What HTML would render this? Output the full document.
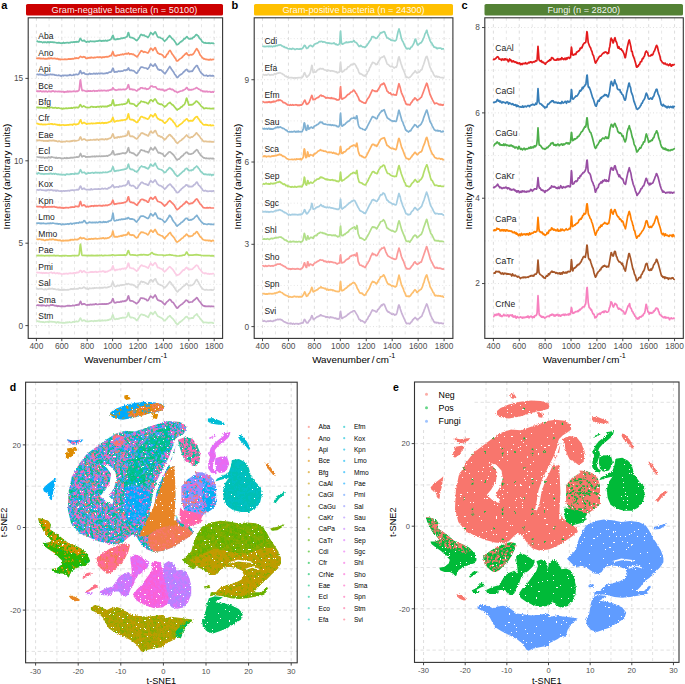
<!DOCTYPE html><html><head><meta charset="utf-8"><style>html,body{margin:0;padding:0;background:#fff;}svg{display:block;}text{font-family:"Liberation Sans", sans-serif;}</style></head><body>
<svg width="685" height="684" viewBox="0 0 685 684">
<rect width="685" height="684" fill="#fff"/>
<line x1="36.40" y1="17.8" x2="36.40" y2="338.4" stroke="#D4D4D4" stroke-width="0.8" stroke-dasharray="3,3.4"/>
<line x1="49.10" y1="17.8" x2="49.10" y2="338.4" stroke="#E0E0E0" stroke-width="0.8" stroke-dasharray="3,3.4"/>
<line x1="61.80" y1="17.8" x2="61.80" y2="338.4" stroke="#D4D4D4" stroke-width="0.8" stroke-dasharray="3,3.4"/>
<line x1="74.50" y1="17.8" x2="74.50" y2="338.4" stroke="#E0E0E0" stroke-width="0.8" stroke-dasharray="3,3.4"/>
<line x1="87.20" y1="17.8" x2="87.20" y2="338.4" stroke="#D4D4D4" stroke-width="0.8" stroke-dasharray="3,3.4"/>
<line x1="99.90" y1="17.8" x2="99.90" y2="338.4" stroke="#E0E0E0" stroke-width="0.8" stroke-dasharray="3,3.4"/>
<line x1="112.60" y1="17.8" x2="112.60" y2="338.4" stroke="#D4D4D4" stroke-width="0.8" stroke-dasharray="3,3.4"/>
<line x1="125.30" y1="17.8" x2="125.30" y2="338.4" stroke="#E0E0E0" stroke-width="0.8" stroke-dasharray="3,3.4"/>
<line x1="138.00" y1="17.8" x2="138.00" y2="338.4" stroke="#D4D4D4" stroke-width="0.8" stroke-dasharray="3,3.4"/>
<line x1="150.70" y1="17.8" x2="150.70" y2="338.4" stroke="#E0E0E0" stroke-width="0.8" stroke-dasharray="3,3.4"/>
<line x1="163.40" y1="17.8" x2="163.40" y2="338.4" stroke="#D4D4D4" stroke-width="0.8" stroke-dasharray="3,3.4"/>
<line x1="176.10" y1="17.8" x2="176.10" y2="338.4" stroke="#E0E0E0" stroke-width="0.8" stroke-dasharray="3,3.4"/>
<line x1="188.80" y1="17.8" x2="188.80" y2="338.4" stroke="#D4D4D4" stroke-width="0.8" stroke-dasharray="3,3.4"/>
<line x1="201.50" y1="17.8" x2="201.50" y2="338.4" stroke="#E0E0E0" stroke-width="0.8" stroke-dasharray="3,3.4"/>
<line x1="214.20" y1="17.8" x2="214.20" y2="338.4" stroke="#D4D4D4" stroke-width="0.8" stroke-dasharray="3,3.4"/>
<line x1="28.2" y1="325.60" x2="222.6" y2="325.60" stroke="#D4D4D4" stroke-width="0.8" stroke-dasharray="0.9,2.4"/>
<line x1="28.2" y1="243.20" x2="222.6" y2="243.20" stroke="#D4D4D4" stroke-width="0.8" stroke-dasharray="0.9,2.4"/>
<line x1="28.2" y1="160.80" x2="222.6" y2="160.80" stroke="#D4D4D4" stroke-width="0.8" stroke-dasharray="0.9,2.4"/>
<line x1="28.2" y1="78.40" x2="222.6" y2="78.40" stroke="#D4D4D4" stroke-width="0.8" stroke-dasharray="0.9,2.4"/>
<line x1="28.2" y1="284.40" x2="222.6" y2="284.40" stroke="#E0E0E0" stroke-width="0.8" stroke-dasharray="0.9,2.4"/>
<line x1="28.2" y1="202.00" x2="222.6" y2="202.00" stroke="#E0E0E0" stroke-width="0.8" stroke-dasharray="0.9,2.4"/>
<line x1="28.2" y1="119.60" x2="222.6" y2="119.60" stroke="#E0E0E0" stroke-width="0.8" stroke-dasharray="0.9,2.4"/>
<line x1="28.2" y1="37.20" x2="222.6" y2="37.20" stroke="#E0E0E0" stroke-width="0.8" stroke-dasharray="0.9,2.4"/>
<rect x="26" y="4" width="197" height="11.5" rx="1.6" fill="#CC0000"/>
<text x="124.5" y="13.1" font-size="9.2" fill="#fff" fill-opacity="0.95" text-anchor="middle">Gram-negative bacteria (n = 50100)</text>
<text x="1.2" y="8.7" font-size="11" font-weight="bold" fill="#000">a</text>
<path d="M36.4 41.3l.6 .0l.4 -.2l.6 .6l.9 .2l1.0 -.2l.6 .2l1.0 .0l1.3 .8l.6 -.5l.6 .0l.7 .3l.6 -.5l.3 .0l1.3 .7l.9 -.8l1.6 .7l.7 -.7l.6 .3l1.9 -.1l.6 .3l1.0 -.2l2.2 .6l.3 -.1l.7 .2l1.5 -.3l1.6 .6l1.3 .0l.3 -.2l.7 .2l.6 -.7l.9 .6l1.0 -.3l1.9 -.2l1.0 .0l.3 .4l.3 .0l.9 -.5l.7 .1l.6 -.6l1.0 .3l2.2 -.4l.6 .3l.7 -.4l.6 .3l.6 -.5l1.0 .2l.9 .0l.3 -.3l1.3 -3.1l.3 .0l1.3 2.3l1.0 .2l.9 -.3l.3 -.4l.3 .1l.7 1.0l1.6 .9l.9 -.8l1.0 .4l.3 -.2l.3 .2l.3 .0l.7 -.6l.6 .0l.6 .2l.7 -.1l.6 .2l.6 -.2l1.0 .3l.6 -.2l.7 .0l.9 -.4l1.3 .2l1.6 -.8l.6 .5l1.0 -.3l.6 .5l1.9 -.5l.9 .4l1.3 -.7l.6 .6l.7 -.2l.6 .1l.7 -.5l1.2 -.2l1.3 -.7l.9 -1.0l.7 -2.0l.6 -1.1l.3 .6l1.0 3.6l.6 -.3l.7 .4l1.9 -.7l.6 .4l.6 -.4l1.6 -.1l.7 -.5l.9 -.1l.6 .2l.4 -.4l.3 -.1l.3 .2l.6 -.3l.7 .1l.3 -.4l.6 -.1l1.0 -.7l.3 .0l.3 -.4l1.0 -3.7l.3 .0l.3 .9l.9 3.6l1.6 .6l.7 -.1l.6 .3l.3 .0l.7 .6l.6 .1l.9 .7l.7 .8l.9 .5l.3 -.1l1.0 -1.2l1.3 -1.8l.9 -2.0l1.0 -1.1l.6 .3l.6 .6l1.6 -.2l.4 .2l.6 .7l1.9 .6l.9 .9l.7 -.6l.9 -1.5l1.3 -2.8l.6 .4l1.6 1.7l.3 -.2l1.3 -2.0l.6 -.6l.4 .2l2.2 4.9l.6 .1l.7 .5l.6 -.3l.3 .1l1.3 1.0l1.2 .1l1.0 1.5l1.3 1.3l.6 -.9l1.3 -.9l1.2 -1.9l.7 -.5l.9 -1.4l.4 .0l.6 1.1l.9 .6l.7 1.2l.6 .2l.6 .8l.4 .1l1.9 2.7l.9 1.8l.7 .5l1.5 -.8l2.3 -2.4l.6 .2l.6 -.9l.7 -.4l1.2 -1.7l.7 .1l2.2 -2.2l.3 .3l.6 1.0l1.6 1.1l1.0 .0l.6 -.6l1.0 .3l.3 -.2l.9 -1.3l.7 .0l.3 -.2l1.6 -2.1l.9 -.4l.7 .9l.9 .5l1.0 2.3l1.9 1.7l.9 1.8l1.6 .9l.3 .3l.7 .1l.6 -.4l.6 .6l1.6 -.1l.7 .2l.6 -.4l1.3 .5l1.6 -.4l1.5 .4l.4 .0l.6 -.5" fill="none" stroke="#66C2A5" stroke-width="1.7" stroke-linejoin="round"/>
<text x="38.3" y="39.0" font-size="8.5" fill="#1a1a1a">Aba</text>
<path d="M36.4 57.8l.6 .5l2.3 -.1l.6 .4l.9 -.2l.7 .3l1.3 .0l.6 -.3l1.6 .6l.6 -.3l1.3 .2l.9 -.2l.7 -.5l.9 .5l.7 -.5l.6 .3l.6 -.5l1.6 .7l1.3 -.4l2.5 .6l1.0 -.4l.9 1.0l1.0 -.4l.6 .6l.6 -.4l1.3 .2l.7 -.1l.9 .1l1.3 -.4l.6 .3l1.9 -.1l1.3 -.4l.6 .3l.7 -.3l1.2 .2l.7 -.4l1.2 .2l1.0 -.5l.6 .1l.3 -.4l.4 .0l.3 .3l.6 -.5l.6 .4l.4 -.1l.9 .1l2.2 -1.9l1.6 1.0l1.6 -.7l.6 .5l.7 -.2l.9 1.3l1.0 .1l2.5 -.8l.3 .0l.4 .4l.3 .0l.6 -.8l.6 .5l.7 -.2l1.3 .3l.6 -.4l.9 .2l2.3 -.6l.3 .0l.6 .5l1.0 -.4l.9 .1l.7 -.1l.6 .7l.6 -.2l.7 -.6l.6 .3l.3 -.2l.6 .2l.4 -.3l1.9 -.3l.9 .3l.3 -.4l.7 .1l.3 -.1l1.6 -1.1l.6 .3l.3 -.2l1.3 -3.5l.3 -.4l1.0 3.2l.3 .7l.3 .1l.6 -.1l.4 .2l.9 .1l.3 -.5l.7 -.1l.3 -.3l1.6 .2l1.2 -.6l1.3 .0l.6 -.5l1.3 .5l1.0 -.7l.9 .1l.7 -.6l.9 .5l.3 .0l1.0 -.9l1.2 1.3l.7 -.5l.6 .2l.6 -.2l.7 .7l.9 -.4l.7 .6l1.9 1.3l.3 .0l.6 .8l.3 .0l.7 -.7l3.5 -5.5l.6 .5l.6 -.1l.7 .9l.6 .4l1.0 -.6l2.5 1.1l1.0 .1l2.5 -4.7l.3 .1l.3 .4l1.0 .7l.6 1.1l2.2 -2.9l.4 .3l.9 2.7l.6 .8l.7 1.7l.6 .1l1.6 1.0l.6 -.1l2.3 1.2l.9 1.4l1.0 .7l.6 -.1l1.9 -3.3l.6 -.1l1.0 -2.4l1.0 -1.0l.3 -.1l.9 1.5l1.3 2.4l.9 1.0l1.3 2.1l1.3 1.6l.6 1.7l.3 .3l1.0 -.1l1.9 -1.8l1.6 -1.0l1.3 -1.1l.9 -1.2l.6 -.4l.7 -1.0l.6 -.2l1.3 -1.3l.9 1.6l1.6 1.0l1.0 -.7l.9 -.3l.7 .4l.9 -.4l.6 -.5l1.0 -1.3l1.6 -2.8l.9 -1.3l1.6 2.3l1.9 4.3l1.0 .9l.6 1.1l.7 .4l1.2 1.4l.7 -.3l.9 .6l1.3 .0l.6 .4l.3 -.1l.7 .2l.6 -.1l.6 .3l.7 -.8l.9 .6l1.0 -.1l.6 -.3l1.0 .1l.6 -.2" fill="none" stroke="#FC8D62" stroke-width="1.7" stroke-linejoin="round"/>
<text x="38.3" y="55.5" font-size="8.5" fill="#1a1a1a">Ano</text>
<path d="M36.4 74.3l.6 .2l.4 -.2l.6 .3l.3 -.1l.6 .3l1.0 -.7l.6 .6l1.3 -.1l.6 .3l1.0 .1l1.6 .3l.3 .0l.6 -.5l.3 -.1l.4 .4l.3 -.1l.6 -.5l.6 .3l.7 -.2l.9 .1l.7 -.5l1.2 .4l.7 -.2l.6 .3l1.0 -.1l1.2 .6l1.0 -.2l.6 .4l1.0 .1l.6 -.3l1.9 .4l.3 .3l.7 -.2l.3 .3l.9 -.6l.4 .0l.6 .4l.3 -.4l.3 -.1l.3 .2l1.3 -.2l.6 .3l1.0 -.2l.6 .2l.4 -.2l.9 -.1l.6 -.6l.4 -.1l.6 .6l.3 .1l2.2 -.2l.7 -.6l.6 .5l1.6 -.8l1.3 .4l.9 -.2l.6 -.5l1.3 -3.1l.3 -.1l1.0 2.6l.3 .4l.6 -.7l.7 .2l.6 -.5l.3 .0l1.0 1.3l.6 .0l.3 .2l.7 .0l.6 .3l.3 -.2l.7 .2l.6 -.5l.3 .0l.6 -.7l1.0 .8l.6 -.3l.7 .2l.9 -.2l.7 -.4l.6 .4l.6 -.3l.7 .4l1.2 -.5l1.0 .5l.6 -.5l1.0 -.1l.6 .5l1.0 -.6l.6 .3l.6 -.2l.7 .3l.9 -.1l.3 .1l1.3 -.4l.6 .2l.7 -.5l.6 .4l.3 .0l1.6 -1.0l.6 -.2l1.3 .0l.3 -.4l1.0 -2.4l.6 -1.1l.3 .4l1.0 3.2l.3 .3l1.9 -.4l.6 .3l1.6 -1.0l1.3 .4l1.3 -.3l.9 .1l1.3 -.5l.9 -.7l1.0 .1l.3 .2l.3 .0l.7 -.6l.6 .3l.3 -.2l.7 -1.7l.3 -.2l1.2 2.4l1.9 -.2l.7 .5l.6 -.1l1.0 .3l1.6 1.7l.3 .1l.6 .6l.3 .1l1.0 -1.0l.6 -1.6l.7 -.2l.9 -2.0l.6 -.6l.4 -.7l.3 -.2l.3 .2l.6 .0l1.3 .3l1.0 .5l1.2 .0l1.0 .3l.9 .8l.3 .0l1.6 -2.2l1.0 -2.6l.3 -.3l.6 .9l1.9 1.3l.4 -.2l.9 -1.5l.6 -.6l1.0 2.0l.6 .7l.7 1.8l.6 .9l.3 .3l.7 -.2l.6 .8l.6 -.4l1.0 .3l2.5 2.5l.7 .9l.6 .3l2.2 -3.2l1.0 -1.7l1.6 -2.4l.6 1.1l.6 .7l.7 1.3l2.2 3.0l.9 1.9l.7 .4l1.2 2.1l.7 .5l.3 .0l1.6 -2.1l.6 -.2l.6 -.6l.7 -.2l1.3 -1.1l1.2 -1.6l.7 -.1l.9 -1.4l1.3 -.8l.3 .0l.3 .4l.6 1.2l.7 .2l.6 .6l.7 -.4l1.2 .0l.7 -.3l.6 .2l2.5 -3.9l.7 -.5l.6 -1.0l.6 -.4l.7 .3l.6 1.7l1.0 1.4l.6 1.7l1.3 2.0l1.2 1.3l.7 .3l.9 1.2l1.6 .2l.6 -.1l.7 -.3l.9 1.0l.3 -.1l.4 -.3l.6 .1l.6 -.4l.7 -.1l.6 .6l.6 -.3l.7 .2l.6 -.4l.6 .5l1.0 -.2" fill="none" stroke="#8DA0CB" stroke-width="1.7" stroke-linejoin="round"/>
<text x="38.3" y="72.0" font-size="8.5" fill="#1a1a1a">Api</text>
<path d="M36.4 90.8l1.0 .7l.6 -.3l1.6 .2l.6 -.5l.3 .0l1.0 .7l.6 -.2l.7 .3l.6 -.5l.6 .4l.7 -.2l.6 .2l.9 -.5l.4 .4l.9 .4l1.0 -.7l.6 .3l.3 -.2l.7 .3l.9 -.2l.6 .2l.7 -.6l.9 -.1l1.6 .9l1.0 -.6l1.9 .5l.6 -.4l.6 .3l1.0 -.2l1.3 .4l1.2 -.1l.4 .1l.6 -.3l.9 .8l.7 -.4l1.9 -.3l.3 .2l.6 -.6l.7 .6l.9 -.5l.7 .4l.6 -.3l.9 .2l1.0 -.2l.6 -.2l1.3 .1l1.0 .3l.6 -.4l1.3 .2l.6 -.6l.6 .1l.3 -.5l.4 -1.3l.9 -8.5l.3 -.7l1.0 7.7l.6 2.9l.3 .1l1.0 -.2l.6 .1l1.9 .8l1.0 -.2l.9 .2l.7 -.5l.6 .4l1.3 -.3l1.6 .4l1.6 -.8l1.2 .8l1.3 -.5l.9 .3l.7 -.3l.6 -.1l.3 -.3l.3 .0l.7 .5l1.9 -.5l1.3 .4l.6 -.3l.6 -.1l2.6 .4l.9 -.4l.7 .4l1.2 -.7l.7 .0l.6 -.6l.6 .3l1.0 -.8l.6 -1.3l1.3 1.9l1.3 .2l.6 .5l.6 -.3l1.0 .0l.6 -.6l.7 .2l1.2 -.2l.7 .3l.9 .0l1.3 -.5l1.2 .4l2.0 -.6l.6 -.8l.3 -.1l1.0 -3.3l.3 -.1l1.2 4.6l.4 .2l.9 -.5l1.0 .6l.6 -.3l.6 .5l.4 -.2l.9 .0l1.9 1.3l1.0 -.3l.6 -.9l.6 -.4l.4 -.1l.3 .2l.3 .0l.6 -1.1l.7 -.5l.3 .0l.3 .2l.6 -.3l.7 .8l.6 -.2l1.3 .4l.6 -.6l1.3 1.2l.6 -.3l.6 .2l1.0 -.7l.6 -.1l1.3 -2.2l.3 -.2l1.0 .0l1.2 1.0l1.9 -.2l.4 .1l.6 .4l.6 1.1l1.0 .7l.6 .2l1.0 -.1l.9 .2l.7 .5l1.2 -.7l1.0 1.1l.6 -.1l.7 .6l.3 .0l.6 -.6l.6 .2l.4 .0l1.2 -1.1l1.3 -.3l1.0 -.6l.6 .7l.9 .5l.7 -.3l.3 .0l1.9 1.4l.6 .7l1.0 -.1l1.6 1.3l1.6 -.9l.6 -.1l1.3 -.6l1.2 .0l.7 -.8l.9 .1l.7 -.8l.9 -.3l1.3 -1.6l.3 -.1l.3 .3l1.0 1.8l.6 .3l.6 -.3l1.0 .4l.3 -.3l.3 -.1l.3 .3l.7 -.3l1.2 -.2l.4 -.4l1.2 -.3l.4 -.3l1.5 -.8l1.9 1.5l1.3 .4l1.0 1.2l.6 -.1l1.0 .5l.6 .6l.6 -.6l.7 .6l.6 -.3l.9 .4l1.0 -.6l.3 .1l.6 .6l2.0 -.4l.9 .7l1.0 -.1l.6 -.4l.9 .5l.7 -.5l.3 .3" fill="none" stroke="#E78AC3" stroke-width="1.7" stroke-linejoin="round"/>
<text x="38.3" y="88.5" font-size="8.5" fill="#1a1a1a">Bce</text>
<path d="M36.4 107.2l1.0 .2l.6 .4l.6 -.4l.7 .2l.9 -.1l.6 .3l1.0 -.3l1.0 .5l.9 -.1l.6 -.3l1.3 .4l.6 -.2l.7 .5l.9 -1.0l1.3 .5l.6 .0l1.0 -.3l1.3 -.1l.6 .5l.6 -.1l1.0 .2l1.2 -.5l1.0 .6l1.3 .0l.6 -.3l2.2 .7l.7 -.2l1.2 .7l1.0 -.7l.6 .4l.3 -.2l1.9 -.3l1.3 .3l1.0 -.4l.9 -.1l.7 .2l.6 -.1l.6 -.4l.7 .5l.3 .0l.9 -.6l1.0 .1l.6 -.3l.7 .4l.9 -.5l1.0 .4l.3 -.3l.6 .3l.6 -.7l1.0 -1.9l.3 -.4l.3 -.1l1.3 2.3l.6 .0l1.3 -1.0l2.5 1.6l1.3 -.1l.3 .2l2.3 -.2l.9 -.9l.3 .0l1.0 .1l.9 .6l.7 -.4l.6 .2l1.0 .1l.6 -.2l.6 .2l.7 -.5l.6 .2l.9 -.2l.7 .3l.9 -.6l.4 .0l.6 .7l.6 -.6l1.0 -.1l.9 .5l.7 -.4l.6 .2l.6 -.2l1.3 .3l1.0 -1.0l.6 .4l1.3 -1.2l.9 .5l.3 -.3l.7 -1.7l.6 -2.9l.3 -.7l.3 .8l1.0 4.7l.3 .3l1.0 -.2l.6 -.5l.6 .4l1.6 -.5l.7 .1l.6 -.3l1.6 -.1l.6 -.3l.6 .4l.7 -.5l1.2 .0l.7 -.3l.6 .1l1.3 -.9l.6 -1.1l.7 -2.5l.3 -.2l1.2 4.0l.4 .4l.3 .1l.9 -.2l.7 .5l.6 -.3l.6 .3l.7 .0l.6 .9l1.0 .5l.6 .8l.6 .1l.3 -.2l1.3 -1.9l1.6 -1.3l1.3 -1.8l.6 .4l1.6 .4l.3 -.2l.3 .1l.7 .6l.6 -.1l1.0 .2l.9 .9l1.0 .4l1.9 -3.3l.6 -.6l.3 -.2l.7 .8l.6 .1l.6 .9l1.6 -2.2l.6 -.4l1.0 1.3l.9 2.0l1.0 1.3l.6 -.2l.7 .8l.6 .0l.6 .3l.7 -.3l1.2 .6l.7 .8l.9 .6l.7 .9l.9 -1.0l1.0 -.4l.9 -1.5l2.3 -1.6l.3 -.1l.6 1.0l.6 .3l1.0 1.2l.6 .0l4.2 5.1l.9 -.8l.6 -.1l1.6 -1.1l.7 -.9l1.2 -.5l1.3 -1.6l.6 -.2l.4 -.3l.9 -1.9l1.0 -3.8l.3 -.6l.3 .3l1.9 6.6l.6 -.2l.7 .1l.6 -.4l.6 .3l.7 -.4l.6 .2l1.6 -1.6l.6 -.2l1.0 -1.6l.9 -.2l1.9 1.7l1.0 1.4l.6 .5l.7 1.2l.3 .1l.6 .6l1.0 .7l.9 1.2l.3 .1l.7 -.3l.3 .1l.6 -.3l.7 -.1l.6 .2l.3 .3l.3 .0l.3 -.2l.7 .2l.9 -.2l.7 .3l1.9 .1l.6 -.2l.3 -.2l1.3 .3" fill="none" stroke="#A6D854" stroke-width="1.7" stroke-linejoin="round"/>
<text x="38.3" y="104.9" font-size="8.5" fill="#1a1a1a">Bfg</text>
<path d="M36.4 123.7l.6 -.2l.4 .2l.6 .0l.6 .4l.3 .0l.7 .2l.6 -.1l.6 .3l.4 -.1l.3 -.4l.3 .0l.3 .4l1.0 .3l.9 -.4l1.0 .3l.9 -.2l.7 .1l2.2 -.5l.6 .3l1.6 -.5l.6 .3l.7 -.2l.6 .6l.3 .0l1.3 -.5l.6 .4l.7 .0l.6 .3l1.0 -.2l.6 .7l1.3 -.6l.6 .8l.6 -.3l.7 .2l.6 -.4l.6 .1l.7 -.1l1.2 .4l.7 -.3l.9 .2l2.3 -.4l.6 .3l.6 -.5l1.0 -.1l.6 .1l1.0 -.1l.6 .5l.9 -.9l.4 .3l.6 -.4l.3 .0l.7 .6l.3 .0l.6 -.2l.3 .1l.7 -.4l1.2 -.2l1.9 -4.1l.3 .5l1.0 2.9l.3 .3l.7 -.5l.6 -.1l.6 -.6l.7 .7l1.2 .6l.7 .6l1.2 -.5l2.3 .0l1.2 -.5l1.3 .5l.6 -.4l1.6 .2l.7 -.3l.6 .3l.9 -.6l1.0 .3l1.6 -.3l.9 .5l1.0 -.5l1.3 -.2l.6 .6l.6 -.4l.7 .2l.6 -.4l.6 .4l1.3 -.5l.6 .1l1.0 -.6l.9 -.1l.7 -.6l.6 .1l.3 -.3l1.6 -3.8l1.3 4.3l.3 .3l1.6 -.9l.9 -.3l1.3 .2l.7 -.3l1.2 .0l.7 -.4l1.2 -.2l.7 .3l.6 -.4l1.3 -.2l.9 .1l.7 -.7l.6 -.5l.3 -.5l1.0 -4.1l.3 -.3l.9 4.3l.3 .9l.4 .4l1.2 .4l.7 -.4l.6 .5l.3 .1l.3 -.1l.4 .1l.3 .7l.3 .2l.3 -.2l1.9 1.6l.6 .1l.4 -.1l1.2 -2.0l.7 -.4l.6 -1.7l1.3 -1.7l.9 .1l1.6 1.1l.7 -.1l1.9 1.1l.6 .0l.6 .5l1.0 -.4l.3 -.4l1.9 -3.5l1.6 .9l.6 1.1l1.0 -1.1l1.2 -2.0l1.0 1.7l.6 1.6l1.0 1.3l.6 .3l1.3 1.1l.6 -.1l.3 .3l.7 .2l.3 .3l.6 -.1l1.3 1.6l1.3 1.2l.6 -.3l1.0 -1.1l.9 -.7l1.3 -2.0l1.3 -1.0l.9 .6l.6 1.1l1.0 .4l.6 1.2l1.0 1.2l.6 .4l1.9 3.4l.3 .2l1.3 -.1l1.0 -1.2l2.8 -1.9l2.2 -2.4l.7 -.2l.6 -.9l1.3 -1.0l.3 .0l.9 1.0l.7 1.0l1.6 -.1l.6 .2l.6 -.3l1.0 .2l.3 .0l2.6 -3.3l.9 -.8l1.0 -.2l.3 .2l.6 1.4l.6 .4l.7 1.3l1.2 2.0l.7 .4l1.9 2.2l.6 .3l1.0 .1l1.2 -.3l1.0 .5l.3 -.2l.3 .0l1.3 .6l1.3 -.6l.3 .0l.6 .8l1.3 -.5l.9 .3l1.0 -.3" fill="none" stroke="#FFD92F" stroke-width="1.7" stroke-linejoin="round"/>
<text x="38.3" y="121.4" font-size="8.5" fill="#1a1a1a">Cfr</text>
<path d="M36.4 140.2l.6 .0l.7 .5l.3 -.4l.3 .0l.3 .1l1.0 -.3l.6 .4l1.3 .2l1.3 -.1l.9 .5l1.3 -.4l1.2 .4l.7 -.5l.9 .6l1.3 -.7l.3 .2l.7 -.2l.6 .2l.3 -.2l.6 .3l1.0 -.4l.6 .3l.7 -.4l.6 .5l.6 -.1l.7 .4l.6 -.2l1.6 .8l.6 -.6l.7 -.1l.3 .0l.6 .6l.6 .2l1.0 -.2l.6 .3l1.0 -.4l.6 .2l1.6 -.1l.6 -.5l1.0 .1l.6 .3l1.0 -.1l.6 .2l.7 -.4l.9 .2l.6 -.6l.7 .4l.9 -.7l.7 .3l.9 -.2l1.6 .2l2.2 -.6l.3 -.2l1.3 -2.9l.3 -.2l.3 .4l.7 2.2l.3 .4l1.0 -.3l.6 -.5l1.3 .0l1.2 1.1l1.0 .2l.9 .0l1.0 -.4l1.3 .1l.6 -.4l.9 .3l1.0 .0l1.3 -.5l.6 .5l.3 -.1l.3 -.3l.4 .0l.3 .3l1.2 -.7l1.0 .4l.6 .5l.3 -.1l.7 -.7l.9 .2l.7 -.4l.6 .3l.6 -.3l.7 .4l.6 -.2l.6 .4l.4 -.1l.9 -.8l.3 .0l.7 .7l.3 .1l.3 -.1l.6 -.6l.7 -.1l.6 -.5l1.0 .1l1.2 -1.0l1.3 -3.1l.3 -.4l.3 .6l1.0 3.3l.3 .4l1.9 -.9l.6 .6l1.0 -1.0l1.0 .2l.6 .3l.9 -.7l1.0 .2l.3 .0l.6 -.5l1.6 -.1l.3 -.2l.7 .2l.9 -.5l.7 -.6l.3 .2l.3 -.3l1.0 -4.0l.3 -.1l1.2 4.8l.7 .5l.3 .0l1.6 -.2l.6 .6l.7 .0l1.2 1.1l1.9 1.1l1.0 -.8l.9 -1.6l1.0 -.8l1.6 -2.6l.6 -.1l.6 .3l.4 -.2l.6 .6l.6 .0l.7 .8l.6 -.1l.6 .5l.7 -.2l.6 .8l1.0 .5l.3 -.2l.6 -1.8l1.6 -2.8l.3 -.1l.3 .2l.7 1.3l.9 .2l.7 -.2l.6 -1.2l.9 -.9l.4 .1l.3 .5l.6 1.8l1.6 2.7l.3 .3l.7 -.1l.9 .3l.6 .9l1.0 -.3l2.5 2.3l.7 .9l.6 -.9l.6 -.2l1.6 -2.4l.3 .0l1.6 -1.7l1.0 .2l.6 1.3l.7 .0l1.2 1.8l1.0 .7l2.2 3.5l1.3 1.2l.3 -.1l.6 -.9l1.3 -1.0l.6 -.7l1.3 -.5l.6 -.9l1.3 -.8l3.2 -3.5l1.9 2.3l.6 .0l1.0 .6l1.2 -1.0l.7 .3l1.2 -.8l.7 -.9l.6 -.2l1.9 -2.4l.3 .0l1.0 1.5l1.9 2.0l1.3 2.1l.9 .6l1.0 1.6l1.2 .9l.7 -.3l.6 .1l.6 -.2l1.0 .4l1.6 -.1l.6 .4l.7 -.5l.6 .4l.6 -.2l.7 .4l.9 -.3l.6 .3l1.0 -.3" fill="none" stroke="#E5C494" stroke-width="1.7" stroke-linejoin="round"/>
<text x="38.3" y="137.9" font-size="8.5" fill="#1a1a1a">Eae</text>
<path d="M36.4 156.7l2.2 .6l.7 -.2l.3 .2l.6 -.1l1.0 .4l.6 -.2l.6 .2l.4 -.2l.6 .1l.3 -.2l1.0 .8l.6 -.4l.9 -.1l1.3 .3l1.0 -.9l.3 .3l.9 .0l.7 .5l.3 -.1l.6 -.9l.7 .4l.3 -.2l1.9 .7l.9 -.2l.7 .6l.6 -.6l1.0 .7l1.2 -.3l.7 .1l.3 -.2l.6 .3l.6 .1l.7 .4l.6 -.4l.7 .3l.6 .0l.9 -.6l1.9 .4l.7 -.6l.9 .6l.7 -.2l.6 .1l1.3 -.6l.9 .2l.7 -.4l.6 .4l.9 -.2l.7 -.4l.6 .3l2.2 -.6l.7 .3l1.2 -.2l1.6 -3.5l.3 .5l1.0 2.6l.3 .2l.7 -.5l1.2 -.4l.3 .2l1.0 .2l.6 .9l.7 -.4l.6 .3l.6 -.3l.4 .2l.6 -.3l1.3 .3l.9 -.5l.6 .2l.7 -.3l.6 .2l1.6 -.4l.6 .6l1.3 -.6l1.6 .3l.3 -.2l.3 .1l.7 -.4l.6 .4l.3 -.1l.7 .2l.9 -.5l1.3 .3l.6 -.3l1.3 .2l1.6 -.5l.9 .4l.7 -.5l1.5 -.6l1.6 -1.1l1.6 -3.2l.3 .4l1.0 3.5l.9 .2l2.3 -.7l.6 .3l1.0 -.7l.6 .4l.6 -.6l.7 .2l1.5 -.6l.7 .2l.6 -.3l.6 .4l.4 .0l.3 -.3l.6 .2l1.6 -1.7l1.0 -3.6l.3 -.3l1.2 4.7l.7 -.1l1.9 1.0l.6 -.3l.7 .3l.3 .2l.6 1.0l1.0 .2l.6 .9l.6 -.1l.3 .1l.4 -.2l.6 -1.2l.6 -.6l1.3 -1.9l.6 -1.3l.7 -.6l.3 .0l.6 .5l1.3 .4l1.0 -.1l.6 .8l.9 .2l.7 .0l.6 .4l.3 -.1l.3 .2l.4 .6l.3 -.1l2.2 -4.7l.3 .0l1.3 1.6l.9 .4l1.0 -1.4l.6 -1.4l.3 .0l3.2 5.8l1.0 -.3l1.2 .4l.7 .6l.9 .1l.7 .4l1.2 1.9l.7 .5l.3 -.2l1.9 -2.3l.6 -.2l.7 -1.1l.9 -.7l1.0 -.2l3.5 3.2l2.5 3.8l.6 .6l.4 .6l.3 .0l.9 -1.0l.7 .1l1.5 -1.6l.4 -.6l.3 -.2l.3 .2l.6 -.9l1.0 -.5l.9 -1.5l.7 -.2l.9 -1.0l.7 -.5l.3 -.1l.6 .2l1.3 1.6l2.2 .1l2.5 -.9l.7 -1.1l.6 -.2l.7 -1.0l.3 -.1l1.2 -1.2l1.0 .8l.9 2.1l.4 .5l.6 .4l.9 1.8l1.3 .9l.7 .9l.6 .2l.6 .7l1.0 .0l.9 .5l1.0 -.3l.6 .4l1.3 -.1l.6 .4l.7 -.4l.6 -.1l1.6 .3l.6 -.2l.6 .4l.4 -.1l.6 -.5" fill="none" stroke="#B3B3B3" stroke-width="1.7" stroke-linejoin="round"/>
<text x="38.3" y="154.4" font-size="8.5" fill="#1a1a1a">Ecl</text>
<path d="M36.4 173.2l1.0 .7l.9 -1.1l1.0 .6l.6 .1l.6 .4l1.0 -.2l.6 .2l.7 -.2l1.2 .6l1.0 -.5l.6 .2l.3 -.2l3.2 .1l1.3 -.3l.6 -.4l.6 .7l.4 -.1l.6 .3l.9 -.5l.4 .0l.6 .6l.6 -.5l.7 .0l1.6 .7l.3 .0l.3 -.3l2.2 .5l.3 -.2l.7 .3l.3 -.1l.6 .3l1.3 -.4l.6 .3l1.0 -.1l.6 .4l.6 -1.0l1.0 .0l.6 .3l.4 -.1l.9 .1l.6 -.2l.4 .2l.3 -.1l.3 -.5l.3 .0l.3 .4l.7 -.4l.6 .2l.3 -.2l1.3 .5l.3 -.1l.6 -.9l.7 .3l.3 -.1l.6 .4l.7 -.4l.6 .3l.9 -.6l1.6 -3.5l1.6 3.1l2.2 -.6l.7 .8l1.2 1.0l.7 -.5l.6 .0l.7 -.8l.6 .4l.6 -.1l.7 .1l2.5 -.6l.3 .1l.7 .6l1.9 -.8l.6 .4l.6 -.3l.7 .0l.3 .3l.6 -.2l1.3 .3l.9 -.4l1.6 .3l1.0 -.7l.6 .4l1.0 .0l.6 -.3l1.3 .3l.6 -.2l.3 .1l.7 -.5l.6 -.1l.6 -.5l.7 .2l1.2 -.8l1.6 -4.0l.3 .5l1.0 3.6l.3 .5l.3 .1l1.0 -.6l.6 .2l.6 -.5l.4 .2l.9 .0l.7 -.4l1.5 -.1l.7 -.4l.6 .2l1.0 -.5l.6 .1l.3 -.3l.6 .1l.7 -.3l.6 .0l.3 -.3l.7 -.1l.3 -.3l.6 -1.4l.7 -2.4l.3 -.4l1.2 4.4l.4 .3l.3 .0l.6 .6l.3 -.2l1.3 .0l.6 .7l1.0 .3l.6 .9l.7 .3l.6 -.1l.6 .6l.3 -.2l1.6 -1.9l1.3 -2.4l1.6 -1.5l1.3 .9l1.6 -.1l.6 .8l.6 -.2l.7 .8l.6 .0l.9 .6l.4 .0l.9 -1.3l1.3 -3.0l.3 -.3l1.6 1.6l1.3 .1l.6 -1.5l.9 -1.2l.4 .4l.3 1.0l1.9 3.5l.9 .9l.7 .0l.3 .3l1.9 .5l1.6 1.1l1.3 1.7l.3 .0l1.2 -.7l1.0 -1.5l1.6 -1.5l.6 -1.0l.7 -.3l2.2 1.9l.6 1.0l1.0 .9l.9 1.9l.6 .6l.7 1.0l.3 .2l.3 .0l.7 1.2l.3 .1l1.6 -1.1l1.2 -1.4l.7 -.4l.6 -.8l1.0 -.6l.6 -.8l.9 -.4l1.3 -1.8l.6 -.3l.7 -.5l.9 .5l1.0 1.7l.6 -.1l.3 .2l1.3 -.3l.6 .3l.7 -.6l.9 -.3l.3 .1l1.0 -1.7l.6 -.3l1.9 -1.8l1.3 1.3l.6 1.2l.4 .1l1.9 3.2l.6 .0l2.2 2.4l.3 .1l.4 -.2l.6 .4l.6 -.4l1.6 .7l1.3 -.5l.6 .7l.3 -.1l.4 -.5l.3 -.1l.3 .2l.6 .1l.7 .9l.6 -.7l.6 -.2l.7 .3l.6 .0" fill="none" stroke="#8DD3C7" stroke-width="1.7" stroke-linejoin="round"/>
<text x="38.3" y="170.9" font-size="8.5" fill="#1a1a1a">Eco</text>
<path d="M36.4 189.6l.6 .3l.7 -.1l.6 .3l1.0 -.1l.6 -.4l.3 .1l.6 .0l1.0 .5l.6 -.2l1.9 .4l.7 -.1l.6 .4l.6 -.6l.4 .5l.3 .0l1.2 -.8l.4 -.1l.9 .5l1.0 -.1l.6 -.4l1.9 .7l.3 .3l.3 .0l.7 -.3l1.2 -.1l.7 .8l.6 -.8l.3 .0l.7 .4l.6 -.2l.3 .3l1.9 .3l.7 -.2l.9 .3l1.3 -.4l.6 .3l1.6 -.3l1.0 .2l.3 -.2l1.3 -.2l.6 .0l.6 .3l1.0 -.6l1.9 -.2l.9 .1l.7 .4l.6 -.6l1.6 .0l.9 -.5l.4 .0l.6 .5l.9 -.6l1.0 -2.5l.6 -.8l.3 .3l1.0 2.5l.3 .4l1.9 -1.1l.7 .7l1.9 .9l.6 -.2l1.3 -.1l.6 .3l.6 -.3l.7 .3l.6 -.8l.3 -.1l.7 .8l2.5 -.7l.6 .2l1.6 -.2l.7 .2l.9 -.3l1.9 .3l.7 -.1l.9 -.6l.6 -.1l1.0 .6l1.9 -.7l.6 .5l1.0 .1l.9 -.1l.7 -1.0l.3 -.2l.6 .4l1.0 -.9l.9 -.3l1.0 -1.7l.3 -.1l.3 .1l.3 .4l1.0 2.2l.6 -.5l.3 .1l1.3 -.5l1.0 .2l.6 -.2l.6 .4l1.0 -1.1l.3 .0l.3 .3l.7 -.1l.6 .2l1.9 -.9l.9 .1l1.0 -.2l1.9 -1.4l1.0 -3.3l.3 .0l1.2 4.3l.4 .4l.6 -.1l.9 .5l.4 -.2l1.6 -.1l.6 .9l.6 .2l.3 .4l.7 1.1l1.2 .2l.4 .0l.9 -1.9l1.3 -1.8l.6 -.6l.7 -1.2l.6 -.6l.6 .2l.3 -.1l1.3 1.1l1.3 .3l.9 .6l.7 -.2l.9 .9l.7 .2l.3 -.2l.9 -2.2l1.3 -2.2l1.9 1.8l.3 .0l2.2 -2.6l1.0 1.5l1.3 2.7l.9 .5l.7 .8l.3 .2l.9 .0l1.0 .5l.6 .5l.3 -.1l.3 .2l2.3 2.6l.9 -1.2l.7 -.3l1.2 -1.8l1.3 -1.0l1.0 -1.0l.3 .1l1.2 1.2l.7 1.2l1.2 1.0l1.0 1.1l.6 1.3l1.0 1.0l.6 1.2l1.0 .6l.6 -.2l1.0 -.7l.9 -1.4l1.0 -.6l.6 -1.1l1.0 -.4l.6 -.9l.6 -.2l1.6 -1.3l.6 -1.0l1.3 .3l1.3 1.4l.3 .1l.3 -.3l.3 .0l1.0 .3l.6 -.3l.7 .2l.9 -.2l1.3 -1.5l.9 -.4l1.3 -1.8l.6 -.6l.4 .0l1.5 3.0l1.0 .8l.9 1.1l.7 1.0l.6 .4l.7 1.6l1.5 .9l.4 .1l.9 -.6l1.6 .9l.3 -.2l1.0 .2l1.6 -.3l1.2 .2l.7 .3l.6 -.5l.6 .2l.7 -.3l.6 .0" fill="none" stroke="#BEBADA" stroke-width="1.7" stroke-linejoin="round"/>
<text x="38.3" y="187.3" font-size="8.5" fill="#1a1a1a">Kox</text>
<path d="M36.4 206.1l.6 .6l.7 -.2l1.6 .2l.3 -.1l.6 .1l.6 .0l.7 .3l.6 -.2l.7 .8l.3 -.1l.6 -.9l2.5 .6l1.0 -.4l1.9 .0l.6 .2l1.9 -.4l1.3 .2l1.3 -.3l.9 .7l1.0 -.1l1.9 .5l1.9 -.3l1.3 .7l.3 -.1l.3 -.4l.3 .1l.3 .4l1.0 .2l.6 -.5l.7 .3l.6 -.4l.6 .2l.7 -.3l1.9 .4l.6 -.4l.6 .0l.7 -.3l.9 .1l.7 -.4l.6 .3l.9 -.2l1.0 .2l1.0 -1.0l.6 .3l.9 -.2l1.0 .5l.9 -.4l1.3 -4.6l.3 -.3l1.3 4.2l.6 -.1l.4 .1l.9 -.8l.3 .0l.7 .4l.9 1.2l.3 .2l.3 -.2l.7 .4l.6 -.5l.7 .1l.3 .3l1.2 -.5l.7 .1l.6 -.6l.6 .4l1.3 -.4l.7 .5l1.2 -.8l.7 .4l1.2 -.2l.7 .3l.9 -.5l.6 .2l1.3 -.1l1.0 .4l.9 -.4l.7 .3l.6 -.6l1.3 .4l.9 -.5l1.3 .2l.3 .2l1.6 -.8l.6 -.1l.7 -.5l1.2 -.5l1.6 -3.5l1.0 3.2l.3 .7l.3 .2l.3 .0l.7 -.5l.6 .3l.9 -.5l1.6 -.1l.4 -.3l.3 .0l.6 .3l1.3 -.5l.6 .1l.6 -.2l.7 .1l.6 -.4l1.0 -.2l.6 .1l1.9 -1.8l.6 -2.8l.4 -.9l.3 -.2l1.2 4.7l.4 .4l.6 .4l.9 -.1l1.0 .6l1.0 -.3l.6 .9l.6 .2l1.9 1.6l.3 .1l1.0 -1.7l1.9 -2.4l.6 -1.2l1.0 -.6l.9 .0l1.0 .2l.6 .7l.7 -.1l1.6 .7l.6 .4l.6 .9l.7 .0l.3 -.2l.3 -.7l.9 -2.5l1.0 -1.4l.6 .4l.7 1.0l.9 .5l.7 -1.1l.6 -.3l.9 -1.2l.4 .2l.6 1.6l1.6 2.8l3.8 1.5l3.2 3.3l.6 -1.0l.6 -.2l.7 -.8l.6 -.3l.3 -.7l1.0 -1.3l1.3 -1.1l1.2 1.1l.7 1.0l.6 .3l1.9 2.0l1.9 3.4l1.0 1.1l.3 .1l1.9 -1.5l.6 -.9l1.0 -.9l1.2 -.7l1.0 -1.3l.6 -.2l.3 -.5l.7 -.3l1.6 -2.0l.3 .1l.9 1.1l1.6 1.2l1.3 -.1l.9 -.6l.7 .3l.6 -.3l1.3 -1.4l.6 -.4l1.0 -1.6l1.2 -.8l.7 .6l2.8 4.6l1.3 1.1l1.9 2.5l1.9 .3l1.9 -.4l.6 .3l1.3 -.1l.7 -.2l.9 .3l3.5 .1" fill="none" stroke="#FB8072" stroke-width="1.7" stroke-linejoin="round"/>
<text x="38.3" y="203.8" font-size="8.5" fill="#1a1a1a">Kpn</text>
<path d="M36.4 222.6l1.0 .8l1.2 -.4l1.0 .4l.6 -.3l.6 .5l.4 .0l.6 -.5l.6 .4l1.3 -.3l1.6 .5l1.6 -.1l.9 -.3l.7 .1l.3 -.1l.6 .2l1.0 -.4l.9 .2l.3 .2l1.0 -.5l.3 .0l2.5 .7l1.3 -.2l.3 .3l.7 -.1l.6 .4l.6 -.2l1.3 -.1l1.0 .8l.3 .0l.6 -.1l.7 -.5l.6 .5l.6 -.3l.7 .2l.9 -.3l.3 .1l.7 -.2l.6 .1l.6 -.3l1.0 .5l1.9 -1.0l.6 .3l.3 .4l.4 .1l.6 -.6l1.3 -.2l.6 .3l.6 -.5l.4 -.1l.6 .3l.9 -.5l.7 .2l.6 -.1l.3 .2l.3 -.3l.4 -.6l.3 -.1l.6 .4l.6 .1l.7 -.4l.6 .5l1.3 -1.1l.6 -1.1l.7 .2l.6 1.2l1.3 1.4l1.6 -.4l.9 -.7l2.2 .5l1.0 -.3l.9 .2l1.0 -.3l.9 .5l.4 -.1l.6 -.5l.3 .2l1.3 .3l1.2 -.7l.7 .0l.3 -.3l.6 .6l.7 -.2l.6 .4l.6 .0l1.0 -.8l.3 .0l.6 .6l1.0 -.4l1.3 .4l.9 -.7l.7 .2l.6 -.6l.9 -.2l.7 -.4l.6 .0l.3 -.4l.7 -2.2l.9 -4.9l.3 1.2l.7 4.9l.3 1.4l.3 .2l1.6 -.3l.6 -.5l1.0 .3l.3 -.1l1.3 -.7l.9 .3l1.6 -.7l.3 .0l.7 .4l.9 -.5l.3 .2l1.0 .0l1.3 -.9l.3 .0l.6 .4l.3 -.1l.7 -1.0l.3 -.1l.6 .9l1.0 .8l.6 -.4l.6 .3l.7 -.2l.9 .4l.3 .0l1.0 .3l1.6 1.9l.9 .5l1.0 -1.6l.9 -.8l1.9 -3.2l1.3 -.3l1.3 .0l1.9 1.0l.6 .0l.3 .5l1.3 .7l1.0 .0l.6 -.6l1.9 -4.0l2.2 2.2l.3 -.1l.7 -1.2l.6 -.4l.6 -1.3l.4 .3l2.5 5.1l1.0 .1l.6 .4l.6 -.1l.7 .5l1.2 .3l2.6 2.9l1.9 -1.9l.6 -1.3l1.6 -2.3l.6 -1.5l.4 .0l1.9 2.4l.6 1.7l1.3 2.0l1.5 1.7l1.0 1.9l1.0 1.0l.6 -.7l.9 -.4l1.0 -1.0l.9 -.4l.7 -1.2l1.3 -.4l.9 -1.2l.6 -.3l.7 -1.2l.6 -.3l.6 -.6l1.3 -.1l1.0 1.5l.6 .4l1.0 -.1l.9 -.4l1.0 .1l1.2 -.7l1.3 -1.0l1.0 -1.3l.9 -.7l.6 -.8l.4 .2l.6 1.3l.6 .7l1.3 2.2l.6 .4l1.0 1.6l1.9 1.6l.6 .8l.7 -.3l2.5 .7l.6 -.3l.3 .1l.7 -.4l.6 .1l.7 .1l.6 .4l.6 -.4l1.0 .4l1.2 -.3l1.0 .4" fill="none" stroke="#80B1D3" stroke-width="1.7" stroke-linejoin="round"/>
<text x="38.3" y="220.3" font-size="8.5" fill="#1a1a1a">Lmo</text>
<path d="M36.4 239.1l1.6 .3l.6 .0l.7 -.4l1.2 .5l.7 -.1l.6 .4l.3 .0l.3 -.3l1.0 .1l.9 .9l.4 .0l.6 -.1l.6 -.5l.7 -.2l1.2 .2l1.3 -.2l.6 -.4l1.0 .3l.3 -.3l.3 .0l.3 .4l.7 -.4l.6 .2l.3 -.3l1.3 .6l.9 -.1l1.3 .1l.7 .4l.3 .0l.6 .3l.6 -.4l.7 .3l.6 -.3l.6 .5l1.0 .4l.3 .0l.7 -.6l.3 -.1l.6 .6l.6 -.4l1.0 .2l.6 -.4l1.3 .3l.6 -.2l.4 .2l.9 -.4l1.0 .2l.6 -.8l.9 .2l.7 -.3l.6 .5l.6 -.2l.4 .1l.3 -.1l.3 -.5l.3 -.1l.7 .4l.6 -.1l.6 .2l.7 -.3l.3 .2l.3 -.1l.6 -.7l.3 .1l.7 -1.0l.6 -.1l.3 -.4l.3 .1l.7 1.2l.3 .0l.6 -.3l.7 -.5l.6 .3l.6 .0l1.0 .8l1.3 .4l.3 -.2l.6 .3l1.0 -.1l.3 -.5l1.6 .2l.9 -.4l1.9 .4l1.0 -.6l.6 .4l.7 -.5l.9 .2l.6 .4l1.9 -.5l.7 .2l.6 -.3l1.0 -.1l.6 .3l.3 -.5l.3 -.1l.4 .1l.6 -.3l.9 .9l.4 .0l.6 -.5l1.3 .2l.9 -.5l1.3 .0l2.5 -2.0l.7 -1.3l.6 -2.8l.3 -.7l1.3 5.6l.9 .3l.7 -.4l1.6 .3l.9 -.5l1.3 -.1l1.3 -.6l.6 .4l.6 -.7l.7 .5l.6 -.9l1.6 .2l.9 -.6l1.0 .2l.3 -.2l1.0 -2.2l.3 -.2l1.2 2.6l.7 .2l.3 -.1l.6 .4l.7 -.4l1.9 .5l1.2 1.5l1.3 1.0l.3 -.1l1.0 -.6l.6 -1.0l1.0 -2.1l.6 -.4l1.0 -1.5l.3 -.1l1.9 .2l1.3 .7l1.5 .3l1.9 1.6l1.0 -1.2l1.9 -3.5l.3 -.1l.7 1.0l.6 .2l.6 .9l.3 -.1l1.6 -2.4l.3 -.2l2.6 4.5l.9 .6l.7 .0l1.2 .9l1.6 .3l.7 .9l.9 .8l1.0 1.3l.9 -1.6l1.3 -1.3l.6 -.4l1.0 -1.6l.9 -.7l.7 -.7l.3 .2l.9 2.0l1.6 1.6l.7 1.0l.3 .1l2.2 3.8l1.0 1.0l.6 -.5l.6 -.2l.7 -.7l1.5 -1.1l1.6 -1.5l.7 -.2l1.6 -2.0l.3 .1l.3 -.1l1.3 -1.8l.3 -.1l2.2 2.3l1.0 -.2l.6 .3l.9 -.5l.7 .0l.9 -.6l1.0 -1.7l.6 .1l.7 -.3l.6 -1.1l.9 -.8l.4 .1l.3 .4l.6 1.3l.6 .6l1.3 2.3l1.0 1.0l.6 .4l1.0 1.5l.9 .6l1.6 .5l.6 -.1l.7 .2l1.5 -.1l.7 .5l1.3 -.4l.6 .4l.3 -.1l.6 .6l1.3 -.9l1.0 .4l.6 -.3" fill="none" stroke="#FDB462" stroke-width="1.7" stroke-linejoin="round"/>
<text x="38.3" y="236.8" font-size="8.5" fill="#1a1a1a">Mmo</text>
<path d="M36.4 255.6l2.2 -.2l1.0 .3l2.2 -.3l.6 .2l1.0 -.1l1.3 .3l1.5 -.3l1.9 .2l2.3 -.2l.6 .2l1.0 -.2l.9 .1l1.0 -.2l2.2 .4l.6 -.2l1.6 -.1l.6 .3l3.2 .0l1.0 -.2l.6 .2l.6 -.1l.7 .1l.6 -.3l1.9 .3l4.1 .0l.7 -.3l.9 .2l1.6 -.2l1.0 .2l2.2 -.1l.6 -.2l.3 -.5l.4 -1.1l.9 -8.8l.3 -.8l1.3 10.2l.3 .9l.3 .2l1.3 -.2l4.1 .4l1.0 -.3l.6 .2l2.2 -.2l2.9 .2l2.9 -.2l.6 .2l1.6 -.2l1.3 .1l.6 -.3l.6 .4l1.3 .0l1.6 -.2l2.2 .1l1.9 -.2l1.6 .1l1.9 -.6l1.0 .2l.6 .3l.9 .1l4.2 -.4l.6 .2l1.9 -.1l1.6 .1l.9 -.3l1.0 .2l1.3 -.2l1.6 -4.4l.3 .0l1.2 3.7l.7 .8l1.9 -.1l2.8 .3l.7 -.1l.6 .4l1.0 -.1l.9 -.4l2.9 -.3l1.6 .1l.6 -.2l4.8 .5l2.2 -1.0l.9 -1.4l.4 -.1l.6 .1l.9 1.1l.7 .4l1.2 .2l.7 .3l.6 -.1l1.6 .4l4.4 .0l1.0 .4l.6 -.1l1.3 .2l.6 -.3l2.6 -.2l.6 -.3l1.3 .1l.6 .3l1.0 -.1l1.6 .5l1.9 .1l1.6 .4l1.9 .0l.6 -.3l.6 .1l1.0 -.3l.6 .1l1.0 -.4l1.6 .0l.9 -.8l1.3 -2.4l.3 .1l1.3 2.6l.9 .5l2.6 -.1l.9 .1l3.8 -.6l2.9 .6l.9 -.1l.7 .4l1.9 .0l.6 .2l6.4 -.1l.9 .2l1.3 -.2l1.6 .3l.6 -.1" fill="none" stroke="#B3DE69" stroke-width="1.7" stroke-linejoin="round"/>
<text x="38.3" y="253.3" font-size="8.5" fill="#1a1a1a">Pae</text>
<path d="M36.4 272.0l1.3 .7l1.6 -.2l.9 .3l1.3 -.2l.9 .7l1.0 -.6l.9 .5l.7 -.4l.9 .4l.7 -.4l1.5 .4l3.2 -1.0l1.0 1.1l.6 -.4l.6 .1l.7 -.5l.6 .6l.3 .0l.7 .5l1.2 -.7l1.0 .4l.3 .4l.3 .0l.3 -.5l.4 .0l.6 .5l.6 -.1l1.0 .5l1.9 -.1l.6 -.5l.7 .4l.6 -.3l1.3 .1l.3 -.3l.9 .6l1.3 -.7l.6 .1l.7 -.3l1.6 .4l.6 -.3l.6 .3l1.0 -.7l.6 .1l.7 -.1l.3 .3l.6 -.5l.6 -.2l1.0 .2l.9 -.3l.7 -1.4l.9 -.5l.7 .5l.6 1.4l.3 .1l.3 -.2l.7 -.9l.3 -.3l.6 -.1l1.0 1.0l.9 .3l.7 .5l2.2 -.2l2.2 -.6l.6 .2l.7 -.3l1.9 .3l.6 -.3l.3 .2l.7 -.4l.6 .2l.3 .4l.3 .1l2.9 -.9l1.9 .2l.6 -.4l1.3 .0l.6 .8l.7 -.6l.6 .7l.6 -.4l1.3 -.1l.7 -.6l.6 .0l.6 -.6l.7 .0l.6 -.7l.3 .1l.3 -.2l1.6 -3.7l1.3 3.8l.9 .8l1.0 -.8l.6 -.1l.7 .3l.6 -.4l1.0 .0l.6 -.4l.3 .0l.6 .5l.7 -.7l.6 .1l.3 -.3l.7 .0l.3 -.1l.6 .3l.6 -.6l.4 .0l1.2 .4l.7 -1.1l.6 -.6l.6 -2.8l.4 -.9l.3 -.2l.3 .6l.6 3.0l.7 1.3l.9 .0l1.0 .5l1.2 -.3l1.0 1.1l.9 .5l1.6 1.3l1.6 -1.5l1.3 -2.3l1.3 -1.7l.6 -.5l.3 .0l.6 .7l1.0 .3l.6 -.1l1.0 .5l.6 .1l.3 .3l.7 .1l.6 .7l.3 -.1l.7 .6l2.5 -5.0l.3 .2l1.3 1.9l.3 .1l.6 -.3l.7 -1.2l1.2 -1.2l.4 .2l.9 1.5l1.3 3.2l.3 .1l1.0 -.2l.9 .9l.6 .1l1.0 .5l.6 .1l2.3 2.7l.6 -.6l.6 -.2l.7 -1.1l.6 -.3l1.6 -1.9l1.3 -1.0l2.8 2.6l1.9 2.7l.6 1.2l.7 .6l.6 1.1l.7 .4l.6 -.5l.3 .1l1.0 -.4l1.2 -1.1l2.9 -3.3l.3 -.3l.6 .4l1.6 -2.0l1.0 -.8l1.2 1.4l1.3 .9l1.3 -.4l.6 .1l1.6 -.3l1.0 -1.3l.9 -.5l1.3 -1.7l.6 -.1l.3 -.3l1.3 1.0l1.0 2.2l1.5 1.6l2.0 2.6l.6 .4l.9 .0l.7 .6l.9 -.5l1.6 .7l1.6 -.1l.6 .4l1.3 -.4l1.0 .3l1.2 -.5l.7 .2l.6 -.3" fill="none" stroke="#FCCDE5" stroke-width="1.7" stroke-linejoin="round"/>
<text x="38.3" y="269.7" font-size="8.5" fill="#1a1a1a">Pmi</text>
<path d="M36.4 288.5l1.0 .2l.9 .4l1.9 -.4l.6 .2l1.0 -.2l1.0 .5l1.5 .4l1.0 -.8l.9 .9l1.3 -.6l.6 .1l.7 -.5l.6 .3l1.3 -.3l.6 .2l.7 -.5l.3 .0l.9 .7l.7 -.2l1.2 .2l.7 .4l.9 .0l.3 .2l1.3 -.6l.6 .9l.7 -.4l.6 .5l.6 -.3l1.6 .3l1.0 -.6l.6 .5l.3 -.3l.4 .0l.3 .3l.6 -.2l.6 .2l1.3 -.3l.7 .3l.9 -.5l1.0 -.1l.6 -.6l.6 .3l.7 -.2l.9 .4l.6 -.6l.7 .2l1.3 .1l1.9 -.4l.6 .4l.9 -.6l.4 -.5l.3 .0l.3 .2l.6 -.1l.3 .3l1.6 -.1l1.3 -1.1l1.9 1.1l.6 .6l1.0 -.3l1.0 .8l1.2 -1.2l1.9 .4l1.3 -.5l.6 .5l.4 .0l.6 -.7l.6 .4l1.6 -.5l1.0 .3l1.5 -.1l.7 -.3l.9 .4l1.6 -.4l1.0 .2l.3 -.3l1.6 -.1l.6 .2l1.6 .0l1.0 -.7l.6 .3l.6 -.5l1.6 -.4l.6 -1.2l1.0 -2.9l.3 -.3l1.3 4.0l1.3 .7l.9 -.3l.6 -.6l1.3 -.2l1.0 .4l.9 -.9l.7 .1l.6 -.1l.3 .3l.3 -.1l.3 -.4l.7 .1l.3 -.1l.6 .2l1.3 -.5l1.0 -.8l.6 .7l.3 .0l.6 -.6l.7 -.2l1.2 .8l.7 .0l.6 .4l.6 -.5l.7 .4l.6 .0l1.0 .8l.6 .1l1.0 .7l.6 .9l.9 .2l.4 -.2l1.6 -2.9l.9 -.8l.6 -1.5l.7 -.7l.6 .3l.6 .7l.7 -.4l.6 .0l.7 .5l1.2 .4l.7 .6l1.9 .8l1.5 -3.3l1.0 -1.2l.6 .1l.7 1.1l.9 .9l1.0 -1.8l1.2 -1.2l.4 .0l.3 .4l.6 2.1l1.3 2.0l.3 .1l.6 .8l1.3 .4l.6 .5l1.3 .3l1.0 .8l.9 .6l.7 .9l.3 .2l.9 -.9l.7 -1.0l.3 .0l3.2 -4.6l.6 1.1l.6 .2l1.3 2.4l.6 .2l.7 1.3l.9 1.1l1.3 2.4l1.3 1.7l.3 .0l.9 -.8l1.0 -1.4l.6 .0l.3 -.3l1.0 -1.0l.6 -.5l.7 -.9l.6 -.2l2.2 -1.7l1.0 -1.4l.3 -.2l1.6 1.9l.6 .5l.6 -.5l1.0 .3l2.2 -.6l1.6 -1.6l1.6 -3.1l.9 -.8l.4 .2l.6 1.6l.6 .6l1.0 2.2l.9 1.5l1.3 2.0l.6 .5l.7 1.0l.3 .2l1.3 .5l1.2 .2l.7 -.5l1.2 .5l1.9 .0l.7 -.3l.6 .2l.6 -.2l.7 .5l1.6 -.4l.6 .3" fill="none" stroke="#D9D9D9" stroke-width="1.7" stroke-linejoin="round"/>
<text x="38.3" y="286.2" font-size="8.5" fill="#1a1a1a">Sal</text>
<path d="M36.4 305.0l.3 .2l.7 -.1l.6 .2l.6 -.1l1.3 .1l.6 .3l.7 -.5l.6 .7l.6 -.6l.7 .4l.6 -.3l1.9 .5l.3 .2l.3 .0l.7 -.8l1.6 .5l1.2 -.1l1.0 -.8l.6 .3l.7 .1l.6 -.4l1.9 .8l.6 -.1l1.0 .4l.6 -.3l.7 .7l.6 -.4l2.5 .4l1.3 -.1l.6 .3l.4 -.3l.9 .3l.3 -.2l.3 .0l.4 .2l.3 .0l.9 -.5l.7 .0l.6 -.4l1.0 .3l.9 -.3l1.3 .2l1.9 -.1l.6 -.4l1.0 .4l1.2 -.5l1.0 .0l.3 -.4l.3 .0l.3 .3l.4 -.1l.3 -.4l1.2 .3l1.6 -3.6l.3 .5l1.0 2.7l.3 .0l.7 -.5l.3 .1l.9 -.4l.7 .2l.6 .6l.6 .3l1.3 .4l.6 -.5l1.6 .3l.7 -.6l1.2 .4l.7 -.4l.9 .3l1.0 -.5l.6 .4l1.3 -.8l1.2 .7l1.0 .0l1.3 -.5l1.6 .2l1.2 -.3l.7 .3l1.2 -.3l1.6 .3l.3 -.3l.7 .2l.6 -.3l.6 .2l2.9 -1.6l.6 -.1l1.3 -3.3l.3 -.4l1.3 3.9l.6 .3l1.0 -.1l.9 -.5l3.2 .0l1.0 -.9l.6 .5l.6 -.5l.7 -.1l.6 .3l.6 -.4l.7 .2l.6 -.6l.6 .1l1.0 -.8l.3 -.4l1.0 -3.5l.3 -.3l1.2 4.3l.4 .5l.9 .4l.6 -.1l1.6 .4l1.0 .9l.6 .1l1.0 .9l.9 .5l.7 -.9l.9 -.6l1.6 -2.4l.6 -1.5l.4 -.2l.6 .1l.6 -.2l.7 .4l1.2 -.1l1.0 .9l.3 -.1l.6 .4l.4 -.1l.9 1.3l1.0 -.3l2.2 -4.0l.3 -.3l.6 .7l.7 .2l.6 .9l.3 .0l2.2 -2.9l1.0 1.5l.9 2.4l1.0 1.2l2.2 .8l.3 .3l.7 .0l.3 .2l3.2 3.2l.3 -.1l1.3 -2.0l.6 -.6l.9 -.6l1.6 -1.8l.4 -.1l.3 .2l.6 .4l1.3 2.0l1.2 .6l2.9 4.3l1.0 1.2l.6 -.1l1.3 -1.6l2.5 -2.0l.6 -.2l.7 -.6l.6 -.8l.6 -.4l1.9 -2.2l1.3 .3l1.6 1.9l.6 .0l1.3 -.4l1.6 .0l.9 -1.3l2.3 -1.7l1.2 -1.4l.4 .1l1.9 3.2l.6 .5l1.3 1.6l.9 1.5l1.6 1.3l.6 .0l.7 .5l.9 -.2l.7 .4l.9 -.3l.6 .2l.7 -.2l1.6 .1l.6 .3l.6 -.4l.7 .3l.9 -.2l1.3 .2" fill="none" stroke="#BC80BD" stroke-width="1.7" stroke-linejoin="round"/>
<text x="38.3" y="302.7" font-size="8.5" fill="#1a1a1a">Sma</text>
<path d="M36.4 321.5l.3 .1l1.0 -.5l.9 .5l.3 .1l.7 -.4l.6 .7l1.3 -.2l.9 .4l.7 -.3l.9 .4l.7 .0l1.2 -.4l.7 .1l.9 -.3l.6 .2l.7 .5l.6 -1.0l.7 .4l.9 -.3l.6 .3l.7 -.1l.6 .2l1.6 .0l.6 .4l.7 -.1l.6 .6l.6 -.5l1.0 -.4l.6 .7l1.0 -.2l.9 .2l.7 -.1l.6 .4l.3 -.2l.7 .2l.6 -.3l.6 .4l.7 -.2l.3 .1l.6 -.6l.3 .3l.7 -.3l.6 .4l.6 -.5l.7 .2l.9 -.5l1.0 .6l.9 .0l.7 -.1l.9 -.6l.6 .1l.4 -.2l.6 .5l.6 -.5l1.3 -.5l.6 .5l1.6 -.2l1.6 -3.3l.3 -.1l1.0 2.1l.6 .7l.3 .0l.7 -.6l.9 -.2l.7 .2l.9 .9l.6 .3l.7 -.2l.9 .3l1.0 -.3l.3 .2l1.0 -.5l.6 .1l.6 -.2l1.3 .1l1.0 .4l.9 -.7l.6 .4l.7 -.3l.6 .3l.6 -.4l.7 .2l.6 -.6l.3 .1l.7 .5l.6 -.6l.6 .6l1.0 -.5l.3 .3l.6 -.5l.7 .5l1.6 -.4l.6 .4l.6 -.4l1.3 .1l.6 -.5l.7 .2l.9 -.8l.7 .3l1.2 -.9l1.3 -3.6l.3 -.3l1.3 4.1l.3 .2l.3 -.1l.3 .3l.4 .0l.9 -.6l.6 .4l1.0 -.2l.6 -.3l.4 .2l.9 -.7l.6 .1l.7 -.3l.6 .2l.6 -.5l.7 -.1l.6 .4l.6 -.3l1.3 .1l1.3 -1.1l.3 -.5l1.0 -3.2l.3 -.3l1.2 4.1l1.0 .9l.3 .2l.6 -.5l1.6 .4l1.0 .6l.6 .0l.7 1.0l1.2 1.2l1.9 -2.4l1.0 -2.0l1.6 -1.8l.9 .1l1.0 .7l.6 -.2l1.3 .4l.9 .9l.7 .0l1.6 1.2l.3 -.4l.6 -1.7l1.6 -2.9l.3 .1l.7 .8l.3 -.1l.6 1.2l.3 .1l2.2 -2.9l2.6 4.5l.9 .4l1.0 .6l.9 .2l.7 .6l.6 .1l1.3 1.4l.3 .0l.6 1.0l1.0 .4l1.6 -2.0l.3 .0l.9 -1.7l.7 -.1l1.3 -1.4l.3 .2l.9 1.3l1.9 1.7l2.2 2.9l.7 1.4l.3 .2l.3 -.2l.7 1.3l.9 -.2l1.3 -1.8l1.2 -.5l.7 -.9l.6 -.1l1.0 -1.1l.6 -.3l2.2 -2.4l1.3 -.5l1.9 2.2l1.0 -.6l.3 .2l.6 .0l1.3 -.5l1.2 .2l1.0 -1.9l1.3 -1.2l.6 -.3l.6 -.8l.4 .1l.6 1.4l.6 .9l1.0 .9l.9 1.6l2.3 2.4l.9 1.5l1.6 -.4l.6 .2l.7 -.1l.6 .3l.9 .0l.7 .3l.6 -.5l.7 .3l.6 -.3l.6 .2l1.0 -.2l.9 .6l.3 -.1l1.0 .1" fill="none" stroke="#CCEBC5" stroke-width="1.7" stroke-linejoin="round"/>
<text x="38.3" y="319.2" font-size="8.5" fill="#1a1a1a">Stm</text>
<rect x="28.2" y="17.8" width="194.40" height="320.60" fill="none" stroke="#333333" stroke-width="1.1"/>
<line x1="36.40" y1="338.4" x2="36.40" y2="341.2" stroke="#333333" stroke-width="0.9"/>
<text x="36.40" y="349.2" font-size="8.3" fill="#4D4D4D" text-anchor="middle">400</text>
<line x1="61.80" y1="338.4" x2="61.80" y2="341.2" stroke="#333333" stroke-width="0.9"/>
<text x="61.80" y="349.2" font-size="8.3" fill="#4D4D4D" text-anchor="middle">600</text>
<line x1="87.20" y1="338.4" x2="87.20" y2="341.2" stroke="#333333" stroke-width="0.9"/>
<text x="87.20" y="349.2" font-size="8.3" fill="#4D4D4D" text-anchor="middle">800</text>
<line x1="112.60" y1="338.4" x2="112.60" y2="341.2" stroke="#333333" stroke-width="0.9"/>
<text x="112.60" y="349.2" font-size="8.3" fill="#4D4D4D" text-anchor="middle">1000</text>
<line x1="138.00" y1="338.4" x2="138.00" y2="341.2" stroke="#333333" stroke-width="0.9"/>
<text x="138.00" y="349.2" font-size="8.3" fill="#4D4D4D" text-anchor="middle">1200</text>
<line x1="163.40" y1="338.4" x2="163.40" y2="341.2" stroke="#333333" stroke-width="0.9"/>
<text x="163.40" y="349.2" font-size="8.3" fill="#4D4D4D" text-anchor="middle">1400</text>
<line x1="188.80" y1="338.4" x2="188.80" y2="341.2" stroke="#333333" stroke-width="0.9"/>
<text x="188.80" y="349.2" font-size="8.3" fill="#4D4D4D" text-anchor="middle">1600</text>
<line x1="214.20" y1="338.4" x2="214.20" y2="341.2" stroke="#333333" stroke-width="0.9"/>
<text x="214.20" y="349.2" font-size="8.3" fill="#4D4D4D" text-anchor="middle">1800</text>
<line x1="25.4" y1="325.60" x2="28.2" y2="325.60" stroke="#333333" stroke-width="0.9"/>
<text x="23.20" y="328.50" font-size="8.3" fill="#4D4D4D" text-anchor="end">0</text>
<line x1="25.4" y1="243.20" x2="28.2" y2="243.20" stroke="#333333" stroke-width="0.9"/>
<text x="23.20" y="246.10" font-size="8.3" fill="#4D4D4D" text-anchor="end">5</text>
<line x1="25.4" y1="160.80" x2="28.2" y2="160.80" stroke="#333333" stroke-width="0.9"/>
<text x="23.20" y="163.70" font-size="8.3" fill="#4D4D4D" text-anchor="end">10</text>
<line x1="25.4" y1="78.40" x2="28.2" y2="78.40" stroke="#333333" stroke-width="0.9"/>
<text x="23.20" y="81.30" font-size="8.3" fill="#4D4D4D" text-anchor="end">15</text>
<text x="125.7" y="362.6" font-size="9.8" fill="#000" text-anchor="middle">Wavenumber<tspan dx="1.6">/</tspan><tspan dx="1.4">cm</tspan><tspan dy="-4.6" font-size="7.2">-1</tspan></text>
<text transform="translate(10.3,176.6) rotate(-90)" font-size="9.9" fill="#000" text-anchor="middle">Intensity (arbitrary units)</text>
<line x1="262.50" y1="17.8" x2="262.50" y2="338.4" stroke="#D4D4D4" stroke-width="0.8" stroke-dasharray="3,3.4"/>
<line x1="275.47" y1="17.8" x2="275.47" y2="338.4" stroke="#E0E0E0" stroke-width="0.8" stroke-dasharray="3,3.4"/>
<line x1="288.44" y1="17.8" x2="288.44" y2="338.4" stroke="#D4D4D4" stroke-width="0.8" stroke-dasharray="3,3.4"/>
<line x1="301.41" y1="17.8" x2="301.41" y2="338.4" stroke="#E0E0E0" stroke-width="0.8" stroke-dasharray="3,3.4"/>
<line x1="314.38" y1="17.8" x2="314.38" y2="338.4" stroke="#D4D4D4" stroke-width="0.8" stroke-dasharray="3,3.4"/>
<line x1="327.35" y1="17.8" x2="327.35" y2="338.4" stroke="#E0E0E0" stroke-width="0.8" stroke-dasharray="3,3.4"/>
<line x1="340.32" y1="17.8" x2="340.32" y2="338.4" stroke="#D4D4D4" stroke-width="0.8" stroke-dasharray="3,3.4"/>
<line x1="353.29" y1="17.8" x2="353.29" y2="338.4" stroke="#E0E0E0" stroke-width="0.8" stroke-dasharray="3,3.4"/>
<line x1="366.26" y1="17.8" x2="366.26" y2="338.4" stroke="#D4D4D4" stroke-width="0.8" stroke-dasharray="3,3.4"/>
<line x1="379.23" y1="17.8" x2="379.23" y2="338.4" stroke="#E0E0E0" stroke-width="0.8" stroke-dasharray="3,3.4"/>
<line x1="392.20" y1="17.8" x2="392.20" y2="338.4" stroke="#D4D4D4" stroke-width="0.8" stroke-dasharray="3,3.4"/>
<line x1="405.17" y1="17.8" x2="405.17" y2="338.4" stroke="#E0E0E0" stroke-width="0.8" stroke-dasharray="3,3.4"/>
<line x1="418.14" y1="17.8" x2="418.14" y2="338.4" stroke="#D4D4D4" stroke-width="0.8" stroke-dasharray="3,3.4"/>
<line x1="431.11" y1="17.8" x2="431.11" y2="338.4" stroke="#E0E0E0" stroke-width="0.8" stroke-dasharray="3,3.4"/>
<line x1="444.08" y1="17.8" x2="444.08" y2="338.4" stroke="#D4D4D4" stroke-width="0.8" stroke-dasharray="3,3.4"/>
<line x1="254.2" y1="326.60" x2="452.9" y2="326.60" stroke="#D4D4D4" stroke-width="0.8" stroke-dasharray="0.9,2.4"/>
<line x1="254.2" y1="244.31" x2="452.9" y2="244.31" stroke="#D4D4D4" stroke-width="0.8" stroke-dasharray="0.9,2.4"/>
<line x1="254.2" y1="162.02" x2="452.9" y2="162.02" stroke="#D4D4D4" stroke-width="0.8" stroke-dasharray="0.9,2.4"/>
<line x1="254.2" y1="79.73" x2="452.9" y2="79.73" stroke="#D4D4D4" stroke-width="0.8" stroke-dasharray="0.9,2.4"/>
<line x1="254.2" y1="285.46" x2="452.9" y2="285.46" stroke="#E0E0E0" stroke-width="0.8" stroke-dasharray="0.9,2.4"/>
<line x1="254.2" y1="203.17" x2="452.9" y2="203.17" stroke="#E0E0E0" stroke-width="0.8" stroke-dasharray="0.9,2.4"/>
<line x1="254.2" y1="120.88" x2="452.9" y2="120.88" stroke="#E0E0E0" stroke-width="0.8" stroke-dasharray="0.9,2.4"/>
<line x1="254.2" y1="38.59" x2="452.9" y2="38.59" stroke="#E0E0E0" stroke-width="0.8" stroke-dasharray="0.9,2.4"/>
<rect x="254" y="4" width="199" height="11.5" rx="1.6" fill="#FFC000"/>
<text x="353.5" y="13.1" font-size="9.2" fill="#fff" fill-opacity="0.95" text-anchor="middle">Gram-positive bacteria (n = 24300)</text>
<text x="231.6" y="8.7" font-size="11" font-weight="bold" fill="#000">b</text>
<path d="M262.5 46.8l.6 -.5l1.0 .0l.7 .4l2.2 -.4l.4 .2l.6 -.1l.7 .2l.3 -.5l.3 .0l.7 .6l.9 -.6l1.7 .7l.9 -.7l.7 .0l.6 .4l1.6 -.9l.4 -.1l.3 .2l.3 .0l1.0 -.6l.6 .2l1.0 -.5l1.0 .3l1.0 .9l.6 .0l.7 .8l.3 .0l.6 -.3l1.0 1.2l.3 -.1l1.0 .0l1.0 .9l1.6 .5l.6 -.5l1.7 .8l.3 -.1l.6 -.8l.7 .1l1.0 .3l.6 .7l1.0 .0l.6 -.6l1.0 -.1l1.0 .3l.3 -.1l1.0 .1l.6 -.5l.7 .6l.3 .0l.6 -.6l.7 .0l.6 -.8l1.3 -2.5l1.0 .5l1.0 2.2l.3 .4l.3 .0l.3 -.4l.7 -.1l1.3 -1.8l1.0 -.8l.9 .3l1.3 1.1l.4 -.1l1.3 -2.0l2.5 -1.3l.4 .1l.6 -.5l.3 .0l.7 -.5l.6 -.9l1.3 .2l.7 -.3l1.0 .1l.6 .6l1.0 -.3l1.0 .2l.9 .7l1.0 .2l.3 -.2l.7 .4l.6 .1l.7 -.4l.6 .6l1.0 -.1l1.3 .3l.6 -.1l.7 -.3l.6 .1l.4 -.3l1.3 1.4l.9 -.2l.7 .6l1.0 .1l.9 -.8l.3 .0l.4 -.8l.6 -10.3l.3 -1.9l.7 10.4l.3 2.0l.7 .5l.3 .2l.3 -.4l.7 -.1l.6 -.7l.7 .0l.6 -.6l.3 .3l.7 -.7l.6 .6l.4 -.3l.6 .1l.3 -.2l.7 .1l1.3 -.6l.6 .2l.3 -.3l.7 .5l1.0 -.6l.6 -.9l.3 -.1l1.0 1.4l1.6 .9l2.6 3.7l.7 .0l.6 -1.0l.3 -.1l1.7 1.4l.3 .2l1.3 -.2l.6 .6l.4 .1l.6 -.6l.7 -1.0l.6 -.4l.7 -1.4l.6 -.5l.7 -1.3l2.2 -3.1l.7 -2.2l.3 -.4l.3 .3l1.0 -.3l2.3 1.7l1.3 -.2l.9 -1.5l1.0 -1.1l1.6 -2.6l.4 -.3l.9 .2l.7 -.5l1.6 -.7l.6 .5l.7 2.0l1.6 3.7l.3 .2l.7 .0l1.6 1.2l.7 .2l.6 .7l.3 -.1l.7 .4l2.2 .2l.7 .4l.6 -.2l1.0 -1.1l1.6 -7.7l1.0 -3.1l1.0 3.4l1.3 5.8l1.0 2.6l.6 .8l1.9 4.4l1.7 2.8l.9 .1l.7 -.5l.6 .2l1.0 .6l.3 -.3l1.0 -1.7l.7 -.2l.3 -.4l1.3 -2.1l.9 -2.1l1.0 -3.3l.3 .3l.4 .6l1.3 4.3l.3 .6l.6 .1l2.3 -2.0l.7 .0l1.6 -2.7l.6 -1.7l.7 -1.1l.9 -3.3l1.0 -1.7l.7 -2.1l.3 .1l.6 2.8l2.6 7.4l1.0 2.1l.7 .3l.6 1.6l.7 .7l.9 1.8l.7 .1l.6 .5l.7 -.3l.9 1.2l.4 .1l.3 -.5l.3 -.2l1.0 .3l.6 -.3l1.3 .2l1.0 1.0l.3 -.3l.7 .0l.3 -.2l.7 .2l.3 -.1" fill="none" stroke="#8DD3C7" stroke-width="1.7" stroke-linejoin="round"/>
<text x="264.4" y="43.8" font-size="8.5" fill="#1a1a1a">Cdi</text>
<path d="M262.5 74.2l1.6 .7l1.0 .2l.6 -.4l1.0 .4l.3 -.1l1.3 -.9l1.7 1.2l.6 -.5l1.0 -.1l1.6 .3l1.6 -1.3l1.0 .4l.3 -.1l.7 -.6l.6 .0l.7 -.6l.6 .4l1.3 -.6l1.6 1.0l.7 .1l.6 .7l.4 .0l.9 .6l.7 .9l.9 .5l.4 -.3l.6 .9l.7 -.1l.9 1.0l.4 .1l.6 -.4l1.0 .1l.3 -.2l.7 .3l.6 -.3l.7 .4l.6 -.1l.3 .3l1.3 -.4l.7 .6l.6 -.4l1.3 .0l.7 -.3l.6 .2l1.0 -.3l1.9 .3l1.3 -1.4l1.3 -3.5l.4 -.2l1.6 3.9l.3 .5l.3 .1l2.3 -2.4l1.0 -1.9l.9 -3.8l.7 -3.8l.3 .3l1.0 6.7l.3 .3l1.3 -.7l.7 .3l.3 -.3l.3 .0l.3 -.3l.3 -.8l.4 -.3l.3 .1l1.0 -1.3l.9 .1l1.0 -1.0l.7 .5l2.2 -.2l1.0 1.1l1.6 .2l1.3 1.0l1.0 -.9l1.0 .6l.9 -.1l.7 .6l.6 -.5l.7 .3l.6 -.2l.7 .4l1.0 .1l1.3 .7l.3 .0l.3 -.3l.3 .1l.7 .9l.3 .2l.7 -.6l.6 .2l.6 -.2l.4 -1.4l.6 -7.3l.3 -1.4l.7 7.4l.3 1.9l.7 .5l.6 -.6l.7 .0l.9 -1.4l.7 -.5l1.0 -.2l.9 -.8l.7 -1.3l.3 -.3l.7 .1l2.5 -2.6l.7 .5l.6 -.7l.7 .0l.6 -.7l.4 .0l.6 .6l1.0 1.5l1.0 2.3l.9 1.1l1.0 3.1l1.0 1.7l.6 -.2l.7 .3l.9 .5l1.3 1.2l.4 .2l.6 -.4l.7 .7l.3 .0l.6 -1.2l1.0 -1.0l.7 -2.1l.6 -.5l.7 -1.0l.9 -2.7l.7 -.8l.6 -1.9l.7 -.8l.6 -1.6l.3 -.1l.4 .3l.6 -.1l1.3 .9l1.0 1.2l.6 -.5l.4 .2l.3 -.2l.6 -1.8l.4 -.1l.3 -.6l1.9 -3.6l1.0 -.7l.6 -.1l1.0 -.6l.3 -.1l.7 -.6l1.6 3.7l1.3 3.9l.3 .5l1.3 .7l1.3 1.5l1.0 .3l1.0 -.4l1.3 .9l.3 .5l1.0 .3l.9 -.9l.7 .3l.3 -.2l.7 -2.2l1.3 -6.7l.3 -1.0l.3 -.4l2.0 6.8l1.6 4.7l.9 1.7l2.6 7.0l.4 .4l.9 -.3l1.3 .8l.7 -.6l.6 -.1l.7 -.9l.6 -.5l1.7 -2.4l.6 -.4l1.0 -1.1l.6 -1.2l1.6 2.3l.4 .0l.6 -.3l.7 -.5l.9 -.1l1.7 -2.3l.3 -.1l.3 .2l.3 -.6l.7 -2.6l1.0 -2.5l2.2 -7.0l1.0 -.8l1.3 3.8l1.0 4.2l.9 3.0l1.0 1.8l.7 1.9l.3 .2l1.0 1.7l.6 1.7l.7 .9l1.2 1.3l.7 -.7l.3 -.1l.7 1.0l.3 .0l.3 -.5l.3 -.1l.7 .4l.3 -.1l.7 .6l2.6 .2l.9 .4l.7 .0" fill="none" stroke="#D9D9D9" stroke-width="1.7" stroke-linejoin="round"/>
<text x="264.4" y="70.8" font-size="8.5" fill="#1a1a1a">Efa</text>
<path d="M262.5 101.7l.3 -.1l.7 .4l.6 .0l.3 .3l1.0 .2l.7 -.4l.6 .3l.7 -.3l.6 .2l1.0 -.6l.6 .6l.7 -.3l.6 .5l.7 -.6l.6 .2l.4 -.2l.6 -.7l.6 .8l.4 -.1l.3 -.5l1.3 -.1l1.3 -1.0l1.0 .3l.6 -.7l.3 .4l.4 .0l.6 -.4l2.0 1.1l1.3 1.6l.9 .0l.7 .3l.6 .1l.7 .9l.6 .2l.7 .8l.6 -.1l.3 .2l1.0 .3l1.0 -.6l.6 .5l1.0 -.1l.7 -.5l.6 .5l1.6 -.1l.7 -.3l.6 .2l.7 -.2l.6 .8l1.0 -.4l1.0 .3l.6 -.6l1.0 .4l.3 -.1l1.0 -.8l2.3 -4.2l.3 .2l.3 .7l1.0 2.9l.6 .5l.7 -.8l.6 .1l.3 -.7l.7 -.7l2.6 -6.9l.3 .5l1.0 3.8l.6 -.3l.7 .0l.3 .2l.3 -.1l.7 -1.0l.6 -.1l1.0 -.8l.3 .1l.7 -.5l.3 .1l.3 -.2l1.0 -1.3l1.3 -.7l.6 1.0l.7 -.3l1.0 .3l.9 .7l.7 .3l.6 .9l.4 .1l.6 -.4l3.2 .5l.7 .3l.6 -.8l.7 .8l.6 -.3l.7 .5l.6 -.3l.4 .1l1.3 .8l.6 -.3l1.0 1.1l.6 -.3l1.0 .1l.6 -.6l.4 -1.4l.6 -9.8l.3 -1.4l.7 10.1l.3 2.1l.7 -.1l.3 .2l.6 -.6l.4 .0l.6 -.6l.3 .0l1.0 -.6l1.3 -1.6l1.3 -1.3l.7 .0l.3 -.2l1.9 -2.1l.7 .0l.6 -.4l1.3 -1.4l.3 -.1l1.0 1.3l1.0 1.9l.6 .4l.7 1.8l1.0 1.6l1.3 3.5l.3 .2l.3 -.1l2.3 1.5l.6 .1l.7 .6l1.6 .4l1.0 -1.5l.9 -2.4l1.7 -2.1l3.5 -7.4l.7 .6l1.3 .3l.6 .5l.7 -.1l1.3 .3l2.6 -4.2l.9 -2.1l1.0 -.6l.3 -.4l1.0 .1l.6 -1.0l.4 -.2l.3 .3l.6 1.3l1.7 4.1l.6 2.1l.3 .4l.4 .0l.3 .3l.6 1.2l1.0 .4l.3 .0l.4 -.3l.3 .1l.6 1.4l.7 .3l1.6 -.5l.6 .7l1.3 -.1l.7 .4l.3 -.4l2.3 -10.4l.3 -.7l1.3 4.4l1.0 4.2l2.6 5.8l.6 2.5l.7 .9l.6 2.0l.3 .6l.4 .0l.6 .6l.7 -.3l1.9 .6l.3 -.1l.7 -1.5l1.3 -1.5l1.0 -1.9l.9 -.5l.7 -1.4l.3 -.3l1.6 1.6l.7 1.2l.6 -.7l1.0 -.4l.6 -.7l.7 -.4l.6 -.9l.7 -.3l5.2 -14.0l.3 .2l.3 .6l2.9 10.7l2.3 5.0l2.3 4.1l1.6 -.8l1.9 1.1l.7 .5l.3 -.2l.7 .5l.3 -.4l.3 -.2l.3 .6l.4 .1l.3 -.3l.6 .5l.4 .1l.6 -.7l.7 .4l.3 .0" fill="none" stroke="#FB8072" stroke-width="1.7" stroke-linejoin="round"/>
<text x="264.4" y="97.9" font-size="8.5" fill="#1a1a1a">Efm</text>
<path d="M262.5 129.1l.6 -.3l.4 .2l.3 -.1l.3 -.5l.3 .1l.7 .5l1.3 -.5l.3 .0l.3 .5l.4 .1l.3 -.3l1.0 -.4l.6 .6l.7 -.5l.6 .6l.7 -.2l1.6 .2l.3 -.1l.3 -.3l1.3 -.5l1.0 -.8l1.0 .3l.9 -.8l.7 .7l.6 -.3l.4 .0l.6 -.5l1.3 .8l.7 .2l.6 .7l1.0 -.1l1.3 1.0l.6 .3l.7 .7l.6 -.1l.7 1.1l.3 .2l1.3 .3l1.0 -.3l.6 .4l1.0 -.4l1.0 .4l1.6 -.8l.3 .1l.6 .7l1.0 -.6l.7 .6l.3 .0l.6 -.8l.4 -.1l.6 .8l1.3 -.4l1.0 .5l.6 -.2l.4 -.3l.9 -1.8l.4 -1.1l.6 -4.8l.3 -1.0l.4 .6l.9 5.8l.3 .8l.7 .3l.3 -.9l.7 -4.0l.3 -.1l.6 3.3l.4 .5l.6 -.3l.7 -1.3l1.6 -.4l.6 1.0l.7 -.1l1.3 -2.0l.3 .1l.3 -.1l.4 -.5l.9 -.2l.7 -.7l.9 -.2l1.0 -.9l.7 -1.1l.6 -.4l1.0 .7l.6 -.5l.4 .0l.6 1.2l.3 .3l.4 -.2l.6 .7l1.0 .0l.3 -.1l.7 .4l.6 .0l1.3 .3l.3 -.2l.7 .2l1.3 -.1l.9 .7l1.3 -.5l1.0 .5l.7 -.3l.3 .2l1.0 .3l.3 -.2l1.0 .6l.3 .6l.3 .1l.3 -.1l.7 .2l.9 -.9l.4 -1.1l.6 -9.7l.3 -1.9l.7 10.0l.3 2.4l.3 .4l.4 .1l.6 -.5l.3 .0l.7 -1.0l.3 .2l1.0 -.7l.6 -1.0l.7 -.3l.6 -.8l.7 -.3l.3 -.4l.3 -.2l.7 .0l1.6 -2.1l1.0 -.7l1.6 -.1l.6 -.9l1.0 1.3l.7 .1l.3 -.4l.6 -2.3l.4 -.2l1.3 8.1l.3 1.4l.6 1.5l.7 .9l.9 .6l1.3 .2l.7 .8l1.3 .2l1.3 .7l.6 -1.3l.7 -.7l.6 -1.6l5.2 -10.0l.3 -.1l1.3 .9l.7 .0l1.0 1.1l.9 .3l.7 -.7l.6 -2.0l1.0 -1.3l.7 -1.4l.9 -1.2l.4 -.1l.6 -1.2l.3 -.2l.7 .4l.6 -.9l1.0 -.5l.3 .5l1.3 4.0l1.6 3.6l.4 .4l.3 .0l.6 .8l.7 .1l.6 .7l2.0 1.2l.6 -.1l.3 .3l.7 -.1l.3 .2l.7 -.4l.9 .5l.7 -.1l.3 -.3l1.6 -6.8l.7 -3.5l.3 -.5l2.9 10.4l1.0 1.8l1.0 3.1l.3 .3l1.3 3.7l.3 .6l.7 .3l.6 .7l.7 .2l.6 .8l1.6 -1.4l.7 .1l1.3 -2.4l1.3 -1.7l.6 -.6l.7 -1.4l.3 .0l1.0 .5l1.3 1.9l.3 .1l.6 -.2l1.0 -1.5l.7 -.1l1.3 -1.3l1.6 -3.2l1.0 -3.3l2.9 -7.6l.3 .0l3.2 11.7l.4 .8l.9 1.2l.7 1.9l2.3 4.2l1.6 1.0l1.6 -.4l.6 .7l.7 -.4l.6 .3l.7 -.1l.6 .7l1.3 .3l.7 -.7l.3 -.1l.7 .5l.3 .0" fill="none" stroke="#80B1D3" stroke-width="1.7" stroke-linejoin="round"/>
<text x="264.4" y="124.9" font-size="8.5" fill="#1a1a1a">Sau</text>
<path d="M262.5 156.5l.3 .1l.7 -.4l.6 .1l.3 -.3l.7 .5l.6 -.3l.7 .6l.6 -.5l1.3 .2l.7 -.4l.3 .1l.3 .4l1.3 .0l.7 -.6l.3 .0l.3 .2l.7 -.3l.6 .2l.7 -.4l.6 .3l.7 -.5l.6 .1l2.0 -.7l.6 .0l.7 -.8l.6 .7l1.0 -.2l1.9 1.7l.7 -.1l.3 .3l.6 .0l2.0 1.9l1.9 .9l3.0 .2l.6 -.3l1.0 .5l1.3 -.5l.6 .3l.3 -.1l.7 .3l.6 -.8l1.0 .4l1.0 -.3l1.3 .3l.6 -.7l.7 1.2l.3 -.2l1.6 -1.9l.4 -1.5l.6 -6.0l.3 -1.3l.4 .8l.9 7.2l.3 .7l.4 .0l.3 -.4l.3 -1.2l.7 -4.1l.3 .4l.6 3.7l.4 .5l.3 .0l1.0 -1.9l.6 .4l1.6 .2l.7 .9l.3 -.4l.7 -1.8l.9 .0l.7 -.7l.9 -.4l1.3 -1.5l1.7 -.9l.9 -.8l.7 .8l1.0 .2l.6 -.1l.7 .6l.3 -.1l1.0 .3l.3 -.2l1.6 .7l.7 .6l.9 .1l.7 -.4l.9 .5l.4 -.2l1.3 -.1l.9 .8l.4 .0l.6 -.6l1.6 1.1l.7 -.5l.6 .8l.4 .0l.6 .4l1.0 .3l.9 -1.1l.4 -1.0l.6 -5.6l.3 -.5l1.0 6.8l.3 .2l.4 -.2l.6 .1l1.0 -1.5l1.0 .0l.9 -.7l1.3 -1.8l.7 -.1l.6 -.7l.7 .0l.9 -1.5l2.3 -1.2l.3 .1l.7 -.7l1.0 -.1l.9 .6l.4 .8l.3 .1l.6 -3.0l.4 -.4l1.3 7.7l.6 2.2l1.0 2.3l.3 .3l1.0 .0l.9 .9l.7 -.2l.6 .9l.7 .0l.3 .4l.7 -.1l.3 .1l.3 -.3l1.0 -1.8l5.5 -11.0l.3 -.2l.7 .0l.6 .3l.3 -.2l1.0 1.1l.3 .0l.4 -.4l.3 -.1l.6 1.2l.4 -.2l3.5 -6.6l1.6 -1.1l.7 .0l.3 -.4l1.0 -.3l.3 .2l2.6 7.5l1.0 .4l.6 .6l.4 .1l.6 1.0l.7 .2l1.3 .9l.3 -.3l.6 .0l.7 .5l.6 -.1l2.0 1.0l.6 -.9l2.0 -9.0l.3 -1.2l.3 -.3l.7 1.8l1.9 7.3l1.3 2.8l1.9 5.2l1.3 2.8l1.3 .5l.7 -.1l.6 1.1l.7 -.7l.6 -.1l1.3 -2.0l.4 -.1l.6 -1.4l.3 -.4l.4 -.1l1.9 -2.6l.3 .0l1.6 2.2l.7 .3l1.9 -2.3l2.0 -.9l.6 -1.1l1.0 -3.3l1.6 -3.8l1.3 -4.5l.7 -1.4l.3 -.1l1.3 4.5l.6 3.1l2.0 5.7l1.6 3.5l1.0 .8l1.3 2.4l.6 .4l.7 .0l.6 .6l1.0 .2l1.6 -.2l.7 .1l.6 .7l.3 .0l.4 -.5l.6 .2l.3 -.1l.7 .9l1.3 .0" fill="none" stroke="#FDB462" stroke-width="1.7" stroke-linejoin="round"/>
<text x="264.4" y="152.0" font-size="8.5" fill="#1a1a1a">Sca</text>
<path d="M262.5 184.0l.6 .1l.7 -.4l.6 .4l1.0 -.3l.7 -.7l.9 .8l.7 .1l.6 -.3l.7 .5l.6 -.4l.4 .3l.9 -.9l1.0 .4l.7 -.1l.3 .3l.6 -.4l.7 .2l.6 -.4l.3 .1l1.0 -.4l.7 -.6l.3 .2l.6 -.4l.7 .2l1.3 -.8l1.0 1.1l.3 -.2l.6 .6l.4 .1l.6 .9l.7 .1l.3 .3l.6 -.5l1.0 .8l.6 1.0l.7 .0l.3 -.4l.3 .1l.7 1.3l1.0 -.6l1.3 .8l1.3 .3l.6 -.6l1.0 .4l1.0 .1l.6 -.6l.3 -.1l.7 .6l.9 .1l1.0 -.4l2.3 -.4l.6 .4l.7 -.4l.6 .6l.4 -.2l1.3 -2.8l.9 -6.8l.4 .8l.6 5.0l.3 1.1l.7 1.1l.3 -.1l1.0 -4.3l.3 .0l.6 2.6l.4 .4l.3 .0l1.6 -1.6l.3 .1l.7 .8l.6 .1l.7 -.4l1.6 -2.0l.3 -.2l.7 .1l.6 -.9l1.0 -.7l.6 .1l1.3 -.5l1.3 -1.5l.4 .0l.3 .6l.6 -.5l1.7 1.0l.6 .1l1.3 1.1l.3 -.1l.4 -.3l.3 .1l.3 .6l.3 .1l.4 -.4l.3 -.1l1.3 .6l1.6 .2l.6 -.2l.7 .1l.6 -.4l.7 .8l.3 .1l.7 -.3l.6 .3l.7 -.1l.9 .9l.7 -.2l1.3 .5l.3 -.1l.3 -.5l.3 -.1l.4 -.8l.6 -6.9l.3 -1.0l.7 7.1l.3 1.4l.3 .3l1.3 -.9l.7 -.1l1.9 -1.8l.7 -.2l.6 -.9l.7 -.2l.6 -.7l.4 .0l.6 -1.1l.3 .0l.3 -.2l1.0 -1.1l1.3 -.4l.7 -.9l.6 .2l.3 -.2l.4 .1l.3 .5l1.0 .5l.3 -.3l.6 -2.3l.4 -.5l.9 6.7l1.3 4.7l1.0 .8l.6 .0l1.3 .4l.7 .8l.6 .2l.7 .5l1.3 .4l.3 -.2l.7 -1.4l1.6 -2.6l1.0 -2.4l.9 -1.6l.4 -1.1l.6 -.8l1.6 -3.1l1.0 -.2l1.0 .4l.6 1.0l1.0 .2l.6 .5l.4 .0l.6 -.9l.7 -1.9l.9 -1.7l1.7 -2.4l.6 -.3l.6 .1l.7 -1.1l.6 -.4l1.0 .4l.3 .7l.7 2.3l1.6 3.9l.7 1.0l1.6 .4l1.0 1.2l2.5 1.2l.7 .0l1.0 .4l.6 -.3l1.0 .2l.3 -.5l2.3 -9.8l.3 -.6l2.3 8.2l3.2 8.4l.7 .9l.6 2.0l1.0 1.0l.6 .0l1.0 .5l1.3 .0l.7 -.6l1.6 -2.7l1.3 -1.1l1.3 -2.1l.6 -.6l1.0 1.4l.6 .6l.4 .7l.3 .1l.6 -.8l.7 .3l1.0 -1.8l.6 .0l1.0 -1.1l1.3 -2.4l1.0 -3.7l1.6 -4.8l1.3 -3.0l.3 -.2l1.0 2.9l.6 3.2l1.0 2.8l1.0 4.1l.6 1.7l.3 .5l.7 .4l.3 .4l.7 1.6l1.6 3.0l.3 .1l.3 -.3l.7 .2l.6 -.2l1.6 .9l.7 -.3l.6 .4l.7 -.5l1.0 .7l2.6 .0l.3 .1" fill="none" stroke="#B3DE69" stroke-width="1.7" stroke-linejoin="round"/>
<text x="264.4" y="179.0" font-size="8.5" fill="#1a1a1a">Sep</text>
<path d="M262.5 211.4l.3 .3l.7 .0l.3 .3l1.3 -.6l.6 .6l.7 -.4l.6 .5l1.0 -.5l1.0 .7l1.0 -.5l1.3 -.2l.6 .2l1.9 -.1l.7 -.7l.3 .0l1.0 -.6l.6 .4l1.0 -.4l1.0 .1l.6 -.6l.7 -.2l1.0 .4l.6 .5l.7 .0l.3 .1l.6 .8l1.0 .4l.6 .7l1.0 .1l1.3 1.0l1.0 .4l.6 1.0l.4 -.1l.3 -.5l.3 -.1l1.3 .7l.7 -.5l1.3 -.2l1.6 .3l.6 -.4l.7 .4l1.6 -.1l.6 .4l.4 -.3l.6 -.1l.3 -.2l1.0 .4l.7 -.6l.3 .0l.6 .4l2.0 -2.6l.6 -2.0l.4 -.3l1.6 3.6l.3 .5l.3 .1l.7 -.9l.6 -.3l1.3 -2.4l.3 -.5l.4 -.1l.3 -.6l1.3 -5.7l.3 .4l1.0 5.4l.3 .0l.3 -.2l.7 .0l1.0 -.5l.9 -1.1l.7 -.1l.6 -.4l.3 .1l.7 -.2l1.0 -1.0l.6 -.3l.7 -.9l.3 .1l1.0 1.6l.6 .0l.7 -.4l.6 1.1l.3 .1l.7 .1l.3 -.2l1.0 .7l1.0 -.7l.9 .7l.3 .0l1.0 -.5l1.3 .8l.7 -.2l.6 .4l1.0 .0l.6 .4l.7 -.1l1.0 .4l.6 .0l.7 .4l.6 -.1l.7 .3l.3 -.1l.6 -.7l.3 .0l.4 -1.0l.6 -7.3l.3 -1.2l.7 7.4l.3 1.8l.7 .6l.6 -.7l.7 -.2l.9 -1.2l.7 .1l.6 -.8l2.6 -2.3l.7 -.8l1.6 -.9l1.0 -1.0l.6 .1l1.6 -1.0l1.0 .5l3.3 6.7l.6 .9l1.0 2.0l.3 .3l.3 .0l.7 .5l.6 .1l1.0 .8l.6 .1l.7 1.0l.6 -.3l.7 .6l4.5 -9.1l.7 -.8l1.6 -3.5l.3 -.3l.3 .1l.7 -.4l.6 .8l.4 -.3l.3 .1l1.0 .8l.9 .5l.4 -.1l1.3 -2.0l2.2 -4.5l.7 -.1l.3 .3l.3 -.1l.7 -.7l.6 -1.2l1.3 .8l.3 .5l2.0 5.2l.3 .5l1.3 1.0l.7 1.1l.6 .1l1.3 .6l1.3 1.1l1.0 .3l.9 -.2l1.0 1.0l.3 .0l.7 -.3l.3 -.7l2.3 -9.9l.3 -.6l1.3 3.8l.7 3.5l.6 1.4l1.0 3.1l1.9 4.3l1.3 3.6l.3 .5l1.3 .4l.7 .8l.6 -.5l.4 .2l1.3 -.5l.9 -2.0l2.0 -1.9l.6 -1.5l1.0 -1.1l.3 -.1l1.0 1.4l1.3 1.3l.6 -.9l.7 .0l.6 -1.0l1.0 -.5l.7 -1.1l.6 -.4l1.3 -4.0l1.0 -2.2l2.6 -8.1l1.3 3.7l2.6 9.7l1.9 3.2l1.0 2.3l1.3 2.3l.3 .3l.3 -.2l.3 .1l.4 .4l.6 -.3l.7 .0l1.6 .6l1.0 -.3l1.3 .3l.6 -.2l1.6 1.3l.7 -.6" fill="none" stroke="#A6CEE3" stroke-width="1.7" stroke-linejoin="round"/>
<text x="264.4" y="206.0" font-size="8.5" fill="#1a1a1a">Sgc</text>
<path d="M262.5 238.8l.6 .4l1.7 -.3l.6 .3l.7 -.2l.3 .1l1.0 -.4l.6 .3l.7 .1l.6 .4l.3 .0l.7 -.8l.6 .0l.7 -.4l1.0 .5l.6 -.4l.3 .1l.7 -.2l.9 -.6l1.0 .3l.7 -.6l.6 .3l.3 -.1l.7 .0l1.0 -.6l.9 .0l.4 .2l.6 .0l1.0 .9l1.0 .4l1.2 1.4l1.7 .3l.3 .6l.3 .2l.3 -.2l1.0 .9l1.0 .3l.3 .0l.7 -.8l.3 .1l.3 .7l.3 .1l.7 -.5l.6 .1l1.0 -.4l.7 .5l.6 -.2l.3 .2l1.6 -.2l1.0 .4l.7 -.3l1.3 -.1l.6 .2l.7 .5l.6 -.8l.7 .1l.9 -1.4l1.3 -6.9l.4 .8l.9 4.8l.7 1.1l.3 .0l1.0 -4.1l.3 .1l.6 2.6l.4 .4l.9 -.7l.7 -.9l.3 -.1l.3 .0l.4 .3l.6 -.1l1.0 .9l.6 -1.5l1.0 -1.1l1.3 -.4l.6 .2l.4 -.3l.6 -1.5l.7 -.2l.6 -.6l.7 .1l.6 -.8l1.6 .5l.7 -.1l.6 .6l1.0 -.1l.7 .5l.6 -.1l.7 .8l.6 -.2l.7 .6l.6 .0l.6 .3l.7 -.3l.6 .0l1.0 .2l1.0 .6l.3 -.3l.7 .1l.3 -.3l.3 .0l.7 .5l.3 .0l.3 -.5l.3 -.1l1.0 .9l.7 .1l.9 .8l.4 -.2l.6 .1l.6 -.6l.4 -1.3l.6 -7.5l.3 -1.2l.7 7.8l.3 1.6l1.0 .2l.6 -.3l.7 -.9l.6 -.1l.4 .2l.6 -1.1l.3 .0l.7 -.7l.6 -.2l.7 -.7l.3 .1l.3 -.2l.7 -1.4l.3 -.3l2.3 -1.8l.6 -.1l.3 -.5l.4 -.1l.3 .1l1.0 -.9l.9 2.1l.4 .3l1.3 -3.7l.3 1.2l1.0 7.1l1.6 4.0l.3 .3l.6 -.2l1.0 .4l.3 .3l1.0 .4l1.3 1.2l.7 -.5l.6 -.2l1.0 -2.0l.6 -.7l.7 -1.5l.6 -.8l2.6 -5.4l1.3 -2.2l.7 .0l.6 .6l.7 -.3l.3 .0l.3 .4l.7 .0l.9 1.3l.7 -.9l1.3 -2.7l.6 -.7l1.3 -2.8l1.6 -.5l1.3 -1.6l1.0 1.2l1.6 3.9l.7 2.5l.6 1.0l.7 .1l1.6 1.4l.7 .2l1.6 .9l.6 -.1l.7 .2l1.6 1.0l.3 .0l.3 -.2l1.0 -1.1l1.0 -3.5l.6 -3.3l1.0 -3.1l.3 .3l2.3 8.5l2.9 7.0l1.6 4.4l.7 .1l.3 .4l1.0 -.3l1.0 .2l.6 .7l.3 -.1l.7 -1.3l.6 -.6l2.0 -3.4l1.6 -1.6l1.0 .4l1.3 2.2l1.3 -1.0l1.3 -1.5l.6 -.2l1.0 -.9l1.3 -3.1l.6 -2.3l3.3 -9.3l.3 .3l1.9 7.6l2.0 6.1l1.3 1.7l2.3 4.9l.6 .7l.6 -.3l1.0 .4l1.6 -.2l.7 .2l.6 .6l1.7 -.2l.3 .3l.6 -.3l2.0 .5" fill="none" stroke="#B2DF8A" stroke-width="1.7" stroke-linejoin="round"/>
<text x="264.4" y="233.1" font-size="8.5" fill="#1a1a1a">Shl</text>
<path d="M262.5 266.3l.6 -.6l1.7 .8l.6 -.8l.3 -.1l1.0 .7l1.0 -.1l.6 -.6l1.0 .1l.7 .3l.6 .1l.7 -.3l.6 .1l.3 -.2l.7 .4l.3 .0l1.0 -.7l.9 .1l.7 -.8l.6 .1l.7 -.6l1.3 -.2l.3 .2l1.0 .0l.6 -.4l1.0 1.2l1.0 .1l.6 .7l.7 .0l.6 .8l.7 -.1l.3 .2l1.3 1.3l1.0 .5l.6 .1l.3 .3l.7 .1l.6 -.3l.7 .6l.6 -.4l.7 .3l.6 -.5l1.0 .2l.7 -.2l.6 .4l1.0 .1l.6 -.4l1.0 -.1l1.6 .2l.3 .3l1.3 .1l.7 -.7l.6 .1l1.3 -1.6l1.3 -4.2l.4 .0l.9 3.5l.7 1.1l.3 .0l1.0 -5.7l.3 .1l.6 3.3l.4 .7l.3 -.2l.6 -1.4l.4 -.2l.9 .5l.7 .0l1.0 .9l.3 -.2l.6 -1.2l1.0 -1.1l1.0 -.3l.3 -.4l.6 -.2l.7 -.7l.3 .1l1.3 -.7l1.3 -1.1l1.3 .5l.7 -.2l.9 .3l.7 1.0l1.0 -.2l.9 .3l.7 .6l.3 -.4l.3 .0l1.0 .4l.6 -.5l1.0 .8l.7 -.7l.6 .4l.3 -.2l.7 .3l.3 .0l1.6 .5l1.3 -.1l.7 .7l.6 .2l.7 .6l.3 -.1l.3 -.4l1.3 -.3l.3 -.3l.4 -1.2l.6 -5.9l.3 -.9l.7 6.6l.3 1.4l.7 .0l.6 -.4l1.0 -.2l.6 -.8l.4 -.1l.6 -1.1l1.0 -.5l.6 -.6l.7 .0l.6 -1.0l.4 -.1l.3 .2l.9 -1.9l.4 -.2l.6 .0l1.3 -.9l1.0 .2l1.0 -.9l1.3 1.4l.3 -.1l.6 -2.6l.4 -.4l.3 1.2l1.0 7.2l1.3 3.1l.6 .8l1.6 .2l.7 .9l.3 .1l.6 -.2l.7 .7l1.0 .7l.3 -.1l1.6 -3.3l1.0 -1.2l.6 -1.5l.7 -.7l1.9 -5.1l.7 -.8l.6 -1.7l.3 .1l.7 1.3l.6 -.2l.7 .0l.3 .1l1.0 1.1l1.0 .1l3.2 -5.9l.7 -.4l.9 -1.3l.3 .3l.4 -.1l.3 -.3l.3 .0l1.0 -.8l.6 1.2l1.0 3.2l2.0 4.1l3.9 2.4l.3 .2l.6 -.2l.7 .9l.9 -.1l.7 .4l1.0 -.2l.6 -.6l1.0 -4.7l1.6 -5.8l1.3 4.1l1.0 4.1l1.3 3.3l.9 1.7l2.0 5.7l1.0 1.8l.3 .2l.3 -.4l.3 .0l.4 .3l.9 .2l.4 -.3l.6 .2l1.3 -1.6l.7 -1.3l.6 -.2l1.0 -1.5l.6 -1.5l1.0 -1.0l.3 .2l.7 1.2l.6 .4l.7 .7l.3 .1l.3 -.1l.7 -.9l.9 -.3l1.0 -1.1l.7 .1l.3 -.3l5.2 -15.2l.3 .4l3.6 12.7l1.9 3.5l1.0 2.3l.6 .8l.7 1.4l.3 .3l.6 -.4l.4 -.1l.3 .3l.6 -.4l.7 .8l.3 .1l1.0 -.2l.6 .2l.4 -.2l1.6 .7l.3 -.2l.7 .5l.6 .0l1.0 -.3" fill="none" stroke="#FB9A99" stroke-width="1.7" stroke-linejoin="round"/>
<text x="264.4" y="260.1" font-size="8.5" fill="#1a1a1a">Sho</text>
<path d="M262.5 293.7l.3 -.2l.7 .3l.6 -.2l1.3 .5l1.3 -.3l.7 .4l.9 -.3l.7 -.5l.6 .4l1.3 -.3l1.0 .5l.3 .0l.4 -.4l1.2 .1l.7 -.5l1.0 -.1l.9 -.4l.7 .1l1.6 -.9l.3 .2l.7 -.7l1.0 .8l1.6 .6l1.6 1.5l.6 .1l.7 .7l2.6 .9l1.0 1.1l.9 -.5l2.3 .6l1.0 -.5l.3 .1l1.0 -.6l1.3 .6l.6 -.3l.7 .4l.6 -.4l.3 .0l1.0 .6l1.0 -.5l1.6 .3l.7 -.2l.9 -1.6l.4 -.3l1.3 -2.9l.9 1.8l.7 2.2l.3 .4l1.0 -.5l.9 -1.8l1.0 -.8l1.0 -2.0l1.3 -3.9l.6 1.6l.7 2.8l.3 .2l.7 -.7l.3 -.1l.3 .2l.7 -.8l.6 -.1l.6 -.6l.7 .0l.3 -.2l1.0 -1.2l.6 -.3l.7 -.1l1.0 -1.2l.3 .0l.6 1.1l.4 .1l.6 -.2l1.0 .4l.6 .5l.7 -.4l.3 .1l1.3 1.4l1.0 -.7l.3 .7l.3 .3l.3 -.3l.4 .0l.3 .2l1.0 -.5l.6 .5l.7 -.3l.6 .2l.7 .7l.6 -.5l1.0 .8l.3 .1l.3 -.1l.7 .5l1.3 .0l1.0 .3l.6 -.3l.6 .0l.4 -1.4l.6 -7.5l.3 -.9l.7 7.3l.3 1.7l1.0 .1l.6 -.5l.4 .0l1.3 -1.3l.3 -.1l.6 -.7l.4 .0l.6 -.7l.7 -.4l.9 -1.2l.7 -.1l.9 -1.3l.4 -.1l.3 .3l.3 .0l.7 -1.1l.3 .0l.6 -.6l1.0 -.3l1.0 .3l.3 .4l.7 1.3l.6 .8l1.0 2.8l1.3 2.1l1.0 2.2l.6 .5l.6 .1l.7 .3l.6 -.3l.7 .9l1.6 1.4l.3 -.1l1.0 -.9l1.6 -3.0l2.0 -2.8l1.9 -4.7l1.3 -2.3l.3 -.2l.7 .7l.6 -.2l.4 .1l.6 .6l.3 .0l1.0 1.4l.3 -.1l1.0 -1.6l1.0 -2.2l1.0 -1.1l.9 -2.1l1.3 -.3l1.0 -.6l.6 -1.1l.4 .0l.3 .5l1.9 4.3l.7 2.0l1.0 1.9l.3 .1l.6 .8l.7 -.3l1.3 .8l1.0 1.0l.6 -.4l.3 .1l2.3 .9l.3 .4l.3 -.1l.4 -.5l.6 -.2l.3 -.9l2.3 -10.2l2.3 9.2l1.9 4.3l.7 2.2l1.6 3.4l.6 1.9l1.3 .2l.7 -.3l1.0 .7l.6 -.6l.7 -.3l1.3 -2.1l.6 -.7l.7 -.4l.3 -.8l1.6 -2.1l1.3 1.3l.6 1.3l.4 .2l.6 -1.0l.3 .1l1.0 -1.2l.3 .0l1.0 -.8l.7 -.3l1.3 -2.4l.9 -3.3l.7 -1.2l.6 -2.7l1.3 -3.6l.7 -1.2l.3 .3l.3 1.0l1.0 4.1l1.3 3.6l.6 2.8l.4 .8l.6 .7l2.0 4.2l.6 .3l1.0 2.7l.6 .4l.7 -.5l.3 .3l.6 .0l.7 .4l1.0 -.4l.6 .4l.3 -.2l.7 .3l.3 -.3l.7 .7l1.3 -.3l.9 .9l.7 -.5" fill="none" stroke="#FDBF6F" stroke-width="1.7" stroke-linejoin="round"/>
<text x="264.4" y="287.2" font-size="8.5" fill="#1a1a1a">Spn</text>
<path d="M262.5 321.1l1.0 .1l.6 -.5l1.6 .8l1.0 .1l.7 -.4l.9 -.2l.4 .3l.6 -.2l.7 .2l.6 -.7l.7 .5l1.6 .2l.6 -.6l1.3 -.1l1.6 -.8l.7 -.1l.6 -.4l1.0 .3l1.3 -.4l1.0 .7l.6 -.2l.7 .7l.3 .0l.7 .9l.9 .6l.3 -.1l.7 .5l.6 .0l.7 .7l.6 -.1l1.0 .8l.7 -.4l1.3 .5l.6 -.6l.7 .2l.9 .7l1.0 -.7l1.0 .8l1.6 -.7l1.0 .3l.6 -.1l.7 .4l1.3 -.5l.6 .1l1.0 -.6l.6 .2l.7 -.5l.6 .1l1.3 -3.3l.4 -.2l1.9 3.5l.6 -.1l.4 .2l.3 -.1l.6 -1.3l2.0 -2.5l1.3 -3.5l.3 .2l1.3 3.7l1.6 -.9l.7 -.9l.6 -.2l.7 -.6l1.6 -.5l1.0 -.8l.3 .2l.3 -.2l.3 -.7l.4 -.1l.9 .9l3.3 .8l1.0 .8l.9 -.5l.7 .5l.6 -.2l1.0 .7l1.0 -.9l.6 .6l.3 .1l.7 -.4l.6 .4l1.0 .1l1.6 .8l.7 -.4l.6 .7l1.0 -.1l.7 .5l.3 -.4l.6 .1l.3 -.4l.4 -1.2l.6 -5.3l.3 -.7l1.0 6.7l.3 .3l.7 .1l.6 -.9l1.3 -.5l1.3 -.8l1.7 -1.3l.6 -.8l.7 .0l.6 -.8l1.3 -1.0l1.3 -.4l.6 -.7l1.0 -.4l.7 .0l.3 .1l2.9 4.7l1.6 3.8l.4 .3l.6 .0l.6 1.3l.7 -.3l1.0 .2l.9 .8l.7 .2l.6 .9l.4 .0l.9 -1.4l.7 -1.5l1.0 -.9l.9 -2.4l.7 -.6l1.3 -2.2l.3 -.9l1.6 -2.9l1.0 .6l.3 -.1l1.3 .5l1.0 .8l.6 .0l.4 -.3l.6 -1.8l.7 -.1l2.9 -4.2l.3 -.4l.6 .5l1.0 -1.3l.3 -.2l.7 .2l.3 .4l2.3 5.7l.3 .5l.7 .5l.6 .9l.7 -.3l.6 .9l1.3 .5l.7 .9l1.2 .1l.4 -.4l.3 .0l1.3 1.2l.6 -.5l.7 .1l.3 -.6l.7 -1.8l1.3 -6.1l.3 -1.0l.3 -.2l.7 1.5l.6 2.5l1.6 4.7l4.2 9.3l.4 .5l.3 .2l1.3 -.4l.6 .3l.7 -.1l.3 .3l.7 -.6l.6 -1.1l.7 -.3l.9 -1.9l.7 -.3l.3 -.7l.3 -.3l.3 .0l.7 -.9l.3 -.2l.3 .3l1.0 1.0l.7 1.1l.3 -.1l.3 -.7l.3 -.2l.4 .1l1.6 -1.7l.3 .0l.7 -.7l.6 -.1l1.3 -3.6l.7 -1.1l.6 -2.2l.6 -1.3l1.7 -4.3l.3 .2l.3 .6l3.3 10.4l.9 1.7l.7 1.7l1.0 1.3l.6 1.6l.7 .5l.3 .6l.6 .1l.7 -.5l.6 .8l1.0 -.5l.6 .0l.7 .9l.3 .1l.7 -.5l1.3 .2l.3 -.2l.6 .5l1.0 .2l.7 -.4l.3 .1" fill="none" stroke="#CAB2D6" stroke-width="1.7" stroke-linejoin="round"/>
<text x="264.4" y="314.2" font-size="8.5" fill="#1a1a1a">Svi</text>
<rect x="254.2" y="17.8" width="198.70" height="320.60" fill="none" stroke="#333333" stroke-width="1.1"/>
<line x1="262.50" y1="338.4" x2="262.50" y2="341.2" stroke="#333333" stroke-width="0.9"/>
<text x="262.50" y="349.2" font-size="8.3" fill="#4D4D4D" text-anchor="middle">400</text>
<line x1="288.44" y1="338.4" x2="288.44" y2="341.2" stroke="#333333" stroke-width="0.9"/>
<text x="288.44" y="349.2" font-size="8.3" fill="#4D4D4D" text-anchor="middle">600</text>
<line x1="314.38" y1="338.4" x2="314.38" y2="341.2" stroke="#333333" stroke-width="0.9"/>
<text x="314.38" y="349.2" font-size="8.3" fill="#4D4D4D" text-anchor="middle">800</text>
<line x1="340.32" y1="338.4" x2="340.32" y2="341.2" stroke="#333333" stroke-width="0.9"/>
<text x="340.32" y="349.2" font-size="8.3" fill="#4D4D4D" text-anchor="middle">1000</text>
<line x1="366.26" y1="338.4" x2="366.26" y2="341.2" stroke="#333333" stroke-width="0.9"/>
<text x="366.26" y="349.2" font-size="8.3" fill="#4D4D4D" text-anchor="middle">1200</text>
<line x1="392.20" y1="338.4" x2="392.20" y2="341.2" stroke="#333333" stroke-width="0.9"/>
<text x="392.20" y="349.2" font-size="8.3" fill="#4D4D4D" text-anchor="middle">1400</text>
<line x1="418.14" y1="338.4" x2="418.14" y2="341.2" stroke="#333333" stroke-width="0.9"/>
<text x="418.14" y="349.2" font-size="8.3" fill="#4D4D4D" text-anchor="middle">1600</text>
<line x1="444.08" y1="338.4" x2="444.08" y2="341.2" stroke="#333333" stroke-width="0.9"/>
<text x="444.08" y="349.2" font-size="8.3" fill="#4D4D4D" text-anchor="middle">1800</text>
<line x1="251.39999999999998" y1="326.60" x2="254.2" y2="326.60" stroke="#333333" stroke-width="0.9"/>
<text x="249.20" y="329.50" font-size="8.3" fill="#4D4D4D" text-anchor="end">0</text>
<line x1="251.39999999999998" y1="244.31" x2="254.2" y2="244.31" stroke="#333333" stroke-width="0.9"/>
<text x="249.20" y="247.21" font-size="8.3" fill="#4D4D4D" text-anchor="end">3</text>
<line x1="251.39999999999998" y1="162.02" x2="254.2" y2="162.02" stroke="#333333" stroke-width="0.9"/>
<text x="249.20" y="164.92" font-size="8.3" fill="#4D4D4D" text-anchor="end">6</text>
<line x1="251.39999999999998" y1="79.73" x2="254.2" y2="79.73" stroke="#333333" stroke-width="0.9"/>
<text x="249.20" y="82.63" font-size="8.3" fill="#4D4D4D" text-anchor="end">9</text>
<text x="353.8" y="362.6" font-size="9.8" fill="#000" text-anchor="middle">Wavenumber<tspan dx="1.6">/</tspan><tspan dx="1.4">cm</tspan><tspan dy="-4.6" font-size="7.2">-1</tspan></text>
<text transform="translate(241.0,176.6) rotate(-90)" font-size="9.9" fill="#000" text-anchor="middle">Intensity (arbitrary units)</text>
<line x1="493.40" y1="17.8" x2="493.40" y2="338.4" stroke="#D4D4D4" stroke-width="0.8" stroke-dasharray="3,3.4"/>
<line x1="506.34" y1="17.8" x2="506.34" y2="338.4" stroke="#E0E0E0" stroke-width="0.8" stroke-dasharray="3,3.4"/>
<line x1="519.28" y1="17.8" x2="519.28" y2="338.4" stroke="#D4D4D4" stroke-width="0.8" stroke-dasharray="3,3.4"/>
<line x1="532.22" y1="17.8" x2="532.22" y2="338.4" stroke="#E0E0E0" stroke-width="0.8" stroke-dasharray="3,3.4"/>
<line x1="545.16" y1="17.8" x2="545.16" y2="338.4" stroke="#D4D4D4" stroke-width="0.8" stroke-dasharray="3,3.4"/>
<line x1="558.10" y1="17.8" x2="558.10" y2="338.4" stroke="#E0E0E0" stroke-width="0.8" stroke-dasharray="3,3.4"/>
<line x1="571.04" y1="17.8" x2="571.04" y2="338.4" stroke="#D4D4D4" stroke-width="0.8" stroke-dasharray="3,3.4"/>
<line x1="583.98" y1="17.8" x2="583.98" y2="338.4" stroke="#E0E0E0" stroke-width="0.8" stroke-dasharray="3,3.4"/>
<line x1="596.92" y1="17.8" x2="596.92" y2="338.4" stroke="#D4D4D4" stroke-width="0.8" stroke-dasharray="3,3.4"/>
<line x1="609.86" y1="17.8" x2="609.86" y2="338.4" stroke="#E0E0E0" stroke-width="0.8" stroke-dasharray="3,3.4"/>
<line x1="622.80" y1="17.8" x2="622.80" y2="338.4" stroke="#D4D4D4" stroke-width="0.8" stroke-dasharray="3,3.4"/>
<line x1="635.74" y1="17.8" x2="635.74" y2="338.4" stroke="#E0E0E0" stroke-width="0.8" stroke-dasharray="3,3.4"/>
<line x1="648.68" y1="17.8" x2="648.68" y2="338.4" stroke="#D4D4D4" stroke-width="0.8" stroke-dasharray="3,3.4"/>
<line x1="661.62" y1="17.8" x2="661.62" y2="338.4" stroke="#E0E0E0" stroke-width="0.8" stroke-dasharray="3,3.4"/>
<line x1="674.56" y1="17.8" x2="674.56" y2="338.4" stroke="#D4D4D4" stroke-width="0.8" stroke-dasharray="3,3.4"/>
<line x1="484.8" y1="283.56" x2="683.3" y2="283.56" stroke="#D4D4D4" stroke-width="0.8" stroke-dasharray="0.9,2.4"/>
<line x1="484.8" y1="198.22" x2="683.3" y2="198.22" stroke="#D4D4D4" stroke-width="0.8" stroke-dasharray="0.9,2.4"/>
<line x1="484.8" y1="112.88" x2="683.3" y2="112.88" stroke="#D4D4D4" stroke-width="0.8" stroke-dasharray="0.9,2.4"/>
<line x1="484.8" y1="27.54" x2="683.3" y2="27.54" stroke="#D4D4D4" stroke-width="0.8" stroke-dasharray="0.9,2.4"/>
<line x1="484.8" y1="326.23" x2="683.3" y2="326.23" stroke="#E0E0E0" stroke-width="0.8" stroke-dasharray="0.9,2.4"/>
<line x1="484.8" y1="240.89" x2="683.3" y2="240.89" stroke="#E0E0E0" stroke-width="0.8" stroke-dasharray="0.9,2.4"/>
<line x1="484.8" y1="155.55" x2="683.3" y2="155.55" stroke="#E0E0E0" stroke-width="0.8" stroke-dasharray="0.9,2.4"/>
<line x1="484.8" y1="70.21" x2="683.3" y2="70.21" stroke="#E0E0E0" stroke-width="0.8" stroke-dasharray="0.9,2.4"/>
<rect x="484.5" y="4" width="198.5" height="11.5" rx="1.6" fill="#548235"/>
<text x="583.8" y="13.1" font-size="9.2" fill="#fff" fill-opacity="0.95" text-anchor="middle">Fungi (n = 28200)</text>
<text x="461.6" y="8.7" font-size="11" font-weight="bold" fill="#000">c</text>
<path d="M493.4 60.4l.3 -1.1l.3 -.2l.4 .3l.6 -.4l1.0 -.7l1.0 -1.3l.6 -.3l.3 .1l.7 .9l.6 1.4l1.0 .0l.6 .4l.7 .8l.6 -1.4l.4 .4l.6 .2l.3 .3l.7 -.9l.3 .9l.3 .0l.3 -1.0l.4 .0l.6 .9l.3 .1l.7 -.6l.6 .7l.7 1.8l.3 -.1l1.0 -2.6l.3 .3l.3 .9l.3 .3l.4 -.3l.3 .0l.6 1.6l.7 -.1l.6 -.9l.7 .9l.6 -.2l.7 .9l.6 -.6l1.0 1.2l.3 -.5l.3 .1l.7 1.0l.6 -.4l.4 .3l.3 .1l.3 -.7l.3 .2l.7 1.4l.6 -.8l1.0 .8l.6 -1.2l2.0 .3l.6 -.9l.7 1.1l.6 -.5l.3 .0l.4 .4l.3 -.1l1.0 -1.3l.9 .6l.7 -1.1l.3 .3l.3 .1l.3 -.3l.7 .7l.6 .0l.7 -.9l.6 .3l1.0 -.2l.7 -1.1l.6 .3l.6 -.1l.4 -1.5l.9 -13.1l1.0 13.1l.3 .7l.7 .7l.3 .0l.3 .6l.4 -.1l.3 -.7l.3 .4l.3 1.1l.3 .3l1.0 -.3l.3 .2l.7 1.1l.3 -.2l.3 .1l.4 .8l.3 .1l.6 -1.4l1.0 -.7l1.0 -1.1l.6 .2l.3 -.3l.7 -1.2l.3 .1l.3 .5l.4 -.2l.9 -2.6l.4 .1l.3 .7l.6 -.2l1.3 1.8l1.0 .2l1.0 .0l.3 -.7l.3 -.1l.3 .6l.7 -1.2l.6 1.3l.3 -.1l.4 -.8l.3 .0l.3 .6l.7 -.9l.6 .7l.7 -1.8l1.3 1.4l.3 -.2l.6 .7l1.0 -1.5l.3 .1l.7 1.4l.6 -1.6l.3 .7l.4 .2l.6 -1.4l1.0 -.1l.6 1.0l1.0 -1.1l.3 -2.0l.7 -8.2l.3 1.3l.6 6.2l1.0 .6l.7 -.9l.6 .3l.3 -.1l.3 -.6l.7 .5l.6 -2.3l.4 .2l.9 -.7l.4 -.5l.3 .2l.3 -.2l.3 -.8l.4 .0l.3 -.6l.3 -1.4l.3 -.1l.3 .4l.7 -1.2l.6 .4l1.0 -3.1l1.3 -1.8l.3 .2l1.0 -.6l.3 -1.0l1.0 -9.8l.3 .6l1.0 10.2l1.6 4.3l.6 .5l.7 2.3l1.0 2.2l.6 2.9l.7 .6l1.9 7.6l.3 .2l.3 -.4l.7 -1.4l2.9 -4.9l.7 -.4l.3 .2l.3 -.1l1.3 -2.0l.6 -.4l1.0 -1.2l.3 .0l.4 .3l.6 -.9l.3 .0l.7 .4l.3 -.1l.3 .1l.7 1.4l.6 -.8l.7 .4l.6 -4.5l.7 -2.6l.9 -7.0l.4 -1.2l.6 1.5l.3 .1l1.0 3.4l.3 -.5l1.3 -4.4l.3 -.4l1.0 3.9l.7 1.0l1.2 5.3l.4 .3l.3 -1.1l.3 -.4l.7 2.0l.9 .4l.7 -.2l.6 1.5l.4 .0l.3 .3l1.3 2.6l1.3 4.4l.3 -.1l1.9 -10.5l1.6 -6.6l.4 -.6l1.6 6.7l.6 4.7l.7 .1l.6 3.5l1.6 4.0l1.3 4.6l.7 3.3l.3 .3l.7 -.1l.3 -1.1l.3 -.2l.3 .4l.7 -1.7l.6 .0l.7 -2.3l.3 -.5l.3 .1l.3 -.2l.4 .1l.6 -2.7l.3 -.4l.4 .3l.3 -.2l.6 -1.7l.7 -.9l.9 -3.5l.7 -1.2l.3 -.3l.7 1.1l.6 .5l.7 3.0l.3 .4l1.9 -.2l.7 -1.2l.6 .7l.3 -.6l.7 -.1l1.0 -3.1l.6 -.6l1.9 -5.4l.4 -.1l.3 1.0l.3 .3l1.0 4.6l1.6 5.1l.6 3.4l1.7 2.5l.3 .3l.3 .0l.7 1.0l.6 .3l.7 -.9l.3 .1l.9 1.4l.4 .2l.3 .0l.6 -.5l1.0 1.4l.3 -.1l1.3 -1.6l.4 .4l.3 1.4l.3 .3l.3 -.2l.3 .3l.7 -1.4l.6 .5l1.0 -.4l.7 -.8" fill="none" stroke="#E41A1C" stroke-width="1.7" stroke-linejoin="round"/>
<text x="495.3" y="51.0" font-size="8.5" fill="#1a1a1a">CaAl</text>
<path d="M493.4 103.1l.6 -.9l.7 .1l1.6 -.7l1.0 -2.0l1.0 1.4l.6 -.5l1.0 1.5l.3 -.1l.3 -.9l.7 1.3l.6 .7l.3 -.1l.7 -1.1l.3 .0l.7 .6l.6 .0l.6 .3l.7 .6l.6 -1.1l.4 -.2l.3 .2l.6 -.2l1.0 2.0l.7 -1.0l.3 -.1l.6 .6l.3 -.2l1.3 1.2l1.0 -.8l1.0 1.4l.6 .1l.7 -.5l.6 .1l.7 1.7l.6 -1.4l.7 1.2l.3 .0l.3 -.5l1.0 1.0l.6 .2l.7 -.3l.3 .4l.3 .1l.7 -.1l.6 -1.1l.7 1.3l.3 -.1l.3 -.8l.3 .0l.7 .4l.6 -.7l1.0 .7l1.3 -1.1l.6 -.1l.4 .0l.6 1.1l.3 -.2l.7 -1.2l.6 .0l.7 -.5l.6 .0l.3 -.5l.4 -.1l1.3 .9l.6 -.5l.3 .0l.7 -1.5l.3 .2l.3 1.0l.3 -.3l.4 -1.6l.3 -3.5l.6 -10.4l.7 10.0l.3 3.2l.3 .9l.7 1.3l.3 -.3l.7 .5l.3 -.1l.6 1.2l.3 -.2l.4 .2l.3 .7l.6 .7l.4 -.2l.3 .2l.3 1.0l.3 .4l.7 -.8l1.0 .2l.3 -.2l.9 -2.9l.4 -.3l.6 .1l.3 -.2l.7 -1.3l.6 -.4l.4 .2l.6 -1.1l.7 -.5l.3 -.1l.3 .6l.3 .0l.3 -.5l.7 1.5l.6 -.2l.4 .5l.3 .0l.6 -.5l.7 .6l.3 -.3l.7 .7l.9 -.6l.7 .8l.9 -.5l1.0 .7l1.0 -2.0l.3 .3l.7 1.2l.3 .1l.3 -.4l.6 -.2l1.0 -1.1l.3 -.1l1.0 2.0l.7 -2.1l.6 -.2l.7 1.1l.6 -.4l.3 .3l.3 -.1l.7 -1.2l.3 -1.9l.7 -9.3l.3 .7l.6 8.0l.4 .8l.6 .1l.3 -.2l1.0 -1.5l.3 -.4l.3 .1l.7 -1.3l.3 .5l1.0 -.4l1.9 -3.1l.7 -2.2l.3 -.2l.3 .6l.3 .1l.7 -1.0l.3 -.6l.7 -2.2l.6 1.2l1.0 -2.1l.6 -.1l.4 -1.1l.3 -.5l.3 .2l.3 -.8l1.0 -8.9l.3 -.1l1.0 11.4l.3 .8l.3 -.3l.4 .0l.6 2.1l.3 .2l2.6 8.6l.7 1.3l1.9 6.4l.3 .0l.3 .5l.4 .1l1.9 -5.9l.3 .1l.4 .6l.3 .1l1.3 -3.4l.3 -.1l.3 .7l.3 -.1l.4 -1.1l.3 -.5l.3 .2l.7 -.3l.9 -1.1l.4 .2l.6 -1.2l.7 .9l.6 -.5l.3 .1l.7 1.4l.6 .7l.3 -.1l1.3 -5.0l1.0 -7.3l.7 -3.2l.3 .2l1.3 4.0l.3 .2l.3 -.6l1.3 -5.3l1.0 3.7l.6 .6l.4 1.0l.6 3.4l1.0 1.0l.6 -.1l.3 .3l.7 -.1l.6 2.6l.7 -.1l.6 1.7l.4 .5l.6 .4l.6 1.4l1.0 3.3l.3 .5l.4 .1l.3 -.3l.6 -2.6l.7 -4.5l.6 -2.1l.7 -3.4l.9 -3.9l.4 -.2l.6 3.3l.3 .2l.4 1.1l.6 4.2l1.6 4.0l1.0 5.0l1.9 5.1l.7 2.3l.3 .6l.7 .5l.3 .0l.6 -1.1l.7 -.2l.9 -1.2l.7 -1.5l.3 .2l.7 -2.3l.3 -.2l.3 .1l1.0 -2.6l.6 -.6l1.0 -1.7l1.3 -4.8l.3 -.3l.7 1.4l1.3 4.1l.9 .5l.4 -.5l1.2 -.8l1.0 1.3l.3 -.1l1.0 -2.5l.3 -.1l.4 -.5l.6 -2.5l.7 -1.6l.3 -.3l.6 -2.0l.7 -.4l.3 .5l1.0 4.4l.6 1.0l1.3 4.0l1.0 4.8l.3 .8l.3 .4l.3 .1l.4 .5l.3 .3l.6 -1.6l.7 1.4l.3 .1l.3 -.3l.4 .2l.3 .8l.3 .3l.3 -.5l.3 .0l.7 1.2l.3 .3l.7 -1.3l.3 -.3l.6 .4l.4 .8l.3 .1l.3 -.7l1.0 -.5l.6 .9l.3 .2l.4 .0l.6 -1.2l.7 1.5l.6 -1.5l.3 .2l.4 .6" fill="none" stroke="#377EB8" stroke-width="1.7" stroke-linejoin="round"/>
<text x="495.3" y="93.7" font-size="8.5" fill="#1a1a1a">CaGl</text>
<path d="M493.4 145.7l.3 .1l1.6 -2.2l.7 .1l.6 -1.2l.7 -.5l1.3 1.8l.6 -.8l.7 1.9l.6 -.5l.3 .2l.4 .5l.3 .1l.6 -.3l.7 .4l.3 .0l.7 -1.4l.6 1.5l1.0 -1.2l.6 .4l.3 .7l.4 .2l.3 -.5l1.0 .4l.6 .5l.7 -.5l.6 .7l.6 -.7l.7 -.3l.3 .1l.3 .9l.4 .2l.3 -.5l.6 1.1l.4 -.6l.3 .0l.3 .9l1.0 .8l.6 -1.0l.7 .1l.6 .6l.3 .1l.7 1.3l.6 -2.2l.4 -.5l.3 .4l.3 1.1l.7 1.2l.3 .2l.6 -.8l.7 .9l.6 .5l.7 -1.3l.6 .2l.3 -.6l.4 .1l.6 1.5l1.3 -1.1l1.0 .3l.3 -.4l.6 .0l.7 -1.2l.6 .9l.4 .0l.9 -1.5l.7 1.3l1.3 -1.1l.6 .6l.7 -1.6l.3 -.2l.6 1.0l.4 -.2l.9 -1.3l.3 -.8l.7 -6.0l.6 -10.6l1.0 15.4l.3 1.8l.7 .0l.3 .2l2.3 3.3l.3 .0l.3 -.2l.7 .4l.3 -.1l.3 .2l.3 .5l.4 -.2l.9 -.9l.4 .0l.6 -1.0l.3 .4l.3 .0l1.0 -1.5l1.3 -.9l1.0 -2.1l.3 -.1l.3 .6l.4 -.1l.6 -.9l.3 -.1l1.0 2.5l.3 .1l.3 -.2l.4 -.5l.3 .0l.6 1.2l.7 -.7l.3 .3l.7 -1.2l.3 .0l.6 .2l.7 1.2l.3 .2l1.0 -1.3l.6 .0l.7 -.5l.9 1.3l.7 -1.3l.6 .9l1.0 -.9l.3 .1l.3 -.3l.4 -.7l.6 .1l.3 -.4l.4 .2l.3 .8l.3 .0l.3 -.6l.4 -.2l.6 1.1l.6 -1.1l.7 -.4l1.0 -10.1l.3 .4l.6 7.1l.4 .8l.9 -.7l.7 -1.2l.6 .6l.7 -.6l1.3 -.5l.6 -1.8l.3 .3l.4 .0l.3 -.4l.3 -.1l.7 -1.4l.6 -.3l.3 -1.0l1.0 -1.7l.3 -.3l.7 -.1l.6 -1.5l2.0 -3.5l.6 .5l.3 -.8l.3 -2.3l.7 -6.1l.3 .2l1.0 9.5l.3 1.3l.7 1.1l.6 1.9l1.0 .8l1.6 5.2l2.3 9.1l.3 .8l.6 .6l.7 -.8l.6 -2.0l.3 -.5l.4 .1l1.9 -3.6l.3 -1.1l.4 -.3l.3 1.0l.3 .0l1.0 -2.1l.6 -.4l.3 -.5l.4 -.1l.3 .4l.6 .2l.4 .3l1.3 -2.1l.3 .3l.6 1.3l.3 .0l.4 -.9l.3 -.2l.3 .8l.3 .3l.4 -.4l1.3 -8.6l1.3 -4.9l.3 -.2l.3 .4l1.3 2.5l.3 -.6l.3 -1.5l1.0 -1.7l.3 .1l1.3 3.6l.7 .9l.9 3.9l.7 .0l.6 1.3l.4 .1l.3 -.4l.3 -.1l.3 .2l1.0 1.2l.7 2.0l.3 .3l.3 -.7l.3 .1l.7 3.0l1.3 3.0l.3 -.3l1.0 -3.6l.6 -4.9l1.0 -4.2l.6 -.9l.7 -2.3l.6 2.9l1.0 2.5l1.3 6.0l1.0 2.5l.9 4.4l.3 .9l1.0 1.6l1.3 5.3l.3 .2l.7 -.7l1.0 -1.9l.6 -.2l.6 -1.5l.7 .4l.3 -.1l.7 -2.1l.6 -1.1l.7 -.6l.6 -2.1l.3 -.3l.7 .2l.3 -.9l1.3 -6.6l.3 -.6l1.3 4.1l1.0 4.5l.6 -1.4l1.3 .3l.7 -1.3l.9 .2l1.0 -2.4l.3 .1l.4 -.5l.9 -3.3l1.0 -1.2l.6 -1.9l.4 -.3l.3 1.2l.6 1.0l1.0 4.9l.7 1.9l.6 1.3l.6 2.9l1.0 3.1l.7 .3l.6 .7l.3 .7l.4 .0l.3 -.6l.6 1.1l.4 -.2l.3 -.8l.3 .2l.3 1.1l.3 .3l.4 -.6l.3 .2l.6 .9l.4 -.2l.3 -.5l.3 .2l.3 .8l1.0 -.4l.7 .4l.6 -1.1l1.0 .5l.9 -.7l.7 .1l.6 -.8l.4 .5" fill="none" stroke="#4DAF4A" stroke-width="1.7" stroke-linejoin="round"/>
<text x="495.3" y="136.3" font-size="8.5" fill="#1a1a1a">CaGu</text>
<path d="M493.4 188.4l.6 -1.3l.4 .3l.6 -.6l.7 -.2l.3 -.6l.6 -.2l1.0 -1.6l.3 .3l.7 1.6l.3 .4l.3 .0l.7 1.3l.6 -.6l.3 .1l1.3 1.3l1.3 -1.0l.7 .6l.6 -.5l.3 .0l.4 -.5l.6 .6l.3 -.4l.4 .1l.6 1.1l.3 .2l.4 -.8l.3 -.2l.3 .6l.7 -.1l.3 .2l.3 1.0l.3 .2l.3 -.6l.7 1.0l.6 -.4l.4 .2l.3 -.1l.3 -.4l.3 .2l.4 -.1l.3 -.3l1.0 1.4l.6 -.4l.3 .9l.7 -.2l.3 1.0l.3 .3l.7 -1.3l.6 -.1l.3 .2l.7 1.6l1.0 -1.1l.6 .9l.3 .0l1.0 -1.6l.6 1.1l.7 -.7l.6 -.3l.7 1.1l1.0 -.3l.3 -.4l.6 .8l.7 -.8l.9 -.1l.7 .5l1.0 -.8l.6 -1.4l.3 -.1l.7 1.1l.3 -.3l.6 .9l.7 -1.2l.6 -.1l.7 -1.0l.3 .2l.7 -.2l.9 .4l.3 -.4l.7 -4.2l.6 -6.9l.7 6.6l.3 2.5l.3 1.1l.4 .3l.3 -.3l.3 .3l1.0 2.0l.6 -.4l.7 .8l.3 -.3l1.0 .5l.6 1.5l.3 .1l.4 -.3l.3 -1.1l.3 -.4l.3 .4l1.0 -.3l.3 -.2l.3 -.7l.7 .0l.3 -.5l.7 -.4l.6 -1.1l.3 .3l.4 .0l.9 -2.2l.7 .7l.3 .0l.3 .4l.7 -.5l.6 .5l.3 -.3l.4 .0l.6 .9l.7 .5l.6 -.5l.3 .8l.4 .2l.9 -1.5l.7 1.4l.3 .0l.6 -1.1l.7 -1.7l1.0 2.0l.6 .5l.7 -1.3l.3 -.2l.6 .7l.7 -.2l.6 .4l.3 .0l.7 -1.1l.6 .4l.7 -.9l1.0 -.2l.6 .9l1.0 .1l.3 -1.3l.3 -3.5l.7 -11.3l.3 1.5l.6 11.1l.4 .8l.3 -.5l.6 .3l.4 -.4l.6 -1.7l.3 -.2l.3 .0l.7 -.8l.6 .7l.4 -.3l.6 -.8l.7 -2.3l.9 -.4l.4 .3l.6 -2.1l.6 .2l1.0 -2.1l.3 .0l.4 -.2l.6 -1.2l.3 .2l1.0 -.8l1.0 -1.5l.6 -2.0l.3 -1.9l.7 -6.4l.3 -.1l1.0 11.6l.3 .6l1.3 1.4l.6 1.1l1.3 5.5l1.3 2.8l.7 2.3l.3 .2l.3 .7l1.0 5.9l.3 -.2l1.3 -3.4l1.3 -1.3l.7 -2.6l.3 -.6l.3 -.1l.3 -.5l.7 -.4l.3 -.9l.3 -.3l.7 1.0l.3 -.2l.6 -2.1l.7 .8l1.3 -1.8l.6 1.1l.4 .3l.6 -1.0l.6 1.3l.4 -.4l.6 -.2l.7 .7l1.9 -12.1l.3 -1.1l.4 -.5l.3 .1l.3 -.2l.6 2.2l.4 .1l.3 .3l.3 -.1l1.0 -3.7l.3 -.6l.3 -.1l.4 .7l.6 3.2l.7 1.0l.9 3.2l.7 .7l.6 2.1l.3 -1.3l.4 -.3l.6 1.8l.7 1.0l.6 .4l.3 .6l.4 .1l.3 -.2l.3 .4l1.3 4.2l.6 .3l.7 .8l.3 -.7l.7 -4.2l1.3 -6.2l1.6 -5.6l.6 2.7l1.0 2.9l1.0 6.0l.6 2.0l.7 2.9l1.6 4.0l.6 2.6l1.0 2.3l.6 2.4l1.7 -2.5l.3 -.1l.3 -.4l1.3 -2.5l.3 -1.0l.3 -.5l.4 .1l.3 -.3l1.0 -2.1l.9 -.5l2.3 -7.4l.3 .0l.3 .8l1.3 4.0l.7 .7l.6 1.1l.7 -1.8l.6 1.4l1.3 -1.2l.7 -.2l.3 -.2l1.3 -3.4l.3 -.5l.7 -2.2l.6 -1.2l.6 -2.0l.4 .1l1.3 3.6l2.2 8.7l1.0 2.8l1.6 3.4l.7 -1.0l.9 1.1l.7 .2l.6 .6l1.0 -.8l.6 .4l.7 -.4l.6 .3l.7 -.4l.6 .8l1.0 -.9l1.3 1.1l.6 -.7l.4 -.1l.6 .3l.3 -.3l.4 .0" fill="none" stroke="#984EA3" stroke-width="1.7" stroke-linejoin="round"/>
<text x="495.3" y="179.0" font-size="8.5" fill="#1a1a1a">CaKr</text>
<path d="M493.4 231.1l1.0 -1.2l.3 -.1l.3 .5l.7 .1l.3 -.2l1.0 -2.0l.9 1.0l.4 -.3l.3 -.1l.9 .6l.7 1.5l.3 -.5l.3 -.2l.4 .4l.3 .0l.3 -.8l.3 -.2l.4 .9l.3 .1l.3 -.7l.3 .0l.4 .9l.3 -.2l.3 -.7l.3 .0l.7 1.1l.3 -.2l.6 -1.0l.4 .1l.3 .7l.6 -.5l.7 .8l.3 -.1l.3 .3l.4 .0l.3 -.4l1.3 .6l.6 -.3l.3 .2l.7 1.3l1.0 .2l.3 -.2l.3 -.6l.3 .0l1.0 1.8l.6 -1.1l.7 1.6l.3 -.1l.3 -.5l.7 1.3l.6 .7l.7 -1.6l.3 .1l1.0 1.6l.6 -2.0l.3 -.2l.7 1.3l.3 .2l.7 -.8l.3 -.1l.6 .3l.7 -.5l.6 .9l.4 .0l.6 -1.0l.3 .7l.3 .2l.7 -1.0l1.0 1.3l.9 -2.1l.4 .3l.3 1.1l.3 .0l.3 -.5l.3 .0l.7 -.8l.3 .3l1.0 -.4l1.0 -1.3l.6 .0l.3 .5l.4 .1l.3 -.5l.6 .0l.3 -.3l.4 -1.1l.9 -12.9l1.0 12.3l.3 1.6l.7 .6l.6 -.3l.7 1.1l.3 .1l.6 -.7l1.0 2.3l.3 -.1l.4 -.4l.6 1.0l.7 .4l.6 -.7l.3 .0l.4 -.2l.6 -1.9l.3 -.1l.7 1.0l.3 -.3l.6 -2.6l.4 -.4l.3 .6l.6 -.6l.4 .1l.9 -2.3l.4 .2l.3 .9l.3 .3l.3 -.4l.7 1.3l.3 -.2l.3 -.8l.7 .8l.3 -.2l.6 .9l.7 -.4l.3 .4l.3 -.3l.4 -1.3l.3 .3l.6 1.8l1.0 -.6l.3 .1l.3 .4l.7 -1.9l.3 .2l.7 1.1l.6 -1.3l1.0 .9l.6 .2l.3 .5l.7 -.8l.6 -.3l.7 -1.0l.6 .9l.7 .3l.3 -.1l.7 -.3l.9 -1.1l.3 .1l.4 .4l.3 -.4l.3 -2.6l.7 -9.8l.3 1.4l.6 8.7l.4 .3l.3 -.5l.6 -.1l.4 -.3l.6 -.8l.3 .3l.3 .0l.4 -.8l.9 -1.0l.4 .3l.3 -.2l.3 -.5l.7 -.4l.9 -2.7l.7 .0l.6 -1.2l.7 .6l.6 -1.4l.3 -.2l.7 -2.0l.6 -.4l.7 -1.7l.6 .8l.4 -.8l.3 -.3l.3 .4l.3 -1.2l.7 -6.9l.3 -1.7l.3 .1l.3 2.1l.7 6.7l.3 1.8l1.0 1.8l.6 2.0l1.0 1.2l.6 2.5l.7 1.5l2.9 11.4l.3 .3l1.6 -4.5l.4 -.4l.3 .1l.3 -.5l.7 -2.1l.6 -.6l.3 .0l.4 .2l.6 -2.2l.3 -.1l.3 .8l.4 .3l.6 -1.6l1.3 -.8l1.0 -1.4l.6 1.0l.7 -.2l.3 .5l.6 .2l.4 .3l.3 -.1l.3 -.9l.3 -.1l.4 .3l.3 -.8l1.0 -5.3l.9 -7.3l.4 -.6l.9 3.1l1.0 1.7l.6 -2.3l1.0 -2.3l.3 .0l2.0 5.9l.3 .1l.6 1.3l.7 -.1l1.0 2.5l.6 -.4l.7 .7l.9 2.1l.7 -.7l.3 .3l.6 1.7l.7 2.6l.6 1.0l.7 2.2l.6 -2.9l1.7 -9.8l.3 -.9l.3 -.3l.6 -2.9l.4 -.6l.9 3.1l1.0 5.2l1.0 2.6l.6 2.8l.4 .5l.6 3.6l.3 1.0l.3 .3l.4 .7l.9 4.1l1.0 2.8l.3 -.2l1.0 -1.9l.7 -.3l.6 .2l.6 -1.6l.4 -.5l.3 .1l1.3 -2.3l1.3 -1.7l1.0 -2.0l.9 -3.0l.7 -3.0l.6 -1.2l.7 .3l.6 3.0l1.0 3.1l.6 .1l.4 .3l.6 -1.1l1.0 1.0l.3 -.1l.6 -1.3l.4 -.5l.3 -.1l.6 -1.7l.4 .0l2.5 -7.5l.4 .1l.9 2.6l.7 3.4l1.9 5.7l1.3 5.6l.3 .2l.7 .8l.6 -1.3l.7 .8l.6 1.8l.7 -1.7l.3 -.3l.6 1.4l.4 .2l.9 -.3l.7 .7l1.0 .5l.6 -1.2l.7 .3l.6 -.3l.3 .0l.7 1.1l.3 .3l.6 -1.9l.4 .0l.3 .4l.6 1.4l.4 .0" fill="none" stroke="#FF7F00" stroke-width="1.7" stroke-linejoin="round"/>
<text x="495.3" y="221.7" font-size="8.5" fill="#1a1a1a">CaPa</text>
<path d="M493.4 273.7l1.0 -.9l.3 .0l.3 .4l.3 -.4l.4 -1.1l.3 -.4l.3 .5l.7 -.3l.6 .0l.7 .4l.6 -.5l1.0 1.2l.3 -.1l.3 .2l.3 .8l.4 .3l.3 -.2l.3 .2l.7 -.8l.9 1.3l.4 -.2l.3 -.8l.3 -.1l.6 .5l.7 -.4l.3 .0l.7 .8l.3 -.4l.3 .0l.3 .5l.7 -.3l1.0 .4l.6 -.2l.6 .3l.4 -.1l.9 1.7l.7 -2.1l.6 1.1l1.0 .9l.3 .1l.7 -.9l.3 .1l.6 .8l.7 .3l.6 .7l.7 -.6l.3 .0l.7 .6l.6 .4l.7 1.2l.6 -.6l1.6 -.6l.7 .2l.3 -.5l.6 .4l.4 -.4l.3 .1l.3 .4l.3 .0l.4 -.4l.6 .3l1.3 -.6l.6 .4l.7 -.9l1.0 .0l.3 -.5l.3 -.2l.3 .4l1.0 -.8l.6 .8l.7 -.4l.6 .4l.7 -1.8l.6 .1l.4 -.3l.6 .1l.3 -.8l.7 -.8l.9 -12.5l1.0 12.4l1.0 1.9l1.9 1.2l.7 1.1l.3 -.3l.3 .3l.3 .7l.7 .6l.3 -.1l.7 .5l.6 -1.6l1.0 -1.2l.6 .6l.3 -.2l.7 -2.1l.3 -.1l.3 .8l.4 .1l.6 -1.5l2.0 -2.0l.6 1.0l.6 -.3l.4 .2l.6 -.2l1.0 .6l.6 .8l.7 -.6l.3 .0l1.0 1.0l.3 -.1l.3 -.4l.7 .4l.3 -.7l.3 .2l.3 .9l.4 .2l.6 -1.4l.3 .1l.7 1.3l.6 -1.6l.7 -.7l.3 .2l.3 .9l.7 -.4l.3 .5l.3 -.1l.7 -.9l.3 .0l.6 .9l.7 -1.1l.6 -.5l.4 .0l.3 .5l.6 -.3l.3 .1l.7 -.5l.3 -1.7l.7 -9.9l.3 1.8l.6 8.0l.4 1.5l.3 -.4l.3 -1.3l.7 -1.0l.3 -.3l.3 .3l.3 -.2l.7 -.9l.3 -.3l.3 .1l.7 -1.6l.3 -.2l.3 .4l.7 -1.2l.3 .4l.3 .0l.3 -.7l.7 -.3l.9 -1.7l.4 -.1l.9 -2.5l.4 -.1l.6 -1.7l.7 -1.0l.3 -.1l.3 .1l.3 .1l.4 .7l.3 -.1l.9 -5.5l.7 -6.7l.3 .4l.7 7.7l.6 4.8l1.0 1.8l.3 -.4l.3 .3l.7 2.5l1.6 5.0l.3 .7l.3 .1l1.0 4.7l1.3 4.2l.3 .3l1.0 -2.0l.6 -2.2l.4 .2l.6 -1.4l1.3 -.9l.7 -1.6l.6 .3l.6 -1.9l.4 -.5l.3 -.1l.3 .2l.3 -.2l.4 -1.1l.3 -.1l.3 .4l.3 -.1l.7 -.9l.6 1.1l.7 -.2l.6 .9l.7 -.7l.3 .0l.6 .5l.4 -.1l2.6 -14.3l.3 .3l.6 2.1l.3 .0l.4 .4l.3 .8l.3 -.4l.3 -1.0l.7 -2.9l.3 -.4l.3 -.1l.4 .5l.9 4.4l.7 1.1l.6 2.3l1.6 2.3l.7 .0l1.3 1.2l.6 1.3l.4 -1.1l.3 .2l.3 1.9l.3 .6l.3 -.1l.7 2.8l.6 .9l.7 1.5l1.9 -10.5l.7 -2.4l.6 -3.5l.3 -1.1l.4 -.1l1.3 4.9l2.2 10.2l.4 1.0l.3 .3l.9 3.9l1.0 2.0l1.3 5.0l.3 -.1l.4 -.8l.6 -.2l.7 -1.8l1.2 -.8l.4 .7l.3 -.1l.6 -2.8l.7 -.5l1.3 -3.0l.3 -.1l1.0 -2.2l1.3 -5.0l.3 -.3l.3 .1l.3 -.6l.4 .5l1.3 5.6l.3 .6l1.0 .5l.3 -.1l.6 -1.3l.7 .3l.3 .6l.6 -1.8l.4 -.2l.3 -.6l.6 -2.3l.7 -.8l1.0 -2.0l.3 .1l.3 -.6l.6 -2.5l.4 .2l.3 .7l1.3 4.1l2.9 10.8l.3 .7l.3 -.2l1.0 1.8l.7 -.1l.3 -.6l.3 .2l.7 1.6l.6 -1.3l1.6 1.0l.7 -.3l.6 1.4l.7 -1.1l.6 .1l.7 .4l.6 -.4l.3 .3l.7 -.7l.3 .2l.6 -.4l1.0 1.5l.3 .1l.4 -.4" fill="none" stroke="#A65628" stroke-width="1.7" stroke-linejoin="round"/>
<text x="495.3" y="264.4" font-size="8.5" fill="#1a1a1a">CaTr</text>
<path d="M493.4 316.4l.3 .3l1.3 -2.3l.3 .2l.4 .8l.3 .1l.6 -1.3l.4 -.1l.6 .8l1.0 -1.3l.3 .1l.6 2.0l.7 -1.2l.6 1.7l.4 .1l.3 -.5l.3 .0l.3 .7l.7 -.8l.3 .0l.7 -1.4l.6 1.4l1.3 -.5l.6 .7l.4 -.3l.6 -.2l.3 -.6l.4 .0l.6 1.8l.3 .2l1.0 -1.8l1.0 .0l.6 .9l.7 -1.1l.3 .4l.3 1.3l.3 .4l.4 -.7l.3 .1l.3 .8l.3 -.2l.4 -.8l.3 -.2l.3 .2l.6 1.9l.4 .2l.9 -1.6l.4 .4l.6 .2l.3 .5l.4 .1l.9 -.7l.4 .1l.3 -.3l.3 .1l.6 .7l.4 -.3l.3 .0l.3 .6l.7 -.9l.9 .7l.4 -.2l.3 -.5l.3 .0l.3 .4l.4 .0l.6 -.8l.6 .5l.4 -.1l.6 -1.1l.3 .3l.4 1.3l.3 .2l.6 -.6l.4 -.7l.6 .2l.3 -.6l.7 .8l.3 -.3l.6 1.2l.7 -1.1l.3 -.1l.7 .8l.6 -1.6l.3 -.3l.7 .1l.9 -1.0l.4 -1.9l.9 -17.0l1.0 16.7l.3 2.5l.7 .4l.6 1.0l.4 -.3l.3 .2l.3 1.0l.3 -.1l.3 -.5l.4 .5l.3 .2l.3 -.6l.3 .1l1.3 1.4l.7 -.8l.3 .1l1.3 -1.2l.3 .2l.3 -.1l.4 -.4l1.3 .7l.6 -1.7l.7 .2l.3 -.3l.3 .3l.3 -.2l.4 -.9l.6 .8l.3 .1l.7 -.4l.6 1.5l.7 -.9l.6 .6l.7 -1.2l.3 .5l.3 .0l1.0 -.7l.6 1.6l.3 -.1l.7 -1.0l.6 .3l.4 .8l.3 .2l.3 -.8l.7 .0l.3 -.6l.3 -.2l1.0 .4l.3 -.6l.3 -.1l.3 1.0l.4 .1l.3 -.8l.3 -.4l1.3 .8l.3 -.1l.7 -.6l.3 .0l.7 .7l.6 -1.3l.6 1.0l.4 -.4l.6 -1.9l.7 -4.7l.3 .3l.6 4.3l.4 1.0l.3 .1l.3 -.1l.7 -.9l.3 .4l.3 -.2l1.0 -1.1l.9 .2l.7 -.1l.6 -.7l.4 .5l.3 .1l1.0 -2.1l.6 .6l1.0 -1.3l.3 -.2l.3 .0l.7 -1.2l.6 -.5l1.0 -.2l.3 .2l.3 -.6l.7 -2.1l.3 -.1l.3 -1.9l1.0 -14.2l.3 -.5l1.0 14.9l1.0 5.2l.6 .5l.3 .0l.7 1.9l.3 -.5l.3 .1l.3 1.2l1.3 3.1l.4 .5l.3 -.2l.3 .2l1.0 3.6l.3 -.2l.3 -.9l.7 .6l1.6 -3.1l1.3 -.6l.3 -.4l.7 1.1l.9 -1.6l.7 -.3l.6 -.6l.3 .2l.4 -.1l.3 -.7l.6 1.3l.7 -1.4l1.0 -.2l.6 1.2l.3 -.1l.7 .1l.9 -.6l.4 -.3l.9 -3.9l.4 -.3l.3 -1.0l.6 -4.1l.4 -.2l.3 .6l.3 .0l1.0 3.7l.6 1.0l1.6 -3.7l.7 1.0l.6 -.2l.4 .5l.6 2.1l.6 1.1l.4 .9l.3 .2l.3 -.6l.3 -.1l.4 .5l.6 .3l.3 .5l.4 -.2l.3 .0l.6 1.3l.4 .1l.6 -.1l1.0 1.4l.6 1.8l.7 .1l.3 -.2l2.3 -6.9l.6 -1.3l.6 -.2l.4 -1.4l.3 -.3l.6 3.6l.4 .7l.3 .0l.3 .5l1.0 3.0l.6 .3l.7 1.8l.6 .6l.7 1.8l.3 .2l.3 -.1l1.0 2.4l.6 .2l.4 .3l.6 -1.0l.7 .8l.3 -.3l.3 -1.2l.3 -.4l.3 .1l.4 -.3l.6 .4l.7 -.8l.3 .0l.3 -.8l.3 -.2l.4 .4l.6 -1.5l1.0 -1.0l.6 -2.5l1.0 -6.4l.3 .4l.7 3.4l.9 3.9l.4 .2l.3 -.1l.6 1.9l.7 -1.4l.6 .6l.3 -.5l.4 .0l.3 .6l1.3 -.5l.6 -1.8l.7 .3l.3 -1.0l.7 -.2l.6 -1.7l.3 -.3l.7 .1l.6 .6l.3 -.2l.4 .7l.3 1.7l.6 1.0l.7 2.4l.6 .6l.7 .0l.6 1.4l.7 -.1l.9 1.1l.7 .3l.3 -.2l.3 -.6l.4 -.2l.3 1.0l.3 .3l.3 -.7l.7 .5l.3 -.2l.3 .3l1.0 -.4l.3 .1l.7 .8l.3 1.2l.3 .1l.3 -1.1l.7 -.1l.3 -.5l.3 -.1l.7 .7l1.6 -.3l.3 -.3l.7 .8" fill="none" stroke="#F781BF" stroke-width="1.7" stroke-linejoin="round"/>
<text x="495.3" y="307.0" font-size="8.5" fill="#1a1a1a">CrNe</text>
<rect x="484.8" y="17.8" width="198.50" height="320.60" fill="none" stroke="#333333" stroke-width="1.1"/>
<line x1="493.40" y1="338.4" x2="493.40" y2="341.2" stroke="#333333" stroke-width="0.9"/>
<text x="493.40" y="349.2" font-size="8.3" fill="#4D4D4D" text-anchor="middle">400</text>
<line x1="519.28" y1="338.4" x2="519.28" y2="341.2" stroke="#333333" stroke-width="0.9"/>
<text x="519.28" y="349.2" font-size="8.3" fill="#4D4D4D" text-anchor="middle">600</text>
<line x1="545.16" y1="338.4" x2="545.16" y2="341.2" stroke="#333333" stroke-width="0.9"/>
<text x="545.16" y="349.2" font-size="8.3" fill="#4D4D4D" text-anchor="middle">800</text>
<line x1="571.04" y1="338.4" x2="571.04" y2="341.2" stroke="#333333" stroke-width="0.9"/>
<text x="571.04" y="349.2" font-size="8.3" fill="#4D4D4D" text-anchor="middle">1000</text>
<line x1="596.92" y1="338.4" x2="596.92" y2="341.2" stroke="#333333" stroke-width="0.9"/>
<text x="596.92" y="349.2" font-size="8.3" fill="#4D4D4D" text-anchor="middle">1200</text>
<line x1="622.80" y1="338.4" x2="622.80" y2="341.2" stroke="#333333" stroke-width="0.9"/>
<text x="622.80" y="349.2" font-size="8.3" fill="#4D4D4D" text-anchor="middle">1400</text>
<line x1="648.68" y1="338.4" x2="648.68" y2="341.2" stroke="#333333" stroke-width="0.9"/>
<text x="648.68" y="349.2" font-size="8.3" fill="#4D4D4D" text-anchor="middle">1600</text>
<line x1="674.56" y1="338.4" x2="674.56" y2="341.2" stroke="#333333" stroke-width="0.9"/>
<text x="674.56" y="349.2" font-size="8.3" fill="#4D4D4D" text-anchor="middle">1800</text>
<line x1="482.0" y1="283.56" x2="484.8" y2="283.56" stroke="#333333" stroke-width="0.9"/>
<text x="479.80" y="286.46" font-size="8.3" fill="#4D4D4D" text-anchor="end">2</text>
<line x1="482.0" y1="198.22" x2="484.8" y2="198.22" stroke="#333333" stroke-width="0.9"/>
<text x="479.80" y="201.12" font-size="8.3" fill="#4D4D4D" text-anchor="end">4</text>
<line x1="482.0" y1="112.88" x2="484.8" y2="112.88" stroke="#333333" stroke-width="0.9"/>
<text x="479.80" y="115.78" font-size="8.3" fill="#4D4D4D" text-anchor="end">6</text>
<line x1="482.0" y1="27.54" x2="484.8" y2="27.54" stroke="#333333" stroke-width="0.9"/>
<text x="479.80" y="30.44" font-size="8.3" fill="#4D4D4D" text-anchor="end">8</text>
<text x="584.3" y="362.6" font-size="9.8" fill="#000" text-anchor="middle">Wavenumber<tspan dx="1.6">/</tspan><tspan dx="1.4">cm</tspan><tspan dy="-4.6" font-size="7.2">-1</tspan></text>
<text transform="translate(471.9,176.6) rotate(-90)" font-size="9.9" fill="#000" text-anchor="middle">Intensity (arbitrary units)</text>
<defs>
<pattern id="p_pill" width="30" height="30" patternUnits="userSpaceOnUse">
<rect width="30" height="30" fill="#00ADFA"/>
<path fill="#00A5FF" d="M-0.3 2.7h1.6v1.6h-1.6zM-0.2 14.7h1.6v1.6h-1.6zM0.3 16.2h1.6v1.6h-1.6zM-0.2 25.7h1.6v1.6h-1.6zM-0.1 27.0h1.6v1.6h-1.6zM1.3 2.6h1.6v1.6h-1.6zM1.3 3.9h1.6v1.6h-1.6zM1.5 5.2h1.6v1.6h-1.6zM1.4 7.0h1.6v1.6h-1.6zM1.2 8.4h1.6v1.6h-1.6zM1.1 12.1h1.6v1.6h-1.6zM1.5 14.9h1.6v1.6h-1.6zM1.2 16.3h1.6v1.6h-1.6zM1.4 17.5h1.6v1.6h-1.6zM1.6 18.9h1.6v1.6h-1.6zM1.1 20.4h1.6v1.6h-1.6zM1.6 21.8h1.6v1.6h-1.6zM1.1 25.6h1.6v1.6h-1.6zM2.5 1.2h1.6v1.6h-1.6zM2.4 4.0h1.6v1.6h-1.6zM2.9 7.0h1.6v1.6h-1.6zM3.0 11.9h1.6v1.6h-1.6zM2.6 18.6h1.6v1.6h-1.6zM3.0 23.1h1.6v1.6h-1.6zM2.8 25.4h1.6v1.6h-1.6zM2.6 28.3h1.6v1.6h-1.6zM3.8 1.1h1.6v1.6h-1.6zM4.1 14.6h1.6v1.6h-1.6zM4.3 21.6h1.6v1.6h-1.6zM5.2 -0.3h1.6v1.6h-1.6zM5.4 12.3h1.6v1.6h-1.6zM5.7 16.4h1.6v1.6h-1.6zM5.6 17.7h1.6v1.6h-1.6zM5.7 28.3h1.6v1.6h-1.6zM7.0 8.3h1.6v1.6h-1.6zM6.9 10.6h1.6v1.6h-1.6zM7.0 12.3h1.6v1.6h-1.6zM6.7 13.3h1.6v1.6h-1.6zM6.6 15.0h1.6v1.6h-1.6zM7.0 23.0h1.6v1.6h-1.6zM7.9 2.6h1.6v1.6h-1.6zM8.0 6.7h1.6v1.6h-1.6zM8.3 10.8h1.6v1.6h-1.6zM7.9 20.2h1.6v1.6h-1.6zM8.1 21.5h1.6v1.6h-1.6zM7.9 25.7h1.6v1.6h-1.6zM9.5 0.0h1.6v1.6h-1.6zM9.7 1.3h1.6v1.6h-1.6zM9.5 2.7h1.6v1.6h-1.6zM9.4 4.1h1.6v1.6h-1.6zM9.6 17.8h1.6v1.6h-1.6zM9.5 20.0h1.6v1.6h-1.6zM9.7 21.4h1.6v1.6h-1.6zM10.5 2.7h1.6v1.6h-1.6zM10.8 7.8h1.6v1.6h-1.6zM10.7 14.6h1.6v1.6h-1.6zM10.8 24.0h1.6v1.6h-1.6zM10.5 28.6h1.6v1.6h-1.6zM12.0 16.2h1.6v1.6h-1.6zM12.2 24.1h1.6v1.6h-1.6zM13.4 1.4h1.6v1.6h-1.6zM13.8 2.6h1.6v1.6h-1.6zM13.6 4.1h1.6v1.6h-1.6zM13.4 11.9h1.6v1.6h-1.6zM13.7 15.0h1.6v1.6h-1.6zM14.9 19.1h1.6v1.6h-1.6zM15.0 20.5h1.6v1.6h-1.6zM14.6 25.9h1.6v1.6h-1.6zM14.6 28.4h1.6v1.6h-1.6zM16.4 1.5h1.6v1.6h-1.6zM16.4 2.8h1.6v1.6h-1.6zM16.0 3.8h1.6v1.6h-1.6zM16.2 9.5h1.6v1.6h-1.6zM16.3 10.8h1.6v1.6h-1.6zM16.3 13.5h1.6v1.6h-1.6zM15.9 16.3h1.6v1.6h-1.6zM16.0 21.7h1.6v1.6h-1.6zM16.4 25.7h1.6v1.6h-1.6zM15.9 26.8h1.6v1.6h-1.6zM17.4 0.0h1.6v1.6h-1.6zM17.7 5.5h1.6v1.6h-1.6zM17.8 16.2h1.6v1.6h-1.6zM17.7 26.8h1.6v1.6h-1.6zM18.6 9.6h1.6v1.6h-1.6zM18.7 11.1h1.6v1.6h-1.6zM19.1 12.0h1.6v1.6h-1.6zM18.8 23.2h1.6v1.6h-1.6zM20.5 3.0h1.6v1.6h-1.6zM20.0 5.5h1.6v1.6h-1.6zM20.3 8.0h1.6v1.6h-1.6zM20.5 14.7h1.6v1.6h-1.6zM20.1 16.2h1.6v1.6h-1.6zM21.8 5.5h1.6v1.6h-1.6zM21.8 17.4h1.6v1.6h-1.6zM21.8 28.3h1.6v1.6h-1.6zM22.7 -0.1h1.6v1.6h-1.6zM23.2 6.9h1.6v1.6h-1.6zM23.1 8.1h1.6v1.6h-1.6zM22.8 12.4h1.6v1.6h-1.6zM22.8 13.3h1.6v1.6h-1.6zM23.1 16.0h1.6v1.6h-1.6zM22.9 20.1h1.6v1.6h-1.6zM22.7 21.5h1.6v1.6h-1.6zM24.3 3.9h1.6v1.6h-1.6zM24.6 5.2h1.6v1.6h-1.6zM24.1 11.0h1.6v1.6h-1.6zM24.3 12.0h1.6v1.6h-1.6zM24.2 17.8h1.6v1.6h-1.6zM24.6 24.1h1.6v1.6h-1.6zM25.6 8.0h1.6v1.6h-1.6zM25.8 20.2h1.6v1.6h-1.6zM25.8 28.1h1.6v1.6h-1.6zM26.9 6.6h1.6v1.6h-1.6zM27.2 9.5h1.6v1.6h-1.6zM27.2 20.4h1.6v1.6h-1.6zM26.9 21.5h1.6v1.6h-1.6zM26.7 24.1h1.6v1.6h-1.6zM26.8 25.4h1.6v1.6h-1.6zM28.3 7.9h1.6v1.6h-1.6zM28.5 10.9h1.6v1.6h-1.6zM28.4 11.9h1.6v1.6h-1.6zM28.2 13.5h1.6v1.6h-1.6zM28.2 16.0h1.6v1.6h-1.6zM28.4 20.1h1.6v1.6h-1.6zM28.4 24.6h1.6v1.6h-1.6zM28.6 28.6h1.6v1.6h-1.6z"/>
<path fill="#DE8C00" d="M-0.3 19.1h1.6v1.6h-1.6zM2.9 27.2h1.6v1.6h-1.6zM5.4 1.1h1.6v1.6h-1.6zM5.6 6.9h1.6v1.6h-1.6zM7.0 0.3h1.6v1.6h-1.6zM6.7 16.1h1.6v1.6h-1.6zM6.9 17.4h1.6v1.6h-1.6zM6.9 21.4h1.6v1.6h-1.6zM8.2 0.0h1.6v1.6h-1.6zM8.1 1.6h1.6v1.6h-1.6zM8.0 9.4h1.6v1.6h-1.6zM8.1 12.2h1.6v1.6h-1.6zM9.6 7.0h1.6v1.6h-1.6zM9.3 8.1h1.6v1.6h-1.6zM9.7 9.2h1.6v1.6h-1.6zM9.4 22.9h1.6v1.6h-1.6zM9.6 24.1h1.6v1.6h-1.6zM11.0 9.7h1.6v1.6h-1.6zM11.0 17.4h1.6v1.6h-1.6zM10.8 20.4h1.6v1.6h-1.6zM10.9 25.8h1.6v1.6h-1.6zM12.0 3.8h1.6v1.6h-1.6zM11.9 27.2h1.6v1.6h-1.6zM13.8 25.7h1.6v1.6h-1.6zM13.4 28.3h1.6v1.6h-1.6zM14.6 24.4h1.6v1.6h-1.6zM14.9 27.1h1.6v1.6h-1.6zM16.2 22.9h1.6v1.6h-1.6zM17.4 13.8h1.6v1.6h-1.6zM17.3 14.8h1.6v1.6h-1.6zM17.4 20.3h1.6v1.6h-1.6zM17.3 24.5h1.6v1.6h-1.6zM17.5 28.1h1.6v1.6h-1.6zM19.0 16.1h1.6v1.6h-1.6zM20.5 1.5h1.6v1.6h-1.6zM20.0 10.8h1.6v1.6h-1.6zM20.2 22.8h1.6v1.6h-1.6zM20.5 24.3h1.6v1.6h-1.6zM21.4 16.2h1.6v1.6h-1.6zM21.8 24.5h1.6v1.6h-1.6zM23.1 1.6h1.6v1.6h-1.6zM22.8 2.5h1.6v1.6h-1.6zM23.0 24.5h1.6v1.6h-1.6zM24.4 -0.1h1.6v1.6h-1.6zM24.2 13.7h1.6v1.6h-1.6zM24.1 28.1h1.6v1.6h-1.6zM25.9 2.8h1.6v1.6h-1.6zM25.9 3.9h1.6v1.6h-1.6zM25.8 6.5h1.6v1.6h-1.6zM25.4 16.5h1.6v1.6h-1.6zM25.5 25.6h1.6v1.6h-1.6zM25.4 26.9h1.6v1.6h-1.6zM26.9 2.8h1.6v1.6h-1.6zM26.9 3.9h1.6v1.6h-1.6zM27.1 5.3h1.6v1.6h-1.6zM26.7 10.6h1.6v1.6h-1.6zM27.3 13.4h1.6v1.6h-1.6zM26.8 19.1h1.6v1.6h-1.6zM28.6 1.6h1.6v1.6h-1.6zM28.4 22.8h1.6v1.6h-1.6z"/>
</pattern>
<pattern id="p_pillR" width="30" height="30" patternUnits="userSpaceOnUse">
<rect width="30" height="30" fill="#DE8C00"/>
<path fill="#E88526" d="M0.1 10.6h1.6v1.6h-1.6zM0.1 17.4h1.6v1.6h-1.6zM0.1 28.1h1.6v1.6h-1.6zM1.4 17.8h1.6v1.6h-1.6zM1.3 20.3h1.6v1.6h-1.6zM1.6 24.1h1.6v1.6h-1.6zM1.5 25.9h1.6v1.6h-1.6zM2.9 3.8h1.6v1.6h-1.6zM2.6 10.6h1.6v1.6h-1.6zM2.9 14.6h1.6v1.6h-1.6zM2.8 17.4h1.6v1.6h-1.6zM2.7 20.3h1.6v1.6h-1.6zM2.7 21.3h1.6v1.6h-1.6zM2.7 22.8h1.6v1.6h-1.6zM2.5 26.8h1.6v1.6h-1.6zM3.8 2.8h1.6v1.6h-1.6zM4.0 8.4h1.6v1.6h-1.6zM4.3 13.7h1.6v1.6h-1.6zM3.9 24.0h1.6v1.6h-1.6zM5.3 2.9h1.6v1.6h-1.6zM5.4 4.3h1.6v1.6h-1.6zM5.3 9.6h1.6v1.6h-1.6zM5.7 16.3h1.6v1.6h-1.6zM5.3 17.3h1.6v1.6h-1.6zM5.4 21.6h1.6v1.6h-1.6zM5.1 24.0h1.6v1.6h-1.6zM6.8 1.2h1.6v1.6h-1.6zM6.7 2.5h1.6v1.6h-1.6zM7.0 6.9h1.6v1.6h-1.6zM6.8 12.1h1.6v1.6h-1.6zM6.7 13.8h1.6v1.6h-1.6zM6.7 17.4h1.6v1.6h-1.6zM6.8 23.0h1.6v1.6h-1.6zM8.4 14.7h1.6v1.6h-1.6zM8.4 24.3h1.6v1.6h-1.6zM9.2 1.6h1.6v1.6h-1.6zM10.5 9.4h1.6v1.6h-1.6zM10.6 13.7h1.6v1.6h-1.6zM10.8 20.4h1.6v1.6h-1.6zM10.7 23.1h1.6v1.6h-1.6zM10.5 28.5h1.6v1.6h-1.6zM12.3 13.7h1.6v1.6h-1.6zM12.1 14.7h1.6v1.6h-1.6zM12.4 22.8h1.6v1.6h-1.6zM13.3 2.6h1.6v1.6h-1.6zM13.3 12.0h1.6v1.6h-1.6zM13.5 18.7h1.6v1.6h-1.6zM13.4 20.4h1.6v1.6h-1.6zM13.5 26.9h1.6v1.6h-1.6zM13.3 28.3h1.6v1.6h-1.6zM14.9 4.0h1.6v1.6h-1.6zM15.0 6.7h1.6v1.6h-1.6zM15.1 7.8h1.6v1.6h-1.6zM14.6 9.6h1.6v1.6h-1.6zM14.9 12.3h1.6v1.6h-1.6zM14.9 13.7h1.6v1.6h-1.6zM14.8 15.1h1.6v1.6h-1.6zM16.2 7.9h1.6v1.6h-1.6zM16.0 13.7h1.6v1.6h-1.6zM16.2 25.7h1.6v1.6h-1.6zM16.1 27.3h1.6v1.6h-1.6zM17.7 16.2h1.6v1.6h-1.6zM17.3 21.6h1.6v1.6h-1.6zM17.5 24.3h1.6v1.6h-1.6zM17.6 27.1h1.6v1.6h-1.6zM18.6 1.4h1.6v1.6h-1.6zM18.8 7.0h1.6v1.6h-1.6zM18.9 9.6h1.6v1.6h-1.6zM19.1 14.7h1.6v1.6h-1.6zM19.2 19.0h1.6v1.6h-1.6zM19.0 23.1h1.6v1.6h-1.6zM20.3 5.5h1.6v1.6h-1.6zM20.4 6.6h1.6v1.6h-1.6zM20.5 24.0h1.6v1.6h-1.6zM20.0 25.4h1.6v1.6h-1.6zM20.0 28.3h1.6v1.6h-1.6zM21.9 0.3h1.6v1.6h-1.6zM21.5 1.1h1.6v1.6h-1.6zM21.4 2.5h1.6v1.6h-1.6zM21.8 22.7h1.6v1.6h-1.6zM21.3 26.9h1.6v1.6h-1.6zM21.6 28.5h1.6v1.6h-1.6zM22.9 2.6h1.6v1.6h-1.6zM22.8 5.1h1.6v1.6h-1.6zM23.2 9.6h1.6v1.6h-1.6zM22.8 10.8h1.6v1.6h-1.6zM23.2 13.7h1.6v1.6h-1.6zM23.1 20.5h1.6v1.6h-1.6zM22.8 24.5h1.6v1.6h-1.6zM24.5 -0.2h1.6v1.6h-1.6zM24.4 2.7h1.6v1.6h-1.6zM24.5 11.0h1.6v1.6h-1.6zM24.3 12.2h1.6v1.6h-1.6zM24.1 20.0h1.6v1.6h-1.6zM24.5 22.7h1.6v1.6h-1.6zM24.2 24.3h1.6v1.6h-1.6zM25.5 0.2h1.6v1.6h-1.6zM25.9 10.8h1.6v1.6h-1.6zM25.6 13.3h1.6v1.6h-1.6zM25.9 16.3h1.6v1.6h-1.6zM25.4 19.2h1.6v1.6h-1.6zM27.2 2.5h1.6v1.6h-1.6zM26.8 7.9h1.6v1.6h-1.6zM26.8 17.8h1.6v1.6h-1.6zM28.2 4.3h1.6v1.6h-1.6z"/>
<path fill="#F8766D" d="M-0.0 8.0h1.6v1.6h-1.6zM0.3 9.2h1.6v1.6h-1.6zM-0.2 21.5h1.6v1.6h-1.6zM0.0 24.0h1.6v1.6h-1.6zM1.3 1.2h1.6v1.6h-1.6zM1.6 8.0h1.6v1.6h-1.6zM1.2 10.5h1.6v1.6h-1.6zM1.3 14.6h1.6v1.6h-1.6zM2.5 5.3h1.6v1.6h-1.6zM2.9 6.6h1.6v1.6h-1.6zM2.9 13.2h1.6v1.6h-1.6zM2.5 16.3h1.6v1.6h-1.6zM2.9 24.3h1.6v1.6h-1.6zM4.2 5.4h1.6v1.6h-1.6zM4.3 10.9h1.6v1.6h-1.6zM3.9 12.4h1.6v1.6h-1.6zM4.3 15.9h1.6v1.6h-1.6zM3.8 19.1h1.6v1.6h-1.6zM3.8 21.6h1.6v1.6h-1.6zM5.2 1.4h1.6v1.6h-1.6zM5.3 8.4h1.6v1.6h-1.6zM5.1 13.7h1.6v1.6h-1.6zM6.6 15.1h1.6v1.6h-1.6zM6.5 20.3h1.6v1.6h-1.6zM6.6 24.2h1.6v1.6h-1.6zM8.2 1.3h1.6v1.6h-1.6zM8.1 2.5h1.6v1.6h-1.6zM8.2 9.7h1.6v1.6h-1.6zM8.0 10.8h1.6v1.6h-1.6zM8.1 13.4h1.6v1.6h-1.6zM7.8 16.1h1.6v1.6h-1.6zM8.4 19.0h1.6v1.6h-1.6zM8.0 21.4h1.6v1.6h-1.6zM8.2 25.9h1.6v1.6h-1.6zM8.1 28.2h1.6v1.6h-1.6zM9.5 10.9h1.6v1.6h-1.6zM9.2 12.2h1.6v1.6h-1.6zM9.6 15.1h1.6v1.6h-1.6zM9.7 17.8h1.6v1.6h-1.6zM9.6 24.4h1.6v1.6h-1.6zM9.5 25.5h1.6v1.6h-1.6zM10.6 -0.1h1.6v1.6h-1.6zM10.7 6.6h1.6v1.6h-1.6zM10.7 12.3h1.6v1.6h-1.6zM10.6 15.9h1.6v1.6h-1.6zM11.1 18.6h1.6v1.6h-1.6zM10.8 26.8h1.6v1.6h-1.6zM12.3 0.1h1.6v1.6h-1.6zM12.0 12.1h1.6v1.6h-1.6zM12.2 17.7h1.6v1.6h-1.6zM12.2 21.4h1.6v1.6h-1.6zM12.4 26.8h1.6v1.6h-1.6zM13.6 17.6h1.6v1.6h-1.6zM13.5 22.8h1.6v1.6h-1.6zM13.7 24.5h1.6v1.6h-1.6zM13.7 25.8h1.6v1.6h-1.6zM15.0 0.1h1.6v1.6h-1.6zM15.1 5.2h1.6v1.6h-1.6zM14.8 17.7h1.6v1.6h-1.6zM14.8 28.2h1.6v1.6h-1.6zM16.5 1.4h1.6v1.6h-1.6zM16.1 3.9h1.6v1.6h-1.6zM16.4 6.8h1.6v1.6h-1.6zM16.4 10.8h1.6v1.6h-1.6zM16.1 16.1h1.6v1.6h-1.6zM16.1 22.8h1.6v1.6h-1.6zM15.9 28.5h1.6v1.6h-1.6zM17.6 1.1h1.6v1.6h-1.6zM17.5 9.2h1.6v1.6h-1.6zM17.8 13.7h1.6v1.6h-1.6zM17.4 15.0h1.6v1.6h-1.6zM17.6 17.4h1.6v1.6h-1.6zM17.3 25.9h1.6v1.6h-1.6zM17.5 28.3h1.6v1.6h-1.6zM19.2 2.6h1.6v1.6h-1.6zM18.8 16.2h1.6v1.6h-1.6zM18.8 20.1h1.6v1.6h-1.6zM19.1 25.7h1.6v1.6h-1.6zM20.5 4.1h1.6v1.6h-1.6zM20.2 8.3h1.6v1.6h-1.6zM20.5 13.6h1.6v1.6h-1.6zM20.4 16.2h1.6v1.6h-1.6zM20.3 27.3h1.6v1.6h-1.6zM21.4 7.0h1.6v1.6h-1.6zM21.4 9.2h1.6v1.6h-1.6zM21.4 10.9h1.6v1.6h-1.6zM21.7 15.1h1.6v1.6h-1.6zM21.4 16.3h1.6v1.6h-1.6zM21.6 17.8h1.6v1.6h-1.6zM21.4 25.9h1.6v1.6h-1.6zM22.9 1.4h1.6v1.6h-1.6zM23.2 4.2h1.6v1.6h-1.6zM22.9 12.3h1.6v1.6h-1.6zM23.1 23.2h1.6v1.6h-1.6zM23.1 25.9h1.6v1.6h-1.6zM24.6 1.2h1.6v1.6h-1.6zM24.5 6.7h1.6v1.6h-1.6zM24.5 9.3h1.6v1.6h-1.6zM24.2 17.6h1.6v1.6h-1.6zM25.8 27.1h1.6v1.6h-1.6zM27.3 0.1h1.6v1.6h-1.6zM26.7 10.9h1.6v1.6h-1.6zM27.2 16.0h1.6v1.6h-1.6zM27.1 18.9h1.6v1.6h-1.6zM27.0 21.7h1.6v1.6h-1.6zM27.0 26.8h1.6v1.6h-1.6zM26.9 28.3h1.6v1.6h-1.6zM28.3 2.5h1.6v1.6h-1.6zM28.2 8.1h1.6v1.6h-1.6zM28.4 26.8h1.6v1.6h-1.6z"/>
<path fill="#00ADFA" d="M0.0 5.7h1.6v1.6h-1.6zM1.2 4.1h1.6v1.6h-1.6zM1.3 12.3h1.6v1.6h-1.6zM3.0 -0.0h1.6v1.6h-1.6zM2.6 2.9h1.6v1.6h-1.6zM3.9 22.8h1.6v1.6h-1.6zM4.2 28.6h1.6v1.6h-1.6zM5.5 6.7h1.6v1.6h-1.6zM5.2 22.8h1.6v1.6h-1.6zM6.6 3.8h1.6v1.6h-1.6zM6.5 21.4h1.6v1.6h-1.6zM6.9 28.5h1.6v1.6h-1.6zM8.2 23.1h1.6v1.6h-1.6zM9.4 6.5h1.6v1.6h-1.6zM10.8 8.3h1.6v1.6h-1.6zM10.7 25.5h1.6v1.6h-1.6zM11.9 5.6h1.6v1.6h-1.6zM12.2 10.7h1.6v1.6h-1.6zM13.6 5.2h1.6v1.6h-1.6zM13.3 6.7h1.6v1.6h-1.6zM13.7 8.2h1.6v1.6h-1.6zM13.5 21.6h1.6v1.6h-1.6zM14.9 10.6h1.6v1.6h-1.6zM14.8 20.0h1.6v1.6h-1.6zM16.1 9.5h1.6v1.6h-1.6zM17.7 -0.2h1.6v1.6h-1.6zM17.6 3.9h1.6v1.6h-1.6zM17.7 10.6h1.6v1.6h-1.6zM17.6 12.3h1.6v1.6h-1.6zM18.6 0.1h1.6v1.6h-1.6zM18.9 4.0h1.6v1.6h-1.6zM18.6 5.5h1.6v1.6h-1.6zM20.3 2.8h1.6v1.6h-1.6zM21.7 20.0h1.6v1.6h-1.6zM23.1 6.9h1.6v1.6h-1.6zM24.2 21.4h1.6v1.6h-1.6zM24.5 28.3h1.6v1.6h-1.6zM25.8 2.9h1.6v1.6h-1.6zM25.5 3.8h1.6v1.6h-1.6zM25.9 11.9h1.6v1.6h-1.6zM25.5 14.9h1.6v1.6h-1.6zM25.5 20.0h1.6v1.6h-1.6zM25.9 24.5h1.6v1.6h-1.6zM25.4 28.1h1.6v1.6h-1.6zM26.8 15.1h1.6v1.6h-1.6zM28.1 7.0h1.6v1.6h-1.6zM28.6 15.1h1.6v1.6h-1.6zM28.1 19.0h1.6v1.6h-1.6zM28.1 21.8h1.6v1.6h-1.6z"/>
</pattern>
<pattern id="p_mainL" width="30" height="30" patternUnits="userSpaceOnUse">
<rect width="30" height="30" fill="#619CFF"/>
<path fill="#00A5FF" d="M1.5 -0.1h1.6v1.6h-1.6zM2.6 17.6h1.6v1.6h-1.6zM2.6 26.9h1.6v1.6h-1.6zM5.3 9.5h1.6v1.6h-1.6zM5.2 14.9h1.6v1.6h-1.6zM5.6 17.8h1.6v1.6h-1.6zM7.0 6.9h1.6v1.6h-1.6zM6.8 12.2h1.6v1.6h-1.6zM8.1 28.1h1.6v1.6h-1.6zM9.3 6.5h1.6v1.6h-1.6zM10.5 5.3h1.6v1.6h-1.6zM12.1 -0.3h1.6v1.6h-1.6zM12.2 1.2h1.6v1.6h-1.6zM11.9 19.2h1.6v1.6h-1.6zM13.3 5.5h1.6v1.6h-1.6zM13.4 17.4h1.6v1.6h-1.6zM13.3 20.4h1.6v1.6h-1.6zM14.7 16.4h1.6v1.6h-1.6zM14.8 17.6h1.6v1.6h-1.6zM14.9 25.4h1.6v1.6h-1.6zM16.2 13.8h1.6v1.6h-1.6zM17.7 20.2h1.6v1.6h-1.6zM19.0 13.4h1.6v1.6h-1.6zM18.7 28.6h1.6v1.6h-1.6zM20.4 19.0h1.6v1.6h-1.6zM21.5 2.8h1.6v1.6h-1.6zM23.1 22.8h1.6v1.6h-1.6zM23.1 25.9h1.6v1.6h-1.6zM25.6 7.0h1.6v1.6h-1.6z"/>
<path fill="#00B4F0" d="M0.1 24.0h1.6v1.6h-1.6zM1.3 28.6h1.6v1.6h-1.6zM4.3 12.0h1.6v1.6h-1.6zM4.0 20.4h1.6v1.6h-1.6zM4.0 25.8h1.6v1.6h-1.6zM5.3 11.0h1.6v1.6h-1.6zM5.7 27.1h1.6v1.6h-1.6zM6.8 4.2h1.6v1.6h-1.6zM7.9 6.6h1.6v1.6h-1.6zM7.9 27.3h1.6v1.6h-1.6zM9.6 13.4h1.6v1.6h-1.6zM13.4 3.9h1.6v1.6h-1.6zM13.4 9.7h1.6v1.6h-1.6zM15.0 18.7h1.6v1.6h-1.6zM17.3 17.6h1.6v1.6h-1.6zM17.7 28.6h1.6v1.6h-1.6zM18.7 18.9h1.6v1.6h-1.6zM20.2 1.4h1.6v1.6h-1.6zM20.2 2.4h1.6v1.6h-1.6zM20.1 16.4h1.6v1.6h-1.6zM20.1 23.2h1.6v1.6h-1.6zM20.0 26.7h1.6v1.6h-1.6zM22.9 8.2h1.6v1.6h-1.6zM24.6 1.2h1.6v1.6h-1.6zM26.7 21.7h1.6v1.6h-1.6zM26.9 28.1h1.6v1.6h-1.6zM28.2 2.5h1.6v1.6h-1.6z"/>
<path fill="#FF61C3" d="M-0.0 8.0h1.6v1.6h-1.6zM-0.2 11.9h1.6v1.6h-1.6zM-0.0 25.7h1.6v1.6h-1.6zM1.4 3.8h1.6v1.6h-1.6zM1.4 12.2h1.6v1.6h-1.6zM1.4 16.1h1.6v1.6h-1.6zM1.1 19.0h1.6v1.6h-1.6zM2.8 4.0h1.6v1.6h-1.6zM2.4 5.4h1.6v1.6h-1.6zM2.4 6.5h1.6v1.6h-1.6zM2.7 16.5h1.6v1.6h-1.6zM3.0 20.3h1.6v1.6h-1.6zM2.7 22.7h1.6v1.6h-1.6zM4.3 1.4h1.6v1.6h-1.6zM4.1 2.5h1.6v1.6h-1.6zM4.0 9.5h1.6v1.6h-1.6zM4.0 13.4h1.6v1.6h-1.6zM4.2 28.5h1.6v1.6h-1.6zM5.4 4.3h1.6v1.6h-1.6zM5.4 5.6h1.6v1.6h-1.6zM5.4 8.2h1.6v1.6h-1.6zM5.2 16.5h1.6v1.6h-1.6zM5.4 21.9h1.6v1.6h-1.6zM5.4 24.4h1.6v1.6h-1.6zM5.3 25.7h1.6v1.6h-1.6zM5.2 28.3h1.6v1.6h-1.6zM6.8 0.0h1.6v1.6h-1.6zM6.8 3.0h1.6v1.6h-1.6zM6.5 8.3h1.6v1.6h-1.6zM6.9 18.8h1.6v1.6h-1.6zM6.8 24.2h1.6v1.6h-1.6zM6.7 26.8h1.6v1.6h-1.6zM8.3 2.8h1.6v1.6h-1.6zM8.0 10.5h1.6v1.6h-1.6zM8.2 13.3h1.6v1.6h-1.6zM8.4 18.9h1.6v1.6h-1.6zM9.4 -0.1h1.6v1.6h-1.6zM9.3 16.2h1.6v1.6h-1.6zM9.4 20.1h1.6v1.6h-1.6zM9.3 21.8h1.6v1.6h-1.6zM9.5 24.2h1.6v1.6h-1.6zM9.3 26.9h1.6v1.6h-1.6zM10.7 4.1h1.6v1.6h-1.6zM10.9 16.3h1.6v1.6h-1.6zM12.3 5.3h1.6v1.6h-1.6zM12.3 17.7h1.6v1.6h-1.6zM12.4 20.4h1.6v1.6h-1.6zM11.9 23.1h1.6v1.6h-1.6zM12.2 24.6h1.6v1.6h-1.6zM13.5 8.4h1.6v1.6h-1.6zM13.4 12.3h1.6v1.6h-1.6zM13.7 13.3h1.6v1.6h-1.6zM13.3 21.5h1.6v1.6h-1.6zM13.4 22.8h1.6v1.6h-1.6zM14.8 1.2h1.6v1.6h-1.6zM14.6 3.0h1.6v1.6h-1.6zM14.9 21.8h1.6v1.6h-1.6zM14.8 24.1h1.6v1.6h-1.6zM16.0 0.1h1.6v1.6h-1.6zM16.1 4.1h1.6v1.6h-1.6zM16.2 5.3h1.6v1.6h-1.6zM16.3 6.9h1.6v1.6h-1.6zM16.2 9.4h1.6v1.6h-1.6zM16.5 20.2h1.6v1.6h-1.6zM16.2 27.0h1.6v1.6h-1.6zM16.0 28.2h1.6v1.6h-1.6zM17.4 2.7h1.6v1.6h-1.6zM17.4 4.1h1.6v1.6h-1.6zM17.6 6.5h1.6v1.6h-1.6zM17.3 8.1h1.6v1.6h-1.6zM17.4 13.8h1.6v1.6h-1.6zM17.7 14.6h1.6v1.6h-1.6zM17.8 23.2h1.6v1.6h-1.6zM19.1 2.5h1.6v1.6h-1.6zM19.1 6.8h1.6v1.6h-1.6zM18.7 24.5h1.6v1.6h-1.6zM19.1 25.7h1.6v1.6h-1.6zM20.0 -0.2h1.6v1.6h-1.6zM20.2 3.8h1.6v1.6h-1.6zM20.5 5.1h1.6v1.6h-1.6zM20.1 9.5h1.6v1.6h-1.6zM20.5 11.1h1.6v1.6h-1.6zM20.4 13.7h1.6v1.6h-1.6zM20.3 20.2h1.6v1.6h-1.6zM20.2 21.3h1.6v1.6h-1.6zM20.2 24.1h1.6v1.6h-1.6zM21.5 -0.2h1.6v1.6h-1.6zM21.9 4.0h1.6v1.6h-1.6zM21.9 8.0h1.6v1.6h-1.6zM21.8 12.0h1.6v1.6h-1.6zM21.8 21.7h1.6v1.6h-1.6zM23.2 1.4h1.6v1.6h-1.6zM22.7 6.8h1.6v1.6h-1.6zM22.7 11.1h1.6v1.6h-1.6zM23.2 11.9h1.6v1.6h-1.6zM23.0 20.3h1.6v1.6h-1.6zM23.0 21.7h1.6v1.6h-1.6zM22.8 27.0h1.6v1.6h-1.6zM24.4 0.2h1.6v1.6h-1.6zM24.3 6.6h1.6v1.6h-1.6zM24.4 14.8h1.6v1.6h-1.6zM24.2 23.2h1.6v1.6h-1.6zM24.1 28.2h1.6v1.6h-1.6zM25.9 10.6h1.6v1.6h-1.6zM25.5 27.0h1.6v1.6h-1.6zM26.8 4.0h1.6v1.6h-1.6zM26.8 8.0h1.6v1.6h-1.6zM27.3 9.4h1.6v1.6h-1.6zM26.9 20.3h1.6v1.6h-1.6zM27.3 26.9h1.6v1.6h-1.6zM28.2 9.7h1.6v1.6h-1.6zM28.6 13.3h1.6v1.6h-1.6zM28.5 21.6h1.6v1.6h-1.6zM28.2 22.7h1.6v1.6h-1.6zM28.5 25.5h1.6v1.6h-1.6z"/>
<path fill="#FF699C" d="M0.1 11.0h1.6v1.6h-1.6zM2.9 9.7h1.6v1.6h-1.6zM4.0 5.3h1.6v1.6h-1.6zM4.3 27.2h1.6v1.6h-1.6zM6.8 16.1h1.6v1.6h-1.6zM6.8 25.9h1.6v1.6h-1.6zM9.4 7.9h1.6v1.6h-1.6zM13.6 14.8h1.6v1.6h-1.6zM14.9 4.3h1.6v1.6h-1.6zM14.7 5.2h1.6v1.6h-1.6zM15.1 12.4h1.6v1.6h-1.6zM16.1 21.5h1.6v1.6h-1.6zM16.1 25.7h1.6v1.6h-1.6zM23.1 13.4h1.6v1.6h-1.6zM24.2 20.5h1.6v1.6h-1.6zM27.0 23.0h1.6v1.6h-1.6zM28.5 14.8h1.6v1.6h-1.6zM28.5 17.4h1.6v1.6h-1.6zM28.4 18.7h1.6v1.6h-1.6zM28.2 20.5h1.6v1.6h-1.6z"/>
<path fill="#00C19F" d="M0.1 3.9h1.6v1.6h-1.6zM-0.1 13.6h1.6v1.6h-1.6zM0.2 28.6h1.6v1.6h-1.6zM1.1 1.6h1.6v1.6h-1.6zM1.2 10.5h1.6v1.6h-1.6zM1.1 13.7h1.6v1.6h-1.6zM1.1 14.6h1.6v1.6h-1.6zM1.1 21.8h1.6v1.6h-1.6zM2.6 13.5h1.6v1.6h-1.6zM4.0 4.1h1.6v1.6h-1.6zM5.4 0.2h1.6v1.6h-1.6zM5.6 1.1h1.6v1.6h-1.6zM5.4 23.2h1.6v1.6h-1.6zM6.9 9.7h1.6v1.6h-1.6zM6.5 20.1h1.6v1.6h-1.6zM7.9 -0.2h1.6v1.6h-1.6zM8.0 5.5h1.6v1.6h-1.6zM7.9 21.5h1.6v1.6h-1.6zM9.2 9.3h1.6v1.6h-1.6zM9.3 19.1h1.6v1.6h-1.6zM9.4 25.7h1.6v1.6h-1.6zM10.7 9.4h1.6v1.6h-1.6zM10.9 14.8h1.6v1.6h-1.6zM11.9 16.3h1.6v1.6h-1.6zM12.3 21.7h1.6v1.6h-1.6zM11.9 27.1h1.6v1.6h-1.6zM13.3 6.6h1.6v1.6h-1.6zM13.7 16.0h1.6v1.6h-1.6zM13.8 28.4h1.6v1.6h-1.6zM15.1 9.3h1.6v1.6h-1.6zM15.1 23.2h1.6v1.6h-1.6zM14.6 27.0h1.6v1.6h-1.6zM16.3 18.8h1.6v1.6h-1.6zM16.2 24.1h1.6v1.6h-1.6zM17.3 11.1h1.6v1.6h-1.6zM17.3 12.3h1.6v1.6h-1.6zM17.3 16.0h1.6v1.6h-1.6zM17.5 25.8h1.6v1.6h-1.6zM17.7 26.8h1.6v1.6h-1.6zM18.6 0.1h1.6v1.6h-1.6zM20.1 8.0h1.6v1.6h-1.6zM20.3 14.9h1.6v1.6h-1.6zM21.6 9.7h1.6v1.6h-1.6zM21.4 18.8h1.6v1.6h-1.6zM21.9 24.4h1.6v1.6h-1.6zM23.0 4.0h1.6v1.6h-1.6zM22.9 5.1h1.6v1.6h-1.6zM22.7 19.1h1.6v1.6h-1.6zM23.1 24.5h1.6v1.6h-1.6zM24.1 2.4h1.6v1.6h-1.6zM24.6 10.6h1.6v1.6h-1.6zM25.7 -0.1h1.6v1.6h-1.6zM25.8 5.3h1.6v1.6h-1.6zM25.7 9.4h1.6v1.6h-1.6zM25.4 20.1h1.6v1.6h-1.6zM25.4 21.5h1.6v1.6h-1.6zM26.8 6.9h1.6v1.6h-1.6zM27.3 24.5h1.6v1.6h-1.6zM26.9 25.5h1.6v1.6h-1.6zM28.2 8.2h1.6v1.6h-1.6zM28.6 12.2h1.6v1.6h-1.6zM28.3 16.2h1.6v1.6h-1.6z"/>
<path fill="#00C08B" d="M-0.1 16.4h1.6v1.6h-1.6zM-0.0 17.3h1.6v1.6h-1.6zM-0.1 22.7h1.6v1.6h-1.6zM1.1 9.2h1.6v1.6h-1.6zM1.1 20.3h1.6v1.6h-1.6zM1.4 24.2h1.6v1.6h-1.6zM2.9 0.2h1.6v1.6h-1.6zM2.4 1.4h1.6v1.6h-1.6zM2.4 10.9h1.6v1.6h-1.6zM4.0 18.6h1.6v1.6h-1.6zM5.1 2.9h1.6v1.6h-1.6zM5.5 6.7h1.6v1.6h-1.6zM5.4 12.1h1.6v1.6h-1.6zM7.0 1.3h1.6v1.6h-1.6zM6.7 10.6h1.6v1.6h-1.6zM6.8 21.7h1.6v1.6h-1.6zM7.8 3.8h1.6v1.6h-1.6zM8.1 23.1h1.6v1.6h-1.6zM9.4 3.9h1.6v1.6h-1.6zM9.2 10.8h1.6v1.6h-1.6zM9.6 11.9h1.6v1.6h-1.6zM10.7 1.4h1.6v1.6h-1.6zM10.6 12.0h1.6v1.6h-1.6zM10.7 19.0h1.6v1.6h-1.6zM12.2 2.8h1.6v1.6h-1.6zM12.3 8.0h1.6v1.6h-1.6zM12.2 10.5h1.6v1.6h-1.6zM12.0 15.1h1.6v1.6h-1.6zM12.0 28.4h1.6v1.6h-1.6zM15.0 15.0h1.6v1.6h-1.6zM16.4 2.9h1.6v1.6h-1.6zM15.9 22.8h1.6v1.6h-1.6zM17.4 1.1h1.6v1.6h-1.6zM17.6 9.6h1.6v1.6h-1.6zM17.6 21.8h1.6v1.6h-1.6zM18.7 12.2h1.6v1.6h-1.6zM18.9 16.3h1.6v1.6h-1.6zM19.2 17.3h1.6v1.6h-1.6zM19.1 20.0h1.6v1.6h-1.6zM19.0 22.9h1.6v1.6h-1.6zM20.5 17.7h1.6v1.6h-1.6zM20.2 28.3h1.6v1.6h-1.6zM21.8 26.9h1.6v1.6h-1.6zM24.1 13.8h1.6v1.6h-1.6zM24.3 16.1h1.6v1.6h-1.6zM25.9 3.9h1.6v1.6h-1.6zM25.6 12.3h1.6v1.6h-1.6zM25.5 13.7h1.6v1.6h-1.6zM25.8 25.4h1.6v1.6h-1.6zM28.5 5.6h1.6v1.6h-1.6zM28.3 28.4h1.6v1.6h-1.6z"/>
<path fill="#00BF74" d="M-0.2 0.0h1.6v1.6h-1.6zM-0.0 19.1h1.6v1.6h-1.6zM1.3 22.9h1.6v1.6h-1.6zM1.5 25.6h1.6v1.6h-1.6zM2.8 14.7h1.6v1.6h-1.6zM5.1 20.0h1.6v1.6h-1.6zM8.1 9.4h1.6v1.6h-1.6zM8.1 12.4h1.6v1.6h-1.6zM8.3 16.1h1.6v1.6h-1.6zM8.3 17.4h1.6v1.6h-1.6zM11.0 11.0h1.6v1.6h-1.6zM10.9 23.1h1.6v1.6h-1.6zM16.0 8.0h1.6v1.6h-1.6zM16.4 15.1h1.6v1.6h-1.6zM17.6 -0.2h1.6v1.6h-1.6zM19.0 3.9h1.6v1.6h-1.6zM21.7 5.1h1.6v1.6h-1.6zM22.8 2.6h1.6v1.6h-1.6zM22.7 28.1h1.6v1.6h-1.6zM24.2 7.9h1.6v1.6h-1.6zM24.1 17.7h1.6v1.6h-1.6zM25.8 23.2h1.6v1.6h-1.6zM28.2 1.4h1.6v1.6h-1.6zM28.4 24.3h1.6v1.6h-1.6z"/>
<path fill="#F8766D" d="M1.3 2.7h1.6v1.6h-1.6zM1.2 5.2h1.6v1.6h-1.6zM3.0 2.5h1.6v1.6h-1.6zM2.9 8.4h1.6v1.6h-1.6zM3.9 15.0h1.6v1.6h-1.6zM4.2 24.1h1.6v1.6h-1.6zM5.2 18.9h1.6v1.6h-1.6zM6.8 17.3h1.6v1.6h-1.6zM7.9 20.2h1.6v1.6h-1.6zM9.3 15.1h1.6v1.6h-1.6zM13.6 0.0h1.6v1.6h-1.6zM13.7 26.8h1.6v1.6h-1.6zM14.6 28.1h1.6v1.6h-1.6zM16.3 16.4h1.6v1.6h-1.6zM24.4 24.1h1.6v1.6h-1.6zM25.5 1.4h1.6v1.6h-1.6zM25.5 14.6h1.6v1.6h-1.6zM25.4 17.8h1.6v1.6h-1.6zM25.4 24.1h1.6v1.6h-1.6zM26.9 1.6h1.6v1.6h-1.6zM27.2 12.3h1.6v1.6h-1.6zM28.1 0.1h1.6v1.6h-1.6z"/>
</pattern>
<pattern id="p_mainSalmon" width="30" height="30" patternUnits="userSpaceOnUse">
<rect width="30" height="30" fill="#F8766D"/>
<path fill="#FF61C3" d="M0.2 17.3h1.6v1.6h-1.6zM-0.1 18.9h1.6v1.6h-1.6zM1.2 2.6h1.6v1.6h-1.6zM1.4 8.0h1.6v1.6h-1.6zM1.2 13.4h1.6v1.6h-1.6zM1.5 14.8h1.6v1.6h-1.6zM1.3 20.3h1.6v1.6h-1.6zM1.3 24.3h1.6v1.6h-1.6zM2.7 11.0h1.6v1.6h-1.6zM2.5 12.0h1.6v1.6h-1.6zM2.7 15.9h1.6v1.6h-1.6zM2.8 17.5h1.6v1.6h-1.6zM2.7 20.3h1.6v1.6h-1.6zM5.3 4.2h1.6v1.6h-1.6zM5.1 11.0h1.6v1.6h-1.6zM5.5 18.8h1.6v1.6h-1.6zM5.7 26.9h1.6v1.6h-1.6zM5.3 28.6h1.6v1.6h-1.6zM6.5 -0.3h1.6v1.6h-1.6zM6.5 1.6h1.6v1.6h-1.6zM7.0 13.4h1.6v1.6h-1.6zM6.6 17.6h1.6v1.6h-1.6zM6.7 21.7h1.6v1.6h-1.6zM8.1 0.3h1.6v1.6h-1.6zM7.8 13.4h1.6v1.6h-1.6zM7.9 17.7h1.6v1.6h-1.6zM8.2 25.6h1.6v1.6h-1.6zM9.2 1.4h1.6v1.6h-1.6zM9.2 5.2h1.6v1.6h-1.6zM10.6 4.2h1.6v1.6h-1.6zM10.9 17.3h1.6v1.6h-1.6zM11.0 22.9h1.6v1.6h-1.6zM12.3 1.1h1.6v1.6h-1.6zM12.4 13.7h1.6v1.6h-1.6zM12.0 14.9h1.6v1.6h-1.6zM12.1 17.3h1.6v1.6h-1.6zM12.3 23.1h1.6v1.6h-1.6zM13.7 12.3h1.6v1.6h-1.6zM13.7 16.1h1.6v1.6h-1.6zM14.8 5.5h1.6v1.6h-1.6zM16.2 4.3h1.6v1.6h-1.6zM16.3 6.7h1.6v1.6h-1.6zM16.4 9.4h1.6v1.6h-1.6zM16.2 13.5h1.6v1.6h-1.6zM16.4 15.0h1.6v1.6h-1.6zM15.9 16.1h1.6v1.6h-1.6zM16.3 25.5h1.6v1.6h-1.6zM16.1 27.0h1.6v1.6h-1.6zM17.5 1.6h1.6v1.6h-1.6zM17.7 2.6h1.6v1.6h-1.6zM19.1 2.6h1.6v1.6h-1.6zM18.9 5.4h1.6v1.6h-1.6zM19.1 6.6h1.6v1.6h-1.6zM18.8 11.0h1.6v1.6h-1.6zM19.0 18.8h1.6v1.6h-1.6zM19.2 21.7h1.6v1.6h-1.6zM19.1 22.9h1.6v1.6h-1.6zM20.5 -0.2h1.6v1.6h-1.6zM20.4 14.9h1.6v1.6h-1.6zM20.4 20.3h1.6v1.6h-1.6zM20.4 24.2h1.6v1.6h-1.6zM21.9 0.2h1.6v1.6h-1.6zM21.3 2.9h1.6v1.6h-1.6zM21.4 6.6h1.6v1.6h-1.6zM21.5 16.1h1.6v1.6h-1.6zM21.4 20.5h1.6v1.6h-1.6zM21.3 23.0h1.6v1.6h-1.6zM21.7 27.1h1.6v1.6h-1.6zM23.1 12.1h1.6v1.6h-1.6zM23.0 20.2h1.6v1.6h-1.6zM22.8 22.8h1.6v1.6h-1.6zM23.2 25.8h1.6v1.6h-1.6zM22.7 28.2h1.6v1.6h-1.6zM24.6 6.6h1.6v1.6h-1.6zM24.3 17.8h1.6v1.6h-1.6zM25.9 16.2h1.6v1.6h-1.6zM25.5 17.4h1.6v1.6h-1.6zM25.8 27.0h1.6v1.6h-1.6zM26.7 -0.0h1.6v1.6h-1.6zM27.1 2.5h1.6v1.6h-1.6zM27.1 4.0h1.6v1.6h-1.6zM27.2 10.9h1.6v1.6h-1.6zM26.7 11.9h1.6v1.6h-1.6zM26.8 24.6h1.6v1.6h-1.6zM26.8 25.8h1.6v1.6h-1.6zM28.6 1.6h1.6v1.6h-1.6zM28.4 6.9h1.6v1.6h-1.6zM28.1 16.4h1.6v1.6h-1.6zM28.2 18.9h1.6v1.6h-1.6zM28.6 24.5h1.6v1.6h-1.6z"/>
<path fill="#619CFF" d="M0.2 0.2h1.6v1.6h-1.6zM0.2 3.8h1.6v1.6h-1.6zM0.0 10.8h1.6v1.6h-1.6zM0.1 14.8h1.6v1.6h-1.6zM1.1 5.5h1.6v1.6h-1.6zM1.2 6.7h1.6v1.6h-1.6zM1.2 19.2h1.6v1.6h-1.6zM1.5 26.7h1.6v1.6h-1.6zM2.6 2.7h1.6v1.6h-1.6zM2.7 4.0h1.6v1.6h-1.6zM2.8 6.9h1.6v1.6h-1.6zM2.5 14.6h1.6v1.6h-1.6zM2.9 21.8h1.6v1.6h-1.6zM2.6 28.2h1.6v1.6h-1.6zM4.1 2.7h1.6v1.6h-1.6zM4.2 8.3h1.6v1.6h-1.6zM3.9 21.9h1.6v1.6h-1.6zM5.5 5.4h1.6v1.6h-1.6zM5.4 7.0h1.6v1.6h-1.6zM5.4 16.4h1.6v1.6h-1.6zM5.2 21.9h1.6v1.6h-1.6zM6.6 11.0h1.6v1.6h-1.6zM6.5 24.6h1.6v1.6h-1.6zM7.0 25.7h1.6v1.6h-1.6zM8.2 4.1h1.6v1.6h-1.6zM8.3 9.3h1.6v1.6h-1.6zM7.8 10.9h1.6v1.6h-1.6zM8.0 12.4h1.6v1.6h-1.6zM9.3 7.0h1.6v1.6h-1.6zM9.4 7.9h1.6v1.6h-1.6zM9.2 10.8h1.6v1.6h-1.6zM9.5 28.6h1.6v1.6h-1.6zM10.8 1.5h1.6v1.6h-1.6zM10.6 13.5h1.6v1.6h-1.6zM10.5 21.7h1.6v1.6h-1.6zM10.8 24.6h1.6v1.6h-1.6zM10.7 26.9h1.6v1.6h-1.6zM12.4 9.6h1.6v1.6h-1.6zM12.3 16.0h1.6v1.6h-1.6zM12.3 19.0h1.6v1.6h-1.6zM12.4 21.8h1.6v1.6h-1.6zM12.3 27.2h1.6v1.6h-1.6zM13.5 0.3h1.6v1.6h-1.6zM13.7 2.6h1.6v1.6h-1.6zM13.3 3.9h1.6v1.6h-1.6zM13.6 9.6h1.6v1.6h-1.6zM13.7 13.4h1.6v1.6h-1.6zM13.7 18.6h1.6v1.6h-1.6zM13.5 24.4h1.6v1.6h-1.6zM14.9 1.2h1.6v1.6h-1.6zM14.6 6.9h1.6v1.6h-1.6zM14.7 9.3h1.6v1.6h-1.6zM14.8 10.6h1.6v1.6h-1.6zM14.9 12.4h1.6v1.6h-1.6zM14.9 16.5h1.6v1.6h-1.6zM14.6 18.9h1.6v1.6h-1.6zM14.8 23.1h1.6v1.6h-1.6zM16.2 -0.1h1.6v1.6h-1.6zM16.4 1.4h1.6v1.6h-1.6zM15.9 12.4h1.6v1.6h-1.6zM16.4 18.7h1.6v1.6h-1.6zM17.6 0.2h1.6v1.6h-1.6zM17.7 6.7h1.6v1.6h-1.6zM17.3 10.9h1.6v1.6h-1.6zM17.8 18.7h1.6v1.6h-1.6zM17.4 21.5h1.6v1.6h-1.6zM18.8 -0.2h1.6v1.6h-1.6zM18.9 1.6h1.6v1.6h-1.6zM18.9 9.3h1.6v1.6h-1.6zM18.9 13.4h1.6v1.6h-1.6zM18.8 14.7h1.6v1.6h-1.6zM18.7 20.1h1.6v1.6h-1.6zM19.0 24.2h1.6v1.6h-1.6zM18.8 26.8h1.6v1.6h-1.6zM18.9 28.4h1.6v1.6h-1.6zM20.4 6.8h1.6v1.6h-1.6zM20.4 12.4h1.6v1.6h-1.6zM20.5 16.3h1.6v1.6h-1.6zM20.3 17.8h1.6v1.6h-1.6zM21.3 12.3h1.6v1.6h-1.6zM21.6 21.3h1.6v1.6h-1.6zM23.2 4.2h1.6v1.6h-1.6zM22.8 5.7h1.6v1.6h-1.6zM23.2 27.1h1.6v1.6h-1.6zM24.4 1.4h1.6v1.6h-1.6zM24.5 12.1h1.6v1.6h-1.6zM24.5 18.9h1.6v1.6h-1.6zM24.1 20.0h1.6v1.6h-1.6zM24.4 28.6h1.6v1.6h-1.6zM25.6 0.1h1.6v1.6h-1.6zM25.9 2.5h1.6v1.6h-1.6zM25.8 10.8h1.6v1.6h-1.6zM25.7 13.2h1.6v1.6h-1.6zM25.6 18.7h1.6v1.6h-1.6zM27.1 6.5h1.6v1.6h-1.6zM26.8 9.4h1.6v1.6h-1.6zM27.2 13.2h1.6v1.6h-1.6zM26.8 17.7h1.6v1.6h-1.6zM27.1 19.2h1.6v1.6h-1.6zM28.4 4.2h1.6v1.6h-1.6zM28.3 17.3h1.6v1.6h-1.6zM28.4 21.5h1.6v1.6h-1.6z"/>
</pattern>
<pattern id="p_mainTeal" width="30" height="30" patternUnits="userSpaceOnUse">
<rect width="30" height="30" fill="#00C19F"/>
<path fill="#00BF74" d="M-0.1 6.8h1.6v1.6h-1.6zM0.3 23.0h1.6v1.6h-1.6zM-0.3 28.2h1.6v1.6h-1.6zM1.6 6.5h1.6v1.6h-1.6zM1.4 8.1h1.6v1.6h-1.6zM1.5 17.7h1.6v1.6h-1.6zM3.0 6.9h1.6v1.6h-1.6zM2.8 12.1h1.6v1.6h-1.6zM2.8 25.5h1.6v1.6h-1.6zM3.9 1.1h1.6v1.6h-1.6zM3.8 10.6h1.6v1.6h-1.6zM3.8 24.3h1.6v1.6h-1.6zM3.9 26.8h1.6v1.6h-1.6zM3.8 28.1h1.6v1.6h-1.6zM5.7 1.4h1.6v1.6h-1.6zM5.3 16.0h1.6v1.6h-1.6zM5.5 23.0h1.6v1.6h-1.6zM5.5 25.7h1.6v1.6h-1.6zM7.0 3.8h1.6v1.6h-1.6zM6.5 7.9h1.6v1.6h-1.6zM6.9 10.5h1.6v1.6h-1.6zM7.0 13.5h1.6v1.6h-1.6zM6.6 17.8h1.6v1.6h-1.6zM6.7 20.4h1.6v1.6h-1.6zM6.8 28.5h1.6v1.6h-1.6zM8.1 5.6h1.6v1.6h-1.6zM8.1 10.7h1.6v1.6h-1.6zM7.8 15.1h1.6v1.6h-1.6zM8.3 23.1h1.6v1.6h-1.6zM9.6 5.1h1.6v1.6h-1.6zM9.6 9.6h1.6v1.6h-1.6zM9.4 24.0h1.6v1.6h-1.6zM9.7 25.7h1.6v1.6h-1.6zM10.5 0.1h1.6v1.6h-1.6zM10.9 14.7h1.6v1.6h-1.6zM10.7 28.3h1.6v1.6h-1.6zM12.0 -0.3h1.6v1.6h-1.6zM12.0 8.4h1.6v1.6h-1.6zM11.9 9.2h1.6v1.6h-1.6zM12.0 15.0h1.6v1.6h-1.6zM11.9 21.7h1.6v1.6h-1.6zM12.2 25.8h1.6v1.6h-1.6zM13.3 13.8h1.6v1.6h-1.6zM13.5 17.5h1.6v1.6h-1.6zM13.5 22.8h1.6v1.6h-1.6zM13.6 25.8h1.6v1.6h-1.6zM13.8 28.6h1.6v1.6h-1.6zM14.9 3.9h1.6v1.6h-1.6zM14.6 9.7h1.6v1.6h-1.6zM15.0 17.4h1.6v1.6h-1.6zM15.1 27.1h1.6v1.6h-1.6zM16.3 0.1h1.6v1.6h-1.6zM16.5 9.2h1.6v1.6h-1.6zM16.4 13.7h1.6v1.6h-1.6zM15.9 15.0h1.6v1.6h-1.6zM16.4 16.5h1.6v1.6h-1.6zM17.5 8.3h1.6v1.6h-1.6zM17.5 16.1h1.6v1.6h-1.6zM19.1 1.6h1.6v1.6h-1.6zM19.1 8.1h1.6v1.6h-1.6zM18.8 9.7h1.6v1.6h-1.6zM19.0 16.2h1.6v1.6h-1.6zM19.1 19.1h1.6v1.6h-1.6zM20.4 2.5h1.6v1.6h-1.6zM20.4 7.0h1.6v1.6h-1.6zM20.5 11.0h1.6v1.6h-1.6zM20.0 13.6h1.6v1.6h-1.6zM20.3 18.9h1.6v1.6h-1.6zM20.1 27.1h1.6v1.6h-1.6zM21.4 3.8h1.6v1.6h-1.6zM21.7 7.0h1.6v1.6h-1.6zM21.7 12.0h1.6v1.6h-1.6zM21.4 20.2h1.6v1.6h-1.6zM21.9 21.6h1.6v1.6h-1.6zM21.4 24.1h1.6v1.6h-1.6zM22.9 0.1h1.6v1.6h-1.6zM22.7 1.6h1.6v1.6h-1.6zM22.7 2.9h1.6v1.6h-1.6zM23.0 8.2h1.6v1.6h-1.6zM22.9 13.3h1.6v1.6h-1.6zM22.9 18.8h1.6v1.6h-1.6zM23.0 24.5h1.6v1.6h-1.6zM22.9 28.6h1.6v1.6h-1.6zM24.2 -0.1h1.6v1.6h-1.6zM24.4 28.6h1.6v1.6h-1.6zM25.9 17.8h1.6v1.6h-1.6zM25.8 26.9h1.6v1.6h-1.6zM26.9 -0.1h1.6v1.6h-1.6zM27.2 13.6h1.6v1.6h-1.6zM27.3 14.6h1.6v1.6h-1.6zM27.1 22.8h1.6v1.6h-1.6zM27.0 27.2h1.6v1.6h-1.6zM28.6 -0.0h1.6v1.6h-1.6zM28.3 13.6h1.6v1.6h-1.6zM28.3 20.0h1.6v1.6h-1.6zM28.6 25.8h1.6v1.6h-1.6zM28.1 28.6h1.6v1.6h-1.6z"/>
<path fill="#00C08B" d="M-0.2 0.1h1.6v1.6h-1.6zM0.1 5.4h1.6v1.6h-1.6zM0.2 8.2h1.6v1.6h-1.6zM-0.3 10.9h1.6v1.6h-1.6zM1.6 10.6h1.6v1.6h-1.6zM1.6 16.0h1.6v1.6h-1.6zM1.5 18.7h1.6v1.6h-1.6zM1.2 22.8h1.6v1.6h-1.6zM1.4 25.8h1.6v1.6h-1.6zM2.5 13.8h1.6v1.6h-1.6zM3.8 6.9h1.6v1.6h-1.6zM3.9 13.3h1.6v1.6h-1.6zM4.0 19.1h1.6v1.6h-1.6zM4.3 21.4h1.6v1.6h-1.6zM3.8 25.4h1.6v1.6h-1.6zM5.4 5.6h1.6v1.6h-1.6zM5.3 17.3h1.6v1.6h-1.6zM5.4 21.3h1.6v1.6h-1.6zM6.8 9.7h1.6v1.6h-1.6zM8.1 24.1h1.6v1.6h-1.6zM8.2 27.2h1.6v1.6h-1.6zM9.3 2.5h1.6v1.6h-1.6zM9.5 6.7h1.6v1.6h-1.6zM9.6 7.8h1.6v1.6h-1.6zM9.3 11.1h1.6v1.6h-1.6zM9.4 16.3h1.6v1.6h-1.6zM9.2 17.4h1.6v1.6h-1.6zM9.4 28.2h1.6v1.6h-1.6zM10.9 5.5h1.6v1.6h-1.6zM10.5 20.1h1.6v1.6h-1.6zM11.1 22.7h1.6v1.6h-1.6zM12.3 5.3h1.6v1.6h-1.6zM12.1 10.9h1.6v1.6h-1.6zM12.2 18.7h1.6v1.6h-1.6zM12.0 28.2h1.6v1.6h-1.6zM13.6 0.1h1.6v1.6h-1.6zM13.4 2.5h1.6v1.6h-1.6zM13.2 9.5h1.6v1.6h-1.6zM13.5 19.1h1.6v1.6h-1.6zM13.3 24.2h1.6v1.6h-1.6zM14.6 -0.0h1.6v1.6h-1.6zM14.7 1.1h1.6v1.6h-1.6zM15.0 6.7h1.6v1.6h-1.6zM14.6 13.3h1.6v1.6h-1.6zM14.8 20.2h1.6v1.6h-1.6zM15.1 25.9h1.6v1.6h-1.6zM16.1 12.0h1.6v1.6h-1.6zM17.7 2.9h1.6v1.6h-1.6zM17.5 5.6h1.6v1.6h-1.6zM17.3 15.1h1.6v1.6h-1.6zM18.7 -0.0h1.6v1.6h-1.6zM19.1 4.0h1.6v1.6h-1.6zM18.7 10.7h1.6v1.6h-1.6zM19.1 22.8h1.6v1.6h-1.6zM19.2 26.8h1.6v1.6h-1.6zM20.1 1.4h1.6v1.6h-1.6zM20.4 24.1h1.6v1.6h-1.6zM21.7 0.1h1.6v1.6h-1.6zM21.5 1.6h1.6v1.6h-1.6zM21.4 9.3h1.6v1.6h-1.6zM21.9 26.9h1.6v1.6h-1.6zM22.9 4.1h1.6v1.6h-1.6zM22.9 12.4h1.6v1.6h-1.6zM24.4 11.0h1.6v1.6h-1.6zM24.5 16.1h1.6v1.6h-1.6zM24.4 24.1h1.6v1.6h-1.6zM25.4 12.2h1.6v1.6h-1.6zM25.4 13.5h1.6v1.6h-1.6zM25.4 23.1h1.6v1.6h-1.6zM26.9 6.8h1.6v1.6h-1.6zM26.8 12.3h1.6v1.6h-1.6zM27.1 21.4h1.6v1.6h-1.6zM26.9 24.2h1.6v1.6h-1.6zM27.0 28.6h1.6v1.6h-1.6zM28.1 2.8h1.6v1.6h-1.6zM28.3 7.9h1.6v1.6h-1.6zM28.3 15.1h1.6v1.6h-1.6zM28.4 27.2h1.6v1.6h-1.6z"/>
<path fill="#FF61C3" d="M0.2 9.7h1.6v1.6h-1.6zM1.5 1.6h1.6v1.6h-1.6zM1.4 2.5h1.6v1.6h-1.6zM1.2 4.1h1.6v1.6h-1.6zM2.5 9.2h1.6v1.6h-1.6zM2.4 16.4h1.6v1.6h-1.6zM3.9 12.1h1.6v1.6h-1.6zM5.7 28.5h1.6v1.6h-1.6zM6.6 16.5h1.6v1.6h-1.6zM6.5 25.7h1.6v1.6h-1.6zM9.3 12.1h1.6v1.6h-1.6zM10.9 11.0h1.6v1.6h-1.6zM12.3 6.7h1.6v1.6h-1.6zM12.3 13.3h1.6v1.6h-1.6zM12.3 16.0h1.6v1.6h-1.6zM13.7 5.5h1.6v1.6h-1.6zM17.8 11.0h1.6v1.6h-1.6zM17.7 17.8h1.6v1.6h-1.6zM17.4 26.7h1.6v1.6h-1.6zM20.1 5.6h1.6v1.6h-1.6zM20.2 14.9h1.6v1.6h-1.6zM21.7 5.2h1.6v1.6h-1.6zM24.1 1.5h1.6v1.6h-1.6zM24.1 6.6h1.6v1.6h-1.6zM25.7 14.8h1.6v1.6h-1.6zM25.7 24.0h1.6v1.6h-1.6zM25.6 25.8h1.6v1.6h-1.6zM27.3 4.2h1.6v1.6h-1.6zM26.8 16.1h1.6v1.6h-1.6zM28.1 9.4h1.6v1.6h-1.6zM28.1 18.7h1.6v1.6h-1.6z"/>
<path fill="#00A5FF" d="M-0.0 12.4h1.6v1.6h-1.6zM1.6 -0.1h1.6v1.6h-1.6zM1.1 14.7h1.6v1.6h-1.6zM2.9 19.0h1.6v1.6h-1.6zM2.5 24.4h1.6v1.6h-1.6zM3.8 4.3h1.6v1.6h-1.6zM5.2 10.5h1.6v1.6h-1.6zM6.7 0.2h1.6v1.6h-1.6zM8.2 12.4h1.6v1.6h-1.6zM8.4 28.2h1.6v1.6h-1.6zM9.5 1.2h1.6v1.6h-1.6zM10.9 12.0h1.6v1.6h-1.6zM13.3 1.2h1.6v1.6h-1.6zM13.5 14.7h1.6v1.6h-1.6zM16.1 10.6h1.6v1.6h-1.6zM16.4 18.8h1.6v1.6h-1.6zM16.1 28.4h1.6v1.6h-1.6zM17.7 -0.2h1.6v1.6h-1.6zM17.7 1.6h1.6v1.6h-1.6zM19.0 5.3h1.6v1.6h-1.6zM18.9 6.5h1.6v1.6h-1.6zM18.6 14.9h1.6v1.6h-1.6zM19.2 24.3h1.6v1.6h-1.6zM20.1 28.4h1.6v1.6h-1.6zM22.9 5.4h1.6v1.6h-1.6zM23.1 10.9h1.6v1.6h-1.6zM23.1 15.9h1.6v1.6h-1.6zM22.9 20.3h1.6v1.6h-1.6zM24.5 19.0h1.6v1.6h-1.6zM25.7 16.1h1.6v1.6h-1.6zM25.7 18.7h1.6v1.6h-1.6zM27.2 2.9h1.6v1.6h-1.6zM27.0 9.3h1.6v1.6h-1.6zM26.7 11.1h1.6v1.6h-1.6zM27.0 19.0h1.6v1.6h-1.6zM27.3 25.9h1.6v1.6h-1.6zM28.6 11.9h1.6v1.6h-1.6zM28.2 24.5h1.6v1.6h-1.6z"/>
<path fill="#619CFF" d="M0.2 1.1h1.6v1.6h-1.6zM-0.0 15.0h1.6v1.6h-1.6zM0.2 24.5h1.6v1.6h-1.6zM0.2 25.5h1.6v1.6h-1.6zM1.3 9.7h1.6v1.6h-1.6zM1.4 24.4h1.6v1.6h-1.6zM4.0 0.1h1.6v1.6h-1.6zM5.6 6.5h1.6v1.6h-1.6zM5.4 7.9h1.6v1.6h-1.6zM5.4 13.6h1.6v1.6h-1.6zM5.4 18.7h1.6v1.6h-1.6zM6.6 12.1h1.6v1.6h-1.6zM6.8 14.7h1.6v1.6h-1.6zM7.9 3.8h1.6v1.6h-1.6zM8.0 13.8h1.6v1.6h-1.6zM8.3 21.6h1.6v1.6h-1.6zM9.3 13.4h1.6v1.6h-1.6zM9.7 14.7h1.6v1.6h-1.6zM11.0 4.3h1.6v1.6h-1.6zM10.6 6.9h1.6v1.6h-1.6zM11.1 25.4h1.6v1.6h-1.6zM13.7 6.6h1.6v1.6h-1.6zM15.1 2.5h1.6v1.6h-1.6zM14.6 24.2h1.6v1.6h-1.6zM16.0 4.2h1.6v1.6h-1.6zM17.7 13.6h1.6v1.6h-1.6zM19.0 13.3h1.6v1.6h-1.6zM20.5 4.1h1.6v1.6h-1.6zM20.1 9.2h1.6v1.6h-1.6zM20.3 12.4h1.6v1.6h-1.6zM21.3 3.0h1.6v1.6h-1.6zM21.6 22.8h1.6v1.6h-1.6zM22.7 9.4h1.6v1.6h-1.6zM23.0 21.6h1.6v1.6h-1.6zM24.3 12.4h1.6v1.6h-1.6zM24.3 14.7h1.6v1.6h-1.6zM24.0 20.0h1.6v1.6h-1.6zM25.6 1.3h1.6v1.6h-1.6zM25.9 5.5h1.6v1.6h-1.6zM25.9 28.6h1.6v1.6h-1.6zM28.4 5.5h1.6v1.6h-1.6zM28.3 21.8h1.6v1.6h-1.6z"/>
</pattern>
<pattern id="p_mainAno" width="30" height="30" patternUnits="userSpaceOnUse">
<rect width="30" height="30" fill="#F17D50"/>
<path fill="#F8766D" d="M0.1 0.1h1.6v1.6h-1.6zM0.3 4.3h1.6v1.6h-1.6zM0.1 20.0h1.6v1.6h-1.6zM-0.1 21.9h1.6v1.6h-1.6zM-0.2 23.0h1.6v1.6h-1.6zM-0.1 24.3h1.6v1.6h-1.6zM1.5 5.3h1.6v1.6h-1.6zM1.4 6.8h1.6v1.6h-1.6zM1.5 8.0h1.6v1.6h-1.6zM1.2 12.4h1.6v1.6h-1.6zM1.5 21.7h1.6v1.6h-1.6zM1.6 23.1h1.6v1.6h-1.6zM2.6 0.0h1.6v1.6h-1.6zM2.8 4.2h1.6v1.6h-1.6zM2.5 9.7h1.6v1.6h-1.6zM2.7 12.0h1.6v1.6h-1.6zM2.6 13.6h1.6v1.6h-1.6zM3.0 16.0h1.6v1.6h-1.6zM3.0 24.6h1.6v1.6h-1.6zM3.9 3.8h1.6v1.6h-1.6zM3.8 9.5h1.6v1.6h-1.6zM3.9 21.8h1.6v1.6h-1.6zM5.2 0.1h1.6v1.6h-1.6zM5.4 1.4h1.6v1.6h-1.6zM5.5 2.5h1.6v1.6h-1.6zM5.2 14.6h1.6v1.6h-1.6zM5.5 18.9h1.6v1.6h-1.6zM5.5 24.1h1.6v1.6h-1.6zM6.5 13.3h1.6v1.6h-1.6zM6.7 20.1h1.6v1.6h-1.6zM8.4 2.5h1.6v1.6h-1.6zM8.0 11.1h1.6v1.6h-1.6zM8.1 11.9h1.6v1.6h-1.6zM7.8 20.4h1.6v1.6h-1.6zM7.9 21.5h1.6v1.6h-1.6zM9.4 3.8h1.6v1.6h-1.6zM9.5 7.9h1.6v1.6h-1.6zM9.6 9.2h1.6v1.6h-1.6zM9.7 17.4h1.6v1.6h-1.6zM9.6 19.1h1.6v1.6h-1.6zM9.5 21.9h1.6v1.6h-1.6zM10.9 16.4h1.6v1.6h-1.6zM10.8 20.2h1.6v1.6h-1.6zM10.8 25.8h1.6v1.6h-1.6zM12.3 3.9h1.6v1.6h-1.6zM12.2 6.9h1.6v1.6h-1.6zM12.2 16.3h1.6v1.6h-1.6zM12.3 17.4h1.6v1.6h-1.6zM12.3 21.6h1.6v1.6h-1.6zM12.4 28.6h1.6v1.6h-1.6zM13.3 3.8h1.6v1.6h-1.6zM13.7 6.6h1.6v1.6h-1.6zM13.7 8.1h1.6v1.6h-1.6zM13.4 10.6h1.6v1.6h-1.6zM13.5 12.1h1.6v1.6h-1.6zM13.4 23.1h1.6v1.6h-1.6zM15.1 3.9h1.6v1.6h-1.6zM14.6 23.2h1.6v1.6h-1.6zM14.7 25.7h1.6v1.6h-1.6zM16.4 -0.1h1.6v1.6h-1.6zM16.2 1.6h1.6v1.6h-1.6zM16.4 8.1h1.6v1.6h-1.6zM16.0 10.7h1.6v1.6h-1.6zM16.2 12.4h1.6v1.6h-1.6zM17.4 0.0h1.6v1.6h-1.6zM17.4 4.3h1.6v1.6h-1.6zM17.5 13.3h1.6v1.6h-1.6zM17.5 20.2h1.6v1.6h-1.6zM17.5 21.5h1.6v1.6h-1.6zM18.9 1.5h1.6v1.6h-1.6zM19.0 8.2h1.6v1.6h-1.6zM20.3 9.3h1.6v1.6h-1.6zM20.3 12.3h1.6v1.6h-1.6zM20.4 16.3h1.6v1.6h-1.6zM20.5 21.7h1.6v1.6h-1.6zM20.1 24.5h1.6v1.6h-1.6zM20.2 28.5h1.6v1.6h-1.6zM21.4 2.9h1.6v1.6h-1.6zM21.8 17.8h1.6v1.6h-1.6zM21.6 19.1h1.6v1.6h-1.6zM21.8 21.7h1.6v1.6h-1.6zM21.6 25.7h1.6v1.6h-1.6zM21.4 27.1h1.6v1.6h-1.6zM22.9 -0.2h1.6v1.6h-1.6zM22.8 1.5h1.6v1.6h-1.6zM22.8 2.8h1.6v1.6h-1.6zM22.9 8.1h1.6v1.6h-1.6zM23.1 12.4h1.6v1.6h-1.6zM22.9 24.3h1.6v1.6h-1.6zM22.8 25.8h1.6v1.6h-1.6zM22.7 28.2h1.6v1.6h-1.6zM24.2 9.6h1.6v1.6h-1.6zM24.2 16.4h1.6v1.6h-1.6zM24.4 17.7h1.6v1.6h-1.6zM24.1 21.4h1.6v1.6h-1.6zM24.2 28.1h1.6v1.6h-1.6zM25.4 9.7h1.6v1.6h-1.6zM25.7 13.5h1.6v1.6h-1.6zM25.5 16.3h1.6v1.6h-1.6zM27.2 3.8h1.6v1.6h-1.6zM27.1 17.3h1.6v1.6h-1.6zM27.3 25.5h1.6v1.6h-1.6zM26.9 28.6h1.6v1.6h-1.6zM28.4 4.0h1.6v1.6h-1.6zM28.5 6.7h1.6v1.6h-1.6zM28.3 10.9h1.6v1.6h-1.6zM28.1 18.8h1.6v1.6h-1.6zM28.6 20.0h1.6v1.6h-1.6zM28.3 24.1h1.6v1.6h-1.6z"/>
</pattern>
<pattern id="p_mainPink" width="30" height="30" patternUnits="userSpaceOnUse">
<rect width="30" height="30" fill="#FF699C"/>
<path fill="#F8766D" d="M-0.1 4.1h1.6v1.6h-1.6zM0.2 10.6h1.6v1.6h-1.6zM-0.1 17.3h1.6v1.6h-1.6zM-0.1 19.2h1.6v1.6h-1.6zM-0.2 21.9h1.6v1.6h-1.6zM0.2 28.2h1.6v1.6h-1.6zM1.5 -0.1h1.6v1.6h-1.6zM1.3 3.0h1.6v1.6h-1.6zM1.1 5.4h1.6v1.6h-1.6zM1.1 14.6h1.6v1.6h-1.6zM1.1 21.8h1.6v1.6h-1.6zM1.2 22.8h1.6v1.6h-1.6zM2.5 2.7h1.6v1.6h-1.6zM2.6 5.3h1.6v1.6h-1.6zM2.5 7.9h1.6v1.6h-1.6zM2.7 9.6h1.6v1.6h-1.6zM2.9 12.0h1.6v1.6h-1.6zM2.8 25.8h1.6v1.6h-1.6zM4.1 4.1h1.6v1.6h-1.6zM3.9 18.8h1.6v1.6h-1.6zM5.3 -0.3h1.6v1.6h-1.6zM5.6 16.0h1.6v1.6h-1.6zM5.3 17.5h1.6v1.6h-1.6zM6.7 0.2h1.6v1.6h-1.6zM6.7 8.4h1.6v1.6h-1.6zM6.5 14.8h1.6v1.6h-1.6zM7.0 16.1h1.6v1.6h-1.6zM6.7 21.7h1.6v1.6h-1.6zM6.6 23.0h1.6v1.6h-1.6zM8.3 0.1h1.6v1.6h-1.6zM7.8 2.6h1.6v1.6h-1.6zM8.0 7.9h1.6v1.6h-1.6zM8.3 12.4h1.6v1.6h-1.6zM8.0 17.4h1.6v1.6h-1.6zM8.4 20.3h1.6v1.6h-1.6zM8.1 24.4h1.6v1.6h-1.6zM9.7 9.6h1.6v1.6h-1.6zM9.7 18.7h1.6v1.6h-1.6zM10.7 10.7h1.6v1.6h-1.6zM10.6 12.4h1.6v1.6h-1.6zM11.9 1.3h1.6v1.6h-1.6zM12.3 5.2h1.6v1.6h-1.6zM12.4 17.4h1.6v1.6h-1.6zM12.3 21.4h1.6v1.6h-1.6zM12.4 22.9h1.6v1.6h-1.6zM13.5 2.9h1.6v1.6h-1.6zM13.5 17.8h1.6v1.6h-1.6zM13.5 22.9h1.6v1.6h-1.6zM13.3 25.9h1.6v1.6h-1.6zM13.5 27.0h1.6v1.6h-1.6zM14.8 1.6h1.6v1.6h-1.6zM14.7 2.4h1.6v1.6h-1.6zM14.6 9.2h1.6v1.6h-1.6zM14.9 14.7h1.6v1.6h-1.6zM14.6 17.7h1.6v1.6h-1.6zM16.0 0.3h1.6v1.6h-1.6zM15.9 24.5h1.6v1.6h-1.6zM15.9 26.9h1.6v1.6h-1.6zM17.7 0.1h1.6v1.6h-1.6zM17.6 2.8h1.6v1.6h-1.6zM17.4 17.8h1.6v1.6h-1.6zM17.8 26.7h1.6v1.6h-1.6zM18.9 8.0h1.6v1.6h-1.6zM19.1 9.6h1.6v1.6h-1.6zM18.8 13.3h1.6v1.6h-1.6zM19.2 21.4h1.6v1.6h-1.6zM18.7 27.2h1.6v1.6h-1.6zM20.4 15.9h1.6v1.6h-1.6zM20.4 18.8h1.6v1.6h-1.6zM20.0 20.2h1.6v1.6h-1.6zM21.9 10.5h1.6v1.6h-1.6zM21.3 12.4h1.6v1.6h-1.6zM21.8 20.0h1.6v1.6h-1.6zM21.7 24.3h1.6v1.6h-1.6zM22.7 3.0h1.6v1.6h-1.6zM23.2 4.2h1.6v1.6h-1.6zM23.1 7.9h1.6v1.6h-1.6zM22.9 20.4h1.6v1.6h-1.6zM22.7 21.6h1.6v1.6h-1.6zM22.9 23.0h1.6v1.6h-1.6zM22.9 27.3h1.6v1.6h-1.6zM24.2 2.5h1.6v1.6h-1.6zM24.2 6.5h1.6v1.6h-1.6zM24.6 17.7h1.6v1.6h-1.6zM24.1 18.6h1.6v1.6h-1.6zM24.3 24.1h1.6v1.6h-1.6zM25.5 -0.0h1.6v1.6h-1.6zM25.5 10.7h1.6v1.6h-1.6zM25.5 15.0h1.6v1.6h-1.6zM25.9 18.7h1.6v1.6h-1.6zM27.1 2.6h1.6v1.6h-1.6zM27.0 7.9h1.6v1.6h-1.6zM28.5 1.4h1.6v1.6h-1.6zM28.2 3.0h1.6v1.6h-1.6zM28.6 21.4h1.6v1.6h-1.6z"/>
<path fill="#FF61C3" d="M0.1 1.4h1.6v1.6h-1.6zM-0.1 8.3h1.6v1.6h-1.6zM-0.3 12.4h1.6v1.6h-1.6zM-0.1 14.7h1.6v1.6h-1.6zM0.2 24.2h1.6v1.6h-1.6zM-0.1 25.4h1.6v1.6h-1.6zM1.1 8.4h1.6v1.6h-1.6zM1.1 12.1h1.6v1.6h-1.6zM2.8 0.1h1.6v1.6h-1.6zM2.5 6.9h1.6v1.6h-1.6zM2.5 16.5h1.6v1.6h-1.6zM2.9 17.6h1.6v1.6h-1.6zM2.5 21.6h1.6v1.6h-1.6zM2.5 23.0h1.6v1.6h-1.6zM4.2 2.8h1.6v1.6h-1.6zM4.2 11.1h1.6v1.6h-1.6zM4.0 13.4h1.6v1.6h-1.6zM4.3 16.4h1.6v1.6h-1.6zM3.9 17.3h1.6v1.6h-1.6zM3.9 23.2h1.6v1.6h-1.6zM5.4 6.8h1.6v1.6h-1.6zM5.6 15.0h1.6v1.6h-1.6zM5.4 20.4h1.6v1.6h-1.6zM5.5 21.9h1.6v1.6h-1.6zM5.7 27.1h1.6v1.6h-1.6zM5.7 28.5h1.6v1.6h-1.6zM6.9 3.9h1.6v1.6h-1.6zM7.0 5.2h1.6v1.6h-1.6zM6.6 11.1h1.6v1.6h-1.6zM7.8 5.4h1.6v1.6h-1.6zM8.3 9.5h1.6v1.6h-1.6zM7.8 13.7h1.6v1.6h-1.6zM8.0 15.1h1.6v1.6h-1.6zM8.2 18.8h1.6v1.6h-1.6zM8.1 27.1h1.6v1.6h-1.6zM9.6 2.5h1.6v1.6h-1.6zM9.5 6.8h1.6v1.6h-1.6zM9.7 15.9h1.6v1.6h-1.6zM9.5 26.8h1.6v1.6h-1.6zM11.0 5.5h1.6v1.6h-1.6zM10.9 9.7h1.6v1.6h-1.6zM10.6 15.0h1.6v1.6h-1.6zM10.7 16.0h1.6v1.6h-1.6zM10.8 19.1h1.6v1.6h-1.6zM10.6 25.8h1.6v1.6h-1.6zM12.4 -0.1h1.6v1.6h-1.6zM12.3 4.2h1.6v1.6h-1.6zM12.0 10.7h1.6v1.6h-1.6zM12.3 28.6h1.6v1.6h-1.6zM13.4 0.0h1.6v1.6h-1.6zM13.7 6.7h1.6v1.6h-1.6zM13.5 12.1h1.6v1.6h-1.6zM15.1 6.6h1.6v1.6h-1.6zM14.8 8.1h1.6v1.6h-1.6zM15.0 10.7h1.6v1.6h-1.6zM14.7 18.9h1.6v1.6h-1.6zM16.2 1.4h1.6v1.6h-1.6zM16.1 12.3h1.6v1.6h-1.6zM16.2 15.0h1.6v1.6h-1.6zM16.1 21.4h1.6v1.6h-1.6zM16.2 23.1h1.6v1.6h-1.6zM16.4 28.4h1.6v1.6h-1.6zM17.6 10.6h1.6v1.6h-1.6zM17.3 12.3h1.6v1.6h-1.6zM17.6 20.1h1.6v1.6h-1.6zM18.7 17.6h1.6v1.6h-1.6zM18.7 20.3h1.6v1.6h-1.6zM18.6 22.8h1.6v1.6h-1.6zM20.5 -0.2h1.6v1.6h-1.6zM20.2 3.0h1.6v1.6h-1.6zM20.4 10.9h1.6v1.6h-1.6zM20.1 15.0h1.6v1.6h-1.6zM20.4 27.1h1.6v1.6h-1.6zM21.6 17.5h1.6v1.6h-1.6zM23.1 5.3h1.6v1.6h-1.6zM22.8 6.8h1.6v1.6h-1.6zM23.1 16.3h1.6v1.6h-1.6zM23.0 17.6h1.6v1.6h-1.6zM24.2 1.3h1.6v1.6h-1.6zM24.5 10.8h1.6v1.6h-1.6zM24.5 15.1h1.6v1.6h-1.6zM24.0 20.4h1.6v1.6h-1.6zM24.3 21.8h1.6v1.6h-1.6zM25.4 5.3h1.6v1.6h-1.6zM25.7 6.7h1.6v1.6h-1.6zM25.9 12.2h1.6v1.6h-1.6zM25.6 27.0h1.6v1.6h-1.6zM27.2 -0.0h1.6v1.6h-1.6zM27.0 11.9h1.6v1.6h-1.6zM27.0 13.2h1.6v1.6h-1.6zM27.2 24.4h1.6v1.6h-1.6zM28.3 3.8h1.6v1.6h-1.6zM28.3 8.3h1.6v1.6h-1.6zM28.2 14.7h1.6v1.6h-1.6zM28.4 24.3h1.6v1.6h-1.6z"/>
<path fill="#619CFF" d="M1.2 4.1h1.6v1.6h-1.6zM1.2 6.8h1.6v1.6h-1.6zM1.1 24.4h1.6v1.6h-1.6zM1.3 27.1h1.6v1.6h-1.6zM1.1 28.1h1.6v1.6h-1.6zM2.9 13.8h1.6v1.6h-1.6zM2.6 15.0h1.6v1.6h-1.6zM2.5 20.1h1.6v1.6h-1.6zM4.0 -0.0h1.6v1.6h-1.6zM4.3 6.9h1.6v1.6h-1.6zM4.0 8.3h1.6v1.6h-1.6zM4.3 12.0h1.6v1.6h-1.6zM3.9 25.5h1.6v1.6h-1.6zM5.3 1.1h1.6v1.6h-1.6zM5.2 2.6h1.6v1.6h-1.6zM5.3 11.1h1.6v1.6h-1.6zM5.2 12.4h1.6v1.6h-1.6zM5.4 22.8h1.6v1.6h-1.6zM5.3 24.1h1.6v1.6h-1.6zM6.7 9.6h1.6v1.6h-1.6zM6.9 17.6h1.6v1.6h-1.6zM6.6 24.2h1.6v1.6h-1.6zM8.3 1.4h1.6v1.6h-1.6zM8.3 16.0h1.6v1.6h-1.6zM8.1 21.9h1.6v1.6h-1.6zM8.2 25.6h1.6v1.6h-1.6zM7.8 28.2h1.6v1.6h-1.6zM9.2 0.2h1.6v1.6h-1.6zM9.3 10.8h1.6v1.6h-1.6zM9.3 14.9h1.6v1.6h-1.6zM9.4 20.3h1.6v1.6h-1.6zM9.2 21.5h1.6v1.6h-1.6zM9.5 28.1h1.6v1.6h-1.6zM11.0 -0.2h1.6v1.6h-1.6zM11.0 1.2h1.6v1.6h-1.6zM11.0 3.8h1.6v1.6h-1.6zM11.1 6.6h1.6v1.6h-1.6zM11.1 8.0h1.6v1.6h-1.6zM10.6 13.6h1.6v1.6h-1.6zM10.6 24.0h1.6v1.6h-1.6zM12.2 13.5h1.6v1.6h-1.6zM12.4 16.2h1.6v1.6h-1.6zM12.4 25.6h1.6v1.6h-1.6zM13.8 4.0h1.6v1.6h-1.6zM13.3 5.7h1.6v1.6h-1.6zM13.2 8.3h1.6v1.6h-1.6zM13.4 9.6h1.6v1.6h-1.6zM13.6 14.6h1.6v1.6h-1.6zM13.3 16.1h1.6v1.6h-1.6zM13.6 18.8h1.6v1.6h-1.6zM13.4 24.2h1.6v1.6h-1.6zM15.0 12.0h1.6v1.6h-1.6zM14.8 24.4h1.6v1.6h-1.6zM14.9 27.1h1.6v1.6h-1.6zM15.9 6.7h1.6v1.6h-1.6zM16.4 8.2h1.6v1.6h-1.6zM16.1 16.5h1.6v1.6h-1.6zM15.9 18.9h1.6v1.6h-1.6zM17.4 19.0h1.6v1.6h-1.6zM17.8 21.3h1.6v1.6h-1.6zM17.4 28.1h1.6v1.6h-1.6zM18.8 -0.2h1.6v1.6h-1.6zM19.1 12.2h1.6v1.6h-1.6zM19.0 14.6h1.6v1.6h-1.6zM19.1 15.9h1.6v1.6h-1.6zM18.8 18.9h1.6v1.6h-1.6zM20.2 7.0h1.6v1.6h-1.6zM20.1 8.1h1.6v1.6h-1.6zM20.0 9.7h1.6v1.6h-1.6zM20.0 13.7h1.6v1.6h-1.6zM20.2 17.7h1.6v1.6h-1.6zM20.4 22.9h1.6v1.6h-1.6zM20.5 24.6h1.6v1.6h-1.6zM21.6 0.1h1.6v1.6h-1.6zM21.5 1.1h1.6v1.6h-1.6zM21.5 2.4h1.6v1.6h-1.6zM21.7 5.2h1.6v1.6h-1.6zM21.7 8.1h1.6v1.6h-1.6zM21.8 15.0h1.6v1.6h-1.6zM21.6 21.5h1.6v1.6h-1.6zM21.6 25.7h1.6v1.6h-1.6zM21.4 26.7h1.6v1.6h-1.6zM23.1 11.1h1.6v1.6h-1.6zM23.0 19.0h1.6v1.6h-1.6zM24.6 5.3h1.6v1.6h-1.6zM24.5 7.9h1.6v1.6h-1.6zM24.4 22.7h1.6v1.6h-1.6zM24.4 25.4h1.6v1.6h-1.6zM25.5 1.5h1.6v1.6h-1.6zM25.9 3.9h1.6v1.6h-1.6zM26.9 1.6h1.6v1.6h-1.6zM26.9 6.9h1.6v1.6h-1.6zM27.0 17.4h1.6v1.6h-1.6zM27.1 25.4h1.6v1.6h-1.6zM28.2 5.6h1.6v1.6h-1.6zM28.6 13.6h1.6v1.6h-1.6zM28.1 17.6h1.6v1.6h-1.6zM28.1 26.8h1.6v1.6h-1.6z"/>
</pattern>
<pattern id="p_fingers" width="30" height="30" patternUnits="userSpaceOnUse">
<rect width="30" height="30" fill="#FF699C"/>
<path fill="#00C19F" d="M-0.0 0.0h1.6v1.6h-1.6zM0.2 1.3h1.6v1.6h-1.6zM0.2 6.5h1.6v1.6h-1.6zM0.2 10.7h1.6v1.6h-1.6zM-0.1 13.3h1.6v1.6h-1.6zM-0.2 16.1h1.6v1.6h-1.6zM0.0 17.5h1.6v1.6h-1.6zM0.0 21.8h1.6v1.6h-1.6zM-0.2 22.8h1.6v1.6h-1.6zM-0.2 27.1h1.6v1.6h-1.6zM0.2 28.6h1.6v1.6h-1.6zM1.5 2.6h1.6v1.6h-1.6zM1.5 11.0h1.6v1.6h-1.6zM1.3 13.7h1.6v1.6h-1.6zM1.4 14.8h1.6v1.6h-1.6zM1.4 23.0h1.6v1.6h-1.6zM1.4 24.1h1.6v1.6h-1.6zM1.4 27.2h1.6v1.6h-1.6zM1.6 28.1h1.6v1.6h-1.6zM2.5 2.7h1.6v1.6h-1.6zM2.5 4.1h1.6v1.6h-1.6zM2.6 7.0h1.6v1.6h-1.6zM2.8 8.0h1.6v1.6h-1.6zM2.7 9.6h1.6v1.6h-1.6zM2.9 13.5h1.6v1.6h-1.6zM2.7 16.4h1.6v1.6h-1.6zM2.9 20.2h1.6v1.6h-1.6zM2.6 25.5h1.6v1.6h-1.6zM2.4 27.2h1.6v1.6h-1.6zM4.0 1.6h1.6v1.6h-1.6zM4.3 9.7h1.6v1.6h-1.6zM3.9 16.3h1.6v1.6h-1.6zM4.1 17.4h1.6v1.6h-1.6zM4.2 19.0h1.6v1.6h-1.6zM4.0 20.1h1.6v1.6h-1.6zM4.1 22.8h1.6v1.6h-1.6zM4.3 28.1h1.6v1.6h-1.6zM5.2 4.3h1.6v1.6h-1.6zM5.5 12.4h1.6v1.6h-1.6zM5.7 21.9h1.6v1.6h-1.6zM5.7 25.5h1.6v1.6h-1.6zM5.2 28.5h1.6v1.6h-1.6zM6.5 0.3h1.6v1.6h-1.6zM6.7 2.5h1.6v1.6h-1.6zM7.0 7.0h1.6v1.6h-1.6zM6.6 8.1h1.6v1.6h-1.6zM6.8 14.6h1.6v1.6h-1.6zM6.8 17.5h1.6v1.6h-1.6zM6.5 21.5h1.6v1.6h-1.6zM6.8 26.9h1.6v1.6h-1.6zM7.9 0.1h1.6v1.6h-1.6zM7.9 2.5h1.6v1.6h-1.6zM8.4 3.9h1.6v1.6h-1.6zM7.9 6.7h1.6v1.6h-1.6zM8.0 8.3h1.6v1.6h-1.6zM8.1 12.4h1.6v1.6h-1.6zM8.2 14.8h1.6v1.6h-1.6zM8.3 17.5h1.6v1.6h-1.6zM8.2 19.0h1.6v1.6h-1.6zM7.9 20.2h1.6v1.6h-1.6zM8.3 21.9h1.6v1.6h-1.6zM8.0 22.8h1.6v1.6h-1.6zM8.2 24.1h1.6v1.6h-1.6zM8.4 25.6h1.6v1.6h-1.6zM9.6 1.4h1.6v1.6h-1.6zM9.2 6.8h1.6v1.6h-1.6zM9.3 8.3h1.6v1.6h-1.6zM9.7 9.4h1.6v1.6h-1.6zM9.5 10.7h1.6v1.6h-1.6zM9.2 12.0h1.6v1.6h-1.6zM9.6 17.3h1.6v1.6h-1.6zM9.4 18.9h1.6v1.6h-1.6zM9.4 20.5h1.6v1.6h-1.6zM9.2 22.7h1.6v1.6h-1.6zM10.6 6.9h1.6v1.6h-1.6zM11.1 21.9h1.6v1.6h-1.6zM10.6 24.2h1.6v1.6h-1.6zM12.3 1.3h1.6v1.6h-1.6zM12.3 2.8h1.6v1.6h-1.6zM12.2 5.3h1.6v1.6h-1.6zM11.9 6.5h1.6v1.6h-1.6zM12.3 12.2h1.6v1.6h-1.6zM12.3 14.9h1.6v1.6h-1.6zM12.1 17.4h1.6v1.6h-1.6zM11.9 24.2h1.6v1.6h-1.6zM12.1 25.9h1.6v1.6h-1.6zM12.2 27.1h1.6v1.6h-1.6zM12.1 28.1h1.6v1.6h-1.6zM13.3 3.8h1.6v1.6h-1.6zM13.2 5.3h1.6v1.6h-1.6zM13.4 14.7h1.6v1.6h-1.6zM13.5 24.1h1.6v1.6h-1.6zM13.6 27.1h1.6v1.6h-1.6zM13.4 28.1h1.6v1.6h-1.6zM14.7 4.0h1.6v1.6h-1.6zM14.7 10.7h1.6v1.6h-1.6zM14.7 13.3h1.6v1.6h-1.6zM14.9 16.2h1.6v1.6h-1.6zM14.7 18.7h1.6v1.6h-1.6zM14.9 26.7h1.6v1.6h-1.6zM16.3 -0.3h1.6v1.6h-1.6zM16.0 1.4h1.6v1.6h-1.6zM16.1 3.0h1.6v1.6h-1.6zM16.2 5.6h1.6v1.6h-1.6zM16.3 8.4h1.6v1.6h-1.6zM16.2 10.6h1.6v1.6h-1.6zM16.0 12.3h1.6v1.6h-1.6zM16.2 13.6h1.6v1.6h-1.6zM16.5 15.1h1.6v1.6h-1.6zM16.1 16.3h1.6v1.6h-1.6zM16.5 17.5h1.6v1.6h-1.6zM16.2 21.5h1.6v1.6h-1.6zM15.9 24.1h1.6v1.6h-1.6zM16.1 25.7h1.6v1.6h-1.6zM16.1 26.8h1.6v1.6h-1.6zM17.8 -0.1h1.6v1.6h-1.6zM17.5 4.2h1.6v1.6h-1.6zM17.5 20.3h1.6v1.6h-1.6zM17.8 25.4h1.6v1.6h-1.6zM17.3 28.3h1.6v1.6h-1.6zM19.0 0.2h1.6v1.6h-1.6zM19.1 4.0h1.6v1.6h-1.6zM18.6 7.9h1.6v1.6h-1.6zM18.9 11.9h1.6v1.6h-1.6zM19.1 16.5h1.6v1.6h-1.6zM18.6 17.8h1.6v1.6h-1.6zM18.9 22.9h1.6v1.6h-1.6zM18.7 24.4h1.6v1.6h-1.6zM18.8 25.9h1.6v1.6h-1.6zM20.1 1.5h1.6v1.6h-1.6zM20.3 6.9h1.6v1.6h-1.6zM20.2 13.8h1.6v1.6h-1.6zM20.3 24.1h1.6v1.6h-1.6zM20.2 25.5h1.6v1.6h-1.6zM21.9 3.0h1.6v1.6h-1.6zM21.6 5.7h1.6v1.6h-1.6zM21.4 6.6h1.6v1.6h-1.6zM21.7 9.7h1.6v1.6h-1.6zM21.7 19.1h1.6v1.6h-1.6zM21.4 20.1h1.6v1.6h-1.6zM21.3 21.4h1.6v1.6h-1.6zM21.6 24.2h1.6v1.6h-1.6zM21.8 26.9h1.6v1.6h-1.6zM21.6 28.6h1.6v1.6h-1.6zM22.8 0.0h1.6v1.6h-1.6zM23.1 2.4h1.6v1.6h-1.6zM22.8 4.1h1.6v1.6h-1.6zM23.0 9.3h1.6v1.6h-1.6zM22.9 10.7h1.6v1.6h-1.6zM22.7 17.8h1.6v1.6h-1.6zM22.9 18.9h1.6v1.6h-1.6zM22.7 20.2h1.6v1.6h-1.6zM23.1 21.7h1.6v1.6h-1.6zM23.0 28.6h1.6v1.6h-1.6zM24.6 -0.0h1.6v1.6h-1.6zM24.2 1.3h1.6v1.6h-1.6zM24.3 6.7h1.6v1.6h-1.6zM24.4 10.9h1.6v1.6h-1.6zM24.0 12.1h1.6v1.6h-1.6zM24.6 17.8h1.6v1.6h-1.6zM24.5 18.7h1.6v1.6h-1.6zM24.5 20.2h1.6v1.6h-1.6zM24.6 25.7h1.6v1.6h-1.6zM25.4 2.8h1.6v1.6h-1.6zM25.9 4.2h1.6v1.6h-1.6zM25.4 8.2h1.6v1.6h-1.6zM25.5 12.2h1.6v1.6h-1.6zM25.6 13.4h1.6v1.6h-1.6zM25.8 14.7h1.6v1.6h-1.6zM25.7 17.3h1.6v1.6h-1.6zM25.9 24.5h1.6v1.6h-1.6zM25.7 27.0h1.6v1.6h-1.6zM25.7 28.2h1.6v1.6h-1.6zM26.8 -0.1h1.6v1.6h-1.6zM27.0 2.6h1.6v1.6h-1.6zM26.7 4.0h1.6v1.6h-1.6zM27.1 10.9h1.6v1.6h-1.6zM27.2 20.0h1.6v1.6h-1.6zM27.0 22.9h1.6v1.6h-1.6zM26.9 27.3h1.6v1.6h-1.6zM28.1 -0.1h1.6v1.6h-1.6zM28.6 2.9h1.6v1.6h-1.6zM28.3 9.4h1.6v1.6h-1.6zM28.4 11.0h1.6v1.6h-1.6zM28.4 13.6h1.6v1.6h-1.6zM28.5 21.4h1.6v1.6h-1.6zM28.6 23.1h1.6v1.6h-1.6zM28.6 24.4h1.6v1.6h-1.6zM28.5 25.8h1.6v1.6h-1.6zM28.5 26.8h1.6v1.6h-1.6z"/>
<path fill="#FF61C3" d="M-0.3 3.9h1.6v1.6h-1.6zM0.1 9.2h1.6v1.6h-1.6zM-0.2 18.8h1.6v1.6h-1.6zM0.2 20.5h1.6v1.6h-1.6zM-0.1 25.6h1.6v1.6h-1.6zM1.3 6.9h1.6v1.6h-1.6zM1.5 17.4h1.6v1.6h-1.6zM1.1 21.8h1.6v1.6h-1.6zM1.1 25.4h1.6v1.6h-1.6zM2.8 5.3h1.6v1.6h-1.6zM2.8 12.1h1.6v1.6h-1.6zM2.4 15.1h1.6v1.6h-1.6zM2.8 21.3h1.6v1.6h-1.6zM2.7 28.3h1.6v1.6h-1.6zM4.2 2.9h1.6v1.6h-1.6zM3.9 10.6h1.6v1.6h-1.6zM4.3 24.5h1.6v1.6h-1.6zM4.0 25.5h1.6v1.6h-1.6zM5.3 6.6h1.6v1.6h-1.6zM5.5 9.6h1.6v1.6h-1.6zM5.2 13.4h1.6v1.6h-1.6zM5.4 15.1h1.6v1.6h-1.6zM5.3 18.9h1.6v1.6h-1.6zM5.3 23.1h1.6v1.6h-1.6zM6.9 5.4h1.6v1.6h-1.6zM6.9 9.6h1.6v1.6h-1.6zM6.7 10.8h1.6v1.6h-1.6zM6.6 12.4h1.6v1.6h-1.6zM6.7 16.0h1.6v1.6h-1.6zM7.0 23.2h1.6v1.6h-1.6zM7.9 1.1h1.6v1.6h-1.6zM8.1 27.1h1.6v1.6h-1.6zM7.9 28.3h1.6v1.6h-1.6zM9.2 -0.1h1.6v1.6h-1.6zM9.6 2.4h1.6v1.6h-1.6zM9.5 14.6h1.6v1.6h-1.6zM9.7 21.7h1.6v1.6h-1.6zM9.6 24.4h1.6v1.6h-1.6zM9.5 28.1h1.6v1.6h-1.6zM11.0 4.2h1.6v1.6h-1.6zM11.0 8.3h1.6v1.6h-1.6zM11.0 13.5h1.6v1.6h-1.6zM10.6 16.1h1.6v1.6h-1.6zM10.7 19.1h1.6v1.6h-1.6zM10.8 20.5h1.6v1.6h-1.6zM10.5 27.0h1.6v1.6h-1.6zM12.1 0.1h1.6v1.6h-1.6zM12.0 4.3h1.6v1.6h-1.6zM12.2 20.5h1.6v1.6h-1.6zM13.7 -0.2h1.6v1.6h-1.6zM13.6 17.5h1.6v1.6h-1.6zM13.5 21.4h1.6v1.6h-1.6zM13.7 22.7h1.6v1.6h-1.6zM15.1 1.6h1.6v1.6h-1.6zM15.0 6.9h1.6v1.6h-1.6zM14.7 9.5h1.6v1.6h-1.6zM15.0 17.4h1.6v1.6h-1.6zM14.9 24.1h1.6v1.6h-1.6zM16.4 6.8h1.6v1.6h-1.6zM16.4 9.3h1.6v1.6h-1.6zM17.5 13.5h1.6v1.6h-1.6zM17.6 14.9h1.6v1.6h-1.6zM17.5 15.9h1.6v1.6h-1.6zM17.6 17.6h1.6v1.6h-1.6zM17.5 22.8h1.6v1.6h-1.6zM17.4 24.2h1.6v1.6h-1.6zM18.8 2.9h1.6v1.6h-1.6zM18.9 9.7h1.6v1.6h-1.6zM19.0 14.9h1.6v1.6h-1.6zM19.2 27.3h1.6v1.6h-1.6zM20.0 2.7h1.6v1.6h-1.6zM20.5 4.0h1.6v1.6h-1.6zM20.0 10.9h1.6v1.6h-1.6zM20.1 15.9h1.6v1.6h-1.6zM20.2 21.7h1.6v1.6h-1.6zM20.4 26.8h1.6v1.6h-1.6zM21.4 4.2h1.6v1.6h-1.6zM21.5 13.4h1.6v1.6h-1.6zM21.4 15.0h1.6v1.6h-1.6zM21.6 16.3h1.6v1.6h-1.6zM21.6 25.5h1.6v1.6h-1.6zM22.9 5.5h1.6v1.6h-1.6zM23.2 13.8h1.6v1.6h-1.6zM24.3 2.4h1.6v1.6h-1.6zM24.5 7.9h1.6v1.6h-1.6zM24.4 13.2h1.6v1.6h-1.6zM24.3 16.0h1.6v1.6h-1.6zM24.4 22.7h1.6v1.6h-1.6zM24.1 27.0h1.6v1.6h-1.6zM25.7 7.0h1.6v1.6h-1.6zM25.7 11.0h1.6v1.6h-1.6zM25.5 20.4h1.6v1.6h-1.6zM27.0 1.4h1.6v1.6h-1.6zM27.2 6.8h1.6v1.6h-1.6zM26.9 9.6h1.6v1.6h-1.6zM27.0 13.7h1.6v1.6h-1.6zM26.9 14.8h1.6v1.6h-1.6zM27.1 18.9h1.6v1.6h-1.6zM27.3 28.2h1.6v1.6h-1.6zM28.1 7.0h1.6v1.6h-1.6zM28.1 8.4h1.6v1.6h-1.6zM28.2 11.9h1.6v1.6h-1.6zM28.3 17.5h1.6v1.6h-1.6zM28.2 19.0h1.6v1.6h-1.6z"/>
</pattern>
<pattern id="p_hookA" width="30" height="30" patternUnits="userSpaceOnUse">
<rect width="30" height="30" fill="#00A5FF"/>
<path fill="#FF64B0" d="M0.2 1.2h1.6v1.6h-1.6zM-0.3 2.4h1.6v1.6h-1.6zM-0.1 6.7h1.6v1.6h-1.6zM0.0 8.2h1.6v1.6h-1.6zM-0.1 12.2h1.6v1.6h-1.6zM-0.0 18.6h1.6v1.6h-1.6zM-0.2 20.5h1.6v1.6h-1.6zM-0.0 28.3h1.6v1.6h-1.6zM1.2 3.8h1.6v1.6h-1.6zM1.1 8.2h1.6v1.6h-1.6zM1.2 10.8h1.6v1.6h-1.6zM1.3 16.3h1.6v1.6h-1.6zM1.4 21.6h1.6v1.6h-1.6zM2.5 2.5h1.6v1.6h-1.6zM2.7 6.6h1.6v1.6h-1.6zM2.8 8.1h1.6v1.6h-1.6zM2.6 16.3h1.6v1.6h-1.6zM2.9 18.8h1.6v1.6h-1.6zM2.7 27.3h1.6v1.6h-1.6zM2.9 28.6h1.6v1.6h-1.6zM3.8 -0.2h1.6v1.6h-1.6zM4.3 1.4h1.6v1.6h-1.6zM4.1 12.4h1.6v1.6h-1.6zM3.9 17.6h1.6v1.6h-1.6zM3.9 25.5h1.6v1.6h-1.6zM3.9 28.4h1.6v1.6h-1.6zM5.4 2.5h1.6v1.6h-1.6zM5.3 5.4h1.6v1.6h-1.6zM5.4 10.7h1.6v1.6h-1.6zM5.6 14.8h1.6v1.6h-1.6zM5.2 21.6h1.6v1.6h-1.6zM6.8 0.0h1.6v1.6h-1.6zM6.7 2.9h1.6v1.6h-1.6zM6.7 5.2h1.6v1.6h-1.6zM6.6 12.3h1.6v1.6h-1.6zM7.0 14.7h1.6v1.6h-1.6zM6.7 16.4h1.6v1.6h-1.6zM6.9 17.6h1.6v1.6h-1.6zM7.0 20.5h1.6v1.6h-1.6zM6.9 23.2h1.6v1.6h-1.6zM6.7 24.2h1.6v1.6h-1.6zM6.8 25.7h1.6v1.6h-1.6zM6.5 26.7h1.6v1.6h-1.6zM7.9 1.6h1.6v1.6h-1.6zM8.2 5.3h1.6v1.6h-1.6zM8.1 9.5h1.6v1.6h-1.6zM7.9 13.6h1.6v1.6h-1.6zM8.3 14.9h1.6v1.6h-1.6zM8.3 21.4h1.6v1.6h-1.6zM8.3 22.9h1.6v1.6h-1.6zM7.9 24.2h1.6v1.6h-1.6zM8.1 26.9h1.6v1.6h-1.6zM8.0 28.3h1.6v1.6h-1.6zM9.4 2.8h1.6v1.6h-1.6zM9.3 6.8h1.6v1.6h-1.6zM9.3 7.8h1.6v1.6h-1.6zM9.5 11.9h1.6v1.6h-1.6zM9.4 18.7h1.6v1.6h-1.6zM10.9 0.2h1.6v1.6h-1.6zM11.0 5.1h1.6v1.6h-1.6zM10.8 10.9h1.6v1.6h-1.6zM10.7 12.2h1.6v1.6h-1.6zM10.6 17.8h1.6v1.6h-1.6zM11.1 21.5h1.6v1.6h-1.6zM10.5 23.2h1.6v1.6h-1.6zM10.6 27.2h1.6v1.6h-1.6zM12.1 7.0h1.6v1.6h-1.6zM12.0 8.4h1.6v1.6h-1.6zM12.2 9.5h1.6v1.6h-1.6zM12.2 19.1h1.6v1.6h-1.6zM12.2 21.7h1.6v1.6h-1.6zM12.1 24.4h1.6v1.6h-1.6zM13.2 0.1h1.6v1.6h-1.6zM13.4 2.7h1.6v1.6h-1.6zM13.2 5.4h1.6v1.6h-1.6zM13.4 13.7h1.6v1.6h-1.6zM13.4 14.9h1.6v1.6h-1.6zM13.6 17.3h1.6v1.6h-1.6zM13.4 21.8h1.6v1.6h-1.6zM13.7 25.5h1.6v1.6h-1.6zM13.7 27.2h1.6v1.6h-1.6zM14.7 0.2h1.6v1.6h-1.6zM14.8 1.6h1.6v1.6h-1.6zM15.1 3.0h1.6v1.6h-1.6zM15.0 5.3h1.6v1.6h-1.6zM15.1 12.3h1.6v1.6h-1.6zM14.9 13.5h1.6v1.6h-1.6zM14.7 18.9h1.6v1.6h-1.6zM14.6 23.1h1.6v1.6h-1.6zM15.1 24.2h1.6v1.6h-1.6zM14.8 25.6h1.6v1.6h-1.6zM14.9 27.1h1.6v1.6h-1.6zM16.0 4.3h1.6v1.6h-1.6zM16.0 5.5h1.6v1.6h-1.6zM16.4 10.8h1.6v1.6h-1.6zM16.1 11.9h1.6v1.6h-1.6zM16.2 14.6h1.6v1.6h-1.6zM16.0 24.4h1.6v1.6h-1.6zM16.1 25.7h1.6v1.6h-1.6zM16.3 26.9h1.6v1.6h-1.6zM16.1 28.6h1.6v1.6h-1.6zM17.7 5.2h1.6v1.6h-1.6zM17.7 6.8h1.6v1.6h-1.6zM17.3 8.2h1.6v1.6h-1.6zM17.7 9.6h1.6v1.6h-1.6zM17.4 21.5h1.6v1.6h-1.6zM17.8 25.4h1.6v1.6h-1.6zM17.8 28.6h1.6v1.6h-1.6zM18.8 -0.3h1.6v1.6h-1.6zM18.7 7.9h1.6v1.6h-1.6zM19.1 14.6h1.6v1.6h-1.6zM19.1 16.3h1.6v1.6h-1.6zM18.6 18.6h1.6v1.6h-1.6zM18.7 20.5h1.6v1.6h-1.6zM18.6 21.4h1.6v1.6h-1.6zM18.7 27.0h1.6v1.6h-1.6zM20.3 0.1h1.6v1.6h-1.6zM20.4 4.1h1.6v1.6h-1.6zM20.3 8.0h1.6v1.6h-1.6zM20.4 14.7h1.6v1.6h-1.6zM20.5 23.0h1.6v1.6h-1.6zM20.4 24.1h1.6v1.6h-1.6zM21.7 2.6h1.6v1.6h-1.6zM21.9 3.8h1.6v1.6h-1.6zM21.5 7.0h1.6v1.6h-1.6zM21.5 7.9h1.6v1.6h-1.6zM21.5 9.4h1.6v1.6h-1.6zM21.8 12.4h1.6v1.6h-1.6zM21.4 13.4h1.6v1.6h-1.6zM21.5 26.7h1.6v1.6h-1.6zM21.8 28.6h1.6v1.6h-1.6zM22.7 3.0h1.6v1.6h-1.6zM22.7 10.9h1.6v1.6h-1.6zM23.1 13.7h1.6v1.6h-1.6zM22.8 14.7h1.6v1.6h-1.6zM23.1 22.8h1.6v1.6h-1.6zM22.7 24.1h1.6v1.6h-1.6zM22.7 27.2h1.6v1.6h-1.6zM24.2 -0.3h1.6v1.6h-1.6zM24.3 2.9h1.6v1.6h-1.6zM24.4 7.9h1.6v1.6h-1.6zM24.0 9.4h1.6v1.6h-1.6zM24.4 12.3h1.6v1.6h-1.6zM24.0 17.8h1.6v1.6h-1.6zM24.2 18.9h1.6v1.6h-1.6zM24.4 21.6h1.6v1.6h-1.6zM24.3 22.7h1.6v1.6h-1.6zM25.9 2.7h1.6v1.6h-1.6zM25.4 4.1h1.6v1.6h-1.6zM25.8 5.3h1.6v1.6h-1.6zM25.7 8.2h1.6v1.6h-1.6zM25.7 15.0h1.6v1.6h-1.6zM25.4 17.8h1.6v1.6h-1.6zM25.8 24.4h1.6v1.6h-1.6zM25.7 28.6h1.6v1.6h-1.6zM26.7 1.4h1.6v1.6h-1.6zM27.2 6.5h1.6v1.6h-1.6zM26.8 9.7h1.6v1.6h-1.6zM26.9 10.6h1.6v1.6h-1.6zM27.3 16.2h1.6v1.6h-1.6zM27.0 17.6h1.6v1.6h-1.6zM26.8 24.2h1.6v1.6h-1.6zM28.3 1.1h1.6v1.6h-1.6zM28.1 5.2h1.6v1.6h-1.6zM28.5 9.2h1.6v1.6h-1.6zM28.5 13.6h1.6v1.6h-1.6zM28.3 24.3h1.6v1.6h-1.6zM28.5 25.8h1.6v1.6h-1.6zM28.2 28.4h1.6v1.6h-1.6z"/>
</pattern>
<pattern id="p_mixblob" width="30" height="30" patternUnits="userSpaceOnUse">
<rect width="30" height="30" fill="#8E92FF"/>
<path fill="#00B4F0" d="M-0.3 5.6h1.6v1.6h-1.6zM-0.2 13.2h1.6v1.6h-1.6zM1.3 23.1h1.6v1.6h-1.6zM4.1 6.6h1.6v1.6h-1.6zM4.0 12.4h1.6v1.6h-1.6zM4.1 26.8h1.6v1.6h-1.6zM5.4 10.7h1.6v1.6h-1.6zM5.4 16.4h1.6v1.6h-1.6zM5.5 26.8h1.6v1.6h-1.6zM6.7 -0.2h1.6v1.6h-1.6zM7.0 10.7h1.6v1.6h-1.6zM6.6 11.9h1.6v1.6h-1.6zM6.6 15.1h1.6v1.6h-1.6zM6.6 16.4h1.6v1.6h-1.6zM8.2 -0.1h1.6v1.6h-1.6zM8.0 24.3h1.6v1.6h-1.6zM7.8 25.7h1.6v1.6h-1.6zM8.0 28.4h1.6v1.6h-1.6zM9.4 0.1h1.6v1.6h-1.6zM10.9 2.5h1.6v1.6h-1.6zM11.1 6.7h1.6v1.6h-1.6zM12.4 12.4h1.6v1.6h-1.6zM12.3 26.9h1.6v1.6h-1.6zM13.8 0.1h1.6v1.6h-1.6zM13.8 9.4h1.6v1.6h-1.6zM13.7 13.8h1.6v1.6h-1.6zM13.6 25.8h1.6v1.6h-1.6zM15.0 5.3h1.6v1.6h-1.6zM14.8 6.9h1.6v1.6h-1.6zM14.8 22.7h1.6v1.6h-1.6zM16.1 10.9h1.6v1.6h-1.6zM16.2 13.6h1.6v1.6h-1.6zM16.2 27.1h1.6v1.6h-1.6zM17.8 -0.1h1.6v1.6h-1.6zM17.5 19.0h1.6v1.6h-1.6zM17.5 20.0h1.6v1.6h-1.6zM18.7 26.7h1.6v1.6h-1.6zM20.1 25.6h1.6v1.6h-1.6zM21.4 -0.0h1.6v1.6h-1.6zM22.7 7.9h1.6v1.6h-1.6zM22.9 12.4h1.6v1.6h-1.6zM23.0 28.6h1.6v1.6h-1.6zM24.5 28.2h1.6v1.6h-1.6zM25.6 2.9h1.6v1.6h-1.6zM25.9 5.6h1.6v1.6h-1.6zM27.1 3.8h1.6v1.6h-1.6zM26.8 6.5h1.6v1.6h-1.6zM27.0 13.3h1.6v1.6h-1.6zM28.4 8.4h1.6v1.6h-1.6z"/>
<path fill="#FF61C3" d="M0.3 9.4h1.6v1.6h-1.6zM-0.3 11.0h1.6v1.6h-1.6zM1.3 2.9h1.6v1.6h-1.6zM1.6 5.5h1.6v1.6h-1.6zM1.1 12.2h1.6v1.6h-1.6zM2.9 24.3h1.6v1.6h-1.6zM2.5 26.8h1.6v1.6h-1.6zM3.8 7.9h1.6v1.6h-1.6zM3.8 17.7h1.6v1.6h-1.6zM4.3 19.1h1.6v1.6h-1.6zM6.8 5.5h1.6v1.6h-1.6zM6.7 6.7h1.6v1.6h-1.6zM6.5 17.8h1.6v1.6h-1.6zM7.8 1.1h1.6v1.6h-1.6zM8.2 17.8h1.6v1.6h-1.6zM9.3 3.9h1.6v1.6h-1.6zM10.6 8.2h1.6v1.6h-1.6zM10.8 10.8h1.6v1.6h-1.6zM11.9 3.8h1.6v1.6h-1.6zM12.4 18.7h1.6v1.6h-1.6zM13.8 4.0h1.6v1.6h-1.6zM13.4 10.8h1.6v1.6h-1.6zM13.8 12.3h1.6v1.6h-1.6zM15.0 -0.0h1.6v1.6h-1.6zM14.8 2.7h1.6v1.6h-1.6zM15.1 9.6h1.6v1.6h-1.6zM15.1 24.4h1.6v1.6h-1.6zM16.2 16.3h1.6v1.6h-1.6zM16.4 17.5h1.6v1.6h-1.6zM16.1 20.2h1.6v1.6h-1.6zM15.9 25.9h1.6v1.6h-1.6zM17.6 5.4h1.6v1.6h-1.6zM17.6 21.6h1.6v1.6h-1.6zM18.7 7.0h1.6v1.6h-1.6zM20.5 8.3h1.6v1.6h-1.6zM20.1 17.5h1.6v1.6h-1.6zM21.8 11.0h1.6v1.6h-1.6zM21.5 20.2h1.6v1.6h-1.6zM21.7 25.8h1.6v1.6h-1.6zM22.8 13.5h1.6v1.6h-1.6zM23.1 17.7h1.6v1.6h-1.6zM22.9 25.4h1.6v1.6h-1.6zM23.0 27.1h1.6v1.6h-1.6zM25.6 6.8h1.6v1.6h-1.6zM25.6 8.0h1.6v1.6h-1.6zM25.4 24.5h1.6v1.6h-1.6zM25.6 28.6h1.6v1.6h-1.6zM26.9 12.4h1.6v1.6h-1.6zM27.2 17.4h1.6v1.6h-1.6zM27.2 24.4h1.6v1.6h-1.6zM26.8 25.9h1.6v1.6h-1.6zM28.5 9.5h1.6v1.6h-1.6zM28.6 20.4h1.6v1.6h-1.6z"/>
<path fill="#F8766D" d="M0.3 8.2h1.6v1.6h-1.6zM-0.1 21.8h1.6v1.6h-1.6zM0.1 22.9h1.6v1.6h-1.6zM1.6 17.5h1.6v1.6h-1.6zM1.6 18.9h1.6v1.6h-1.6zM1.4 24.4h1.6v1.6h-1.6zM2.6 2.5h1.6v1.6h-1.6zM2.4 12.3h1.6v1.6h-1.6zM2.6 23.2h1.6v1.6h-1.6zM4.3 2.6h1.6v1.6h-1.6zM3.8 10.7h1.6v1.6h-1.6zM5.6 1.3h1.6v1.6h-1.6zM5.7 2.5h1.6v1.6h-1.6zM5.1 13.5h1.6v1.6h-1.6zM5.4 19.0h1.6v1.6h-1.6zM5.6 20.2h1.6v1.6h-1.6zM5.1 23.2h1.6v1.6h-1.6zM5.5 24.6h1.6v1.6h-1.6zM8.3 11.9h1.6v1.6h-1.6zM7.9 20.4h1.6v1.6h-1.6zM8.3 23.2h1.6v1.6h-1.6zM9.4 1.4h1.6v1.6h-1.6zM9.5 9.6h1.6v1.6h-1.6zM9.5 17.5h1.6v1.6h-1.6zM10.7 21.5h1.6v1.6h-1.6zM11.1 25.4h1.6v1.6h-1.6zM12.3 21.8h1.6v1.6h-1.6zM13.5 6.7h1.6v1.6h-1.6zM13.5 14.8h1.6v1.6h-1.6zM13.4 21.9h1.6v1.6h-1.6zM14.6 19.1h1.6v1.6h-1.6zM15.0 21.7h1.6v1.6h-1.6zM16.3 4.3h1.6v1.6h-1.6zM16.0 5.6h1.6v1.6h-1.6zM16.1 14.6h1.6v1.6h-1.6zM16.1 19.0h1.6v1.6h-1.6zM17.3 25.9h1.6v1.6h-1.6zM19.1 0.1h1.6v1.6h-1.6zM18.7 16.1h1.6v1.6h-1.6zM20.4 1.1h1.6v1.6h-1.6zM20.2 20.2h1.6v1.6h-1.6zM21.4 17.5h1.6v1.6h-1.6zM23.1 2.7h1.6v1.6h-1.6zM25.4 1.4h1.6v1.6h-1.6zM25.5 13.4h1.6v1.6h-1.6zM25.8 14.8h1.6v1.6h-1.6zM25.6 20.5h1.6v1.6h-1.6zM27.3 1.3h1.6v1.6h-1.6zM28.2 4.0h1.6v1.6h-1.6zM28.2 7.0h1.6v1.6h-1.6zM28.6 24.4h1.6v1.6h-1.6zM28.1 26.8h1.6v1.6h-1.6z"/>
</pattern>
<pattern id="p_mixsky" width="30" height="30" patternUnits="userSpaceOnUse">
<rect width="30" height="30" fill="#00B4F0"/>
<path fill="#00ADFA" d="M0.1 1.1h1.6v1.6h-1.6zM-0.1 9.2h1.6v1.6h-1.6zM-0.2 16.5h1.6v1.6h-1.6zM0.1 18.7h1.6v1.6h-1.6zM0.0 20.3h1.6v1.6h-1.6zM1.4 16.4h1.6v1.6h-1.6zM1.1 20.5h1.6v1.6h-1.6zM1.1 25.6h1.6v1.6h-1.6zM1.5 28.5h1.6v1.6h-1.6zM3.0 3.8h1.6v1.6h-1.6zM2.7 5.4h1.6v1.6h-1.6zM2.8 9.4h1.6v1.6h-1.6zM2.8 12.2h1.6v1.6h-1.6zM3.0 13.3h1.6v1.6h-1.6zM2.9 14.7h1.6v1.6h-1.6zM3.0 17.8h1.6v1.6h-1.6zM2.9 20.2h1.6v1.6h-1.6zM2.8 28.3h1.6v1.6h-1.6zM4.3 9.6h1.6v1.6h-1.6zM4.1 17.5h1.6v1.6h-1.6zM4.0 21.7h1.6v1.6h-1.6zM5.1 1.1h1.6v1.6h-1.6zM5.3 8.0h1.6v1.6h-1.6zM5.4 13.2h1.6v1.6h-1.6zM5.2 16.1h1.6v1.6h-1.6zM5.3 17.4h1.6v1.6h-1.6zM5.6 25.5h1.6v1.6h-1.6zM6.8 4.3h1.6v1.6h-1.6zM7.0 8.1h1.6v1.6h-1.6zM6.6 12.0h1.6v1.6h-1.6zM6.9 15.1h1.6v1.6h-1.6zM6.7 25.9h1.6v1.6h-1.6zM8.2 11.9h1.6v1.6h-1.6zM8.0 20.2h1.6v1.6h-1.6zM7.8 28.4h1.6v1.6h-1.6zM9.2 -0.0h1.6v1.6h-1.6zM9.4 20.3h1.6v1.6h-1.6zM9.5 22.7h1.6v1.6h-1.6zM9.5 26.9h1.6v1.6h-1.6zM10.7 12.2h1.6v1.6h-1.6zM10.6 24.4h1.6v1.6h-1.6zM11.1 25.4h1.6v1.6h-1.6zM12.4 6.8h1.6v1.6h-1.6zM12.1 8.3h1.6v1.6h-1.6zM12.4 16.3h1.6v1.6h-1.6zM11.9 20.3h1.6v1.6h-1.6zM12.2 21.5h1.6v1.6h-1.6zM11.9 24.4h1.6v1.6h-1.6zM11.9 27.3h1.6v1.6h-1.6zM12.4 28.2h1.6v1.6h-1.6zM13.4 0.1h1.6v1.6h-1.6zM13.4 1.6h1.6v1.6h-1.6zM13.3 5.6h1.6v1.6h-1.6zM13.3 9.4h1.6v1.6h-1.6zM13.6 12.3h1.6v1.6h-1.6zM13.2 16.3h1.6v1.6h-1.6zM13.6 23.0h1.6v1.6h-1.6zM14.9 21.9h1.6v1.6h-1.6zM14.7 28.2h1.6v1.6h-1.6zM16.1 9.5h1.6v1.6h-1.6zM16.3 13.4h1.6v1.6h-1.6zM16.2 20.2h1.6v1.6h-1.6zM15.9 21.4h1.6v1.6h-1.6zM15.9 23.2h1.6v1.6h-1.6zM17.5 0.1h1.6v1.6h-1.6zM17.5 2.7h1.6v1.6h-1.6zM17.3 6.8h1.6v1.6h-1.6zM17.4 10.9h1.6v1.6h-1.6zM17.3 12.4h1.6v1.6h-1.6zM17.4 18.6h1.6v1.6h-1.6zM17.5 21.8h1.6v1.6h-1.6zM17.5 23.0h1.6v1.6h-1.6zM17.6 25.5h1.6v1.6h-1.6zM17.3 27.3h1.6v1.6h-1.6zM19.0 1.3h1.6v1.6h-1.6zM19.1 2.8h1.6v1.6h-1.6zM18.6 14.9h1.6v1.6h-1.6zM18.8 17.5h1.6v1.6h-1.6zM20.3 1.3h1.6v1.6h-1.6zM20.1 2.8h1.6v1.6h-1.6zM20.1 6.9h1.6v1.6h-1.6zM20.2 8.1h1.6v1.6h-1.6zM20.2 12.2h1.6v1.6h-1.6zM20.2 17.3h1.6v1.6h-1.6zM20.4 21.3h1.6v1.6h-1.6zM21.4 12.3h1.6v1.6h-1.6zM21.5 14.6h1.6v1.6h-1.6zM21.6 16.1h1.6v1.6h-1.6zM21.9 18.8h1.6v1.6h-1.6zM21.4 20.2h1.6v1.6h-1.6zM21.5 21.7h1.6v1.6h-1.6zM23.0 1.6h1.6v1.6h-1.6zM23.1 2.5h1.6v1.6h-1.6zM23.1 9.7h1.6v1.6h-1.6zM22.8 15.9h1.6v1.6h-1.6zM22.8 17.8h1.6v1.6h-1.6zM22.7 18.9h1.6v1.6h-1.6zM22.8 20.5h1.6v1.6h-1.6zM23.1 24.4h1.6v1.6h-1.6zM24.2 4.3h1.6v1.6h-1.6zM24.4 9.4h1.6v1.6h-1.6zM24.2 12.2h1.6v1.6h-1.6zM24.0 13.2h1.6v1.6h-1.6zM24.6 26.8h1.6v1.6h-1.6zM25.7 0.3h1.6v1.6h-1.6zM25.5 24.1h1.6v1.6h-1.6zM26.7 1.3h1.6v1.6h-1.6zM27.0 2.5h1.6v1.6h-1.6zM27.2 17.4h1.6v1.6h-1.6zM27.3 19.2h1.6v1.6h-1.6zM26.9 20.3h1.6v1.6h-1.6zM27.1 21.7h1.6v1.6h-1.6zM26.9 24.1h1.6v1.6h-1.6zM28.1 20.4h1.6v1.6h-1.6zM28.3 23.1h1.6v1.6h-1.6zM28.1 24.3h1.6v1.6h-1.6zM28.3 26.8h1.6v1.6h-1.6z"/>
<path fill="#8E92FF" d="M0.3 5.5h1.6v1.6h-1.6zM0.1 24.1h1.6v1.6h-1.6zM-0.3 27.0h1.6v1.6h-1.6zM1.3 3.9h1.6v1.6h-1.6zM1.5 9.3h1.6v1.6h-1.6zM2.5 6.8h1.6v1.6h-1.6zM2.6 18.9h1.6v1.6h-1.6zM4.1 0.1h1.6v1.6h-1.6zM3.8 6.8h1.6v1.6h-1.6zM3.8 16.4h1.6v1.6h-1.6zM3.8 22.7h1.6v1.6h-1.6zM5.6 3.9h1.6v1.6h-1.6zM5.1 19.1h1.6v1.6h-1.6zM6.8 0.2h1.6v1.6h-1.6zM6.5 9.5h1.6v1.6h-1.6zM6.6 19.0h1.6v1.6h-1.6zM6.8 27.3h1.6v1.6h-1.6zM7.9 4.1h1.6v1.6h-1.6zM8.3 22.9h1.6v1.6h-1.6zM8.1 26.9h1.6v1.6h-1.6zM9.3 1.4h1.6v1.6h-1.6zM9.4 13.6h1.6v1.6h-1.6zM9.5 24.4h1.6v1.6h-1.6zM10.9 -0.1h1.6v1.6h-1.6zM10.5 9.4h1.6v1.6h-1.6zM10.8 16.2h1.6v1.6h-1.6zM12.0 4.2h1.6v1.6h-1.6zM12.3 5.1h1.6v1.6h-1.6zM13.3 7.9h1.6v1.6h-1.6zM13.5 20.1h1.6v1.6h-1.6zM14.7 5.7h1.6v1.6h-1.6zM14.7 9.6h1.6v1.6h-1.6zM15.1 16.5h1.6v1.6h-1.6zM16.2 5.4h1.6v1.6h-1.6zM16.1 6.7h1.6v1.6h-1.6zM16.2 12.3h1.6v1.6h-1.6zM18.8 21.5h1.6v1.6h-1.6zM19.1 27.2h1.6v1.6h-1.6zM20.0 18.7h1.6v1.6h-1.6zM21.5 0.2h1.6v1.6h-1.6zM21.9 1.1h1.6v1.6h-1.6zM21.5 3.9h1.6v1.6h-1.6zM21.6 13.3h1.6v1.6h-1.6zM23.2 4.1h1.6v1.6h-1.6zM23.0 5.4h1.6v1.6h-1.6zM24.2 2.8h1.6v1.6h-1.6zM24.5 14.6h1.6v1.6h-1.6zM24.2 19.2h1.6v1.6h-1.6zM25.5 7.0h1.6v1.6h-1.6zM25.7 8.0h1.6v1.6h-1.6zM25.9 12.4h1.6v1.6h-1.6zM25.6 25.4h1.6v1.6h-1.6zM27.3 4.2h1.6v1.6h-1.6zM26.8 9.3h1.6v1.6h-1.6zM26.8 16.2h1.6v1.6h-1.6zM28.4 9.5h1.6v1.6h-1.6z"/>
<path fill="#FF61C3" d="M0.3 2.8h1.6v1.6h-1.6zM0.2 4.0h1.6v1.6h-1.6zM1.4 17.3h1.6v1.6h-1.6zM1.3 24.3h1.6v1.6h-1.6zM2.5 2.6h1.6v1.6h-1.6zM2.6 16.5h1.6v1.6h-1.6zM2.5 21.6h1.6v1.6h-1.6zM4.3 10.7h1.6v1.6h-1.6zM4.2 12.0h1.6v1.6h-1.6zM3.9 24.5h1.6v1.6h-1.6zM7.9 13.3h1.6v1.6h-1.6zM7.9 18.9h1.6v1.6h-1.6zM9.6 8.4h1.6v1.6h-1.6zM9.4 19.2h1.6v1.6h-1.6zM9.6 21.8h1.6v1.6h-1.6zM9.6 28.5h1.6v1.6h-1.6zM11.0 1.5h1.6v1.6h-1.6zM11.0 6.8h1.6v1.6h-1.6zM10.7 13.3h1.6v1.6h-1.6zM10.5 21.5h1.6v1.6h-1.6zM13.7 19.0h1.6v1.6h-1.6zM13.4 26.8h1.6v1.6h-1.6zM13.7 28.6h1.6v1.6h-1.6zM14.8 -0.2h1.6v1.6h-1.6zM15.0 22.8h1.6v1.6h-1.6zM16.3 1.1h1.6v1.6h-1.6zM16.1 8.1h1.6v1.6h-1.6zM16.4 25.6h1.6v1.6h-1.6zM17.7 1.4h1.6v1.6h-1.6zM17.8 5.4h1.6v1.6h-1.6zM17.4 8.3h1.6v1.6h-1.6zM19.0 -0.2h1.6v1.6h-1.6zM19.1 5.4h1.6v1.6h-1.6zM19.2 6.7h1.6v1.6h-1.6zM18.8 23.0h1.6v1.6h-1.6zM18.7 28.1h1.6v1.6h-1.6zM20.4 23.1h1.6v1.6h-1.6zM22.9 11.9h1.6v1.6h-1.6zM22.8 25.4h1.6v1.6h-1.6zM24.0 21.7h1.6v1.6h-1.6zM24.4 23.2h1.6v1.6h-1.6zM24.5 25.5h1.6v1.6h-1.6zM25.6 14.8h1.6v1.6h-1.6zM25.8 16.3h1.6v1.6h-1.6zM27.3 5.3h1.6v1.6h-1.6zM26.9 13.2h1.6v1.6h-1.6zM28.4 5.4h1.6v1.6h-1.6z"/>
</pattern>
<pattern id="p_spn" width="30" height="30" patternUnits="userSpaceOnUse">
<rect width="30" height="30" fill="#FF64B0"/>
<path fill="#FF699C" d="M-0.2 -0.1h1.6v1.6h-1.6zM-0.3 1.3h1.6v1.6h-1.6zM-0.1 6.5h1.6v1.6h-1.6zM-0.2 13.4h1.6v1.6h-1.6zM0.1 14.8h1.6v1.6h-1.6zM-0.3 24.2h1.6v1.6h-1.6zM1.4 6.8h1.6v1.6h-1.6zM1.2 14.8h1.6v1.6h-1.6zM1.5 16.2h1.6v1.6h-1.6zM2.8 17.5h1.6v1.6h-1.6zM4.0 2.4h1.6v1.6h-1.6zM4.2 5.2h1.6v1.6h-1.6zM4.1 12.0h1.6v1.6h-1.6zM4.2 16.4h1.6v1.6h-1.6zM4.1 17.3h1.6v1.6h-1.6zM4.2 25.5h1.6v1.6h-1.6zM3.8 28.4h1.6v1.6h-1.6zM5.6 1.6h1.6v1.6h-1.6zM5.7 8.4h1.6v1.6h-1.6zM5.4 9.5h1.6v1.6h-1.6zM5.4 11.1h1.6v1.6h-1.6zM5.7 23.1h1.6v1.6h-1.6zM6.9 11.1h1.6v1.6h-1.6zM6.9 16.0h1.6v1.6h-1.6zM8.2 8.3h1.6v1.6h-1.6zM7.8 9.7h1.6v1.6h-1.6zM8.2 24.2h1.6v1.6h-1.6zM8.2 28.5h1.6v1.6h-1.6zM9.6 1.3h1.6v1.6h-1.6zM9.7 9.6h1.6v1.6h-1.6zM9.6 16.1h1.6v1.6h-1.6zM9.3 27.1h1.6v1.6h-1.6zM10.8 6.7h1.6v1.6h-1.6zM10.9 8.0h1.6v1.6h-1.6zM10.8 13.7h1.6v1.6h-1.6zM10.9 18.8h1.6v1.6h-1.6zM12.1 1.3h1.6v1.6h-1.6zM12.3 2.7h1.6v1.6h-1.6zM11.9 27.3h1.6v1.6h-1.6zM12.1 28.4h1.6v1.6h-1.6zM13.3 22.7h1.6v1.6h-1.6zM14.7 4.1h1.6v1.6h-1.6zM15.1 11.0h1.6v1.6h-1.6zM14.6 15.0h1.6v1.6h-1.6zM14.9 21.6h1.6v1.6h-1.6zM15.0 22.8h1.6v1.6h-1.6zM16.1 5.4h1.6v1.6h-1.6zM16.3 6.5h1.6v1.6h-1.6zM16.5 8.3h1.6v1.6h-1.6zM16.3 10.5h1.6v1.6h-1.6zM16.4 16.4h1.6v1.6h-1.6zM16.1 17.8h1.6v1.6h-1.6zM17.4 8.0h1.6v1.6h-1.6zM17.7 10.7h1.6v1.6h-1.6zM17.4 21.3h1.6v1.6h-1.6zM18.7 9.5h1.6v1.6h-1.6zM19.2 17.5h1.6v1.6h-1.6zM18.6 24.4h1.6v1.6h-1.6zM20.0 8.0h1.6v1.6h-1.6zM20.1 12.4h1.6v1.6h-1.6zM21.7 8.2h1.6v1.6h-1.6zM21.3 12.1h1.6v1.6h-1.6zM21.4 17.4h1.6v1.6h-1.6zM21.7 18.9h1.6v1.6h-1.6zM21.3 27.2h1.6v1.6h-1.6zM21.3 28.1h1.6v1.6h-1.6zM23.1 -0.1h1.6v1.6h-1.6zM23.0 1.2h1.6v1.6h-1.6zM23.1 6.6h1.6v1.6h-1.6zM22.7 14.7h1.6v1.6h-1.6zM23.2 17.3h1.6v1.6h-1.6zM23.2 25.6h1.6v1.6h-1.6zM23.1 26.7h1.6v1.6h-1.6zM22.8 28.6h1.6v1.6h-1.6zM24.3 1.4h1.6v1.6h-1.6zM24.3 8.3h1.6v1.6h-1.6zM24.2 13.5h1.6v1.6h-1.6zM24.2 14.8h1.6v1.6h-1.6zM24.4 16.2h1.6v1.6h-1.6zM24.5 25.9h1.6v1.6h-1.6zM25.4 1.3h1.6v1.6h-1.6zM25.6 9.3h1.6v1.6h-1.6zM25.7 22.7h1.6v1.6h-1.6zM26.8 5.5h1.6v1.6h-1.6zM27.0 6.8h1.6v1.6h-1.6zM27.1 9.2h1.6v1.6h-1.6zM27.0 24.4h1.6v1.6h-1.6zM27.3 28.5h1.6v1.6h-1.6zM28.1 -0.1h1.6v1.6h-1.6zM28.5 3.9h1.6v1.6h-1.6zM28.5 19.1h1.6v1.6h-1.6zM28.5 23.0h1.6v1.6h-1.6zM28.3 28.2h1.6v1.6h-1.6z"/>
</pattern>
<pattern id="p_teal" width="30" height="30" patternUnits="userSpaceOnUse">
<rect width="30" height="30" fill="#00C0B3"/>
<path fill="#00BFC4" d="M0.2 1.1h1.6v1.6h-1.6zM-0.1 5.6h1.6v1.6h-1.6zM-0.3 12.1h1.6v1.6h-1.6zM0.2 17.5h1.6v1.6h-1.6zM0.2 19.1h1.6v1.6h-1.6zM0.0 20.3h1.6v1.6h-1.6zM0.1 21.9h1.6v1.6h-1.6zM0.2 24.3h1.6v1.6h-1.6zM-0.1 25.6h1.6v1.6h-1.6zM-0.2 28.6h1.6v1.6h-1.6zM1.6 -0.1h1.6v1.6h-1.6zM1.6 1.6h1.6v1.6h-1.6zM1.6 2.8h1.6v1.6h-1.6zM1.6 7.8h1.6v1.6h-1.6zM1.2 12.3h1.6v1.6h-1.6zM1.1 16.2h1.6v1.6h-1.6zM1.1 19.0h1.6v1.6h-1.6zM1.2 21.7h1.6v1.6h-1.6zM1.4 24.5h1.6v1.6h-1.6zM1.1 25.8h1.6v1.6h-1.6zM2.8 -0.1h1.6v1.6h-1.6zM2.4 2.5h1.6v1.6h-1.6zM2.6 7.0h1.6v1.6h-1.6zM2.8 9.5h1.6v1.6h-1.6zM2.5 11.0h1.6v1.6h-1.6zM2.7 12.0h1.6v1.6h-1.6zM2.6 16.1h1.6v1.6h-1.6zM2.9 20.1h1.6v1.6h-1.6zM2.9 23.1h1.6v1.6h-1.6zM2.8 25.4h1.6v1.6h-1.6zM2.8 26.8h1.6v1.6h-1.6zM2.8 28.4h1.6v1.6h-1.6zM3.8 2.5h1.6v1.6h-1.6zM4.0 8.3h1.6v1.6h-1.6zM4.3 9.3h1.6v1.6h-1.6zM3.9 12.4h1.6v1.6h-1.6zM3.9 15.0h1.6v1.6h-1.6zM4.2 18.7h1.6v1.6h-1.6zM4.2 23.1h1.6v1.6h-1.6zM3.9 24.3h1.6v1.6h-1.6zM3.9 28.5h1.6v1.6h-1.6zM5.2 2.8h1.6v1.6h-1.6zM5.6 8.2h1.6v1.6h-1.6zM5.5 9.6h1.6v1.6h-1.6zM5.5 10.8h1.6v1.6h-1.6zM5.3 21.8h1.6v1.6h-1.6zM5.2 23.0h1.6v1.6h-1.6zM7.0 2.9h1.6v1.6h-1.6zM6.7 6.7h1.6v1.6h-1.6zM6.8 8.0h1.6v1.6h-1.6zM7.0 11.9h1.6v1.6h-1.6zM6.5 24.3h1.6v1.6h-1.6zM6.8 25.6h1.6v1.6h-1.6zM6.9 27.3h1.6v1.6h-1.6zM8.2 2.7h1.6v1.6h-1.6zM8.0 5.2h1.6v1.6h-1.6zM8.1 11.0h1.6v1.6h-1.6zM8.1 16.1h1.6v1.6h-1.6zM8.3 17.8h1.6v1.6h-1.6zM8.1 21.4h1.6v1.6h-1.6zM8.0 27.1h1.6v1.6h-1.6zM9.6 1.5h1.6v1.6h-1.6zM9.3 2.7h1.6v1.6h-1.6zM9.6 4.1h1.6v1.6h-1.6zM9.3 5.1h1.6v1.6h-1.6zM9.2 6.6h1.6v1.6h-1.6zM9.6 9.7h1.6v1.6h-1.6zM9.3 10.6h1.6v1.6h-1.6zM9.5 16.2h1.6v1.6h-1.6zM9.3 19.1h1.6v1.6h-1.6zM9.3 28.1h1.6v1.6h-1.6zM10.9 8.2h1.6v1.6h-1.6zM10.8 9.3h1.6v1.6h-1.6zM10.8 10.8h1.6v1.6h-1.6zM10.7 15.0h1.6v1.6h-1.6zM10.7 24.5h1.6v1.6h-1.6zM10.8 27.2h1.6v1.6h-1.6zM12.2 1.5h1.6v1.6h-1.6zM12.4 4.2h1.6v1.6h-1.6zM12.1 5.3h1.6v1.6h-1.6zM12.4 7.0h1.6v1.6h-1.6zM12.0 10.6h1.6v1.6h-1.6zM12.2 25.9h1.6v1.6h-1.6zM12.1 26.7h1.6v1.6h-1.6zM13.4 1.1h1.6v1.6h-1.6zM13.5 2.7h1.6v1.6h-1.6zM13.7 7.8h1.6v1.6h-1.6zM13.4 9.4h1.6v1.6h-1.6zM13.5 11.9h1.6v1.6h-1.6zM13.5 24.6h1.6v1.6h-1.6zM13.6 26.9h1.6v1.6h-1.6zM14.9 1.2h1.6v1.6h-1.6zM15.1 3.9h1.6v1.6h-1.6zM14.9 5.2h1.6v1.6h-1.6zM15.1 7.9h1.6v1.6h-1.6zM14.7 17.4h1.6v1.6h-1.6zM14.6 25.6h1.6v1.6h-1.6zM14.9 26.9h1.6v1.6h-1.6zM16.0 10.8h1.6v1.6h-1.6zM16.2 12.3h1.6v1.6h-1.6zM16.2 13.3h1.6v1.6h-1.6zM16.1 16.1h1.6v1.6h-1.6zM16.2 20.5h1.6v1.6h-1.6zM16.0 21.4h1.6v1.6h-1.6zM16.0 23.0h1.6v1.6h-1.6zM16.2 24.3h1.6v1.6h-1.6zM16.4 25.9h1.6v1.6h-1.6zM16.0 26.7h1.6v1.6h-1.6zM17.6 0.2h1.6v1.6h-1.6zM17.4 1.6h1.6v1.6h-1.6zM17.8 6.7h1.6v1.6h-1.6zM17.7 9.7h1.6v1.6h-1.6zM17.6 15.1h1.6v1.6h-1.6zM17.6 19.1h1.6v1.6h-1.6zM17.5 20.4h1.6v1.6h-1.6zM17.5 21.6h1.6v1.6h-1.6zM17.8 23.2h1.6v1.6h-1.6zM17.6 25.9h1.6v1.6h-1.6zM19.0 1.1h1.6v1.6h-1.6zM18.8 6.5h1.6v1.6h-1.6zM18.9 9.3h1.6v1.6h-1.6zM18.8 13.6h1.6v1.6h-1.6zM19.1 19.2h1.6v1.6h-1.6zM19.1 27.1h1.6v1.6h-1.6zM20.3 9.5h1.6v1.6h-1.6zM20.0 13.6h1.6v1.6h-1.6zM20.3 14.6h1.6v1.6h-1.6zM20.1 17.5h1.6v1.6h-1.6zM20.4 18.8h1.6v1.6h-1.6zM20.5 20.2h1.6v1.6h-1.6zM20.5 23.1h1.6v1.6h-1.6zM20.4 24.6h1.6v1.6h-1.6zM20.1 26.8h1.6v1.6h-1.6zM21.5 -0.1h1.6v1.6h-1.6zM21.9 1.5h1.6v1.6h-1.6zM21.3 3.8h1.6v1.6h-1.6zM21.6 9.7h1.6v1.6h-1.6zM21.9 17.8h1.6v1.6h-1.6zM21.4 21.3h1.6v1.6h-1.6zM21.7 25.9h1.6v1.6h-1.6zM21.8 28.2h1.6v1.6h-1.6zM23.1 1.1h1.6v1.6h-1.6zM22.8 4.0h1.6v1.6h-1.6zM22.7 10.7h1.6v1.6h-1.6zM23.0 17.7h1.6v1.6h-1.6zM22.8 19.0h1.6v1.6h-1.6zM22.7 20.5h1.6v1.6h-1.6zM23.2 24.1h1.6v1.6h-1.6zM24.0 1.3h1.6v1.6h-1.6zM24.3 6.8h1.6v1.6h-1.6zM24.5 8.4h1.6v1.6h-1.6zM24.4 12.4h1.6v1.6h-1.6zM24.1 14.6h1.6v1.6h-1.6zM24.6 20.2h1.6v1.6h-1.6zM25.8 0.1h1.6v1.6h-1.6zM25.7 6.7h1.6v1.6h-1.6zM25.9 14.7h1.6v1.6h-1.6zM25.4 18.9h1.6v1.6h-1.6zM26.7 10.8h1.6v1.6h-1.6zM27.2 12.3h1.6v1.6h-1.6zM27.1 13.3h1.6v1.6h-1.6zM27.2 14.8h1.6v1.6h-1.6zM26.7 16.4h1.6v1.6h-1.6zM26.8 20.2h1.6v1.6h-1.6zM26.8 24.3h1.6v1.6h-1.6zM27.0 27.2h1.6v1.6h-1.6zM28.4 4.1h1.6v1.6h-1.6zM28.1 6.5h1.6v1.6h-1.6zM28.6 8.3h1.6v1.6h-1.6zM28.3 10.8h1.6v1.6h-1.6zM28.4 12.4h1.6v1.6h-1.6zM28.2 13.7h1.6v1.6h-1.6zM28.1 16.3h1.6v1.6h-1.6zM28.4 18.8h1.6v1.6h-1.6zM28.1 20.4h1.6v1.6h-1.6zM28.1 21.6h1.6v1.6h-1.6zM28.1 24.4h1.6v1.6h-1.6zM28.4 28.4h1.6v1.6h-1.6z"/>
</pattern>
<pattern id="p_magenta" width="30" height="30" patternUnits="userSpaceOnUse">
<rect width="30" height="30" fill="#EA6AF1"/>
<path fill="#DB72FB" d="M-0.2 9.3h1.6v1.6h-1.6zM-0.1 12.0h1.6v1.6h-1.6zM-0.2 17.5h1.6v1.6h-1.6zM-0.2 18.6h1.6v1.6h-1.6zM0.2 20.1h1.6v1.6h-1.6zM0.2 25.8h1.6v1.6h-1.6zM0.3 28.2h1.6v1.6h-1.6zM1.2 0.3h1.6v1.6h-1.6zM1.3 1.5h1.6v1.6h-1.6zM1.4 9.3h1.6v1.6h-1.6zM1.2 14.8h1.6v1.6h-1.6zM1.3 26.9h1.6v1.6h-1.6zM2.8 7.8h1.6v1.6h-1.6zM2.6 17.6h1.6v1.6h-1.6zM2.9 24.6h1.6v1.6h-1.6zM2.8 25.6h1.6v1.6h-1.6zM2.7 28.2h1.6v1.6h-1.6zM4.2 2.5h1.6v1.6h-1.6zM4.3 8.2h1.6v1.6h-1.6zM4.0 12.2h1.6v1.6h-1.6zM4.2 15.0h1.6v1.6h-1.6zM4.1 17.7h1.6v1.6h-1.6zM3.9 24.5h1.6v1.6h-1.6zM5.5 1.1h1.6v1.6h-1.6zM5.4 9.6h1.6v1.6h-1.6zM5.3 11.0h1.6v1.6h-1.6zM5.4 16.4h1.6v1.6h-1.6zM5.2 17.8h1.6v1.6h-1.6zM5.6 20.2h1.6v1.6h-1.6zM5.6 21.6h1.6v1.6h-1.6zM6.5 5.4h1.6v1.6h-1.6zM6.6 8.4h1.6v1.6h-1.6zM7.0 9.3h1.6v1.6h-1.6zM6.5 11.1h1.6v1.6h-1.6zM6.5 11.9h1.6v1.6h-1.6zM6.9 16.1h1.6v1.6h-1.6zM6.5 17.6h1.6v1.6h-1.6zM6.8 21.9h1.6v1.6h-1.6zM6.8 28.4h1.6v1.6h-1.6zM8.4 9.6h1.6v1.6h-1.6zM7.9 11.0h1.6v1.6h-1.6zM7.9 13.4h1.6v1.6h-1.6zM8.3 19.2h1.6v1.6h-1.6zM8.1 27.3h1.6v1.6h-1.6zM9.7 10.6h1.6v1.6h-1.6zM9.7 28.4h1.6v1.6h-1.6zM10.8 1.5h1.6v1.6h-1.6zM10.9 5.5h1.6v1.6h-1.6zM10.6 17.6h1.6v1.6h-1.6zM12.2 0.1h1.6v1.6h-1.6zM11.9 2.9h1.6v1.6h-1.6zM12.2 7.0h1.6v1.6h-1.6zM12.2 14.7h1.6v1.6h-1.6zM12.3 21.5h1.6v1.6h-1.6zM12.4 24.1h1.6v1.6h-1.6zM12.2 25.9h1.6v1.6h-1.6zM13.3 4.3h1.6v1.6h-1.6zM13.6 7.0h1.6v1.6h-1.6zM13.2 17.6h1.6v1.6h-1.6zM13.3 21.7h1.6v1.6h-1.6zM13.4 24.1h1.6v1.6h-1.6zM14.8 1.3h1.6v1.6h-1.6zM14.6 2.5h1.6v1.6h-1.6zM14.7 3.9h1.6v1.6h-1.6zM15.1 6.7h1.6v1.6h-1.6zM14.8 7.9h1.6v1.6h-1.6zM14.6 13.4h1.6v1.6h-1.6zM14.6 15.1h1.6v1.6h-1.6zM15.1 21.3h1.6v1.6h-1.6zM14.7 22.7h1.6v1.6h-1.6zM15.1 26.9h1.6v1.6h-1.6zM15.9 1.5h1.6v1.6h-1.6zM16.4 10.9h1.6v1.6h-1.6zM16.5 21.7h1.6v1.6h-1.6zM16.1 22.7h1.6v1.6h-1.6zM16.3 27.2h1.6v1.6h-1.6zM16.1 28.1h1.6v1.6h-1.6zM17.8 2.7h1.6v1.6h-1.6zM17.7 4.1h1.6v1.6h-1.6zM17.7 6.8h1.6v1.6h-1.6zM17.3 8.3h1.6v1.6h-1.6zM17.4 15.1h1.6v1.6h-1.6zM17.4 16.2h1.6v1.6h-1.6zM17.8 23.2h1.6v1.6h-1.6zM18.6 1.4h1.6v1.6h-1.6zM18.7 4.2h1.6v1.6h-1.6zM19.2 14.9h1.6v1.6h-1.6zM19.0 20.0h1.6v1.6h-1.6zM18.6 24.5h1.6v1.6h-1.6zM18.7 27.0h1.6v1.6h-1.6zM19.2 28.6h1.6v1.6h-1.6zM20.2 1.2h1.6v1.6h-1.6zM20.0 4.2h1.6v1.6h-1.6zM20.2 6.6h1.6v1.6h-1.6zM20.0 8.2h1.6v1.6h-1.6zM20.0 13.8h1.6v1.6h-1.6zM20.0 16.3h1.6v1.6h-1.6zM20.1 20.5h1.6v1.6h-1.6zM20.1 23.2h1.6v1.6h-1.6zM20.2 24.1h1.6v1.6h-1.6zM20.3 25.9h1.6v1.6h-1.6zM20.4 27.1h1.6v1.6h-1.6zM21.7 -0.2h1.6v1.6h-1.6zM21.8 5.5h1.6v1.6h-1.6zM21.4 7.9h1.6v1.6h-1.6zM21.8 12.3h1.6v1.6h-1.6zM21.8 21.8h1.6v1.6h-1.6zM21.8 25.7h1.6v1.6h-1.6zM21.6 26.8h1.6v1.6h-1.6zM22.8 2.8h1.6v1.6h-1.6zM23.0 8.3h1.6v1.6h-1.6zM22.7 10.8h1.6v1.6h-1.6zM22.8 13.6h1.6v1.6h-1.6zM22.7 25.4h1.6v1.6h-1.6zM23.2 27.3h1.6v1.6h-1.6zM23.1 28.4h1.6v1.6h-1.6zM24.6 2.7h1.6v1.6h-1.6zM24.6 8.2h1.6v1.6h-1.6zM24.4 14.8h1.6v1.6h-1.6zM24.5 17.5h1.6v1.6h-1.6zM24.2 20.2h1.6v1.6h-1.6zM25.7 -0.2h1.6v1.6h-1.6zM25.6 6.9h1.6v1.6h-1.6zM25.9 13.7h1.6v1.6h-1.6zM25.7 14.7h1.6v1.6h-1.6zM25.5 17.5h1.6v1.6h-1.6zM25.8 24.1h1.6v1.6h-1.6zM25.4 27.2h1.6v1.6h-1.6zM27.1 -0.2h1.6v1.6h-1.6zM27.1 1.1h1.6v1.6h-1.6zM26.9 2.7h1.6v1.6h-1.6zM27.0 9.2h1.6v1.6h-1.6zM27.2 14.6h1.6v1.6h-1.6zM27.1 17.4h1.6v1.6h-1.6zM27.3 26.7h1.6v1.6h-1.6zM26.8 28.1h1.6v1.6h-1.6zM28.6 2.4h1.6v1.6h-1.6zM28.1 10.9h1.6v1.6h-1.6zM28.2 17.5h1.6v1.6h-1.6zM28.4 20.0h1.6v1.6h-1.6zM28.5 21.7h1.6v1.6h-1.6zM28.1 24.3h1.6v1.6h-1.6zM28.5 26.8h1.6v1.6h-1.6z"/>
</pattern>
<pattern id="p_leftarm" width="30" height="30" patternUnits="userSpaceOnUse">
<rect width="30" height="30" fill="#2BB600"/>
<path fill="#D39200" d="M0.1 20.1h1.6v1.6h-1.6zM1.4 27.1h1.6v1.6h-1.6zM2.7 -0.2h1.6v1.6h-1.6zM2.9 21.4h1.6v1.6h-1.6zM4.3 5.4h1.6v1.6h-1.6zM4.2 13.3h1.6v1.6h-1.6zM4.0 16.2h1.6v1.6h-1.6zM5.5 17.6h1.6v1.6h-1.6zM5.5 20.0h1.6v1.6h-1.6zM6.7 0.2h1.6v1.6h-1.6zM7.0 12.0h1.6v1.6h-1.6zM6.5 28.2h1.6v1.6h-1.6zM8.2 1.2h1.6v1.6h-1.6zM7.9 2.7h1.6v1.6h-1.6zM8.4 16.4h1.6v1.6h-1.6zM8.0 20.4h1.6v1.6h-1.6zM11.9 20.1h1.6v1.6h-1.6zM12.1 25.4h1.6v1.6h-1.6zM13.3 6.8h1.6v1.6h-1.6zM13.2 8.2h1.6v1.6h-1.6zM13.7 11.9h1.6v1.6h-1.6zM13.5 26.8h1.6v1.6h-1.6zM14.6 27.0h1.6v1.6h-1.6zM16.3 2.9h1.6v1.6h-1.6zM16.2 13.8h1.6v1.6h-1.6zM17.3 4.0h1.6v1.6h-1.6zM17.7 5.3h1.6v1.6h-1.6zM17.4 13.4h1.6v1.6h-1.6zM18.6 9.4h1.6v1.6h-1.6zM19.0 20.2h1.6v1.6h-1.6zM20.5 3.9h1.6v1.6h-1.6zM21.5 11.0h1.6v1.6h-1.6zM21.8 15.0h1.6v1.6h-1.6zM23.0 3.0h1.6v1.6h-1.6zM23.2 12.0h1.6v1.6h-1.6zM23.2 15.0h1.6v1.6h-1.6zM24.4 12.1h1.6v1.6h-1.6zM24.4 28.5h1.6v1.6h-1.6zM27.0 11.9h1.6v1.6h-1.6zM27.2 24.5h1.6v1.6h-1.6zM28.6 2.7h1.6v1.6h-1.6z"/>
<path fill="#00BA38" d="M-0.0 3.8h1.6v1.6h-1.6zM-0.2 8.1h1.6v1.6h-1.6zM0.2 9.5h1.6v1.6h-1.6zM1.3 9.6h1.6v1.6h-1.6zM1.2 20.1h1.6v1.6h-1.6zM2.7 17.5h1.6v1.6h-1.6zM2.7 20.2h1.6v1.6h-1.6zM4.0 0.2h1.6v1.6h-1.6zM4.0 8.0h1.6v1.6h-1.6zM4.2 10.8h1.6v1.6h-1.6zM3.8 23.0h1.6v1.6h-1.6zM5.6 6.6h1.6v1.6h-1.6zM5.3 18.9h1.6v1.6h-1.6zM5.4 27.0h1.6v1.6h-1.6zM8.3 10.7h1.6v1.6h-1.6zM8.3 25.6h1.6v1.6h-1.6zM9.5 6.9h1.6v1.6h-1.6zM9.2 25.8h1.6v1.6h-1.6zM9.3 28.1h1.6v1.6h-1.6zM12.2 0.3h1.6v1.6h-1.6zM12.4 24.5h1.6v1.6h-1.6zM13.5 13.6h1.6v1.6h-1.6zM14.8 2.8h1.6v1.6h-1.6zM16.3 4.2h1.6v1.6h-1.6zM16.2 19.0h1.6v1.6h-1.6zM18.7 24.5h1.6v1.6h-1.6zM20.3 10.9h1.6v1.6h-1.6zM20.3 24.0h1.6v1.6h-1.6zM21.8 -0.3h1.6v1.6h-1.6zM21.7 3.0h1.6v1.6h-1.6zM21.5 13.6h1.6v1.6h-1.6zM22.8 1.1h1.6v1.6h-1.6zM23.2 13.4h1.6v1.6h-1.6zM24.4 20.1h1.6v1.6h-1.6zM24.5 21.4h1.6v1.6h-1.6zM25.9 21.4h1.6v1.6h-1.6zM26.9 1.3h1.6v1.6h-1.6zM26.8 2.5h1.6v1.6h-1.6zM26.9 9.2h1.6v1.6h-1.6zM28.6 5.5h1.6v1.6h-1.6zM28.2 20.3h1.6v1.6h-1.6zM28.5 24.5h1.6v1.6h-1.6zM28.6 27.3h1.6v1.6h-1.6z"/>
</pattern>
<pattern id="p_leftarmTop" width="30" height="30" patternUnits="userSpaceOnUse">
<rect width="30" height="30" fill="#D39200"/>
<path fill="#DE8C00" d="M-0.1 13.8h1.6v1.6h-1.6zM-0.1 21.7h1.6v1.6h-1.6zM-0.1 23.2h1.6v1.6h-1.6zM0.2 24.4h1.6v1.6h-1.6zM1.6 1.4h1.6v1.6h-1.6zM1.5 4.0h1.6v1.6h-1.6zM1.2 13.5h1.6v1.6h-1.6zM1.4 28.2h1.6v1.6h-1.6zM2.8 5.1h1.6v1.6h-1.6zM2.5 12.4h1.6v1.6h-1.6zM2.6 20.1h1.6v1.6h-1.6zM2.5 25.8h1.6v1.6h-1.6zM2.5 27.2h1.6v1.6h-1.6zM3.8 -0.0h1.6v1.6h-1.6zM4.0 18.8h1.6v1.6h-1.6zM3.8 24.3h1.6v1.6h-1.6zM5.2 6.5h1.6v1.6h-1.6zM5.4 7.9h1.6v1.6h-1.6zM5.4 10.8h1.6v1.6h-1.6zM5.4 24.5h1.6v1.6h-1.6zM6.8 1.1h1.6v1.6h-1.6zM6.8 4.0h1.6v1.6h-1.6zM6.8 5.5h1.6v1.6h-1.6zM6.8 10.6h1.6v1.6h-1.6zM6.8 12.3h1.6v1.6h-1.6zM6.5 18.8h1.6v1.6h-1.6zM7.8 9.7h1.6v1.6h-1.6zM7.9 19.2h1.6v1.6h-1.6zM8.3 24.6h1.6v1.6h-1.6zM9.5 7.0h1.6v1.6h-1.6zM9.6 10.6h1.6v1.6h-1.6zM9.6 13.5h1.6v1.6h-1.6zM9.4 16.4h1.6v1.6h-1.6zM10.7 7.9h1.6v1.6h-1.6zM11.0 12.3h1.6v1.6h-1.6zM10.8 20.4h1.6v1.6h-1.6zM12.4 7.0h1.6v1.6h-1.6zM12.2 21.9h1.6v1.6h-1.6zM13.5 2.9h1.6v1.6h-1.6zM13.3 3.8h1.6v1.6h-1.6zM13.5 24.1h1.6v1.6h-1.6zM13.8 25.6h1.6v1.6h-1.6zM14.7 1.3h1.6v1.6h-1.6zM14.9 6.8h1.6v1.6h-1.6zM15.1 11.0h1.6v1.6h-1.6zM14.7 12.2h1.6v1.6h-1.6zM15.0 15.1h1.6v1.6h-1.6zM14.9 19.2h1.6v1.6h-1.6zM15.0 22.7h1.6v1.6h-1.6zM16.2 3.9h1.6v1.6h-1.6zM16.4 13.6h1.6v1.6h-1.6zM16.5 14.7h1.6v1.6h-1.6zM16.2 18.7h1.6v1.6h-1.6zM16.5 20.5h1.6v1.6h-1.6zM16.4 21.6h1.6v1.6h-1.6zM16.3 22.8h1.6v1.6h-1.6zM16.2 24.2h1.6v1.6h-1.6zM16.0 25.7h1.6v1.6h-1.6zM15.9 28.4h1.6v1.6h-1.6zM17.4 6.8h1.6v1.6h-1.6zM17.6 17.6h1.6v1.6h-1.6zM18.8 5.7h1.6v1.6h-1.6zM19.0 7.9h1.6v1.6h-1.6zM18.8 10.6h1.6v1.6h-1.6zM18.6 13.7h1.6v1.6h-1.6zM19.0 20.2h1.6v1.6h-1.6zM20.3 4.1h1.6v1.6h-1.6zM20.2 8.3h1.6v1.6h-1.6zM20.4 9.6h1.6v1.6h-1.6zM20.1 16.0h1.6v1.6h-1.6zM20.4 18.9h1.6v1.6h-1.6zM21.4 4.0h1.6v1.6h-1.6zM21.6 14.8h1.6v1.6h-1.6zM21.5 17.8h1.6v1.6h-1.6zM22.9 16.2h1.6v1.6h-1.6zM22.7 21.6h1.6v1.6h-1.6zM22.7 24.6h1.6v1.6h-1.6zM23.1 28.1h1.6v1.6h-1.6zM24.2 2.8h1.6v1.6h-1.6zM24.2 9.3h1.6v1.6h-1.6zM24.1 10.6h1.6v1.6h-1.6zM24.4 16.2h1.6v1.6h-1.6zM24.3 25.8h1.6v1.6h-1.6zM24.1 28.3h1.6v1.6h-1.6zM25.7 12.4h1.6v1.6h-1.6zM25.5 20.1h1.6v1.6h-1.6zM25.7 28.5h1.6v1.6h-1.6zM26.9 2.5h1.6v1.6h-1.6zM27.1 8.3h1.6v1.6h-1.6zM26.8 14.8h1.6v1.6h-1.6zM26.8 20.1h1.6v1.6h-1.6zM28.4 2.9h1.6v1.6h-1.6zM28.1 10.5h1.6v1.6h-1.6zM28.1 12.2h1.6v1.6h-1.6zM28.1 25.9h1.6v1.6h-1.6z"/>
<path fill="#2BB600" d="M-0.3 4.0h1.6v1.6h-1.6zM-0.3 6.9h1.6v1.6h-1.6zM-0.1 8.0h1.6v1.6h-1.6zM-0.1 9.7h1.6v1.6h-1.6zM-0.2 10.8h1.6v1.6h-1.6zM0.3 15.0h1.6v1.6h-1.6zM-0.1 16.3h1.6v1.6h-1.6zM0.3 20.1h1.6v1.6h-1.6zM0.0 25.7h1.6v1.6h-1.6zM-0.2 26.7h1.6v1.6h-1.6zM0.1 28.5h1.6v1.6h-1.6zM1.2 0.2h1.6v1.6h-1.6zM1.1 2.5h1.6v1.6h-1.6zM1.1 7.0h1.6v1.6h-1.6zM1.4 9.3h1.6v1.6h-1.6zM1.2 17.8h1.6v1.6h-1.6zM1.6 21.5h1.6v1.6h-1.6zM1.2 23.2h1.6v1.6h-1.6zM2.6 6.7h1.6v1.6h-1.6zM2.6 9.5h1.6v1.6h-1.6zM2.6 16.4h1.6v1.6h-1.6zM3.0 21.6h1.6v1.6h-1.6zM2.8 22.8h1.6v1.6h-1.6zM2.7 28.6h1.6v1.6h-1.6zM4.1 3.0h1.6v1.6h-1.6zM3.8 9.3h1.6v1.6h-1.6zM3.9 11.9h1.6v1.6h-1.6zM4.2 13.3h1.6v1.6h-1.6zM4.3 15.1h1.6v1.6h-1.6zM4.1 16.3h1.6v1.6h-1.6zM4.2 22.7h1.6v1.6h-1.6zM3.9 27.0h1.6v1.6h-1.6zM5.1 -0.1h1.6v1.6h-1.6zM5.3 2.9h1.6v1.6h-1.6zM5.2 11.9h1.6v1.6h-1.6zM5.5 14.6h1.6v1.6h-1.6zM5.3 19.0h1.6v1.6h-1.6zM5.5 25.9h1.6v1.6h-1.6zM5.6 26.8h1.6v1.6h-1.6zM6.7 6.6h1.6v1.6h-1.6zM6.5 7.9h1.6v1.6h-1.6zM6.6 14.8h1.6v1.6h-1.6zM6.8 17.7h1.6v1.6h-1.6zM6.5 22.9h1.6v1.6h-1.6zM7.0 25.4h1.6v1.6h-1.6zM6.6 28.2h1.6v1.6h-1.6zM8.4 -0.1h1.6v1.6h-1.6zM8.3 1.3h1.6v1.6h-1.6zM8.4 5.4h1.6v1.6h-1.6zM7.8 10.5h1.6v1.6h-1.6zM8.3 14.9h1.6v1.6h-1.6zM7.9 16.0h1.6v1.6h-1.6zM8.0 20.1h1.6v1.6h-1.6zM9.4 0.1h1.6v1.6h-1.6zM9.4 1.3h1.6v1.6h-1.6zM9.5 3.0h1.6v1.6h-1.6zM9.4 5.6h1.6v1.6h-1.6zM9.2 12.1h1.6v1.6h-1.6zM9.6 14.8h1.6v1.6h-1.6zM9.6 22.8h1.6v1.6h-1.6zM9.7 25.5h1.6v1.6h-1.6zM9.2 27.3h1.6v1.6h-1.6zM10.5 0.1h1.6v1.6h-1.6zM11.0 1.4h1.6v1.6h-1.6zM11.0 5.2h1.6v1.6h-1.6zM10.6 9.5h1.6v1.6h-1.6zM10.5 13.7h1.6v1.6h-1.6zM10.5 14.7h1.6v1.6h-1.6zM11.0 16.2h1.6v1.6h-1.6zM10.6 17.4h1.6v1.6h-1.6zM11.0 18.7h1.6v1.6h-1.6zM10.9 24.2h1.6v1.6h-1.6zM10.7 25.7h1.6v1.6h-1.6zM12.3 12.3h1.6v1.6h-1.6zM12.1 13.3h1.6v1.6h-1.6zM11.9 17.5h1.6v1.6h-1.6zM13.8 5.5h1.6v1.6h-1.6zM13.8 16.5h1.6v1.6h-1.6zM13.3 18.7h1.6v1.6h-1.6zM13.5 22.8h1.6v1.6h-1.6zM13.6 26.8h1.6v1.6h-1.6zM13.6 28.3h1.6v1.6h-1.6zM14.9 5.4h1.6v1.6h-1.6zM14.8 25.5h1.6v1.6h-1.6zM14.9 28.4h1.6v1.6h-1.6zM16.4 -0.1h1.6v1.6h-1.6zM15.9 2.9h1.6v1.6h-1.6zM16.1 5.3h1.6v1.6h-1.6zM16.4 7.8h1.6v1.6h-1.6zM17.3 1.5h1.6v1.6h-1.6zM17.4 3.8h1.6v1.6h-1.6zM17.4 5.6h1.6v1.6h-1.6zM17.6 18.9h1.6v1.6h-1.6zM17.3 20.1h1.6v1.6h-1.6zM17.8 22.9h1.6v1.6h-1.6zM17.6 24.6h1.6v1.6h-1.6zM17.4 25.5h1.6v1.6h-1.6zM17.5 28.3h1.6v1.6h-1.6zM18.9 2.9h1.6v1.6h-1.6zM19.2 4.2h1.6v1.6h-1.6zM19.0 6.5h1.6v1.6h-1.6zM18.9 21.8h1.6v1.6h-1.6zM19.1 22.7h1.6v1.6h-1.6zM18.7 27.3h1.6v1.6h-1.6zM20.1 1.3h1.6v1.6h-1.6zM20.5 5.5h1.6v1.6h-1.6zM20.5 10.8h1.6v1.6h-1.6zM20.5 12.1h1.6v1.6h-1.6zM20.1 13.3h1.6v1.6h-1.6zM20.3 15.1h1.6v1.6h-1.6zM20.1 17.3h1.6v1.6h-1.6zM20.4 21.5h1.6v1.6h-1.6zM20.2 23.1h1.6v1.6h-1.6zM20.4 27.1h1.6v1.6h-1.6zM20.0 28.6h1.6v1.6h-1.6zM21.3 10.6h1.6v1.6h-1.6zM21.5 12.4h1.6v1.6h-1.6zM21.5 16.4h1.6v1.6h-1.6zM21.3 19.0h1.6v1.6h-1.6zM21.6 20.2h1.6v1.6h-1.6zM21.4 21.6h1.6v1.6h-1.6zM21.8 24.2h1.6v1.6h-1.6zM21.6 25.7h1.6v1.6h-1.6zM21.7 28.6h1.6v1.6h-1.6zM22.8 2.9h1.6v1.6h-1.6zM22.7 4.2h1.6v1.6h-1.6zM23.0 9.4h1.6v1.6h-1.6zM23.1 10.6h1.6v1.6h-1.6zM23.0 12.2h1.6v1.6h-1.6zM22.8 13.5h1.6v1.6h-1.6zM22.7 14.8h1.6v1.6h-1.6zM22.7 17.7h1.6v1.6h-1.6zM24.2 -0.3h1.6v1.6h-1.6zM24.6 5.6h1.6v1.6h-1.6zM24.2 13.8h1.6v1.6h-1.6zM24.4 15.1h1.6v1.6h-1.6zM24.5 17.3h1.6v1.6h-1.6zM24.0 19.0h1.6v1.6h-1.6zM24.3 21.4h1.6v1.6h-1.6zM24.1 23.2h1.6v1.6h-1.6zM25.4 3.8h1.6v1.6h-1.6zM25.7 5.2h1.6v1.6h-1.6zM25.8 6.8h1.6v1.6h-1.6zM25.7 7.9h1.6v1.6h-1.6zM25.8 18.6h1.6v1.6h-1.6zM27.1 5.5h1.6v1.6h-1.6zM26.7 9.7h1.6v1.6h-1.6zM27.0 12.4h1.6v1.6h-1.6zM27.1 13.2h1.6v1.6h-1.6zM26.9 21.6h1.6v1.6h-1.6zM27.1 23.1h1.6v1.6h-1.6zM26.8 24.1h1.6v1.6h-1.6zM27.3 25.5h1.6v1.6h-1.6zM26.8 26.8h1.6v1.6h-1.6zM26.8 28.6h1.6v1.6h-1.6zM28.1 1.4h1.6v1.6h-1.6zM28.6 5.4h1.6v1.6h-1.6zM28.3 8.0h1.6v1.6h-1.6zM28.5 9.6h1.6v1.6h-1.6zM28.1 15.0h1.6v1.6h-1.6zM28.3 17.6h1.6v1.6h-1.6zM28.2 19.2h1.6v1.6h-1.6zM28.5 27.3h1.6v1.6h-1.6z"/>
</pattern>
<pattern id="p_midblob" width="30" height="30" patternUnits="userSpaceOnUse">
<rect width="30" height="30" fill="#FF699C"/>
<path fill="#FD6F86" d="M0.2 -0.2h1.6v1.6h-1.6zM0.1 6.7h1.6v1.6h-1.6zM-0.1 10.6h1.6v1.6h-1.6zM-0.2 16.0h1.6v1.6h-1.6zM0.3 20.1h1.6v1.6h-1.6zM0.1 21.6h1.6v1.6h-1.6zM-0.0 27.2h1.6v1.6h-1.6zM1.1 -0.2h1.6v1.6h-1.6zM1.2 4.2h1.6v1.6h-1.6zM1.5 5.4h1.6v1.6h-1.6zM1.5 6.9h1.6v1.6h-1.6zM1.5 9.3h1.6v1.6h-1.6zM1.1 13.5h1.6v1.6h-1.6zM1.4 18.9h1.6v1.6h-1.6zM1.5 20.1h1.6v1.6h-1.6zM1.2 21.4h1.6v1.6h-1.6zM1.6 24.3h1.6v1.6h-1.6zM2.5 2.6h1.6v1.6h-1.6zM2.4 3.9h1.6v1.6h-1.6zM2.8 5.3h1.6v1.6h-1.6zM2.5 7.8h1.6v1.6h-1.6zM2.9 12.2h1.6v1.6h-1.6zM2.7 17.4h1.6v1.6h-1.6zM2.5 27.0h1.6v1.6h-1.6zM2.4 28.4h1.6v1.6h-1.6zM3.9 0.1h1.6v1.6h-1.6zM4.1 1.3h1.6v1.6h-1.6zM4.2 2.7h1.6v1.6h-1.6zM4.2 4.2h1.6v1.6h-1.6zM3.8 5.2h1.6v1.6h-1.6zM3.8 8.0h1.6v1.6h-1.6zM3.9 11.0h1.6v1.6h-1.6zM4.3 14.8h1.6v1.6h-1.6zM3.8 20.3h1.6v1.6h-1.6zM4.0 24.0h1.6v1.6h-1.6zM4.0 27.2h1.6v1.6h-1.6zM3.8 28.3h1.6v1.6h-1.6zM5.2 -0.2h1.6v1.6h-1.6zM5.7 2.5h1.6v1.6h-1.6zM5.5 5.6h1.6v1.6h-1.6zM5.3 9.2h1.6v1.6h-1.6zM5.5 18.8h1.6v1.6h-1.6zM5.1 20.2h1.6v1.6h-1.6zM5.3 22.7h1.6v1.6h-1.6zM5.6 24.4h1.6v1.6h-1.6zM5.4 27.0h1.6v1.6h-1.6zM6.8 -0.2h1.6v1.6h-1.6zM6.9 1.3h1.6v1.6h-1.6zM6.9 3.9h1.6v1.6h-1.6zM6.9 6.6h1.6v1.6h-1.6zM6.5 9.4h1.6v1.6h-1.6zM6.8 15.9h1.6v1.6h-1.6zM6.9 17.7h1.6v1.6h-1.6zM6.9 21.6h1.6v1.6h-1.6zM6.9 23.2h1.6v1.6h-1.6zM6.8 24.1h1.6v1.6h-1.6zM6.9 28.1h1.6v1.6h-1.6zM8.3 0.2h1.6v1.6h-1.6zM8.1 4.3h1.6v1.6h-1.6zM8.3 5.7h1.6v1.6h-1.6zM8.0 9.3h1.6v1.6h-1.6zM8.3 13.5h1.6v1.6h-1.6zM8.3 17.4h1.6v1.6h-1.6zM8.3 18.8h1.6v1.6h-1.6zM8.2 21.5h1.6v1.6h-1.6zM7.9 25.6h1.6v1.6h-1.6zM8.0 26.8h1.6v1.6h-1.6zM8.2 28.4h1.6v1.6h-1.6zM9.7 1.2h1.6v1.6h-1.6zM9.6 5.2h1.6v1.6h-1.6zM9.7 6.7h1.6v1.6h-1.6zM9.6 8.2h1.6v1.6h-1.6zM9.7 13.6h1.6v1.6h-1.6zM9.6 15.1h1.6v1.6h-1.6zM9.2 25.9h1.6v1.6h-1.6zM10.8 -0.0h1.6v1.6h-1.6zM10.6 1.5h1.6v1.6h-1.6zM10.8 6.7h1.6v1.6h-1.6zM11.0 7.9h1.6v1.6h-1.6zM10.8 9.7h1.6v1.6h-1.6zM11.1 10.7h1.6v1.6h-1.6zM10.6 12.0h1.6v1.6h-1.6zM10.8 16.3h1.6v1.6h-1.6zM11.1 17.6h1.6v1.6h-1.6zM10.8 18.9h1.6v1.6h-1.6zM10.8 24.3h1.6v1.6h-1.6zM11.1 25.7h1.6v1.6h-1.6zM10.8 28.3h1.6v1.6h-1.6zM12.1 2.6h1.6v1.6h-1.6zM12.2 6.8h1.6v1.6h-1.6zM11.9 10.8h1.6v1.6h-1.6zM12.0 13.2h1.6v1.6h-1.6zM12.3 17.7h1.6v1.6h-1.6zM12.1 20.3h1.6v1.6h-1.6zM12.4 25.6h1.6v1.6h-1.6zM12.2 27.2h1.6v1.6h-1.6zM13.4 1.3h1.6v1.6h-1.6zM13.5 3.0h1.6v1.6h-1.6zM13.6 11.9h1.6v1.6h-1.6zM13.7 13.7h1.6v1.6h-1.6zM13.4 16.5h1.6v1.6h-1.6zM13.7 21.6h1.6v1.6h-1.6zM13.4 23.0h1.6v1.6h-1.6zM13.8 25.6h1.6v1.6h-1.6zM13.6 26.9h1.6v1.6h-1.6zM15.0 -0.1h1.6v1.6h-1.6zM14.6 2.9h1.6v1.6h-1.6zM15.0 13.8h1.6v1.6h-1.6zM15.0 23.1h1.6v1.6h-1.6zM14.6 24.5h1.6v1.6h-1.6zM14.9 27.1h1.6v1.6h-1.6zM16.4 -0.2h1.6v1.6h-1.6zM16.2 10.6h1.6v1.6h-1.6zM16.0 20.1h1.6v1.6h-1.6zM16.0 24.3h1.6v1.6h-1.6zM17.6 -0.3h1.6v1.6h-1.6zM17.3 1.1h1.6v1.6h-1.6zM17.7 2.6h1.6v1.6h-1.6zM17.4 8.3h1.6v1.6h-1.6zM17.5 11.9h1.6v1.6h-1.6zM17.4 16.3h1.6v1.6h-1.6zM17.5 17.3h1.6v1.6h-1.6zM17.3 18.7h1.6v1.6h-1.6zM17.8 25.5h1.6v1.6h-1.6zM18.8 -0.0h1.6v1.6h-1.6zM18.8 1.1h1.6v1.6h-1.6zM19.0 2.4h1.6v1.6h-1.6zM19.1 4.1h1.6v1.6h-1.6zM19.2 5.2h1.6v1.6h-1.6zM18.8 10.9h1.6v1.6h-1.6zM19.0 13.7h1.6v1.6h-1.6zM18.9 16.3h1.6v1.6h-1.6zM18.7 19.0h1.6v1.6h-1.6zM18.8 20.2h1.6v1.6h-1.6zM18.9 21.9h1.6v1.6h-1.6zM19.0 22.9h1.6v1.6h-1.6zM18.7 25.8h1.6v1.6h-1.6zM19.1 26.7h1.6v1.6h-1.6zM18.8 28.3h1.6v1.6h-1.6zM20.2 1.4h1.6v1.6h-1.6zM20.3 3.8h1.6v1.6h-1.6zM20.0 8.4h1.6v1.6h-1.6zM20.1 13.3h1.6v1.6h-1.6zM20.4 16.3h1.6v1.6h-1.6zM20.1 25.5h1.6v1.6h-1.6zM21.3 5.7h1.6v1.6h-1.6zM21.4 6.7h1.6v1.6h-1.6zM21.4 9.5h1.6v1.6h-1.6zM21.4 10.5h1.6v1.6h-1.6zM21.9 12.0h1.6v1.6h-1.6zM21.4 13.7h1.6v1.6h-1.6zM21.6 16.4h1.6v1.6h-1.6zM21.7 21.4h1.6v1.6h-1.6zM21.6 23.0h1.6v1.6h-1.6zM21.6 25.5h1.6v1.6h-1.6zM23.1 -0.2h1.6v1.6h-1.6zM22.9 1.2h1.6v1.6h-1.6zM22.7 5.3h1.6v1.6h-1.6zM22.8 6.8h1.6v1.6h-1.6zM22.8 8.2h1.6v1.6h-1.6zM23.2 9.4h1.6v1.6h-1.6zM23.0 10.8h1.6v1.6h-1.6zM22.7 14.6h1.6v1.6h-1.6zM22.7 16.2h1.6v1.6h-1.6zM22.9 18.8h1.6v1.6h-1.6zM22.8 20.5h1.6v1.6h-1.6zM22.7 21.7h1.6v1.6h-1.6zM23.1 24.6h1.6v1.6h-1.6zM23.1 25.8h1.6v1.6h-1.6zM23.0 27.2h1.6v1.6h-1.6zM22.9 28.3h1.6v1.6h-1.6zM24.6 -0.1h1.6v1.6h-1.6zM24.3 6.6h1.6v1.6h-1.6zM24.1 9.3h1.6v1.6h-1.6zM24.0 10.7h1.6v1.6h-1.6zM24.0 15.1h1.6v1.6h-1.6zM24.5 17.8h1.6v1.6h-1.6zM24.6 24.4h1.6v1.6h-1.6zM24.2 25.5h1.6v1.6h-1.6zM24.2 27.0h1.6v1.6h-1.6zM24.2 28.4h1.6v1.6h-1.6zM25.6 1.6h1.6v1.6h-1.6zM25.9 9.5h1.6v1.6h-1.6zM25.7 13.3h1.6v1.6h-1.6zM25.7 18.7h1.6v1.6h-1.6zM25.9 21.6h1.6v1.6h-1.6zM25.8 27.2h1.6v1.6h-1.6zM26.7 -0.1h1.6v1.6h-1.6zM26.8 2.8h1.6v1.6h-1.6zM26.9 5.7h1.6v1.6h-1.6zM27.0 9.7h1.6v1.6h-1.6zM27.2 14.9h1.6v1.6h-1.6zM27.0 18.7h1.6v1.6h-1.6zM26.8 22.8h1.6v1.6h-1.6zM28.6 0.1h1.6v1.6h-1.6zM28.5 3.9h1.6v1.6h-1.6zM28.3 5.7h1.6v1.6h-1.6zM28.3 8.1h1.6v1.6h-1.6zM28.1 11.0h1.6v1.6h-1.6zM28.4 16.3h1.6v1.6h-1.6zM28.6 17.3h1.6v1.6h-1.6zM28.6 20.2h1.6v1.6h-1.6zM28.2 22.7h1.6v1.6h-1.6zM28.3 24.5h1.6v1.6h-1.6z"/>
<path fill="#F17D50" d="M-0.0 4.2h1.6v1.6h-1.6zM0.1 18.7h1.6v1.6h-1.6zM0.1 23.0h1.6v1.6h-1.6zM-0.0 24.1h1.6v1.6h-1.6zM-0.1 28.2h1.6v1.6h-1.6zM1.2 17.8h1.6v1.6h-1.6zM2.7 1.3h1.6v1.6h-1.6zM2.8 9.7h1.6v1.6h-1.6zM4.3 16.2h1.6v1.6h-1.6zM5.3 1.4h1.6v1.6h-1.6zM5.1 21.4h1.6v1.6h-1.6zM6.7 5.4h1.6v1.6h-1.6zM6.8 14.7h1.6v1.6h-1.6zM6.5 18.9h1.6v1.6h-1.6zM8.0 8.0h1.6v1.6h-1.6zM7.9 10.6h1.6v1.6h-1.6zM9.4 0.0h1.6v1.6h-1.6zM9.3 12.3h1.6v1.6h-1.6zM9.7 16.1h1.6v1.6h-1.6zM9.2 17.4h1.6v1.6h-1.6zM9.5 19.2h1.6v1.6h-1.6zM9.6 24.3h1.6v1.6h-1.6zM10.9 5.5h1.6v1.6h-1.6zM10.7 27.1h1.6v1.6h-1.6zM11.9 1.5h1.6v1.6h-1.6zM12.1 4.1h1.6v1.6h-1.6zM12.2 18.6h1.6v1.6h-1.6zM13.7 7.8h1.6v1.6h-1.6zM13.3 28.3h1.6v1.6h-1.6zM15.0 5.4h1.6v1.6h-1.6zM15.0 6.9h1.6v1.6h-1.6zM15.0 17.8h1.6v1.6h-1.6zM14.8 20.4h1.6v1.6h-1.6zM16.1 1.6h1.6v1.6h-1.6zM16.3 12.2h1.6v1.6h-1.6zM16.2 16.2h1.6v1.6h-1.6zM16.1 17.8h1.6v1.6h-1.6zM16.4 23.1h1.6v1.6h-1.6zM16.3 25.4h1.6v1.6h-1.6zM16.5 27.1h1.6v1.6h-1.6zM17.4 20.5h1.6v1.6h-1.6zM19.0 9.7h1.6v1.6h-1.6zM20.0 11.0h1.6v1.6h-1.6zM20.2 12.1h1.6v1.6h-1.6zM20.3 14.8h1.6v1.6h-1.6zM21.6 1.4h1.6v1.6h-1.6zM21.7 3.9h1.6v1.6h-1.6zM21.8 8.3h1.6v1.6h-1.6zM21.5 15.0h1.6v1.6h-1.6zM24.5 1.5h1.6v1.6h-1.6zM24.3 13.5h1.6v1.6h-1.6zM24.0 16.2h1.6v1.6h-1.6zM24.5 18.7h1.6v1.6h-1.6zM24.6 20.3h1.6v1.6h-1.6zM24.2 21.6h1.6v1.6h-1.6zM25.7 2.9h1.6v1.6h-1.6zM25.8 15.1h1.6v1.6h-1.6zM25.8 16.5h1.6v1.6h-1.6zM25.4 17.5h1.6v1.6h-1.6zM25.9 23.2h1.6v1.6h-1.6zM26.7 25.4h1.6v1.6h-1.6zM28.2 6.9h1.6v1.6h-1.6zM28.3 9.5h1.6v1.6h-1.6zM28.1 13.5h1.6v1.6h-1.6z"/>
</pattern>
<pattern id="p_violet" width="30" height="30" patternUnits="userSpaceOnUse">
<rect width="30" height="30" fill="#C77CFF"/>
<path fill="#DB72FB" d="M-0.0 0.1h1.6v1.6h-1.6zM-0.2 5.7h1.6v1.6h-1.6zM0.0 25.9h1.6v1.6h-1.6zM1.5 0.2h1.6v1.6h-1.6zM1.1 2.8h1.6v1.6h-1.6zM1.4 4.1h1.6v1.6h-1.6zM1.6 9.4h1.6v1.6h-1.6zM1.3 10.6h1.6v1.6h-1.6zM1.1 12.4h1.6v1.6h-1.6zM1.3 16.1h1.6v1.6h-1.6zM1.5 21.8h1.6v1.6h-1.6zM1.2 24.2h1.6v1.6h-1.6zM1.3 28.3h1.6v1.6h-1.6zM2.6 5.5h1.6v1.6h-1.6zM2.8 15.1h1.6v1.6h-1.6zM2.9 20.3h1.6v1.6h-1.6zM2.6 21.5h1.6v1.6h-1.6zM2.5 23.2h1.6v1.6h-1.6zM2.9 26.8h1.6v1.6h-1.6zM4.1 2.9h1.6v1.6h-1.6zM4.3 5.6h1.6v1.6h-1.6zM4.1 10.8h1.6v1.6h-1.6zM4.2 16.3h1.6v1.6h-1.6zM3.9 21.7h1.6v1.6h-1.6zM3.9 25.9h1.6v1.6h-1.6zM5.2 10.9h1.6v1.6h-1.6zM5.6 11.9h1.6v1.6h-1.6zM5.2 13.8h1.6v1.6h-1.6zM5.2 16.5h1.6v1.6h-1.6zM5.6 24.4h1.6v1.6h-1.6zM5.1 25.6h1.6v1.6h-1.6zM6.8 -0.3h1.6v1.6h-1.6zM6.6 11.1h1.6v1.6h-1.6zM7.0 12.4h1.6v1.6h-1.6zM7.0 13.3h1.6v1.6h-1.6zM6.7 14.7h1.6v1.6h-1.6zM6.5 17.3h1.6v1.6h-1.6zM6.9 18.6h1.6v1.6h-1.6zM6.8 27.1h1.6v1.6h-1.6zM8.3 2.6h1.6v1.6h-1.6zM8.0 11.9h1.6v1.6h-1.6zM8.1 14.8h1.6v1.6h-1.6zM8.4 16.2h1.6v1.6h-1.6zM8.2 21.5h1.6v1.6h-1.6zM8.3 23.2h1.6v1.6h-1.6zM8.1 27.0h1.6v1.6h-1.6zM9.4 1.2h1.6v1.6h-1.6zM9.2 4.0h1.6v1.6h-1.6zM9.5 9.2h1.6v1.6h-1.6zM9.5 17.7h1.6v1.6h-1.6zM9.3 20.1h1.6v1.6h-1.6zM9.2 25.5h1.6v1.6h-1.6zM9.6 27.2h1.6v1.6h-1.6zM10.5 0.3h1.6v1.6h-1.6zM11.0 1.1h1.6v1.6h-1.6zM11.0 5.2h1.6v1.6h-1.6zM10.8 8.4h1.6v1.6h-1.6zM10.5 13.4h1.6v1.6h-1.6zM10.9 19.1h1.6v1.6h-1.6zM11.1 20.5h1.6v1.6h-1.6zM10.5 24.5h1.6v1.6h-1.6zM12.0 1.1h1.6v1.6h-1.6zM12.1 9.5h1.6v1.6h-1.6zM12.1 14.8h1.6v1.6h-1.6zM11.9 16.2h1.6v1.6h-1.6zM12.2 21.5h1.6v1.6h-1.6zM13.8 6.9h1.6v1.6h-1.6zM13.5 8.3h1.6v1.6h-1.6zM13.2 9.4h1.6v1.6h-1.6zM13.4 12.1h1.6v1.6h-1.6zM13.5 20.0h1.6v1.6h-1.6zM13.6 26.8h1.6v1.6h-1.6zM14.9 1.3h1.6v1.6h-1.6zM14.9 2.6h1.6v1.6h-1.6zM15.1 6.5h1.6v1.6h-1.6zM15.0 9.6h1.6v1.6h-1.6zM14.8 12.3h1.6v1.6h-1.6zM15.1 14.7h1.6v1.6h-1.6zM14.7 20.0h1.6v1.6h-1.6zM15.0 22.8h1.6v1.6h-1.6zM16.2 2.8h1.6v1.6h-1.6zM16.2 4.2h1.6v1.6h-1.6zM16.2 9.2h1.6v1.6h-1.6zM16.1 16.0h1.6v1.6h-1.6zM16.2 23.0h1.6v1.6h-1.6zM16.1 26.7h1.6v1.6h-1.6zM17.5 -0.2h1.6v1.6h-1.6zM17.3 20.3h1.6v1.6h-1.6zM17.7 24.1h1.6v1.6h-1.6zM19.0 12.0h1.6v1.6h-1.6zM19.0 13.7h1.6v1.6h-1.6zM18.7 15.0h1.6v1.6h-1.6zM18.9 19.0h1.6v1.6h-1.6zM19.0 24.3h1.6v1.6h-1.6zM20.5 -0.0h1.6v1.6h-1.6zM20.5 3.9h1.6v1.6h-1.6zM20.1 9.7h1.6v1.6h-1.6zM20.4 13.8h1.6v1.6h-1.6zM20.4 17.7h1.6v1.6h-1.6zM20.4 20.3h1.6v1.6h-1.6zM20.0 23.1h1.6v1.6h-1.6zM20.3 25.6h1.6v1.6h-1.6zM21.4 3.0h1.6v1.6h-1.6zM21.5 16.0h1.6v1.6h-1.6zM21.9 17.8h1.6v1.6h-1.6zM21.6 21.8h1.6v1.6h-1.6zM21.6 24.1h1.6v1.6h-1.6zM21.8 25.7h1.6v1.6h-1.6zM23.0 0.1h1.6v1.6h-1.6zM22.7 1.5h1.6v1.6h-1.6zM22.7 2.4h1.6v1.6h-1.6zM22.8 4.1h1.6v1.6h-1.6zM23.2 8.1h1.6v1.6h-1.6zM22.7 9.6h1.6v1.6h-1.6zM23.1 10.5h1.6v1.6h-1.6zM23.1 13.5h1.6v1.6h-1.6zM22.9 14.9h1.6v1.6h-1.6zM23.0 18.8h1.6v1.6h-1.6zM24.2 2.8h1.6v1.6h-1.6zM24.6 5.4h1.6v1.6h-1.6zM24.1 6.6h1.6v1.6h-1.6zM24.2 9.6h1.6v1.6h-1.6zM24.1 10.8h1.6v1.6h-1.6zM24.5 14.7h1.6v1.6h-1.6zM24.4 16.4h1.6v1.6h-1.6zM24.4 21.4h1.6v1.6h-1.6zM24.2 25.9h1.6v1.6h-1.6zM24.2 28.4h1.6v1.6h-1.6zM25.4 1.3h1.6v1.6h-1.6zM25.8 4.0h1.6v1.6h-1.6zM25.8 14.8h1.6v1.6h-1.6zM25.7 15.9h1.6v1.6h-1.6zM25.9 17.6h1.6v1.6h-1.6zM25.5 26.7h1.6v1.6h-1.6zM27.0 0.2h1.6v1.6h-1.6zM26.8 4.3h1.6v1.6h-1.6zM27.3 5.3h1.6v1.6h-1.6zM27.3 11.9h1.6v1.6h-1.6zM27.1 25.6h1.6v1.6h-1.6zM26.9 28.6h1.6v1.6h-1.6zM28.2 0.0h1.6v1.6h-1.6zM28.3 8.1h1.6v1.6h-1.6zM28.5 9.7h1.6v1.6h-1.6zM28.5 10.6h1.6v1.6h-1.6zM28.2 21.6h1.6v1.6h-1.6zM28.4 28.6h1.6v1.6h-1.6z"/>
<path fill="#AE87FF" d="M0.3 14.9h1.6v1.6h-1.6zM1.4 18.8h1.6v1.6h-1.6zM1.2 20.0h1.6v1.6h-1.6zM1.6 25.9h1.6v1.6h-1.6zM2.8 0.3h1.6v1.6h-1.6zM3.0 4.2h1.6v1.6h-1.6zM2.6 16.1h1.6v1.6h-1.6zM2.7 28.1h1.6v1.6h-1.6zM4.3 4.2h1.6v1.6h-1.6zM4.3 7.9h1.6v1.6h-1.6zM5.3 8.3h1.6v1.6h-1.6zM5.6 20.4h1.6v1.6h-1.6zM6.5 24.3h1.6v1.6h-1.6zM8.3 -0.2h1.6v1.6h-1.6zM8.2 4.1h1.6v1.6h-1.6zM9.2 6.7h1.6v1.6h-1.6zM9.6 7.9h1.6v1.6h-1.6zM9.7 16.2h1.6v1.6h-1.6zM10.6 6.5h1.6v1.6h-1.6zM10.9 10.7h1.6v1.6h-1.6zM11.0 17.6h1.6v1.6h-1.6zM10.7 22.7h1.6v1.6h-1.6zM11.0 25.5h1.6v1.6h-1.6zM12.3 12.2h1.6v1.6h-1.6zM12.3 18.7h1.6v1.6h-1.6zM13.4 14.6h1.6v1.6h-1.6zM13.3 21.8h1.6v1.6h-1.6zM13.5 23.1h1.6v1.6h-1.6zM16.1 1.5h1.6v1.6h-1.6zM16.0 12.2h1.6v1.6h-1.6zM15.9 18.8h1.6v1.6h-1.6zM16.2 28.6h1.6v1.6h-1.6zM17.7 1.4h1.6v1.6h-1.6zM17.8 13.7h1.6v1.6h-1.6zM17.4 18.6h1.6v1.6h-1.6zM17.6 21.3h1.6v1.6h-1.6zM18.8 4.3h1.6v1.6h-1.6zM19.1 16.3h1.6v1.6h-1.6zM18.7 20.0h1.6v1.6h-1.6zM19.1 21.4h1.6v1.6h-1.6zM18.6 25.6h1.6v1.6h-1.6zM19.0 28.2h1.6v1.6h-1.6zM20.1 1.5h1.6v1.6h-1.6zM20.1 2.8h1.6v1.6h-1.6zM21.9 13.7h1.6v1.6h-1.6zM21.7 15.1h1.6v1.6h-1.6zM21.6 19.0h1.6v1.6h-1.6zM21.7 20.5h1.6v1.6h-1.6zM22.8 5.4h1.6v1.6h-1.6zM24.2 4.0h1.6v1.6h-1.6zM24.5 22.9h1.6v1.6h-1.6zM25.4 5.5h1.6v1.6h-1.6zM25.9 20.3h1.6v1.6h-1.6zM27.3 1.3h1.6v1.6h-1.6zM28.2 2.4h1.6v1.6h-1.6zM28.4 5.5h1.6v1.6h-1.6zM28.1 13.5h1.6v1.6h-1.6zM28.1 19.1h1.6v1.6h-1.6zM28.3 20.4h1.6v1.6h-1.6z"/>
</pattern>
<pattern id="p_violetR" width="30" height="30" patternUnits="userSpaceOnUse">
<rect width="30" height="30" fill="#C77CFF"/>
<path fill="#AE87FF" d="M-0.1 7.9h1.6v1.6h-1.6zM0.2 9.5h1.6v1.6h-1.6zM-0.1 19.1h1.6v1.6h-1.6zM-0.2 24.3h1.6v1.6h-1.6zM0.1 25.7h1.6v1.6h-1.6zM1.4 -0.2h1.6v1.6h-1.6zM1.3 4.1h1.6v1.6h-1.6zM1.5 6.8h1.6v1.6h-1.6zM1.5 12.1h1.6v1.6h-1.6zM1.1 14.9h1.6v1.6h-1.6zM1.1 15.9h1.6v1.6h-1.6zM1.3 18.8h1.6v1.6h-1.6zM1.6 28.2h1.6v1.6h-1.6zM2.5 2.5h1.6v1.6h-1.6zM2.8 4.0h1.6v1.6h-1.6zM2.6 8.4h1.6v1.6h-1.6zM2.9 18.8h1.6v1.6h-1.6zM2.7 23.1h1.6v1.6h-1.6zM2.9 24.3h1.6v1.6h-1.6zM2.5 27.2h1.6v1.6h-1.6zM2.8 28.5h1.6v1.6h-1.6zM4.2 0.3h1.6v1.6h-1.6zM3.9 1.5h1.6v1.6h-1.6zM4.1 4.1h1.6v1.6h-1.6zM4.3 10.7h1.6v1.6h-1.6zM4.2 13.3h1.6v1.6h-1.6zM3.9 16.3h1.6v1.6h-1.6zM4.0 17.6h1.6v1.6h-1.6zM4.0 19.1h1.6v1.6h-1.6zM4.3 20.0h1.6v1.6h-1.6zM4.0 25.5h1.6v1.6h-1.6zM5.4 1.3h1.6v1.6h-1.6zM5.5 12.3h1.6v1.6h-1.6zM5.7 16.4h1.6v1.6h-1.6zM5.3 17.3h1.6v1.6h-1.6zM5.4 22.9h1.6v1.6h-1.6zM5.3 24.5h1.6v1.6h-1.6zM6.6 5.4h1.6v1.6h-1.6zM6.7 7.0h1.6v1.6h-1.6zM6.5 20.0h1.6v1.6h-1.6zM6.5 21.5h1.6v1.6h-1.6zM7.8 3.8h1.6v1.6h-1.6zM8.4 5.4h1.6v1.6h-1.6zM8.3 8.2h1.6v1.6h-1.6zM8.0 14.8h1.6v1.6h-1.6zM8.0 20.5h1.6v1.6h-1.6zM8.1 21.5h1.6v1.6h-1.6zM8.3 23.1h1.6v1.6h-1.6zM9.3 0.1h1.6v1.6h-1.6zM9.3 5.6h1.6v1.6h-1.6zM9.2 6.6h1.6v1.6h-1.6zM9.6 8.1h1.6v1.6h-1.6zM9.7 15.0h1.6v1.6h-1.6zM9.5 16.3h1.6v1.6h-1.6zM9.4 20.5h1.6v1.6h-1.6zM9.6 25.4h1.6v1.6h-1.6zM9.6 28.5h1.6v1.6h-1.6zM10.8 1.6h1.6v1.6h-1.6zM11.0 4.1h1.6v1.6h-1.6zM10.9 11.9h1.6v1.6h-1.6zM11.0 17.7h1.6v1.6h-1.6zM10.9 21.5h1.6v1.6h-1.6zM10.8 22.8h1.6v1.6h-1.6zM10.6 28.4h1.6v1.6h-1.6zM11.9 2.5h1.6v1.6h-1.6zM12.4 5.2h1.6v1.6h-1.6zM11.9 9.7h1.6v1.6h-1.6zM12.3 13.7h1.6v1.6h-1.6zM12.1 16.0h1.6v1.6h-1.6zM12.1 17.7h1.6v1.6h-1.6zM12.3 18.6h1.6v1.6h-1.6zM12.1 20.0h1.6v1.6h-1.6zM12.0 24.1h1.6v1.6h-1.6zM12.0 25.8h1.6v1.6h-1.6zM12.2 26.7h1.6v1.6h-1.6zM13.4 -0.1h1.6v1.6h-1.6zM13.7 4.3h1.6v1.6h-1.6zM13.8 7.0h1.6v1.6h-1.6zM13.3 10.7h1.6v1.6h-1.6zM13.7 12.2h1.6v1.6h-1.6zM13.3 19.1h1.6v1.6h-1.6zM13.8 21.7h1.6v1.6h-1.6zM13.4 25.9h1.6v1.6h-1.6zM15.0 0.1h1.6v1.6h-1.6zM14.8 8.0h1.6v1.6h-1.6zM14.6 10.7h1.6v1.6h-1.6zM14.7 19.2h1.6v1.6h-1.6zM14.9 22.8h1.6v1.6h-1.6zM14.8 25.8h1.6v1.6h-1.6zM16.4 0.1h1.6v1.6h-1.6zM16.1 2.7h1.6v1.6h-1.6zM16.0 6.6h1.6v1.6h-1.6zM16.0 9.3h1.6v1.6h-1.6zM16.2 10.8h1.6v1.6h-1.6zM16.4 13.4h1.6v1.6h-1.6zM16.2 17.8h1.6v1.6h-1.6zM16.1 20.1h1.6v1.6h-1.6zM16.1 21.4h1.6v1.6h-1.6zM17.6 4.3h1.6v1.6h-1.6zM17.7 6.5h1.6v1.6h-1.6zM17.7 10.5h1.6v1.6h-1.6zM17.5 15.1h1.6v1.6h-1.6zM17.4 16.1h1.6v1.6h-1.6zM17.5 17.7h1.6v1.6h-1.6zM17.6 20.2h1.6v1.6h-1.6zM17.8 25.5h1.6v1.6h-1.6zM18.7 -0.1h1.6v1.6h-1.6zM18.8 1.1h1.6v1.6h-1.6zM19.0 2.8h1.6v1.6h-1.6zM18.6 7.9h1.6v1.6h-1.6zM18.7 12.2h1.6v1.6h-1.6zM19.1 20.2h1.6v1.6h-1.6zM18.9 23.0h1.6v1.6h-1.6zM18.9 24.5h1.6v1.6h-1.6zM19.0 25.4h1.6v1.6h-1.6zM20.5 -0.3h1.6v1.6h-1.6zM20.5 3.9h1.6v1.6h-1.6zM20.4 8.0h1.6v1.6h-1.6zM20.2 9.4h1.6v1.6h-1.6zM20.2 19.0h1.6v1.6h-1.6zM20.3 24.4h1.6v1.6h-1.6zM20.3 25.8h1.6v1.6h-1.6zM21.4 1.5h1.6v1.6h-1.6zM21.7 2.5h1.6v1.6h-1.6zM21.4 5.1h1.6v1.6h-1.6zM21.7 6.9h1.6v1.6h-1.6zM21.7 8.0h1.6v1.6h-1.6zM21.7 12.2h1.6v1.6h-1.6zM21.3 16.4h1.6v1.6h-1.6zM21.8 17.6h1.6v1.6h-1.6zM21.5 19.2h1.6v1.6h-1.6zM21.6 20.2h1.6v1.6h-1.6zM21.7 21.6h1.6v1.6h-1.6zM21.8 23.2h1.6v1.6h-1.6zM21.8 26.9h1.6v1.6h-1.6zM22.9 -0.1h1.6v1.6h-1.6zM22.7 5.2h1.6v1.6h-1.6zM22.9 10.6h1.6v1.6h-1.6zM23.1 12.4h1.6v1.6h-1.6zM23.0 17.8h1.6v1.6h-1.6zM23.1 21.4h1.6v1.6h-1.6zM23.0 25.5h1.6v1.6h-1.6zM24.5 1.2h1.6v1.6h-1.6zM24.2 9.4h1.6v1.6h-1.6zM24.1 10.6h1.6v1.6h-1.6zM24.1 12.1h1.6v1.6h-1.6zM24.4 14.6h1.6v1.6h-1.6zM24.6 16.1h1.6v1.6h-1.6zM24.2 17.8h1.6v1.6h-1.6zM24.2 28.3h1.6v1.6h-1.6zM25.5 4.1h1.6v1.6h-1.6zM25.5 12.4h1.6v1.6h-1.6zM25.4 13.7h1.6v1.6h-1.6zM25.4 16.4h1.6v1.6h-1.6zM25.4 18.9h1.6v1.6h-1.6zM25.8 27.0h1.6v1.6h-1.6zM25.9 28.3h1.6v1.6h-1.6zM27.0 -0.1h1.6v1.6h-1.6zM26.8 2.9h1.6v1.6h-1.6zM27.3 5.6h1.6v1.6h-1.6zM26.9 17.7h1.6v1.6h-1.6zM26.8 22.8h1.6v1.6h-1.6zM27.1 25.6h1.6v1.6h-1.6zM27.3 26.9h1.6v1.6h-1.6zM28.1 -0.2h1.6v1.6h-1.6zM28.3 1.2h1.6v1.6h-1.6zM28.3 5.7h1.6v1.6h-1.6zM28.6 7.9h1.6v1.6h-1.6zM28.2 10.9h1.6v1.6h-1.6zM28.6 12.1h1.6v1.6h-1.6zM28.1 14.6h1.6v1.6h-1.6zM28.1 20.3h1.6v1.6h-1.6zM28.5 21.4h1.6v1.6h-1.6zM28.5 25.9h1.6v1.6h-1.6z"/>
<path fill="#DB72FB" d="M-0.3 5.2h1.6v1.6h-1.6zM-0.0 28.1h1.6v1.6h-1.6zM1.3 8.0h1.6v1.6h-1.6zM1.6 20.5h1.6v1.6h-1.6zM1.4 25.7h1.6v1.6h-1.6zM2.6 6.9h1.6v1.6h-1.6zM2.8 16.1h1.6v1.6h-1.6zM3.8 14.6h1.6v1.6h-1.6zM5.4 -0.0h1.6v1.6h-1.6zM5.5 4.2h1.6v1.6h-1.6zM5.2 5.1h1.6v1.6h-1.6zM5.6 14.6h1.6v1.6h-1.6zM7.0 -0.2h1.6v1.6h-1.6zM6.5 1.5h1.6v1.6h-1.6zM6.6 7.9h1.6v1.6h-1.6zM6.9 18.8h1.6v1.6h-1.6zM6.6 28.4h1.6v1.6h-1.6zM8.3 1.4h1.6v1.6h-1.6zM8.2 2.9h1.6v1.6h-1.6zM8.3 6.6h1.6v1.6h-1.6zM8.0 28.3h1.6v1.6h-1.6zM10.6 9.4h1.6v1.6h-1.6zM10.5 20.1h1.6v1.6h-1.6zM12.3 0.2h1.6v1.6h-1.6zM12.1 14.8h1.6v1.6h-1.6zM13.5 9.5h1.6v1.6h-1.6zM13.2 14.7h1.6v1.6h-1.6zM13.5 17.5h1.6v1.6h-1.6zM14.6 5.4h1.6v1.6h-1.6zM14.6 27.1h1.6v1.6h-1.6zM16.1 1.2h1.6v1.6h-1.6zM16.1 26.9h1.6v1.6h-1.6zM17.5 21.8h1.6v1.6h-1.6zM17.8 23.2h1.6v1.6h-1.6zM17.7 28.2h1.6v1.6h-1.6zM19.2 16.5h1.6v1.6h-1.6zM18.9 28.5h1.6v1.6h-1.6zM20.1 16.1h1.6v1.6h-1.6zM20.1 17.3h1.6v1.6h-1.6zM21.5 9.4h1.6v1.6h-1.6zM21.5 25.6h1.6v1.6h-1.6zM22.9 4.3h1.6v1.6h-1.6zM24.2 4.2h1.6v1.6h-1.6zM24.2 5.6h1.6v1.6h-1.6zM24.1 7.9h1.6v1.6h-1.6zM24.4 18.8h1.6v1.6h-1.6zM24.6 23.1h1.6v1.6h-1.6zM24.2 24.0h1.6v1.6h-1.6zM24.4 27.2h1.6v1.6h-1.6zM25.9 2.8h1.6v1.6h-1.6zM25.4 5.7h1.6v1.6h-1.6zM25.4 24.6h1.6v1.6h-1.6zM26.8 1.6h1.6v1.6h-1.6zM27.1 6.9h1.6v1.6h-1.6zM27.3 8.0h1.6v1.6h-1.6zM27.0 13.8h1.6v1.6h-1.6zM27.0 21.5h1.6v1.6h-1.6zM28.6 4.1h1.6v1.6h-1.6zM28.6 6.8h1.6v1.6h-1.6zM28.6 17.7h1.6v1.6h-1.6zM28.4 23.2h1.6v1.6h-1.6z"/>
</pattern>
<pattern id="p_pinkA" width="30" height="30" patternUnits="userSpaceOnUse">
<rect width="30" height="30" fill="#DB72FB"/>
<path fill="#F564E3" d="M-0.1 1.5h1.6v1.6h-1.6zM-0.1 3.8h1.6v1.6h-1.6zM0.3 7.0h1.6v1.6h-1.6zM0.0 12.0h1.6v1.6h-1.6zM-0.3 13.8h1.6v1.6h-1.6zM0.1 15.1h1.6v1.6h-1.6zM0.0 22.8h1.6v1.6h-1.6zM1.4 2.9h1.6v1.6h-1.6zM1.5 6.5h1.6v1.6h-1.6zM1.6 8.0h1.6v1.6h-1.6zM1.5 9.4h1.6v1.6h-1.6zM1.1 12.4h1.6v1.6h-1.6zM1.1 14.9h1.6v1.6h-1.6zM1.1 17.4h1.6v1.6h-1.6zM1.5 19.0h1.6v1.6h-1.6zM1.4 25.4h1.6v1.6h-1.6zM1.6 26.8h1.6v1.6h-1.6zM1.4 28.2h1.6v1.6h-1.6zM2.5 0.2h1.6v1.6h-1.6zM2.8 4.2h1.6v1.6h-1.6zM2.8 8.0h1.6v1.6h-1.6zM2.5 10.8h1.6v1.6h-1.6zM2.6 13.2h1.6v1.6h-1.6zM2.6 14.6h1.6v1.6h-1.6zM2.7 20.0h1.6v1.6h-1.6zM2.7 21.6h1.6v1.6h-1.6zM2.4 25.7h1.6v1.6h-1.6zM2.7 28.1h1.6v1.6h-1.6zM3.9 1.4h1.6v1.6h-1.6zM4.0 6.7h1.6v1.6h-1.6zM4.3 9.6h1.6v1.6h-1.6zM4.0 10.9h1.6v1.6h-1.6zM4.3 12.0h1.6v1.6h-1.6zM4.2 14.7h1.6v1.6h-1.6zM4.3 17.5h1.6v1.6h-1.6zM3.8 18.9h1.6v1.6h-1.6zM4.1 21.3h1.6v1.6h-1.6zM4.0 25.5h1.6v1.6h-1.6zM4.3 28.5h1.6v1.6h-1.6zM5.6 -0.1h1.6v1.6h-1.6zM5.6 2.7h1.6v1.6h-1.6zM5.5 4.0h1.6v1.6h-1.6zM5.6 8.0h1.6v1.6h-1.6zM5.5 9.6h1.6v1.6h-1.6zM5.6 13.2h1.6v1.6h-1.6zM5.2 17.6h1.6v1.6h-1.6zM5.4 20.1h1.6v1.6h-1.6zM5.6 21.8h1.6v1.6h-1.6zM5.5 23.2h1.6v1.6h-1.6zM5.5 24.5h1.6v1.6h-1.6zM5.3 27.0h1.6v1.6h-1.6zM6.9 1.6h1.6v1.6h-1.6zM6.8 7.9h1.6v1.6h-1.6zM7.0 10.8h1.6v1.6h-1.6zM7.0 12.3h1.6v1.6h-1.6zM6.8 13.7h1.6v1.6h-1.6zM6.9 17.3h1.6v1.6h-1.6zM6.9 23.0h1.6v1.6h-1.6zM6.7 24.5h1.6v1.6h-1.6zM6.9 27.2h1.6v1.6h-1.6zM7.9 4.0h1.6v1.6h-1.6zM7.9 5.7h1.6v1.6h-1.6zM8.0 6.5h1.6v1.6h-1.6zM8.1 8.4h1.6v1.6h-1.6zM8.0 10.6h1.6v1.6h-1.6zM7.9 15.0h1.6v1.6h-1.6zM8.2 16.1h1.6v1.6h-1.6zM8.0 19.2h1.6v1.6h-1.6zM8.3 21.5h1.6v1.6h-1.6zM9.5 14.9h1.6v1.6h-1.6zM9.3 21.7h1.6v1.6h-1.6zM9.5 22.7h1.6v1.6h-1.6zM9.3 26.9h1.6v1.6h-1.6zM10.7 -0.1h1.6v1.6h-1.6zM10.9 1.5h1.6v1.6h-1.6zM10.6 2.6h1.6v1.6h-1.6zM10.9 4.3h1.6v1.6h-1.6zM10.9 5.5h1.6v1.6h-1.6zM10.7 8.0h1.6v1.6h-1.6zM10.5 12.3h1.6v1.6h-1.6zM10.6 14.9h1.6v1.6h-1.6zM10.9 16.4h1.6v1.6h-1.6zM10.8 17.5h1.6v1.6h-1.6zM10.5 21.5h1.6v1.6h-1.6zM10.6 23.1h1.6v1.6h-1.6zM10.7 27.0h1.6v1.6h-1.6zM11.1 28.4h1.6v1.6h-1.6zM12.2 3.8h1.6v1.6h-1.6zM12.4 5.4h1.6v1.6h-1.6zM11.9 12.1h1.6v1.6h-1.6zM12.0 14.7h1.6v1.6h-1.6zM12.1 19.1h1.6v1.6h-1.6zM12.0 21.4h1.6v1.6h-1.6zM12.2 24.4h1.6v1.6h-1.6zM11.9 25.9h1.6v1.6h-1.6zM11.9 28.4h1.6v1.6h-1.6zM13.7 5.2h1.6v1.6h-1.6zM13.2 11.0h1.6v1.6h-1.6zM13.8 12.2h1.6v1.6h-1.6zM13.7 19.2h1.6v1.6h-1.6zM13.5 24.2h1.6v1.6h-1.6zM13.2 27.2h1.6v1.6h-1.6zM14.7 1.4h1.6v1.6h-1.6zM15.1 5.3h1.6v1.6h-1.6zM14.7 8.2h1.6v1.6h-1.6zM14.8 14.9h1.6v1.6h-1.6zM15.0 16.2h1.6v1.6h-1.6zM14.9 20.5h1.6v1.6h-1.6zM14.8 24.2h1.6v1.6h-1.6zM14.9 25.5h1.6v1.6h-1.6zM14.9 26.7h1.6v1.6h-1.6zM14.9 28.2h1.6v1.6h-1.6zM16.4 10.9h1.6v1.6h-1.6zM16.3 13.5h1.6v1.6h-1.6zM16.5 14.7h1.6v1.6h-1.6zM15.9 17.8h1.6v1.6h-1.6zM16.5 18.7h1.6v1.6h-1.6zM16.0 22.7h1.6v1.6h-1.6zM16.5 27.1h1.6v1.6h-1.6zM16.2 28.2h1.6v1.6h-1.6zM17.3 5.4h1.6v1.6h-1.6zM17.7 12.3h1.6v1.6h-1.6zM17.3 16.2h1.6v1.6h-1.6zM17.6 23.1h1.6v1.6h-1.6zM17.8 24.1h1.6v1.6h-1.6zM18.8 1.2h1.6v1.6h-1.6zM19.0 3.0h1.6v1.6h-1.6zM18.9 4.1h1.6v1.6h-1.6zM19.1 6.9h1.6v1.6h-1.6zM18.9 9.2h1.6v1.6h-1.6zM18.9 13.6h1.6v1.6h-1.6zM18.9 16.2h1.6v1.6h-1.6zM19.2 18.7h1.6v1.6h-1.6zM19.1 25.4h1.6v1.6h-1.6zM20.1 2.6h1.6v1.6h-1.6zM20.4 4.2h1.6v1.6h-1.6zM20.2 5.2h1.6v1.6h-1.6zM20.4 8.2h1.6v1.6h-1.6zM20.2 9.2h1.6v1.6h-1.6zM20.3 15.1h1.6v1.6h-1.6zM20.4 16.5h1.6v1.6h-1.6zM20.3 18.9h1.6v1.6h-1.6zM20.0 24.2h1.6v1.6h-1.6zM20.4 25.6h1.6v1.6h-1.6zM21.4 3.9h1.6v1.6h-1.6zM21.6 5.4h1.6v1.6h-1.6zM21.5 7.0h1.6v1.6h-1.6zM21.5 9.5h1.6v1.6h-1.6zM21.8 17.3h1.6v1.6h-1.6zM21.5 27.0h1.6v1.6h-1.6zM22.9 0.2h1.6v1.6h-1.6zM23.1 1.2h1.6v1.6h-1.6zM23.0 2.6h1.6v1.6h-1.6zM23.0 9.6h1.6v1.6h-1.6zM22.9 15.1h1.6v1.6h-1.6zM23.0 16.2h1.6v1.6h-1.6zM23.1 20.0h1.6v1.6h-1.6zM23.2 21.7h1.6v1.6h-1.6zM23.1 25.8h1.6v1.6h-1.6zM22.7 26.7h1.6v1.6h-1.6zM23.1 28.3h1.6v1.6h-1.6zM24.2 -0.0h1.6v1.6h-1.6zM24.4 1.4h1.6v1.6h-1.6zM24.5 4.2h1.6v1.6h-1.6zM24.4 5.2h1.6v1.6h-1.6zM24.5 8.1h1.6v1.6h-1.6zM24.3 13.8h1.6v1.6h-1.6zM24.1 23.2h1.6v1.6h-1.6zM24.0 24.5h1.6v1.6h-1.6zM24.1 25.6h1.6v1.6h-1.6zM24.5 26.9h1.6v1.6h-1.6zM24.6 28.6h1.6v1.6h-1.6zM25.8 -0.3h1.6v1.6h-1.6zM25.9 1.3h1.6v1.6h-1.6zM25.6 2.9h1.6v1.6h-1.6zM25.7 5.2h1.6v1.6h-1.6zM25.9 11.1h1.6v1.6h-1.6zM25.4 13.2h1.6v1.6h-1.6zM25.7 17.3h1.6v1.6h-1.6zM25.5 22.7h1.6v1.6h-1.6zM27.0 5.5h1.6v1.6h-1.6zM27.3 6.5h1.6v1.6h-1.6zM27.2 8.2h1.6v1.6h-1.6zM26.7 10.8h1.6v1.6h-1.6zM27.1 12.1h1.6v1.6h-1.6zM27.2 13.3h1.6v1.6h-1.6zM27.2 16.2h1.6v1.6h-1.6zM27.1 28.3h1.6v1.6h-1.6zM28.5 2.6h1.6v1.6h-1.6zM28.1 3.9h1.6v1.6h-1.6zM28.3 8.0h1.6v1.6h-1.6zM28.4 9.6h1.6v1.6h-1.6zM28.5 13.2h1.6v1.6h-1.6zM28.4 17.4h1.6v1.6h-1.6zM28.6 19.1h1.6v1.6h-1.6zM28.2 25.9h1.6v1.6h-1.6z"/>
<path fill="#EA6AF1" d="M0.1 -0.2h1.6v1.6h-1.6zM0.1 9.4h1.6v1.6h-1.6zM0.2 19.0h1.6v1.6h-1.6zM-0.2 28.2h1.6v1.6h-1.6zM1.1 -0.3h1.6v1.6h-1.6zM1.1 4.2h1.6v1.6h-1.6zM1.3 21.7h1.6v1.6h-1.6zM1.6 22.9h1.6v1.6h-1.6zM2.6 2.8h1.6v1.6h-1.6zM2.7 17.3h1.6v1.6h-1.6zM3.9 16.3h1.6v1.6h-1.6zM4.0 23.2h1.6v1.6h-1.6zM4.1 24.3h1.6v1.6h-1.6zM6.8 2.9h1.6v1.6h-1.6zM6.7 18.9h1.6v1.6h-1.6zM6.5 25.5h1.6v1.6h-1.6zM8.0 27.2h1.6v1.6h-1.6zM9.4 0.2h1.6v1.6h-1.6zM9.7 19.1h1.6v1.6h-1.6zM11.1 10.7h1.6v1.6h-1.6zM10.6 25.8h1.6v1.6h-1.6zM12.4 0.3h1.6v1.6h-1.6zM12.1 9.2h1.6v1.6h-1.6zM12.0 26.8h1.6v1.6h-1.6zM13.3 1.3h1.6v1.6h-1.6zM13.3 6.6h1.6v1.6h-1.6zM13.6 17.7h1.6v1.6h-1.6zM14.7 6.9h1.6v1.6h-1.6zM14.7 13.4h1.6v1.6h-1.6zM14.7 17.8h1.6v1.6h-1.6zM16.1 0.0h1.6v1.6h-1.6zM16.1 4.0h1.6v1.6h-1.6zM16.5 9.2h1.6v1.6h-1.6zM16.1 12.4h1.6v1.6h-1.6zM18.8 5.6h1.6v1.6h-1.6zM18.8 11.9h1.6v1.6h-1.6zM20.0 1.3h1.6v1.6h-1.6zM20.4 23.2h1.6v1.6h-1.6zM21.9 23.1h1.6v1.6h-1.6zM21.6 24.4h1.6v1.6h-1.6zM22.7 13.3h1.6v1.6h-1.6zM22.7 18.9h1.6v1.6h-1.6zM22.7 24.0h1.6v1.6h-1.6zM24.6 6.6h1.6v1.6h-1.6zM24.4 16.2h1.6v1.6h-1.6zM25.8 16.2h1.6v1.6h-1.6zM25.4 20.4h1.6v1.6h-1.6zM25.4 27.0h1.6v1.6h-1.6zM26.8 4.2h1.6v1.6h-1.6zM26.7 9.5h1.6v1.6h-1.6zM27.3 17.6h1.6v1.6h-1.6zM28.6 1.5h1.6v1.6h-1.6zM28.2 10.8h1.6v1.6h-1.6zM28.6 28.4h1.6v1.6h-1.6z"/>
</pattern>
<pattern id="p_pink" width="30" height="30" patternUnits="userSpaceOnUse">
<rect width="30" height="30" fill="#F564E3"/>
<path fill="#FC61D4" d="M0.2 1.1h1.6v1.6h-1.6zM-0.2 2.6h1.6v1.6h-1.6zM0.3 6.8h1.6v1.6h-1.6zM-0.1 10.7h1.6v1.6h-1.6zM0.1 12.1h1.6v1.6h-1.6zM-0.2 13.3h1.6v1.6h-1.6zM-0.0 15.0h1.6v1.6h-1.6zM0.1 16.0h1.6v1.6h-1.6zM-0.2 17.3h1.6v1.6h-1.6zM-0.1 24.6h1.6v1.6h-1.6zM0.2 27.1h1.6v1.6h-1.6zM-0.2 28.6h1.6v1.6h-1.6zM1.3 9.7h1.6v1.6h-1.6zM1.4 11.0h1.6v1.6h-1.6zM1.4 13.2h1.6v1.6h-1.6zM1.3 16.0h1.6v1.6h-1.6zM1.1 24.3h1.6v1.6h-1.6zM1.6 28.4h1.6v1.6h-1.6zM3.0 2.8h1.6v1.6h-1.6zM2.9 8.0h1.6v1.6h-1.6zM2.4 11.9h1.6v1.6h-1.6zM3.0 14.7h1.6v1.6h-1.6zM2.8 21.7h1.6v1.6h-1.6zM2.5 23.2h1.6v1.6h-1.6zM2.5 26.7h1.6v1.6h-1.6zM2.5 28.6h1.6v1.6h-1.6zM4.0 0.3h1.6v1.6h-1.6zM3.8 12.2h1.6v1.6h-1.6zM3.8 13.8h1.6v1.6h-1.6zM4.0 22.9h1.6v1.6h-1.6zM4.1 25.6h1.6v1.6h-1.6zM4.0 27.3h1.6v1.6h-1.6zM5.6 1.1h1.6v1.6h-1.6zM5.5 4.1h1.6v1.6h-1.6zM5.6 5.4h1.6v1.6h-1.6zM5.6 10.7h1.6v1.6h-1.6zM5.1 16.3h1.6v1.6h-1.6zM5.2 21.7h1.6v1.6h-1.6zM5.4 28.5h1.6v1.6h-1.6zM6.7 5.3h1.6v1.6h-1.6zM6.9 7.0h1.6v1.6h-1.6zM6.9 13.6h1.6v1.6h-1.6zM6.9 16.4h1.6v1.6h-1.6zM6.7 20.0h1.6v1.6h-1.6zM6.5 22.9h1.6v1.6h-1.6zM6.5 28.2h1.6v1.6h-1.6zM8.2 0.0h1.6v1.6h-1.6zM7.9 10.5h1.6v1.6h-1.6zM8.4 17.3h1.6v1.6h-1.6zM8.1 27.2h1.6v1.6h-1.6zM9.2 2.9h1.6v1.6h-1.6zM9.6 7.9h1.6v1.6h-1.6zM9.4 15.9h1.6v1.6h-1.6zM9.5 18.8h1.6v1.6h-1.6zM9.3 20.4h1.6v1.6h-1.6zM9.4 24.2h1.6v1.6h-1.6zM11.0 2.8h1.6v1.6h-1.6zM10.9 13.5h1.6v1.6h-1.6zM11.0 14.6h1.6v1.6h-1.6zM11.1 16.4h1.6v1.6h-1.6zM10.8 27.2h1.6v1.6h-1.6zM12.1 1.3h1.6v1.6h-1.6zM12.2 15.0h1.6v1.6h-1.6zM12.1 16.2h1.6v1.6h-1.6zM12.1 21.5h1.6v1.6h-1.6zM12.0 23.1h1.6v1.6h-1.6zM12.3 24.1h1.6v1.6h-1.6zM12.2 26.9h1.6v1.6h-1.6zM13.8 1.2h1.6v1.6h-1.6zM13.5 14.6h1.6v1.6h-1.6zM13.3 19.1h1.6v1.6h-1.6zM13.7 21.6h1.6v1.6h-1.6zM13.6 25.8h1.6v1.6h-1.6zM15.1 5.5h1.6v1.6h-1.6zM15.1 16.3h1.6v1.6h-1.6zM16.4 6.6h1.6v1.6h-1.6zM16.2 13.3h1.6v1.6h-1.6zM16.5 17.4h1.6v1.6h-1.6zM16.2 26.8h1.6v1.6h-1.6zM17.4 -0.2h1.6v1.6h-1.6zM17.3 3.9h1.6v1.6h-1.6zM17.8 6.8h1.6v1.6h-1.6zM17.3 18.8h1.6v1.6h-1.6zM17.4 25.8h1.6v1.6h-1.6zM17.7 28.5h1.6v1.6h-1.6zM18.8 0.2h1.6v1.6h-1.6zM19.0 5.4h1.6v1.6h-1.6zM19.2 10.6h1.6v1.6h-1.6zM18.9 14.9h1.6v1.6h-1.6zM19.1 21.5h1.6v1.6h-1.6zM18.7 25.6h1.6v1.6h-1.6zM20.5 0.0h1.6v1.6h-1.6zM20.1 1.6h1.6v1.6h-1.6zM20.0 2.4h1.6v1.6h-1.6zM20.2 9.5h1.6v1.6h-1.6zM20.2 20.0h1.6v1.6h-1.6zM21.7 6.7h1.6v1.6h-1.6zM21.8 13.6h1.6v1.6h-1.6zM21.5 17.8h1.6v1.6h-1.6zM21.4 20.3h1.6v1.6h-1.6zM22.8 3.8h1.6v1.6h-1.6zM22.7 7.8h1.6v1.6h-1.6zM23.1 12.2h1.6v1.6h-1.6zM22.7 16.5h1.6v1.6h-1.6zM23.1 17.3h1.6v1.6h-1.6zM23.1 19.2h1.6v1.6h-1.6zM22.9 23.1h1.6v1.6h-1.6zM22.8 24.3h1.6v1.6h-1.6zM23.2 25.5h1.6v1.6h-1.6zM24.4 2.7h1.6v1.6h-1.6zM24.0 8.0h1.6v1.6h-1.6zM24.1 14.9h1.6v1.6h-1.6zM24.2 18.8h1.6v1.6h-1.6zM24.3 21.7h1.6v1.6h-1.6zM25.6 2.7h1.6v1.6h-1.6zM25.6 9.3h1.6v1.6h-1.6zM25.4 11.0h1.6v1.6h-1.6zM25.5 12.0h1.6v1.6h-1.6zM25.5 19.0h1.6v1.6h-1.6zM25.8 28.1h1.6v1.6h-1.6zM27.2 2.9h1.6v1.6h-1.6zM27.2 7.0h1.6v1.6h-1.6zM27.3 16.4h1.6v1.6h-1.6zM27.2 18.9h1.6v1.6h-1.6zM26.9 24.2h1.6v1.6h-1.6zM27.1 25.4h1.6v1.6h-1.6zM26.8 27.0h1.6v1.6h-1.6zM28.4 -0.0h1.6v1.6h-1.6zM28.6 1.3h1.6v1.6h-1.6zM28.1 3.0h1.6v1.6h-1.6zM28.3 5.2h1.6v1.6h-1.6zM28.2 20.1h1.6v1.6h-1.6zM28.6 21.6h1.6v1.6h-1.6zM28.1 23.0h1.6v1.6h-1.6zM28.1 24.5h1.6v1.6h-1.6zM28.6 28.3h1.6v1.6h-1.6z"/>
<path fill="#EA6AF1" d="M-0.1 7.9h1.6v1.6h-1.6zM1.6 -0.3h1.6v1.6h-1.6zM1.2 14.9h1.6v1.6h-1.6zM1.6 17.5h1.6v1.6h-1.6zM1.5 22.7h1.6v1.6h-1.6zM1.1 25.7h1.6v1.6h-1.6zM1.1 27.0h1.6v1.6h-1.6zM4.1 5.3h1.6v1.6h-1.6zM4.1 10.9h1.6v1.6h-1.6zM4.0 17.7h1.6v1.6h-1.6zM3.8 18.8h1.6v1.6h-1.6zM5.1 13.4h1.6v1.6h-1.6zM6.6 4.1h1.6v1.6h-1.6zM8.1 3.9h1.6v1.6h-1.6zM8.2 9.2h1.6v1.6h-1.6zM8.0 15.9h1.6v1.6h-1.6zM8.3 25.5h1.6v1.6h-1.6zM9.6 0.1h1.6v1.6h-1.6zM9.2 10.7h1.6v1.6h-1.6zM9.6 12.2h1.6v1.6h-1.6zM9.2 17.5h1.6v1.6h-1.6zM9.7 22.8h1.6v1.6h-1.6zM11.1 4.3h1.6v1.6h-1.6zM10.5 11.1h1.6v1.6h-1.6zM10.7 25.5h1.6v1.6h-1.6zM12.1 0.2h1.6v1.6h-1.6zM12.0 6.6h1.6v1.6h-1.6zM11.9 10.7h1.6v1.6h-1.6zM12.3 20.0h1.6v1.6h-1.6zM12.2 28.6h1.6v1.6h-1.6zM13.8 17.3h1.6v1.6h-1.6zM14.6 9.2h1.6v1.6h-1.6zM14.7 11.1h1.6v1.6h-1.6zM14.8 21.4h1.6v1.6h-1.6zM14.9 27.0h1.6v1.6h-1.6zM14.7 28.2h1.6v1.6h-1.6zM16.0 0.1h1.6v1.6h-1.6zM16.3 3.9h1.6v1.6h-1.6zM16.2 28.5h1.6v1.6h-1.6zM17.4 20.5h1.6v1.6h-1.6zM17.8 23.2h1.6v1.6h-1.6zM17.8 24.3h1.6v1.6h-1.6zM19.0 1.5h1.6v1.6h-1.6zM18.8 12.4h1.6v1.6h-1.6zM18.6 19.0h1.6v1.6h-1.6zM19.0 20.3h1.6v1.6h-1.6zM20.5 13.5h1.6v1.6h-1.6zM20.4 14.8h1.6v1.6h-1.6zM20.0 17.5h1.6v1.6h-1.6zM20.3 25.9h1.6v1.6h-1.6zM21.7 7.8h1.6v1.6h-1.6zM21.6 14.6h1.6v1.6h-1.6zM21.9 25.7h1.6v1.6h-1.6zM23.2 1.1h1.6v1.6h-1.6zM23.2 13.5h1.6v1.6h-1.6zM24.4 11.9h1.6v1.6h-1.6zM27.3 4.1h1.6v1.6h-1.6zM28.5 12.4h1.6v1.6h-1.6z"/>
</pattern>
<pattern id="p_fungiR" width="30" height="30" patternUnits="userSpaceOnUse">
<rect width="30" height="30" fill="#7CAE00"/>
<path fill="#5EB300" d="M-0.3 15.1h1.6v1.6h-1.6zM0.0 15.9h1.6v1.6h-1.6zM-0.0 18.7h1.6v1.6h-1.6zM0.2 21.9h1.6v1.6h-1.6zM-0.0 23.2h1.6v1.6h-1.6zM0.0 27.2h1.6v1.6h-1.6zM-0.1 28.6h1.6v1.6h-1.6zM1.1 1.1h1.6v1.6h-1.6zM1.3 5.4h1.6v1.6h-1.6zM1.3 20.1h1.6v1.6h-1.6zM1.3 21.3h1.6v1.6h-1.6zM2.8 6.7h1.6v1.6h-1.6zM2.9 9.2h1.6v1.6h-1.6zM2.4 14.8h1.6v1.6h-1.6zM2.4 16.2h1.6v1.6h-1.6zM2.8 18.8h1.6v1.6h-1.6zM4.3 0.3h1.6v1.6h-1.6zM4.0 9.6h1.6v1.6h-1.6zM4.1 17.4h1.6v1.6h-1.6zM3.8 20.3h1.6v1.6h-1.6zM4.1 21.7h1.6v1.6h-1.6zM3.8 22.8h1.6v1.6h-1.6zM4.3 25.6h1.6v1.6h-1.6zM3.8 26.9h1.6v1.6h-1.6zM5.2 3.8h1.6v1.6h-1.6zM5.5 6.5h1.6v1.6h-1.6zM5.6 12.0h1.6v1.6h-1.6zM5.5 13.4h1.6v1.6h-1.6zM5.6 14.9h1.6v1.6h-1.6zM5.7 21.8h1.6v1.6h-1.6zM5.4 22.7h1.6v1.6h-1.6zM5.2 25.9h1.6v1.6h-1.6zM5.5 26.9h1.6v1.6h-1.6zM5.7 28.2h1.6v1.6h-1.6zM6.9 1.3h1.6v1.6h-1.6zM6.8 2.5h1.6v1.6h-1.6zM6.9 22.7h1.6v1.6h-1.6zM6.9 25.9h1.6v1.6h-1.6zM8.3 1.2h1.6v1.6h-1.6zM8.3 2.4h1.6v1.6h-1.6zM7.9 9.5h1.6v1.6h-1.6zM8.3 14.7h1.6v1.6h-1.6zM9.5 2.7h1.6v1.6h-1.6zM9.3 4.1h1.6v1.6h-1.6zM9.3 6.8h1.6v1.6h-1.6zM9.2 7.9h1.6v1.6h-1.6zM9.3 10.7h1.6v1.6h-1.6zM9.3 13.2h1.6v1.6h-1.6zM9.7 16.0h1.6v1.6h-1.6zM9.6 17.3h1.6v1.6h-1.6zM9.4 21.4h1.6v1.6h-1.6zM9.6 25.9h1.6v1.6h-1.6zM11.1 0.3h1.6v1.6h-1.6zM10.8 1.3h1.6v1.6h-1.6zM10.8 9.6h1.6v1.6h-1.6zM10.8 14.6h1.6v1.6h-1.6zM11.0 18.8h1.6v1.6h-1.6zM10.9 20.5h1.6v1.6h-1.6zM10.5 26.8h1.6v1.6h-1.6zM10.6 28.1h1.6v1.6h-1.6zM12.4 -0.0h1.6v1.6h-1.6zM12.2 1.6h1.6v1.6h-1.6zM12.0 5.4h1.6v1.6h-1.6zM12.2 6.6h1.6v1.6h-1.6zM12.0 13.6h1.6v1.6h-1.6zM12.1 18.9h1.6v1.6h-1.6zM12.4 20.0h1.6v1.6h-1.6zM12.4 28.2h1.6v1.6h-1.6zM13.4 2.5h1.6v1.6h-1.6zM13.5 14.6h1.6v1.6h-1.6zM13.4 24.5h1.6v1.6h-1.6zM14.9 4.0h1.6v1.6h-1.6zM14.8 5.3h1.6v1.6h-1.6zM15.0 13.7h1.6v1.6h-1.6zM14.6 17.8h1.6v1.6h-1.6zM14.6 20.3h1.6v1.6h-1.6zM14.8 21.5h1.6v1.6h-1.6zM15.1 22.7h1.6v1.6h-1.6zM16.4 0.2h1.6v1.6h-1.6zM16.5 2.5h1.6v1.6h-1.6zM16.4 24.0h1.6v1.6h-1.6zM16.4 25.7h1.6v1.6h-1.6zM17.6 1.1h1.6v1.6h-1.6zM17.7 2.7h1.6v1.6h-1.6zM17.7 9.5h1.6v1.6h-1.6zM17.6 12.3h1.6v1.6h-1.6zM17.4 14.8h1.6v1.6h-1.6zM17.4 17.7h1.6v1.6h-1.6zM17.7 19.0h1.6v1.6h-1.6zM17.7 21.6h1.6v1.6h-1.6zM17.4 22.7h1.6v1.6h-1.6zM19.1 5.2h1.6v1.6h-1.6zM18.6 11.0h1.6v1.6h-1.6zM18.7 11.9h1.6v1.6h-1.6zM19.0 24.2h1.6v1.6h-1.6zM20.1 0.1h1.6v1.6h-1.6zM20.5 1.5h1.6v1.6h-1.6zM20.3 2.4h1.6v1.6h-1.6zM20.4 14.6h1.6v1.6h-1.6zM20.4 16.5h1.6v1.6h-1.6zM20.1 24.3h1.6v1.6h-1.6zM21.4 -0.0h1.6v1.6h-1.6zM21.9 1.2h1.6v1.6h-1.6zM21.7 7.0h1.6v1.6h-1.6zM21.4 10.7h1.6v1.6h-1.6zM21.8 12.0h1.6v1.6h-1.6zM21.7 15.9h1.6v1.6h-1.6zM21.3 20.5h1.6v1.6h-1.6zM21.7 22.9h1.6v1.6h-1.6zM21.5 24.4h1.6v1.6h-1.6zM22.9 2.4h1.6v1.6h-1.6zM22.8 8.4h1.6v1.6h-1.6zM22.8 9.4h1.6v1.6h-1.6zM22.7 11.0h1.6v1.6h-1.6zM23.0 13.7h1.6v1.6h-1.6zM22.8 17.4h1.6v1.6h-1.6zM23.0 20.0h1.6v1.6h-1.6zM22.7 21.3h1.6v1.6h-1.6zM24.1 0.0h1.6v1.6h-1.6zM24.2 1.4h1.6v1.6h-1.6zM24.0 4.3h1.6v1.6h-1.6zM24.5 8.3h1.6v1.6h-1.6zM24.1 14.9h1.6v1.6h-1.6zM24.1 17.5h1.6v1.6h-1.6zM24.4 18.7h1.6v1.6h-1.6zM24.2 20.5h1.6v1.6h-1.6zM24.3 23.0h1.6v1.6h-1.6zM24.3 24.5h1.6v1.6h-1.6zM24.2 25.5h1.6v1.6h-1.6zM24.3 26.8h1.6v1.6h-1.6zM25.4 1.3h1.6v1.6h-1.6zM25.4 9.6h1.6v1.6h-1.6zM25.5 12.2h1.6v1.6h-1.6zM25.6 17.6h1.6v1.6h-1.6zM25.6 18.7h1.6v1.6h-1.6zM25.6 20.3h1.6v1.6h-1.6zM25.8 24.4h1.6v1.6h-1.6zM25.8 27.2h1.6v1.6h-1.6zM26.8 1.4h1.6v1.6h-1.6zM27.2 4.2h1.6v1.6h-1.6zM26.8 6.7h1.6v1.6h-1.6zM26.9 8.4h1.6v1.6h-1.6zM27.0 12.3h1.6v1.6h-1.6zM27.2 13.7h1.6v1.6h-1.6zM26.9 16.5h1.6v1.6h-1.6zM27.1 21.3h1.6v1.6h-1.6zM26.8 24.1h1.6v1.6h-1.6zM28.3 7.0h1.6v1.6h-1.6zM28.1 12.3h1.6v1.6h-1.6zM28.2 13.8h1.6v1.6h-1.6zM28.1 18.9h1.6v1.6h-1.6zM28.3 21.4h1.6v1.6h-1.6zM28.3 28.4h1.6v1.6h-1.6z"/>
<path fill="#93AA00" d="M0.1 4.0h1.6v1.6h-1.6zM-0.1 17.4h1.6v1.6h-1.6zM1.2 6.5h1.6v1.6h-1.6zM1.6 8.4h1.6v1.6h-1.6zM1.4 9.2h1.6v1.6h-1.6zM1.6 10.7h1.6v1.6h-1.6zM1.6 27.0h1.6v1.6h-1.6zM1.3 28.6h1.6v1.6h-1.6zM2.9 4.3h1.6v1.6h-1.6zM2.5 5.1h1.6v1.6h-1.6zM3.0 17.7h1.6v1.6h-1.6zM2.6 27.0h1.6v1.6h-1.6zM4.2 6.8h1.6v1.6h-1.6zM5.5 0.2h1.6v1.6h-1.6zM5.3 1.6h1.6v1.6h-1.6zM5.5 9.6h1.6v1.6h-1.6zM5.2 10.5h1.6v1.6h-1.6zM5.4 24.4h1.6v1.6h-1.6zM6.7 9.3h1.6v1.6h-1.6zM6.5 21.6h1.6v1.6h-1.6zM7.8 10.6h1.6v1.6h-1.6zM8.3 21.7h1.6v1.6h-1.6zM7.9 26.8h1.6v1.6h-1.6zM9.5 12.0h1.6v1.6h-1.6zM9.7 18.6h1.6v1.6h-1.6zM9.7 24.3h1.6v1.6h-1.6zM10.9 3.0h1.6v1.6h-1.6zM11.0 12.0h1.6v1.6h-1.6zM11.0 13.7h1.6v1.6h-1.6zM10.5 21.7h1.6v1.6h-1.6zM10.5 24.2h1.6v1.6h-1.6zM12.1 8.1h1.6v1.6h-1.6zM12.1 16.0h1.6v1.6h-1.6zM12.0 17.8h1.6v1.6h-1.6zM13.5 5.7h1.6v1.6h-1.6zM13.3 9.5h1.6v1.6h-1.6zM13.7 17.6h1.6v1.6h-1.6zM13.6 25.5h1.6v1.6h-1.6zM14.6 16.4h1.6v1.6h-1.6zM16.0 5.3h1.6v1.6h-1.6zM16.4 6.6h1.6v1.6h-1.6zM16.1 9.6h1.6v1.6h-1.6zM16.3 13.5h1.6v1.6h-1.6zM16.4 15.1h1.6v1.6h-1.6zM16.0 26.7h1.6v1.6h-1.6zM17.6 6.5h1.6v1.6h-1.6zM17.8 13.4h1.6v1.6h-1.6zM17.8 28.5h1.6v1.6h-1.6zM20.3 4.1h1.6v1.6h-1.6zM20.2 9.4h1.6v1.6h-1.6zM20.2 10.7h1.6v1.6h-1.6zM20.1 20.5h1.6v1.6h-1.6zM20.4 21.5h1.6v1.6h-1.6zM20.3 25.7h1.6v1.6h-1.6zM21.7 2.4h1.6v1.6h-1.6zM22.7 1.3h1.6v1.6h-1.6zM24.6 5.5h1.6v1.6h-1.6zM25.6 -0.1h1.6v1.6h-1.6zM25.4 2.5h1.6v1.6h-1.6zM25.9 13.4h1.6v1.6h-1.6zM27.0 -0.1h1.6v1.6h-1.6zM27.0 9.2h1.6v1.6h-1.6zM27.0 15.0h1.6v1.6h-1.6zM28.1 2.5h1.6v1.6h-1.6zM28.3 14.6h1.6v1.6h-1.6z"/>
</pattern>
<pattern id="p_fungiRlow" width="30" height="30" patternUnits="userSpaceOnUse">
<rect width="30" height="30" fill="#C69900"/>
<path fill="#B79F00" d="M-0.1 4.3h1.6v1.6h-1.6zM0.1 16.2h1.6v1.6h-1.6zM-0.3 17.6h1.6v1.6h-1.6zM0.2 19.1h1.6v1.6h-1.6zM-0.1 21.4h1.6v1.6h-1.6zM-0.1 24.1h1.6v1.6h-1.6zM0.2 25.4h1.6v1.6h-1.6zM0.2 28.6h1.6v1.6h-1.6zM1.4 0.1h1.6v1.6h-1.6zM1.1 2.9h1.6v1.6h-1.6zM1.1 5.6h1.6v1.6h-1.6zM1.4 10.7h1.6v1.6h-1.6zM1.1 19.1h1.6v1.6h-1.6zM1.5 20.0h1.6v1.6h-1.6zM1.6 23.1h1.6v1.6h-1.6zM1.1 25.5h1.6v1.6h-1.6zM1.3 28.2h1.6v1.6h-1.6zM2.6 -0.1h1.6v1.6h-1.6zM2.4 4.1h1.6v1.6h-1.6zM2.5 6.7h1.6v1.6h-1.6zM3.0 7.9h1.6v1.6h-1.6zM2.8 9.2h1.6v1.6h-1.6zM3.0 19.1h1.6v1.6h-1.6zM2.7 22.7h1.6v1.6h-1.6zM3.0 24.3h1.6v1.6h-1.6zM3.0 28.4h1.6v1.6h-1.6zM4.1 1.4h1.6v1.6h-1.6zM3.9 5.1h1.6v1.6h-1.6zM3.8 9.7h1.6v1.6h-1.6zM3.8 10.9h1.6v1.6h-1.6zM3.9 13.3h1.6v1.6h-1.6zM4.3 16.3h1.6v1.6h-1.6zM4.2 17.7h1.6v1.6h-1.6zM3.8 21.4h1.6v1.6h-1.6zM4.0 24.2h1.6v1.6h-1.6zM4.2 27.1h1.6v1.6h-1.6zM5.4 -0.1h1.6v1.6h-1.6zM5.3 3.8h1.6v1.6h-1.6zM5.6 5.6h1.6v1.6h-1.6zM5.4 6.5h1.6v1.6h-1.6zM5.3 8.3h1.6v1.6h-1.6zM5.3 13.4h1.6v1.6h-1.6zM5.1 17.5h1.6v1.6h-1.6zM5.4 18.6h1.6v1.6h-1.6zM5.6 20.2h1.6v1.6h-1.6zM5.6 23.1h1.6v1.6h-1.6zM5.2 28.4h1.6v1.6h-1.6zM6.8 2.6h1.6v1.6h-1.6zM7.0 4.2h1.6v1.6h-1.6zM6.8 11.9h1.6v1.6h-1.6zM7.0 16.3h1.6v1.6h-1.6zM7.0 25.4h1.6v1.6h-1.6zM7.0 26.7h1.6v1.6h-1.6zM7.0 28.4h1.6v1.6h-1.6zM8.1 1.1h1.6v1.6h-1.6zM8.1 9.5h1.6v1.6h-1.6zM8.0 16.0h1.6v1.6h-1.6zM8.2 17.3h1.6v1.6h-1.6zM8.0 20.5h1.6v1.6h-1.6zM8.3 21.4h1.6v1.6h-1.6zM8.0 22.7h1.6v1.6h-1.6zM9.4 0.1h1.6v1.6h-1.6zM9.3 1.2h1.6v1.6h-1.6zM9.2 4.3h1.6v1.6h-1.6zM9.6 6.9h1.6v1.6h-1.6zM9.2 9.5h1.6v1.6h-1.6zM9.3 10.7h1.6v1.6h-1.6zM9.6 20.0h1.6v1.6h-1.6zM9.2 24.1h1.6v1.6h-1.6zM9.4 25.9h1.6v1.6h-1.6zM9.6 27.2h1.6v1.6h-1.6zM10.6 1.2h1.6v1.6h-1.6zM10.9 3.9h1.6v1.6h-1.6zM10.9 8.4h1.6v1.6h-1.6zM11.0 9.6h1.6v1.6h-1.6zM10.8 11.1h1.6v1.6h-1.6zM10.8 12.2h1.6v1.6h-1.6zM11.0 16.3h1.6v1.6h-1.6zM10.5 28.6h1.6v1.6h-1.6zM12.0 -0.0h1.6v1.6h-1.6zM11.9 1.2h1.6v1.6h-1.6zM12.3 4.2h1.6v1.6h-1.6zM12.1 13.4h1.6v1.6h-1.6zM12.4 16.3h1.6v1.6h-1.6zM12.4 18.9h1.6v1.6h-1.6zM12.3 21.9h1.6v1.6h-1.6zM12.0 22.8h1.6v1.6h-1.6zM12.4 28.5h1.6v1.6h-1.6zM13.6 -0.0h1.6v1.6h-1.6zM13.5 1.6h1.6v1.6h-1.6zM13.4 16.3h1.6v1.6h-1.6zM13.6 17.7h1.6v1.6h-1.6zM13.2 21.5h1.6v1.6h-1.6zM13.5 25.6h1.6v1.6h-1.6zM13.3 26.7h1.6v1.6h-1.6zM14.9 -0.2h1.6v1.6h-1.6zM14.6 2.8h1.6v1.6h-1.6zM14.9 7.8h1.6v1.6h-1.6zM15.1 13.3h1.6v1.6h-1.6zM15.1 16.4h1.6v1.6h-1.6zM14.6 17.7h1.6v1.6h-1.6zM14.6 18.8h1.6v1.6h-1.6zM14.7 20.0h1.6v1.6h-1.6zM14.7 25.7h1.6v1.6h-1.6zM15.1 28.1h1.6v1.6h-1.6zM16.4 0.2h1.6v1.6h-1.6zM16.3 5.2h1.6v1.6h-1.6zM16.4 8.2h1.6v1.6h-1.6zM16.1 9.7h1.6v1.6h-1.6zM16.3 10.7h1.6v1.6h-1.6zM16.1 12.1h1.6v1.6h-1.6zM16.0 17.7h1.6v1.6h-1.6zM16.5 21.7h1.6v1.6h-1.6zM16.4 26.7h1.6v1.6h-1.6zM17.8 1.1h1.6v1.6h-1.6zM17.5 2.7h1.6v1.6h-1.6zM17.8 4.3h1.6v1.6h-1.6zM17.6 6.8h1.6v1.6h-1.6zM17.4 16.1h1.6v1.6h-1.6zM17.4 18.6h1.6v1.6h-1.6zM17.4 28.4h1.6v1.6h-1.6zM19.1 -0.0h1.6v1.6h-1.6zM18.7 1.4h1.6v1.6h-1.6zM18.8 8.4h1.6v1.6h-1.6zM19.1 9.3h1.6v1.6h-1.6zM18.6 12.3h1.6v1.6h-1.6zM18.9 15.1h1.6v1.6h-1.6zM18.6 18.9h1.6v1.6h-1.6zM19.0 21.7h1.6v1.6h-1.6zM19.1 24.2h1.6v1.6h-1.6zM19.1 25.6h1.6v1.6h-1.6zM19.0 27.1h1.6v1.6h-1.6zM18.6 28.5h1.6v1.6h-1.6zM20.2 1.4h1.6v1.6h-1.6zM20.1 2.7h1.6v1.6h-1.6zM20.3 4.1h1.6v1.6h-1.6zM20.5 5.1h1.6v1.6h-1.6zM20.0 8.3h1.6v1.6h-1.6zM20.4 12.3h1.6v1.6h-1.6zM20.4 13.8h1.6v1.6h-1.6zM20.0 14.6h1.6v1.6h-1.6zM20.2 16.1h1.6v1.6h-1.6zM20.2 21.9h1.6v1.6h-1.6zM21.5 2.6h1.6v1.6h-1.6zM21.5 7.0h1.6v1.6h-1.6zM21.3 9.7h1.6v1.6h-1.6zM21.6 10.9h1.6v1.6h-1.6zM21.8 12.2h1.6v1.6h-1.6zM21.7 20.2h1.6v1.6h-1.6zM21.9 22.8h1.6v1.6h-1.6zM21.8 25.8h1.6v1.6h-1.6zM22.8 1.4h1.6v1.6h-1.6zM23.0 6.7h1.6v1.6h-1.6zM22.8 9.5h1.6v1.6h-1.6zM23.1 11.9h1.6v1.6h-1.6zM23.2 14.8h1.6v1.6h-1.6zM23.0 16.4h1.6v1.6h-1.6zM23.0 20.5h1.6v1.6h-1.6zM22.8 24.3h1.6v1.6h-1.6zM23.1 25.5h1.6v1.6h-1.6zM24.0 4.0h1.6v1.6h-1.6zM24.5 7.8h1.6v1.6h-1.6zM24.0 9.2h1.6v1.6h-1.6zM24.0 12.3h1.6v1.6h-1.6zM24.5 14.8h1.6v1.6h-1.6zM24.3 16.0h1.6v1.6h-1.6zM24.4 17.3h1.6v1.6h-1.6zM24.2 22.9h1.6v1.6h-1.6zM24.5 25.9h1.6v1.6h-1.6zM25.7 1.1h1.6v1.6h-1.6zM25.5 8.0h1.6v1.6h-1.6zM25.7 10.6h1.6v1.6h-1.6zM25.6 11.9h1.6v1.6h-1.6zM27.2 -0.1h1.6v1.6h-1.6zM27.1 1.1h1.6v1.6h-1.6zM26.8 6.6h1.6v1.6h-1.6zM27.2 11.0h1.6v1.6h-1.6zM27.0 12.2h1.6v1.6h-1.6zM26.8 15.1h1.6v1.6h-1.6zM27.1 16.2h1.6v1.6h-1.6zM27.0 17.6h1.6v1.6h-1.6zM26.9 20.5h1.6v1.6h-1.6zM27.3 23.2h1.6v1.6h-1.6zM27.1 28.2h1.6v1.6h-1.6zM28.2 0.2h1.6v1.6h-1.6zM28.1 4.2h1.6v1.6h-1.6zM28.1 5.2h1.6v1.6h-1.6zM28.4 9.7h1.6v1.6h-1.6zM28.5 12.4h1.6v1.6h-1.6zM28.1 20.3h1.6v1.6h-1.6zM28.3 22.9h1.6v1.6h-1.6zM28.5 27.1h1.6v1.6h-1.6z"/>
<path fill="#7CAE00" d="M-0.1 13.7h1.6v1.6h-1.6zM-0.0 15.0h1.6v1.6h-1.6zM-0.1 27.0h1.6v1.6h-1.6zM1.2 17.6h1.6v1.6h-1.6zM3.8 28.5h1.6v1.6h-1.6zM5.6 1.6h1.6v1.6h-1.6zM6.7 13.7h1.6v1.6h-1.6zM6.6 18.8h1.6v1.6h-1.6zM6.7 22.7h1.6v1.6h-1.6zM8.2 -0.2h1.6v1.6h-1.6zM7.8 5.6h1.6v1.6h-1.6zM8.1 15.1h1.6v1.6h-1.6zM8.0 28.2h1.6v1.6h-1.6zM9.4 8.2h1.6v1.6h-1.6zM9.7 21.6h1.6v1.6h-1.6zM10.6 5.2h1.6v1.6h-1.6zM10.7 21.5h1.6v1.6h-1.6zM12.4 24.4h1.6v1.6h-1.6zM13.6 5.4h1.6v1.6h-1.6zM13.3 18.8h1.6v1.6h-1.6zM13.4 22.9h1.6v1.6h-1.6zM13.7 28.5h1.6v1.6h-1.6zM15.0 5.3h1.6v1.6h-1.6zM14.8 26.9h1.6v1.6h-1.6zM16.1 2.6h1.6v1.6h-1.6zM16.2 13.3h1.6v1.6h-1.6zM17.6 5.7h1.6v1.6h-1.6zM17.4 15.1h1.6v1.6h-1.6zM17.4 23.1h1.6v1.6h-1.6zM18.7 2.4h1.6v1.6h-1.6zM19.2 17.5h1.6v1.6h-1.6zM18.6 22.9h1.6v1.6h-1.6zM20.1 17.5h1.6v1.6h-1.6zM20.4 19.0h1.6v1.6h-1.6zM20.4 27.1h1.6v1.6h-1.6zM21.7 8.2h1.6v1.6h-1.6zM22.7 4.1h1.6v1.6h-1.6zM22.9 8.2h1.6v1.6h-1.6zM23.2 10.8h1.6v1.6h-1.6zM22.8 17.5h1.6v1.6h-1.6zM24.3 2.9h1.6v1.6h-1.6zM24.1 10.9h1.6v1.6h-1.6zM25.5 4.1h1.6v1.6h-1.6zM25.4 5.7h1.6v1.6h-1.6zM25.8 15.1h1.6v1.6h-1.6zM25.4 21.7h1.6v1.6h-1.6zM25.8 25.9h1.6v1.6h-1.6zM26.8 2.8h1.6v1.6h-1.6zM28.3 2.9h1.6v1.6h-1.6zM28.4 13.4h1.6v1.6h-1.6zM28.6 21.8h1.6v1.6h-1.6zM28.3 25.4h1.6v1.6h-1.6z"/>
</pattern>
<pattern id="p_fungiBot" width="30" height="30" patternUnits="userSpaceOnUse">
<rect width="30" height="30" fill="#C69900"/>
<path fill="#7CAE00" d="M0.0 -0.2h1.6v1.6h-1.6zM-0.0 6.9h1.6v1.6h-1.6zM0.0 10.6h1.6v1.6h-1.6zM0.2 22.8h1.6v1.6h-1.6zM-0.2 27.0h1.6v1.6h-1.6zM-0.3 28.3h1.6v1.6h-1.6zM1.6 0.2h1.6v1.6h-1.6zM1.4 1.5h1.6v1.6h-1.6zM1.1 2.5h1.6v1.6h-1.6zM1.1 5.5h1.6v1.6h-1.6zM1.3 8.1h1.6v1.6h-1.6zM2.5 0.3h1.6v1.6h-1.6zM2.7 10.6h1.6v1.6h-1.6zM2.5 13.3h1.6v1.6h-1.6zM2.7 17.4h1.6v1.6h-1.6zM3.0 19.1h1.6v1.6h-1.6zM2.6 21.9h1.6v1.6h-1.6zM3.0 26.9h1.6v1.6h-1.6zM4.3 -0.1h1.6v1.6h-1.6zM4.0 5.7h1.6v1.6h-1.6zM4.0 9.4h1.6v1.6h-1.6zM4.3 21.6h1.6v1.6h-1.6zM4.3 25.6h1.6v1.6h-1.6zM4.2 28.3h1.6v1.6h-1.6zM5.2 1.6h1.6v1.6h-1.6zM5.4 12.4h1.6v1.6h-1.6zM5.2 15.0h1.6v1.6h-1.6zM5.4 16.3h1.6v1.6h-1.6zM5.3 17.8h1.6v1.6h-1.6zM5.5 21.7h1.6v1.6h-1.6zM6.9 15.1h1.6v1.6h-1.6zM6.7 19.2h1.6v1.6h-1.6zM6.9 21.7h1.6v1.6h-1.6zM8.0 -0.1h1.6v1.6h-1.6zM8.0 19.1h1.6v1.6h-1.6zM8.1 26.7h1.6v1.6h-1.6zM10.7 2.5h1.6v1.6h-1.6zM11.0 6.7h1.6v1.6h-1.6zM10.9 7.8h1.6v1.6h-1.6zM10.9 25.6h1.6v1.6h-1.6zM12.1 8.1h1.6v1.6h-1.6zM11.9 9.2h1.6v1.6h-1.6zM13.6 24.4h1.6v1.6h-1.6zM14.6 2.8h1.6v1.6h-1.6zM14.7 6.5h1.6v1.6h-1.6zM14.9 8.2h1.6v1.6h-1.6zM15.1 28.6h1.6v1.6h-1.6zM16.3 -0.2h1.6v1.6h-1.6zM16.1 17.7h1.6v1.6h-1.6zM16.5 23.0h1.6v1.6h-1.6zM17.4 6.8h1.6v1.6h-1.6zM19.0 28.5h1.6v1.6h-1.6zM20.5 12.1h1.6v1.6h-1.6zM20.3 21.3h1.6v1.6h-1.6zM21.6 1.3h1.6v1.6h-1.6zM21.3 3.8h1.6v1.6h-1.6zM21.5 10.9h1.6v1.6h-1.6zM21.6 13.5h1.6v1.6h-1.6zM21.7 14.7h1.6v1.6h-1.6zM23.2 1.1h1.6v1.6h-1.6zM23.0 5.3h1.6v1.6h-1.6zM23.2 10.6h1.6v1.6h-1.6zM23.2 13.5h1.6v1.6h-1.6zM23.1 16.1h1.6v1.6h-1.6zM23.0 20.0h1.6v1.6h-1.6zM24.1 1.1h1.6v1.6h-1.6zM24.3 5.6h1.6v1.6h-1.6zM24.2 9.5h1.6v1.6h-1.6zM24.2 22.8h1.6v1.6h-1.6zM24.3 25.4h1.6v1.6h-1.6zM25.5 1.3h1.6v1.6h-1.6zM25.5 12.4h1.6v1.6h-1.6zM25.7 14.8h1.6v1.6h-1.6zM25.6 20.2h1.6v1.6h-1.6zM25.7 25.6h1.6v1.6h-1.6zM26.8 1.3h1.6v1.6h-1.6zM27.1 8.2h1.6v1.6h-1.6zM27.0 10.8h1.6v1.6h-1.6zM28.6 10.7h1.6v1.6h-1.6z"/>
<path fill="#93AA00" d="M0.1 7.9h1.6v1.6h-1.6zM-0.0 15.9h1.6v1.6h-1.6zM1.4 16.1h1.6v1.6h-1.6zM1.5 17.3h1.6v1.6h-1.6zM1.3 18.7h1.6v1.6h-1.6zM1.4 27.3h1.6v1.6h-1.6zM2.6 1.4h1.6v1.6h-1.6zM2.8 2.5h1.6v1.6h-1.6zM2.6 9.4h1.6v1.6h-1.6zM2.9 20.1h1.6v1.6h-1.6zM2.9 25.7h1.6v1.6h-1.6zM3.8 13.7h1.6v1.6h-1.6zM3.8 18.8h1.6v1.6h-1.6zM4.3 20.1h1.6v1.6h-1.6zM4.2 22.9h1.6v1.6h-1.6zM5.7 7.0h1.6v1.6h-1.6zM5.1 9.5h1.6v1.6h-1.6zM5.4 24.3h1.6v1.6h-1.6zM5.2 25.8h1.6v1.6h-1.6zM6.8 5.5h1.6v1.6h-1.6zM6.8 9.2h1.6v1.6h-1.6zM8.3 1.1h1.6v1.6h-1.6zM9.3 6.5h1.6v1.6h-1.6zM9.5 12.1h1.6v1.6h-1.6zM9.2 17.4h1.6v1.6h-1.6zM9.5 21.6h1.6v1.6h-1.6zM10.9 1.1h1.6v1.6h-1.6zM11.0 13.8h1.6v1.6h-1.6zM10.8 16.4h1.6v1.6h-1.6zM11.1 17.6h1.6v1.6h-1.6zM10.7 24.1h1.6v1.6h-1.6zM10.7 26.9h1.6v1.6h-1.6zM12.4 19.1h1.6v1.6h-1.6zM13.5 -0.2h1.6v1.6h-1.6zM13.7 9.2h1.6v1.6h-1.6zM13.3 18.8h1.6v1.6h-1.6zM14.9 13.3h1.6v1.6h-1.6zM15.1 20.3h1.6v1.6h-1.6zM16.4 20.0h1.6v1.6h-1.6zM16.4 21.7h1.6v1.6h-1.6zM17.8 11.9h1.6v1.6h-1.6zM17.5 17.5h1.6v1.6h-1.6zM17.4 18.7h1.6v1.6h-1.6zM19.2 10.9h1.6v1.6h-1.6zM19.0 14.9h1.6v1.6h-1.6zM18.8 22.8h1.6v1.6h-1.6zM20.5 0.2h1.6v1.6h-1.6zM20.5 4.1h1.6v1.6h-1.6zM20.5 17.5h1.6v1.6h-1.6zM20.5 24.5h1.6v1.6h-1.6zM20.2 28.6h1.6v1.6h-1.6zM21.6 -0.2h1.6v1.6h-1.6zM21.8 2.4h1.6v1.6h-1.6zM21.5 5.5h1.6v1.6h-1.6zM21.4 6.7h1.6v1.6h-1.6zM21.5 16.2h1.6v1.6h-1.6zM21.8 21.8h1.6v1.6h-1.6zM23.1 4.0h1.6v1.6h-1.6zM23.2 6.6h1.6v1.6h-1.6zM23.2 9.5h1.6v1.6h-1.6zM23.2 12.4h1.6v1.6h-1.6zM23.2 17.8h1.6v1.6h-1.6zM23.0 24.2h1.6v1.6h-1.6zM23.1 28.6h1.6v1.6h-1.6zM24.4 -0.2h1.6v1.6h-1.6zM24.5 12.3h1.6v1.6h-1.6zM24.3 13.4h1.6v1.6h-1.6zM24.4 15.9h1.6v1.6h-1.6zM24.1 17.5h1.6v1.6h-1.6zM25.4 8.3h1.6v1.6h-1.6zM25.7 17.7h1.6v1.6h-1.6zM25.7 19.1h1.6v1.6h-1.6zM25.9 23.0h1.6v1.6h-1.6zM25.4 24.0h1.6v1.6h-1.6zM27.1 4.0h1.6v1.6h-1.6zM26.9 21.8h1.6v1.6h-1.6zM28.2 5.3h1.6v1.6h-1.6zM28.4 9.2h1.6v1.6h-1.6zM28.1 14.6h1.6v1.6h-1.6zM28.2 18.6h1.6v1.6h-1.6zM28.3 20.2h1.6v1.6h-1.6zM28.5 24.5h1.6v1.6h-1.6zM28.6 25.7h1.6v1.6h-1.6z"/>
<path fill="#A6A400" d="M0.1 1.3h1.6v1.6h-1.6zM0.3 9.4h1.6v1.6h-1.6zM0.2 12.4h1.6v1.6h-1.6zM0.0 21.4h1.6v1.6h-1.6zM0.2 25.9h1.6v1.6h-1.6zM1.4 6.5h1.6v1.6h-1.6zM1.5 9.6h1.6v1.6h-1.6zM1.4 13.6h1.6v1.6h-1.6zM1.3 23.2h1.6v1.6h-1.6zM1.4 24.6h1.6v1.6h-1.6zM1.1 25.8h1.6v1.6h-1.6zM4.3 4.2h1.6v1.6h-1.6zM3.9 16.0h1.6v1.6h-1.6zM4.0 24.4h1.6v1.6h-1.6zM5.6 -0.2h1.6v1.6h-1.6zM5.1 8.2h1.6v1.6h-1.6zM5.7 13.7h1.6v1.6h-1.6zM5.1 20.0h1.6v1.6h-1.6zM5.5 23.2h1.6v1.6h-1.6zM5.7 26.9h1.6v1.6h-1.6zM5.5 28.5h1.6v1.6h-1.6zM6.7 1.6h1.6v1.6h-1.6zM6.9 2.4h1.6v1.6h-1.6zM6.7 4.3h1.6v1.6h-1.6zM8.0 2.6h1.6v1.6h-1.6zM8.0 20.5h1.6v1.6h-1.6zM8.1 25.6h1.6v1.6h-1.6zM8.0 28.1h1.6v1.6h-1.6zM9.5 4.3h1.6v1.6h-1.6zM9.3 9.7h1.6v1.6h-1.6zM9.2 27.2h1.6v1.6h-1.6zM10.9 4.1h1.6v1.6h-1.6zM11.0 5.3h1.6v1.6h-1.6zM10.8 11.0h1.6v1.6h-1.6zM10.8 28.6h1.6v1.6h-1.6zM12.4 0.2h1.6v1.6h-1.6zM12.0 2.4h1.6v1.6h-1.6zM11.9 4.0h1.6v1.6h-1.6zM11.9 5.6h1.6v1.6h-1.6zM12.0 6.8h1.6v1.6h-1.6zM11.9 15.1h1.6v1.6h-1.6zM12.0 16.4h1.6v1.6h-1.6zM12.0 20.0h1.6v1.6h-1.6zM13.4 17.6h1.6v1.6h-1.6zM13.4 20.0h1.6v1.6h-1.6zM13.4 28.5h1.6v1.6h-1.6zM14.8 1.4h1.6v1.6h-1.6zM15.1 26.9h1.6v1.6h-1.6zM16.0 2.8h1.6v1.6h-1.6zM16.4 7.0h1.6v1.6h-1.6zM17.4 10.8h1.6v1.6h-1.6zM17.4 13.5h1.6v1.6h-1.6zM17.8 22.7h1.6v1.6h-1.6zM17.5 27.1h1.6v1.6h-1.6zM18.8 1.3h1.6v1.6h-1.6zM18.7 13.8h1.6v1.6h-1.6zM18.8 27.1h1.6v1.6h-1.6zM20.3 5.4h1.6v1.6h-1.6zM20.3 7.0h1.6v1.6h-1.6zM20.2 13.7h1.6v1.6h-1.6zM20.1 20.1h1.6v1.6h-1.6zM20.1 26.9h1.6v1.6h-1.6zM21.4 9.6h1.6v1.6h-1.6zM21.7 17.5h1.6v1.6h-1.6zM21.6 18.6h1.6v1.6h-1.6zM21.7 28.2h1.6v1.6h-1.6zM23.1 2.5h1.6v1.6h-1.6zM22.7 15.1h1.6v1.6h-1.6zM23.2 21.6h1.6v1.6h-1.6zM23.1 26.9h1.6v1.6h-1.6zM24.2 10.7h1.6v1.6h-1.6zM24.1 18.7h1.6v1.6h-1.6zM25.4 0.1h1.6v1.6h-1.6zM25.8 6.6h1.6v1.6h-1.6zM25.8 10.9h1.6v1.6h-1.6zM25.9 16.4h1.6v1.6h-1.6zM27.2 -0.2h1.6v1.6h-1.6zM26.9 6.7h1.6v1.6h-1.6zM27.0 13.5h1.6v1.6h-1.6zM26.9 16.5h1.6v1.6h-1.6zM26.9 26.8h1.6v1.6h-1.6zM26.7 28.5h1.6v1.6h-1.6zM28.1 13.5h1.6v1.6h-1.6zM28.1 22.7h1.6v1.6h-1.6z"/>
<path fill="#B79F00" d="M0.1 13.5h1.6v1.6h-1.6zM0.0 14.8h1.6v1.6h-1.6zM-0.1 19.0h1.6v1.6h-1.6zM1.4 10.7h1.6v1.6h-1.6zM1.2 12.4h1.6v1.6h-1.6zM1.1 14.6h1.6v1.6h-1.6zM1.6 21.5h1.6v1.6h-1.6zM2.7 14.7h1.6v1.6h-1.6zM2.7 16.4h1.6v1.6h-1.6zM3.8 2.6h1.6v1.6h-1.6zM4.0 6.6h1.6v1.6h-1.6zM4.3 10.9h1.6v1.6h-1.6zM4.2 12.3h1.6v1.6h-1.6zM3.9 14.9h1.6v1.6h-1.6zM4.2 27.1h1.6v1.6h-1.6zM5.4 2.9h1.6v1.6h-1.6zM7.0 0.1h1.6v1.6h-1.6zM6.7 7.9h1.6v1.6h-1.6zM6.9 10.6h1.6v1.6h-1.6zM6.6 12.4h1.6v1.6h-1.6zM7.0 13.4h1.6v1.6h-1.6zM7.0 20.2h1.6v1.6h-1.6zM6.6 28.3h1.6v1.6h-1.6zM8.1 4.3h1.6v1.6h-1.6zM7.9 10.6h1.6v1.6h-1.6zM8.2 12.0h1.6v1.6h-1.6zM7.8 14.7h1.6v1.6h-1.6zM8.0 16.3h1.6v1.6h-1.6zM8.4 17.3h1.6v1.6h-1.6zM9.4 0.1h1.6v1.6h-1.6zM9.6 18.9h1.6v1.6h-1.6zM9.4 24.2h1.6v1.6h-1.6zM11.1 12.1h1.6v1.6h-1.6zM10.6 14.9h1.6v1.6h-1.6zM10.6 18.8h1.6v1.6h-1.6zM11.0 21.8h1.6v1.6h-1.6zM12.2 1.1h1.6v1.6h-1.6zM12.4 12.2h1.6v1.6h-1.6zM12.1 13.4h1.6v1.6h-1.6zM12.2 21.8h1.6v1.6h-1.6zM12.4 23.1h1.6v1.6h-1.6zM12.4 24.2h1.6v1.6h-1.6zM12.0 27.2h1.6v1.6h-1.6zM13.3 3.8h1.6v1.6h-1.6zM13.5 5.3h1.6v1.6h-1.6zM13.4 8.2h1.6v1.6h-1.6zM13.6 10.7h1.6v1.6h-1.6zM13.3 14.7h1.6v1.6h-1.6zM15.0 3.8h1.6v1.6h-1.6zM14.7 15.1h1.6v1.6h-1.6zM14.9 22.7h1.6v1.6h-1.6zM14.7 25.6h1.6v1.6h-1.6zM16.0 5.5h1.6v1.6h-1.6zM16.4 9.4h1.6v1.6h-1.6zM16.5 10.6h1.6v1.6h-1.6zM15.9 13.7h1.6v1.6h-1.6zM16.0 15.1h1.6v1.6h-1.6zM16.4 16.2h1.6v1.6h-1.6zM16.1 28.3h1.6v1.6h-1.6zM17.4 4.0h1.6v1.6h-1.6zM17.3 5.5h1.6v1.6h-1.6zM17.5 14.6h1.6v1.6h-1.6zM17.7 24.5h1.6v1.6h-1.6zM17.3 25.8h1.6v1.6h-1.6zM17.5 28.2h1.6v1.6h-1.6zM18.8 2.7h1.6v1.6h-1.6zM19.0 4.1h1.6v1.6h-1.6zM18.8 5.7h1.6v1.6h-1.6zM18.6 9.4h1.6v1.6h-1.6zM19.0 12.4h1.6v1.6h-1.6zM18.7 21.4h1.6v1.6h-1.6zM19.1 24.3h1.6v1.6h-1.6zM20.2 1.4h1.6v1.6h-1.6zM20.5 2.8h1.6v1.6h-1.6zM20.0 11.0h1.6v1.6h-1.6zM20.3 18.7h1.6v1.6h-1.6zM20.3 23.1h1.6v1.6h-1.6zM20.1 25.9h1.6v1.6h-1.6zM21.6 12.1h1.6v1.6h-1.6zM21.8 24.2h1.6v1.6h-1.6zM21.4 25.9h1.6v1.6h-1.6zM23.0 -0.3h1.6v1.6h-1.6zM23.1 25.5h1.6v1.6h-1.6zM24.5 14.8h1.6v1.6h-1.6zM24.3 20.0h1.6v1.6h-1.6zM24.1 24.1h1.6v1.6h-1.6zM24.4 27.1h1.6v1.6h-1.6zM24.1 28.6h1.6v1.6h-1.6zM25.8 3.9h1.6v1.6h-1.6zM25.7 9.4h1.6v1.6h-1.6zM25.9 13.4h1.6v1.6h-1.6zM25.6 21.3h1.6v1.6h-1.6zM25.5 27.2h1.6v1.6h-1.6zM25.4 28.2h1.6v1.6h-1.6zM27.0 5.2h1.6v1.6h-1.6zM26.7 11.9h1.6v1.6h-1.6zM26.7 14.7h1.6v1.6h-1.6zM27.2 20.4h1.6v1.6h-1.6zM27.3 24.4h1.6v1.6h-1.6zM26.7 25.9h1.6v1.6h-1.6zM28.6 0.1h1.6v1.6h-1.6zM28.1 4.2h1.6v1.6h-1.6zM28.5 6.5h1.6v1.6h-1.6zM28.6 8.0h1.6v1.6h-1.6zM28.2 16.0h1.6v1.6h-1.6zM28.5 27.2h1.6v1.6h-1.6zM28.1 28.1h1.6v1.6h-1.6z"/>
</pattern>
<pattern id="p_crne" width="30" height="30" patternUnits="userSpaceOnUse">
<rect width="30" height="30" fill="#00BC5A"/>
<path fill="#5EB300" d="M-0.0 2.5h1.6v1.6h-1.6zM-0.2 11.0h1.6v1.6h-1.6zM-0.2 17.3h1.6v1.6h-1.6zM-0.0 20.4h1.6v1.6h-1.6zM-0.0 27.2h1.6v1.6h-1.6zM1.4 12.2h1.6v1.6h-1.6zM1.2 20.5h1.6v1.6h-1.6zM1.1 25.8h1.6v1.6h-1.6zM2.6 5.4h1.6v1.6h-1.6zM2.5 11.0h1.6v1.6h-1.6zM2.4 17.4h1.6v1.6h-1.6zM2.8 20.5h1.6v1.6h-1.6zM2.6 23.2h1.6v1.6h-1.6zM2.5 25.7h1.6v1.6h-1.6zM2.8 27.3h1.6v1.6h-1.6zM4.2 1.5h1.6v1.6h-1.6zM4.3 4.0h1.6v1.6h-1.6zM3.9 15.1h1.6v1.6h-1.6zM4.1 18.6h1.6v1.6h-1.6zM3.8 22.7h1.6v1.6h-1.6zM3.8 27.0h1.6v1.6h-1.6zM5.6 1.4h1.6v1.6h-1.6zM5.6 2.7h1.6v1.6h-1.6zM5.1 4.3h1.6v1.6h-1.6zM5.5 9.6h1.6v1.6h-1.6zM5.6 26.9h1.6v1.6h-1.6zM7.0 12.2h1.6v1.6h-1.6zM6.9 14.6h1.6v1.6h-1.6zM6.8 21.6h1.6v1.6h-1.6zM8.2 1.3h1.6v1.6h-1.6zM8.0 5.3h1.6v1.6h-1.6zM8.2 6.5h1.6v1.6h-1.6zM8.2 13.3h1.6v1.6h-1.6zM7.9 16.1h1.6v1.6h-1.6zM8.0 20.3h1.6v1.6h-1.6zM7.9 24.0h1.6v1.6h-1.6zM8.0 26.9h1.6v1.6h-1.6zM9.2 4.0h1.6v1.6h-1.6zM9.2 7.0h1.6v1.6h-1.6zM9.5 20.4h1.6v1.6h-1.6zM9.6 24.3h1.6v1.6h-1.6zM9.3 28.3h1.6v1.6h-1.6zM11.0 1.1h1.6v1.6h-1.6zM10.8 7.9h1.6v1.6h-1.6zM11.0 13.6h1.6v1.6h-1.6zM10.6 19.1h1.6v1.6h-1.6zM10.6 20.5h1.6v1.6h-1.6zM10.9 21.8h1.6v1.6h-1.6zM10.8 28.4h1.6v1.6h-1.6zM11.9 2.4h1.6v1.6h-1.6zM12.3 8.2h1.6v1.6h-1.6zM12.3 13.4h1.6v1.6h-1.6zM12.0 18.6h1.6v1.6h-1.6zM13.5 7.0h1.6v1.6h-1.6zM13.3 16.2h1.6v1.6h-1.6zM13.5 17.8h1.6v1.6h-1.6zM13.4 23.2h1.6v1.6h-1.6zM14.9 1.1h1.6v1.6h-1.6zM14.6 2.9h1.6v1.6h-1.6zM14.7 12.3h1.6v1.6h-1.6zM14.9 13.7h1.6v1.6h-1.6zM14.6 16.1h1.6v1.6h-1.6zM14.7 19.0h1.6v1.6h-1.6zM16.3 5.2h1.6v1.6h-1.6zM16.3 13.6h1.6v1.6h-1.6zM16.3 22.9h1.6v1.6h-1.6zM16.5 25.7h1.6v1.6h-1.6zM16.2 28.3h1.6v1.6h-1.6zM17.8 -0.1h1.6v1.6h-1.6zM17.8 1.6h1.6v1.6h-1.6zM17.4 2.9h1.6v1.6h-1.6zM17.6 10.5h1.6v1.6h-1.6zM17.3 12.3h1.6v1.6h-1.6zM17.6 14.9h1.6v1.6h-1.6zM17.3 17.7h1.6v1.6h-1.6zM18.9 21.8h1.6v1.6h-1.6zM18.7 24.4h1.6v1.6h-1.6zM19.0 25.4h1.6v1.6h-1.6zM19.1 27.1h1.6v1.6h-1.6zM20.0 5.3h1.6v1.6h-1.6zM20.0 9.2h1.6v1.6h-1.6zM21.3 1.3h1.6v1.6h-1.6zM21.6 5.6h1.6v1.6h-1.6zM21.6 9.5h1.6v1.6h-1.6zM21.8 11.1h1.6v1.6h-1.6zM21.5 14.7h1.6v1.6h-1.6zM21.6 17.5h1.6v1.6h-1.6zM22.8 4.0h1.6v1.6h-1.6zM23.1 8.2h1.6v1.6h-1.6zM23.1 20.1h1.6v1.6h-1.6zM23.0 22.7h1.6v1.6h-1.6zM24.3 0.3h1.6v1.6h-1.6zM24.3 1.4h1.6v1.6h-1.6zM24.5 12.4h1.6v1.6h-1.6zM25.6 8.2h1.6v1.6h-1.6zM25.8 23.0h1.6v1.6h-1.6zM27.1 9.2h1.6v1.6h-1.6zM26.8 13.4h1.6v1.6h-1.6zM27.0 22.9h1.6v1.6h-1.6zM27.1 24.4h1.6v1.6h-1.6zM28.6 7.0h1.6v1.6h-1.6zM28.1 8.2h1.6v1.6h-1.6zM28.4 19.2h1.6v1.6h-1.6zM28.6 21.4h1.6v1.6h-1.6zM28.3 25.8h1.6v1.6h-1.6z"/>
</pattern>
<pattern id="p_mainSky" width="30" height="30" patternUnits="userSpaceOnUse">
<rect width="30" height="30" fill="#00ADFA"/>
<path fill="#00A5FF" d="M0.1 -0.1h1.6v1.6h-1.6zM-0.1 6.8h1.6v1.6h-1.6zM0.3 13.6h1.6v1.6h-1.6zM0.2 18.6h1.6v1.6h-1.6zM0.2 24.5h1.6v1.6h-1.6zM-0.2 25.6h1.6v1.6h-1.6zM0.3 26.7h1.6v1.6h-1.6zM1.3 0.2h1.6v1.6h-1.6zM1.3 6.6h1.6v1.6h-1.6zM1.6 16.5h1.6v1.6h-1.6zM1.3 18.9h1.6v1.6h-1.6zM1.4 24.0h1.6v1.6h-1.6zM1.5 28.1h1.6v1.6h-1.6zM2.5 0.1h1.6v1.6h-1.6zM3.0 6.6h1.6v1.6h-1.6zM2.7 8.3h1.6v1.6h-1.6zM2.5 11.1h1.6v1.6h-1.6zM2.7 19.0h1.6v1.6h-1.6zM2.8 25.7h1.6v1.6h-1.6zM3.8 5.4h1.6v1.6h-1.6zM4.3 12.0h1.6v1.6h-1.6zM4.0 24.4h1.6v1.6h-1.6zM5.5 2.7h1.6v1.6h-1.6zM5.5 4.2h1.6v1.6h-1.6zM5.6 8.2h1.6v1.6h-1.6zM5.4 13.5h1.6v1.6h-1.6zM5.5 16.3h1.6v1.6h-1.6zM5.2 19.2h1.6v1.6h-1.6zM5.4 20.5h1.6v1.6h-1.6zM5.3 21.3h1.6v1.6h-1.6zM5.3 23.0h1.6v1.6h-1.6zM6.7 6.8h1.6v1.6h-1.6zM6.9 21.7h1.6v1.6h-1.6zM6.7 28.6h1.6v1.6h-1.6zM9.4 1.3h1.6v1.6h-1.6zM9.4 2.7h1.6v1.6h-1.6zM9.4 6.5h1.6v1.6h-1.6zM9.4 8.0h1.6v1.6h-1.6zM9.7 10.6h1.6v1.6h-1.6zM9.5 14.8h1.6v1.6h-1.6zM9.2 25.5h1.6v1.6h-1.6zM12.4 2.4h1.6v1.6h-1.6zM12.3 5.2h1.6v1.6h-1.6zM12.2 8.1h1.6v1.6h-1.6zM12.0 10.9h1.6v1.6h-1.6zM12.0 17.8h1.6v1.6h-1.6zM12.4 21.8h1.6v1.6h-1.6zM12.2 28.3h1.6v1.6h-1.6zM13.2 9.6h1.6v1.6h-1.6zM13.4 25.9h1.6v1.6h-1.6zM14.8 2.6h1.6v1.6h-1.6zM14.9 12.4h1.6v1.6h-1.6zM14.6 14.8h1.6v1.6h-1.6zM15.0 18.9h1.6v1.6h-1.6zM14.6 25.6h1.6v1.6h-1.6zM15.9 -0.3h1.6v1.6h-1.6zM16.5 6.7h1.6v1.6h-1.6zM16.4 12.1h1.6v1.6h-1.6zM16.3 24.4h1.6v1.6h-1.6zM17.5 -0.0h1.6v1.6h-1.6zM17.5 5.2h1.6v1.6h-1.6zM17.4 10.6h1.6v1.6h-1.6zM17.4 21.6h1.6v1.6h-1.6zM17.8 24.4h1.6v1.6h-1.6zM18.7 2.6h1.6v1.6h-1.6zM18.7 4.3h1.6v1.6h-1.6zM18.9 10.8h1.6v1.6h-1.6zM18.7 12.2h1.6v1.6h-1.6zM18.7 21.9h1.6v1.6h-1.6zM18.9 28.2h1.6v1.6h-1.6zM20.5 6.5h1.6v1.6h-1.6zM20.2 12.2h1.6v1.6h-1.6zM20.2 13.4h1.6v1.6h-1.6zM20.3 20.4h1.6v1.6h-1.6zM20.0 23.0h1.6v1.6h-1.6zM20.0 24.1h1.6v1.6h-1.6zM20.5 25.5h1.6v1.6h-1.6zM20.3 27.2h1.6v1.6h-1.6zM21.7 13.4h1.6v1.6h-1.6zM21.5 20.0h1.6v1.6h-1.6zM21.3 27.2h1.6v1.6h-1.6zM23.2 2.9h1.6v1.6h-1.6zM23.1 7.9h1.6v1.6h-1.6zM23.2 10.8h1.6v1.6h-1.6zM22.8 16.3h1.6v1.6h-1.6zM23.0 18.7h1.6v1.6h-1.6zM23.0 20.0h1.6v1.6h-1.6zM22.7 28.2h1.6v1.6h-1.6zM24.6 4.0h1.6v1.6h-1.6zM24.3 5.2h1.6v1.6h-1.6zM24.1 24.4h1.6v1.6h-1.6zM25.5 11.0h1.6v1.6h-1.6zM25.9 14.9h1.6v1.6h-1.6zM26.8 1.6h1.6v1.6h-1.6zM26.9 10.9h1.6v1.6h-1.6zM27.2 17.4h1.6v1.6h-1.6zM26.7 21.9h1.6v1.6h-1.6zM27.1 24.1h1.6v1.6h-1.6zM28.3 -0.2h1.6v1.6h-1.6zM28.1 9.7h1.6v1.6h-1.6zM28.6 16.3h1.6v1.6h-1.6zM28.3 17.8h1.6v1.6h-1.6zM28.5 20.3h1.6v1.6h-1.6zM28.3 22.8h1.6v1.6h-1.6zM28.1 25.7h1.6v1.6h-1.6z"/>
<path fill="#00B4F0" d="M0.3 11.0h1.6v1.6h-1.6zM-0.2 12.1h1.6v1.6h-1.6zM-0.0 15.0h1.6v1.6h-1.6zM0.2 21.5h1.6v1.6h-1.6zM0.2 23.1h1.6v1.6h-1.6zM-0.2 28.2h1.6v1.6h-1.6zM1.1 2.6h1.6v1.6h-1.6zM1.3 9.6h1.6v1.6h-1.6zM1.5 11.0h1.6v1.6h-1.6zM1.4 12.1h1.6v1.6h-1.6zM1.6 17.4h1.6v1.6h-1.6zM2.5 1.5h1.6v1.6h-1.6zM2.7 12.1h1.6v1.6h-1.6zM2.6 13.4h1.6v1.6h-1.6zM2.4 14.6h1.6v1.6h-1.6zM2.9 20.1h1.6v1.6h-1.6zM2.4 24.5h1.6v1.6h-1.6zM2.6 27.1h1.6v1.6h-1.6zM4.3 9.6h1.6v1.6h-1.6zM4.0 14.6h1.6v1.6h-1.6zM4.0 26.8h1.6v1.6h-1.6zM5.3 1.4h1.6v1.6h-1.6zM5.3 9.5h1.6v1.6h-1.6zM5.2 10.9h1.6v1.6h-1.6zM5.4 24.2h1.6v1.6h-1.6zM5.4 28.4h1.6v1.6h-1.6zM6.6 0.2h1.6v1.6h-1.6zM6.5 4.1h1.6v1.6h-1.6zM6.8 9.3h1.6v1.6h-1.6zM6.9 13.6h1.6v1.6h-1.6zM6.6 16.1h1.6v1.6h-1.6zM6.9 17.6h1.6v1.6h-1.6zM7.0 23.1h1.6v1.6h-1.6zM6.6 24.4h1.6v1.6h-1.6zM8.3 0.2h1.6v1.6h-1.6zM8.1 13.6h1.6v1.6h-1.6zM8.1 16.1h1.6v1.6h-1.6zM7.9 17.4h1.6v1.6h-1.6zM7.9 20.5h1.6v1.6h-1.6zM8.3 24.5h1.6v1.6h-1.6zM7.9 25.8h1.6v1.6h-1.6zM8.0 26.9h1.6v1.6h-1.6zM9.2 0.2h1.6v1.6h-1.6zM9.5 16.4h1.6v1.6h-1.6zM9.7 20.5h1.6v1.6h-1.6zM9.3 21.6h1.6v1.6h-1.6zM9.6 23.0h1.6v1.6h-1.6zM9.3 24.3h1.6v1.6h-1.6zM9.4 27.0h1.6v1.6h-1.6zM11.0 0.3h1.6v1.6h-1.6zM10.8 1.1h1.6v1.6h-1.6zM10.5 2.6h1.6v1.6h-1.6zM10.8 14.7h1.6v1.6h-1.6zM10.7 24.5h1.6v1.6h-1.6zM11.0 25.4h1.6v1.6h-1.6zM10.6 27.3h1.6v1.6h-1.6zM11.9 1.4h1.6v1.6h-1.6zM12.1 4.0h1.6v1.6h-1.6zM12.2 6.5h1.6v1.6h-1.6zM11.9 16.0h1.6v1.6h-1.6zM12.2 18.9h1.6v1.6h-1.6zM12.3 23.0h1.6v1.6h-1.6zM11.9 24.5h1.6v1.6h-1.6zM11.9 26.9h1.6v1.6h-1.6zM13.5 1.3h1.6v1.6h-1.6zM13.6 2.8h1.6v1.6h-1.6zM13.8 4.2h1.6v1.6h-1.6zM13.2 14.9h1.6v1.6h-1.6zM13.4 18.7h1.6v1.6h-1.6zM13.8 22.7h1.6v1.6h-1.6zM13.4 28.6h1.6v1.6h-1.6zM14.6 8.3h1.6v1.6h-1.6zM14.7 9.4h1.6v1.6h-1.6zM15.0 21.8h1.6v1.6h-1.6zM14.6 24.4h1.6v1.6h-1.6zM14.8 28.3h1.6v1.6h-1.6zM16.2 2.5h1.6v1.6h-1.6zM16.2 5.1h1.6v1.6h-1.6zM16.2 14.8h1.6v1.6h-1.6zM16.2 17.3h1.6v1.6h-1.6zM16.2 23.2h1.6v1.6h-1.6zM15.9 28.5h1.6v1.6h-1.6zM17.4 2.7h1.6v1.6h-1.6zM17.7 7.8h1.6v1.6h-1.6zM17.3 17.6h1.6v1.6h-1.6zM17.6 18.9h1.6v1.6h-1.6zM17.5 23.0h1.6v1.6h-1.6zM17.6 25.4h1.6v1.6h-1.6zM17.4 28.2h1.6v1.6h-1.6zM19.0 6.6h1.6v1.6h-1.6zM19.0 15.9h1.6v1.6h-1.6zM18.9 22.7h1.6v1.6h-1.6zM19.2 25.8h1.6v1.6h-1.6zM20.3 5.7h1.6v1.6h-1.6zM20.2 9.3h1.6v1.6h-1.6zM20.2 10.9h1.6v1.6h-1.6zM20.2 14.8h1.6v1.6h-1.6zM20.5 18.9h1.6v1.6h-1.6zM20.4 28.3h1.6v1.6h-1.6zM21.4 2.9h1.6v1.6h-1.6zM21.8 4.0h1.6v1.6h-1.6zM21.4 15.9h1.6v1.6h-1.6zM22.7 1.1h1.6v1.6h-1.6zM22.7 4.3h1.6v1.6h-1.6zM23.0 6.7h1.6v1.6h-1.6zM22.7 13.7h1.6v1.6h-1.6zM22.8 21.7h1.6v1.6h-1.6zM22.9 24.3h1.6v1.6h-1.6zM22.8 26.8h1.6v1.6h-1.6zM24.1 1.1h1.6v1.6h-1.6zM24.5 8.2h1.6v1.6h-1.6zM24.4 16.4h1.6v1.6h-1.6zM24.4 17.4h1.6v1.6h-1.6zM25.7 9.6h1.6v1.6h-1.6zM25.5 12.0h1.6v1.6h-1.6zM25.6 13.4h1.6v1.6h-1.6zM25.8 24.0h1.6v1.6h-1.6zM25.6 27.0h1.6v1.6h-1.6zM25.4 28.1h1.6v1.6h-1.6zM26.9 8.3h1.6v1.6h-1.6zM26.8 13.2h1.6v1.6h-1.6zM26.8 14.9h1.6v1.6h-1.6zM26.8 19.1h1.6v1.6h-1.6zM27.2 20.0h1.6v1.6h-1.6zM26.9 26.9h1.6v1.6h-1.6zM28.4 1.5h1.6v1.6h-1.6zM28.5 2.4h1.6v1.6h-1.6zM28.1 10.6h1.6v1.6h-1.6zM28.2 21.6h1.6v1.6h-1.6z"/>
<path fill="#619CFF" d="M0.2 5.3h1.6v1.6h-1.6zM1.1 20.3h1.6v1.6h-1.6zM1.1 25.8h1.6v1.6h-1.6zM4.1 20.4h1.6v1.6h-1.6zM3.8 28.4h1.6v1.6h-1.6zM5.5 14.9h1.6v1.6h-1.6zM5.5 25.5h1.6v1.6h-1.6zM5.4 26.8h1.6v1.6h-1.6zM6.9 25.5h1.6v1.6h-1.6zM8.2 4.1h1.6v1.6h-1.6zM8.0 6.7h1.6v1.6h-1.6zM10.9 5.4h1.6v1.6h-1.6zM10.8 16.3h1.6v1.6h-1.6zM10.7 22.7h1.6v1.6h-1.6zM10.5 28.2h1.6v1.6h-1.6zM13.2 5.5h1.6v1.6h-1.6zM13.3 8.0h1.6v1.6h-1.6zM13.4 16.3h1.6v1.6h-1.6zM13.3 24.5h1.6v1.6h-1.6zM13.5 26.9h1.6v1.6h-1.6zM14.7 5.2h1.6v1.6h-1.6zM14.6 10.8h1.6v1.6h-1.6zM15.9 10.6h1.6v1.6h-1.6zM16.2 19.0h1.6v1.6h-1.6zM17.4 1.3h1.6v1.6h-1.6zM17.7 4.3h1.6v1.6h-1.6zM17.3 6.9h1.6v1.6h-1.6zM19.1 8.0h1.6v1.6h-1.6zM19.2 14.6h1.6v1.6h-1.6zM19.1 27.1h1.6v1.6h-1.6zM20.1 0.2h1.6v1.6h-1.6zM21.7 1.1h1.6v1.6h-1.6zM21.5 23.2h1.6v1.6h-1.6zM21.8 25.9h1.6v1.6h-1.6zM21.4 28.5h1.6v1.6h-1.6zM23.1 25.7h1.6v1.6h-1.6zM24.4 6.7h1.6v1.6h-1.6zM24.3 25.6h1.6v1.6h-1.6zM24.1 28.2h1.6v1.6h-1.6zM25.7 1.2h1.6v1.6h-1.6zM25.9 4.3h1.6v1.6h-1.6zM25.7 5.6h1.6v1.6h-1.6zM25.6 17.3h1.6v1.6h-1.6zM27.1 4.0h1.6v1.6h-1.6zM27.0 7.0h1.6v1.6h-1.6zM27.2 9.4h1.6v1.6h-1.6zM26.8 22.7h1.6v1.6h-1.6zM28.5 4.0h1.6v1.6h-1.6zM28.6 8.2h1.6v1.6h-1.6zM28.2 12.1h1.6v1.6h-1.6zM28.1 24.3h1.6v1.6h-1.6z"/>
<path fill="#FF61C3" d="M0.3 17.7h1.6v1.6h-1.6zM1.1 13.3h1.6v1.6h-1.6zM2.5 17.5h1.6v1.6h-1.6zM2.8 21.7h1.6v1.6h-1.6zM4.0 0.2h1.6v1.6h-1.6zM4.3 13.7h1.6v1.6h-1.6zM4.2 18.8h1.6v1.6h-1.6zM3.9 22.9h1.6v1.6h-1.6zM6.7 10.5h1.6v1.6h-1.6zM6.7 12.2h1.6v1.6h-1.6zM7.0 15.1h1.6v1.6h-1.6zM6.7 27.0h1.6v1.6h-1.6zM8.4 2.5h1.6v1.6h-1.6zM8.0 11.1h1.6v1.6h-1.6zM7.9 21.8h1.6v1.6h-1.6zM9.7 17.4h1.6v1.6h-1.6zM9.7 28.4h1.6v1.6h-1.6zM10.6 9.4h1.6v1.6h-1.6zM12.2 -0.0h1.6v1.6h-1.6zM12.3 25.8h1.6v1.6h-1.6zM13.3 10.6h1.6v1.6h-1.6zM14.9 0.2h1.6v1.6h-1.6zM16.5 7.8h1.6v1.6h-1.6zM17.4 12.0h1.6v1.6h-1.6zM19.0 5.7h1.6v1.6h-1.6zM19.1 13.5h1.6v1.6h-1.6zM19.1 18.8h1.6v1.6h-1.6zM18.8 20.4h1.6v1.6h-1.6zM20.0 21.3h1.6v1.6h-1.6zM21.3 6.8h1.6v1.6h-1.6zM21.4 12.4h1.6v1.6h-1.6zM21.5 18.9h1.6v1.6h-1.6zM23.2 9.3h1.6v1.6h-1.6zM23.1 17.5h1.6v1.6h-1.6zM23.0 23.2h1.6v1.6h-1.6zM24.3 14.7h1.6v1.6h-1.6zM25.6 22.7h1.6v1.6h-1.6zM26.9 -0.0h1.6v1.6h-1.6zM27.3 16.4h1.6v1.6h-1.6zM28.4 27.0h1.6v1.6h-1.6z"/>
</pattern>
<pattern id="p_eNegG" width="30" height="30" patternUnits="userSpaceOnUse">
<rect width="30" height="30" fill="#F8766D"/>
<path fill="#00BA38" d="M4.2 1.1h1.6v1.6h-1.6zM13.4 17.6h1.6v1.6h-1.6zM21.8 2.8h1.6v1.6h-1.6zM21.7 28.6h1.6v1.6h-1.6z"/>
</pattern>
<pattern id="p_eArmTop" width="30" height="30" patternUnits="userSpaceOnUse">
<rect width="30" height="30" fill="#F8766D"/>
<path fill="#00BA38" d="M-0.2 0.1h1.6v1.6h-1.6zM0.3 2.5h1.6v1.6h-1.6zM-0.3 3.8h1.6v1.6h-1.6zM0.1 15.0h1.6v1.6h-1.6zM0.2 16.2h1.6v1.6h-1.6zM-0.1 19.0h1.6v1.6h-1.6zM-0.0 22.7h1.6v1.6h-1.6zM0.2 27.2h1.6v1.6h-1.6zM1.5 -0.3h1.6v1.6h-1.6zM1.3 2.7h1.6v1.6h-1.6zM1.2 5.2h1.6v1.6h-1.6zM1.4 6.9h1.6v1.6h-1.6zM1.3 8.3h1.6v1.6h-1.6zM1.5 16.1h1.6v1.6h-1.6zM1.3 25.6h1.6v1.6h-1.6zM2.9 1.4h1.6v1.6h-1.6zM3.0 2.6h1.6v1.6h-1.6zM2.5 4.1h1.6v1.6h-1.6zM2.4 5.6h1.6v1.6h-1.6zM3.0 10.9h1.6v1.6h-1.6zM2.4 14.9h1.6v1.6h-1.6zM2.6 17.6h1.6v1.6h-1.6zM3.0 24.1h1.6v1.6h-1.6zM3.0 27.3h1.6v1.6h-1.6zM3.9 1.2h1.6v1.6h-1.6zM4.1 8.0h1.6v1.6h-1.6zM3.9 9.3h1.6v1.6h-1.6zM4.3 10.6h1.6v1.6h-1.6zM4.3 13.5h1.6v1.6h-1.6zM4.2 23.1h1.6v1.6h-1.6zM4.0 25.6h1.6v1.6h-1.6zM4.3 26.8h1.6v1.6h-1.6zM5.5 -0.3h1.6v1.6h-1.6zM5.5 1.3h1.6v1.6h-1.6zM5.4 3.9h1.6v1.6h-1.6zM5.2 9.3h1.6v1.6h-1.6zM5.6 13.6h1.6v1.6h-1.6zM5.3 14.7h1.6v1.6h-1.6zM5.3 16.0h1.6v1.6h-1.6zM5.3 17.8h1.6v1.6h-1.6zM5.2 19.0h1.6v1.6h-1.6zM5.3 20.5h1.6v1.6h-1.6zM5.4 28.4h1.6v1.6h-1.6zM6.9 1.4h1.6v1.6h-1.6zM6.8 5.4h1.6v1.6h-1.6zM6.6 8.1h1.6v1.6h-1.6zM7.0 9.5h1.6v1.6h-1.6zM6.8 11.0h1.6v1.6h-1.6zM7.0 12.1h1.6v1.6h-1.6zM6.7 13.6h1.6v1.6h-1.6zM6.7 14.8h1.6v1.6h-1.6zM6.5 18.9h1.6v1.6h-1.6zM6.8 28.5h1.6v1.6h-1.6zM7.9 8.1h1.6v1.6h-1.6zM8.4 11.1h1.6v1.6h-1.6zM8.3 15.0h1.6v1.6h-1.6zM8.3 20.3h1.6v1.6h-1.6zM8.3 24.3h1.6v1.6h-1.6zM7.9 25.8h1.6v1.6h-1.6zM7.8 26.9h1.6v1.6h-1.6zM9.2 1.6h1.6v1.6h-1.6zM9.3 8.1h1.6v1.6h-1.6zM9.7 9.6h1.6v1.6h-1.6zM9.6 10.6h1.6v1.6h-1.6zM9.7 12.3h1.6v1.6h-1.6zM9.3 15.9h1.6v1.6h-1.6zM9.6 18.6h1.6v1.6h-1.6zM9.3 20.5h1.6v1.6h-1.6zM9.7 23.0h1.6v1.6h-1.6zM9.7 26.9h1.6v1.6h-1.6zM9.3 28.5h1.6v1.6h-1.6zM10.6 1.3h1.6v1.6h-1.6zM10.7 9.4h1.6v1.6h-1.6zM10.6 13.6h1.6v1.6h-1.6zM10.7 14.9h1.6v1.6h-1.6zM10.6 17.4h1.6v1.6h-1.6zM10.6 20.2h1.6v1.6h-1.6zM10.6 21.3h1.6v1.6h-1.6zM10.5 27.0h1.6v1.6h-1.6zM12.0 5.5h1.6v1.6h-1.6zM12.2 6.9h1.6v1.6h-1.6zM11.9 13.5h1.6v1.6h-1.6zM12.0 17.8h1.6v1.6h-1.6zM12.2 19.0h1.6v1.6h-1.6zM11.9 21.3h1.6v1.6h-1.6zM12.2 22.7h1.6v1.6h-1.6zM13.5 6.9h1.6v1.6h-1.6zM13.5 8.1h1.6v1.6h-1.6zM13.7 9.7h1.6v1.6h-1.6zM13.5 22.7h1.6v1.6h-1.6zM13.5 24.2h1.6v1.6h-1.6zM13.3 25.4h1.6v1.6h-1.6zM13.8 27.2h1.6v1.6h-1.6zM15.0 1.4h1.6v1.6h-1.6zM15.0 3.0h1.6v1.6h-1.6zM14.7 9.2h1.6v1.6h-1.6zM14.8 11.0h1.6v1.6h-1.6zM14.7 12.4h1.6v1.6h-1.6zM14.7 18.9h1.6v1.6h-1.6zM15.0 24.0h1.6v1.6h-1.6zM14.7 28.6h1.6v1.6h-1.6zM16.0 0.3h1.6v1.6h-1.6zM16.3 2.7h1.6v1.6h-1.6zM16.3 6.5h1.6v1.6h-1.6zM16.3 7.9h1.6v1.6h-1.6zM16.3 9.3h1.6v1.6h-1.6zM16.4 12.4h1.6v1.6h-1.6zM16.4 16.0h1.6v1.6h-1.6zM15.9 18.7h1.6v1.6h-1.6zM15.9 21.5h1.6v1.6h-1.6zM16.1 22.9h1.6v1.6h-1.6zM15.9 25.6h1.6v1.6h-1.6zM16.5 28.6h1.6v1.6h-1.6zM17.7 1.2h1.6v1.6h-1.6zM17.7 6.5h1.6v1.6h-1.6zM17.8 9.6h1.6v1.6h-1.6zM17.3 10.9h1.6v1.6h-1.6zM17.5 12.0h1.6v1.6h-1.6zM17.6 16.5h1.6v1.6h-1.6zM17.5 21.8h1.6v1.6h-1.6zM17.7 24.3h1.6v1.6h-1.6zM17.4 28.4h1.6v1.6h-1.6zM19.0 -0.3h1.6v1.6h-1.6zM19.0 8.3h1.6v1.6h-1.6zM19.2 13.3h1.6v1.6h-1.6zM18.7 19.0h1.6v1.6h-1.6zM18.8 21.6h1.6v1.6h-1.6zM20.2 2.8h1.6v1.6h-1.6zM20.0 5.3h1.6v1.6h-1.6zM20.2 6.6h1.6v1.6h-1.6zM20.2 8.1h1.6v1.6h-1.6zM20.1 18.7h1.6v1.6h-1.6zM21.9 -0.2h1.6v1.6h-1.6zM21.9 1.2h1.6v1.6h-1.6zM21.7 2.7h1.6v1.6h-1.6zM21.5 4.0h1.6v1.6h-1.6zM21.8 5.3h1.6v1.6h-1.6zM21.4 9.2h1.6v1.6h-1.6zM21.7 13.8h1.6v1.6h-1.6zM21.7 17.4h1.6v1.6h-1.6zM21.4 28.3h1.6v1.6h-1.6zM22.7 0.1h1.6v1.6h-1.6zM22.7 1.2h1.6v1.6h-1.6zM23.0 2.7h1.6v1.6h-1.6zM22.8 4.1h1.6v1.6h-1.6zM23.2 5.3h1.6v1.6h-1.6zM22.7 10.9h1.6v1.6h-1.6zM23.0 12.1h1.6v1.6h-1.6zM23.1 15.0h1.6v1.6h-1.6zM22.7 16.4h1.6v1.6h-1.6zM23.2 17.3h1.6v1.6h-1.6zM22.9 18.6h1.6v1.6h-1.6zM23.0 20.0h1.6v1.6h-1.6zM22.8 24.0h1.6v1.6h-1.6zM22.7 25.8h1.6v1.6h-1.6zM24.4 0.3h1.6v1.6h-1.6zM24.4 6.7h1.6v1.6h-1.6zM24.6 16.0h1.6v1.6h-1.6zM24.6 24.4h1.6v1.6h-1.6zM24.3 25.5h1.6v1.6h-1.6zM24.1 26.7h1.6v1.6h-1.6zM24.5 28.1h1.6v1.6h-1.6zM25.5 0.1h1.6v1.6h-1.6zM25.6 2.7h1.6v1.6h-1.6zM25.6 11.0h1.6v1.6h-1.6zM25.8 23.2h1.6v1.6h-1.6zM25.6 24.0h1.6v1.6h-1.6zM25.9 27.2h1.6v1.6h-1.6zM27.2 0.1h1.6v1.6h-1.6zM26.8 1.4h1.6v1.6h-1.6zM27.0 2.9h1.6v1.6h-1.6zM26.8 4.1h1.6v1.6h-1.6zM27.1 5.3h1.6v1.6h-1.6zM27.2 9.7h1.6v1.6h-1.6zM27.0 10.7h1.6v1.6h-1.6zM26.9 13.3h1.6v1.6h-1.6zM27.3 15.0h1.6v1.6h-1.6zM27.2 16.3h1.6v1.6h-1.6zM27.0 17.8h1.6v1.6h-1.6zM27.1 20.2h1.6v1.6h-1.6zM27.1 24.5h1.6v1.6h-1.6zM28.6 7.8h1.6v1.6h-1.6zM28.3 13.4h1.6v1.6h-1.6zM28.4 16.0h1.6v1.6h-1.6zM28.3 17.4h1.6v1.6h-1.6zM28.2 23.2h1.6v1.6h-1.6zM28.2 24.5h1.6v1.6h-1.6zM28.2 28.6h1.6v1.6h-1.6z"/>
</pattern>
<pattern id="p_eMix" width="30" height="30" patternUnits="userSpaceOnUse">
<rect width="30" height="30" fill="#00BA38"/>
<path fill="#F8766D" d="M0.2 2.5h1.6v1.6h-1.6zM-0.1 7.9h1.6v1.6h-1.6zM0.2 11.9h1.6v1.6h-1.6zM0.0 17.4h1.6v1.6h-1.6zM0.2 24.2h1.6v1.6h-1.6zM0.2 25.7h1.6v1.6h-1.6zM1.4 1.5h1.6v1.6h-1.6zM1.4 10.9h1.6v1.6h-1.6zM1.1 13.6h1.6v1.6h-1.6zM1.1 15.1h1.6v1.6h-1.6zM1.3 21.5h1.6v1.6h-1.6zM1.4 24.6h1.6v1.6h-1.6zM2.9 0.2h1.6v1.6h-1.6zM2.5 5.4h1.6v1.6h-1.6zM3.0 12.3h1.6v1.6h-1.6zM2.8 14.6h1.6v1.6h-1.6zM3.0 20.0h1.6v1.6h-1.6zM3.0 23.0h1.6v1.6h-1.6zM2.8 24.6h1.6v1.6h-1.6zM4.3 -0.1h1.6v1.6h-1.6zM4.2 5.6h1.6v1.6h-1.6zM4.1 10.7h1.6v1.6h-1.6zM4.1 14.9h1.6v1.6h-1.6zM3.8 16.4h1.6v1.6h-1.6zM4.0 20.1h1.6v1.6h-1.6zM4.2 21.6h1.6v1.6h-1.6zM4.3 28.6h1.6v1.6h-1.6zM5.6 0.1h1.6v1.6h-1.6zM5.3 5.2h1.6v1.6h-1.6zM5.6 8.0h1.6v1.6h-1.6zM5.3 10.7h1.6v1.6h-1.6zM5.2 12.2h1.6v1.6h-1.6zM5.2 13.6h1.6v1.6h-1.6zM5.3 21.4h1.6v1.6h-1.6zM5.5 23.0h1.6v1.6h-1.6zM5.4 25.5h1.6v1.6h-1.6zM5.4 28.3h1.6v1.6h-1.6zM6.6 12.4h1.6v1.6h-1.6zM6.8 16.3h1.6v1.6h-1.6zM6.5 17.7h1.6v1.6h-1.6zM6.6 18.8h1.6v1.6h-1.6zM7.0 20.1h1.6v1.6h-1.6zM6.6 28.6h1.6v1.6h-1.6zM7.8 0.2h1.6v1.6h-1.6zM8.2 5.3h1.6v1.6h-1.6zM7.9 8.4h1.6v1.6h-1.6zM7.8 16.1h1.6v1.6h-1.6zM7.9 21.4h1.6v1.6h-1.6zM7.8 28.4h1.6v1.6h-1.6zM9.6 3.9h1.6v1.6h-1.6zM9.2 6.6h1.6v1.6h-1.6zM9.2 10.7h1.6v1.6h-1.6zM9.6 12.1h1.6v1.6h-1.6zM9.3 20.0h1.6v1.6h-1.6zM9.5 25.8h1.6v1.6h-1.6zM11.0 4.0h1.6v1.6h-1.6zM10.7 5.5h1.6v1.6h-1.6zM10.9 8.2h1.6v1.6h-1.6zM10.9 11.0h1.6v1.6h-1.6zM10.8 16.3h1.6v1.6h-1.6zM10.7 17.6h1.6v1.6h-1.6zM12.3 1.6h1.6v1.6h-1.6zM12.2 10.8h1.6v1.6h-1.6zM12.0 12.4h1.6v1.6h-1.6zM12.2 13.7h1.6v1.6h-1.6zM11.9 20.5h1.6v1.6h-1.6zM12.0 21.5h1.6v1.6h-1.6zM12.1 24.3h1.6v1.6h-1.6zM12.2 28.5h1.6v1.6h-1.6zM13.3 -0.1h1.6v1.6h-1.6zM13.7 11.9h1.6v1.6h-1.6zM13.7 20.0h1.6v1.6h-1.6zM13.6 26.9h1.6v1.6h-1.6zM14.9 3.8h1.6v1.6h-1.6zM14.7 5.1h1.6v1.6h-1.6zM15.0 6.9h1.6v1.6h-1.6zM14.7 9.5h1.6v1.6h-1.6zM15.0 10.7h1.6v1.6h-1.6zM15.0 17.5h1.6v1.6h-1.6zM15.0 18.8h1.6v1.6h-1.6zM15.0 28.6h1.6v1.6h-1.6zM16.4 1.1h1.6v1.6h-1.6zM16.1 4.3h1.6v1.6h-1.6zM16.5 6.8h1.6v1.6h-1.6zM16.1 13.6h1.6v1.6h-1.6zM16.5 16.1h1.6v1.6h-1.6zM16.2 17.7h1.6v1.6h-1.6zM16.2 20.3h1.6v1.6h-1.6zM16.0 25.6h1.6v1.6h-1.6zM17.4 -0.0h1.6v1.6h-1.6zM17.3 3.8h1.6v1.6h-1.6zM17.6 5.5h1.6v1.6h-1.6zM17.7 6.9h1.6v1.6h-1.6zM17.7 9.4h1.6v1.6h-1.6zM17.4 11.0h1.6v1.6h-1.6zM17.7 14.8h1.6v1.6h-1.6zM17.5 16.4h1.6v1.6h-1.6zM17.5 27.2h1.6v1.6h-1.6zM18.8 2.4h1.6v1.6h-1.6zM19.1 4.3h1.6v1.6h-1.6zM18.6 20.3h1.6v1.6h-1.6zM18.8 23.0h1.6v1.6h-1.6zM18.9 25.9h1.6v1.6h-1.6zM20.0 -0.3h1.6v1.6h-1.6zM20.4 8.2h1.6v1.6h-1.6zM20.2 24.1h1.6v1.6h-1.6zM20.0 25.7h1.6v1.6h-1.6zM21.4 0.2h1.6v1.6h-1.6zM21.8 1.6h1.6v1.6h-1.6zM21.3 2.6h1.6v1.6h-1.6zM21.9 9.6h1.6v1.6h-1.6zM21.3 11.9h1.6v1.6h-1.6zM21.6 13.7h1.6v1.6h-1.6zM21.9 18.9h1.6v1.6h-1.6zM21.5 24.3h1.6v1.6h-1.6zM21.7 28.5h1.6v1.6h-1.6zM22.9 1.3h1.6v1.6h-1.6zM22.8 20.2h1.6v1.6h-1.6zM23.0 23.2h1.6v1.6h-1.6zM22.8 25.9h1.6v1.6h-1.6zM23.1 26.8h1.6v1.6h-1.6zM24.1 2.8h1.6v1.6h-1.6zM24.1 6.5h1.6v1.6h-1.6zM24.1 13.4h1.6v1.6h-1.6zM24.1 15.0h1.6v1.6h-1.6zM24.5 16.1h1.6v1.6h-1.6zM24.0 18.8h1.6v1.6h-1.6zM24.4 21.6h1.6v1.6h-1.6zM24.4 24.5h1.6v1.6h-1.6zM24.2 26.8h1.6v1.6h-1.6zM25.6 3.0h1.6v1.6h-1.6zM25.5 4.3h1.6v1.6h-1.6zM25.8 5.3h1.6v1.6h-1.6zM25.9 9.4h1.6v1.6h-1.6zM25.4 11.0h1.6v1.6h-1.6zM25.4 13.4h1.6v1.6h-1.6zM25.9 18.8h1.6v1.6h-1.6zM25.8 23.0h1.6v1.6h-1.6zM25.5 24.3h1.6v1.6h-1.6zM27.2 5.5h1.6v1.6h-1.6zM26.7 10.6h1.6v1.6h-1.6zM27.1 16.2h1.6v1.6h-1.6zM26.9 21.4h1.6v1.6h-1.6zM28.6 5.3h1.6v1.6h-1.6zM28.3 25.4h1.6v1.6h-1.6z"/>
</pattern>
<pattern id="p_eMixB" width="30" height="30" patternUnits="userSpaceOnUse">
<rect width="30" height="30" fill="#F8766D"/>
<path fill="#00BA38" d="M0.1 0.3h1.6v1.6h-1.6zM0.3 8.0h1.6v1.6h-1.6zM-0.1 12.3h1.6v1.6h-1.6zM-0.3 27.2h1.6v1.6h-1.6zM1.3 4.0h1.6v1.6h-1.6zM1.3 7.0h1.6v1.6h-1.6zM1.6 11.0h1.6v1.6h-1.6zM1.6 15.0h1.6v1.6h-1.6zM1.1 24.5h1.6v1.6h-1.6zM2.7 9.5h1.6v1.6h-1.6zM2.5 20.5h1.6v1.6h-1.6zM3.0 21.8h1.6v1.6h-1.6zM2.9 25.9h1.6v1.6h-1.6zM4.2 0.0h1.6v1.6h-1.6zM4.2 12.1h1.6v1.6h-1.6zM4.1 16.1h1.6v1.6h-1.6zM4.2 28.1h1.6v1.6h-1.6zM5.2 -0.3h1.6v1.6h-1.6zM5.6 5.2h1.6v1.6h-1.6zM5.1 17.4h1.6v1.6h-1.6zM5.4 18.7h1.6v1.6h-1.6zM5.2 20.3h1.6v1.6h-1.6zM6.9 -0.3h1.6v1.6h-1.6zM6.9 5.4h1.6v1.6h-1.6zM6.5 12.2h1.6v1.6h-1.6zM6.6 17.8h1.6v1.6h-1.6zM6.7 22.8h1.6v1.6h-1.6zM8.0 9.5h1.6v1.6h-1.6zM8.4 12.4h1.6v1.6h-1.6zM8.2 13.6h1.6v1.6h-1.6zM8.2 28.3h1.6v1.6h-1.6zM9.4 1.3h1.6v1.6h-1.6zM9.6 2.7h1.6v1.6h-1.6zM9.4 8.3h1.6v1.6h-1.6zM9.3 9.6h1.6v1.6h-1.6zM9.4 11.9h1.6v1.6h-1.6zM9.4 16.0h1.6v1.6h-1.6zM9.3 28.3h1.6v1.6h-1.6zM10.7 1.4h1.6v1.6h-1.6zM10.8 6.9h1.6v1.6h-1.6zM10.6 28.6h1.6v1.6h-1.6zM12.2 5.2h1.6v1.6h-1.6zM12.0 12.3h1.6v1.6h-1.6zM12.3 17.6h1.6v1.6h-1.6zM13.3 5.5h1.6v1.6h-1.6zM13.5 7.9h1.6v1.6h-1.6zM13.3 12.3h1.6v1.6h-1.6zM13.6 14.6h1.6v1.6h-1.6zM13.2 20.0h1.6v1.6h-1.6zM13.6 23.1h1.6v1.6h-1.6zM13.4 28.4h1.6v1.6h-1.6zM15.1 12.3h1.6v1.6h-1.6zM15.1 13.2h1.6v1.6h-1.6zM14.9 23.0h1.6v1.6h-1.6zM14.6 27.1h1.6v1.6h-1.6zM16.4 0.2h1.6v1.6h-1.6zM16.4 5.6h1.6v1.6h-1.6zM16.3 12.1h1.6v1.6h-1.6zM16.5 20.1h1.6v1.6h-1.6zM17.6 2.8h1.6v1.6h-1.6zM17.7 9.4h1.6v1.6h-1.6zM17.8 10.5h1.6v1.6h-1.6zM18.7 1.4h1.6v1.6h-1.6zM18.6 10.6h1.6v1.6h-1.6zM19.1 13.4h1.6v1.6h-1.6zM18.7 21.8h1.6v1.6h-1.6zM18.9 24.2h1.6v1.6h-1.6zM20.3 3.9h1.6v1.6h-1.6zM20.1 5.4h1.6v1.6h-1.6zM20.0 10.9h1.6v1.6h-1.6zM21.7 5.4h1.6v1.6h-1.6zM21.7 6.8h1.6v1.6h-1.6zM23.1 23.1h1.6v1.6h-1.6zM22.8 27.1h1.6v1.6h-1.6zM24.3 1.3h1.6v1.6h-1.6zM24.2 7.0h1.6v1.6h-1.6zM24.4 8.0h1.6v1.6h-1.6zM24.1 12.0h1.6v1.6h-1.6zM25.6 4.0h1.6v1.6h-1.6zM25.4 5.7h1.6v1.6h-1.6zM25.7 13.3h1.6v1.6h-1.6zM27.0 12.4h1.6v1.6h-1.6zM27.2 24.2h1.6v1.6h-1.6zM26.8 28.6h1.6v1.6h-1.6zM28.2 3.9h1.6v1.6h-1.6zM28.1 5.5h1.6v1.6h-1.6zM28.4 17.3h1.6v1.6h-1.6zM28.4 25.8h1.6v1.6h-1.6z"/>
</pattern>
<pattern id="p_eMixA" width="30" height="30" patternUnits="userSpaceOnUse">
<rect width="30" height="30" fill="#00BA38"/>
<path fill="#F8766D" d="M0.3 2.4h1.6v1.6h-1.6zM-0.1 8.0h1.6v1.6h-1.6zM0.2 10.5h1.6v1.6h-1.6zM-0.1 16.1h1.6v1.6h-1.6zM0.1 20.2h1.6v1.6h-1.6zM0.2 25.4h1.6v1.6h-1.6zM0.0 28.2h1.6v1.6h-1.6zM1.4 1.2h1.6v1.6h-1.6zM1.1 5.4h1.6v1.6h-1.6zM1.5 6.9h1.6v1.6h-1.6zM1.1 12.2h1.6v1.6h-1.6zM1.6 13.5h1.6v1.6h-1.6zM1.3 18.8h1.6v1.6h-1.6zM1.5 20.0h1.6v1.6h-1.6zM1.4 21.8h1.6v1.6h-1.6zM1.5 22.7h1.6v1.6h-1.6zM2.5 1.6h1.6v1.6h-1.6zM2.8 3.9h1.6v1.6h-1.6zM2.8 9.6h1.6v1.6h-1.6zM2.4 12.0h1.6v1.6h-1.6zM2.9 17.6h1.6v1.6h-1.6zM2.8 20.5h1.6v1.6h-1.6zM2.6 25.5h1.6v1.6h-1.6zM3.8 1.5h1.6v1.6h-1.6zM4.3 2.8h1.6v1.6h-1.6zM4.2 7.9h1.6v1.6h-1.6zM4.1 9.6h1.6v1.6h-1.6zM3.9 10.7h1.6v1.6h-1.6zM3.9 17.3h1.6v1.6h-1.6zM4.3 21.7h1.6v1.6h-1.6zM3.8 23.1h1.6v1.6h-1.6zM3.8 28.4h1.6v1.6h-1.6zM5.1 1.6h1.6v1.6h-1.6zM5.1 2.4h1.6v1.6h-1.6zM5.6 4.2h1.6v1.6h-1.6zM5.5 6.9h1.6v1.6h-1.6zM5.4 13.3h1.6v1.6h-1.6zM5.1 17.6h1.6v1.6h-1.6zM5.4 19.1h1.6v1.6h-1.6zM5.5 28.1h1.6v1.6h-1.6zM6.8 8.2h1.6v1.6h-1.6zM6.7 9.2h1.6v1.6h-1.6zM6.8 13.5h1.6v1.6h-1.6zM6.5 20.2h1.6v1.6h-1.6zM6.9 25.4h1.6v1.6h-1.6zM6.7 26.8h1.6v1.6h-1.6zM6.7 28.2h1.6v1.6h-1.6zM7.9 1.4h1.6v1.6h-1.6zM8.2 7.9h1.6v1.6h-1.6zM7.9 10.8h1.6v1.6h-1.6zM8.1 16.5h1.6v1.6h-1.6zM8.0 21.6h1.6v1.6h-1.6zM7.9 23.0h1.6v1.6h-1.6zM8.3 25.5h1.6v1.6h-1.6zM9.4 -0.2h1.6v1.6h-1.6zM9.6 2.6h1.6v1.6h-1.6zM9.4 4.1h1.6v1.6h-1.6zM9.3 10.9h1.6v1.6h-1.6zM9.4 12.3h1.6v1.6h-1.6zM9.5 14.9h1.6v1.6h-1.6zM9.2 16.1h1.6v1.6h-1.6zM9.6 17.3h1.6v1.6h-1.6zM9.5 24.5h1.6v1.6h-1.6zM11.1 2.6h1.6v1.6h-1.6zM11.0 4.3h1.6v1.6h-1.6zM10.5 6.8h1.6v1.6h-1.6zM10.7 8.0h1.6v1.6h-1.6zM10.6 11.9h1.6v1.6h-1.6zM10.9 20.5h1.6v1.6h-1.6zM10.7 21.4h1.6v1.6h-1.6zM10.6 24.2h1.6v1.6h-1.6zM10.7 27.0h1.6v1.6h-1.6zM10.5 28.3h1.6v1.6h-1.6zM11.9 1.4h1.6v1.6h-1.6zM12.4 5.3h1.6v1.6h-1.6zM12.2 6.9h1.6v1.6h-1.6zM12.1 12.1h1.6v1.6h-1.6zM12.0 15.1h1.6v1.6h-1.6zM12.2 20.2h1.6v1.6h-1.6zM13.4 1.3h1.6v1.6h-1.6zM13.4 5.2h1.6v1.6h-1.6zM13.4 6.5h1.6v1.6h-1.6zM13.7 8.1h1.6v1.6h-1.6zM13.4 11.0h1.6v1.6h-1.6zM13.2 12.1h1.6v1.6h-1.6zM13.7 13.4h1.6v1.6h-1.6zM13.4 14.9h1.6v1.6h-1.6zM13.4 23.1h1.6v1.6h-1.6zM14.8 0.1h1.6v1.6h-1.6zM15.0 6.6h1.6v1.6h-1.6zM14.6 10.9h1.6v1.6h-1.6zM14.7 12.3h1.6v1.6h-1.6zM15.0 21.8h1.6v1.6h-1.6zM14.7 28.5h1.6v1.6h-1.6zM16.1 0.2h1.6v1.6h-1.6zM16.4 1.2h1.6v1.6h-1.6zM16.4 3.9h1.6v1.6h-1.6zM16.4 10.7h1.6v1.6h-1.6zM16.0 14.9h1.6v1.6h-1.6zM16.4 16.4h1.6v1.6h-1.6zM16.0 17.6h1.6v1.6h-1.6zM16.1 23.0h1.6v1.6h-1.6zM16.4 24.3h1.6v1.6h-1.6zM16.3 28.6h1.6v1.6h-1.6zM17.8 4.2h1.6v1.6h-1.6zM17.4 9.3h1.6v1.6h-1.6zM17.6 11.1h1.6v1.6h-1.6zM17.8 13.5h1.6v1.6h-1.6zM17.4 14.6h1.6v1.6h-1.6zM17.7 17.8h1.6v1.6h-1.6zM17.7 19.1h1.6v1.6h-1.6zM17.7 21.4h1.6v1.6h-1.6zM17.8 25.5h1.6v1.6h-1.6zM18.9 2.5h1.6v1.6h-1.6zM18.8 5.6h1.6v1.6h-1.6zM18.6 8.0h1.6v1.6h-1.6zM18.7 9.7h1.6v1.6h-1.6zM18.6 13.7h1.6v1.6h-1.6zM19.0 14.8h1.6v1.6h-1.6zM18.9 16.1h1.6v1.6h-1.6zM19.1 27.2h1.6v1.6h-1.6zM19.2 28.6h1.6v1.6h-1.6zM20.0 0.0h1.6v1.6h-1.6zM20.3 1.3h1.6v1.6h-1.6zM20.4 4.0h1.6v1.6h-1.6zM20.2 5.4h1.6v1.6h-1.6zM20.0 6.5h1.6v1.6h-1.6zM20.5 10.5h1.6v1.6h-1.6zM20.5 12.0h1.6v1.6h-1.6zM20.3 16.2h1.6v1.6h-1.6zM20.0 17.4h1.6v1.6h-1.6zM20.4 23.2h1.6v1.6h-1.6zM20.5 26.9h1.6v1.6h-1.6zM21.7 4.2h1.6v1.6h-1.6zM21.5 5.2h1.6v1.6h-1.6zM21.3 10.8h1.6v1.6h-1.6zM21.5 20.3h1.6v1.6h-1.6zM21.6 22.8h1.6v1.6h-1.6zM23.2 -0.0h1.6v1.6h-1.6zM22.7 4.3h1.6v1.6h-1.6zM22.9 17.3h1.6v1.6h-1.6zM23.1 18.7h1.6v1.6h-1.6zM22.7 21.8h1.6v1.6h-1.6zM22.7 25.6h1.6v1.6h-1.6zM22.8 27.0h1.6v1.6h-1.6zM23.1 28.2h1.6v1.6h-1.6zM24.5 7.9h1.6v1.6h-1.6zM24.5 9.3h1.6v1.6h-1.6zM24.2 17.7h1.6v1.6h-1.6zM24.3 21.3h1.6v1.6h-1.6zM24.3 24.4h1.6v1.6h-1.6zM24.4 26.9h1.6v1.6h-1.6zM25.5 0.3h1.6v1.6h-1.6zM25.7 4.2h1.6v1.6h-1.6zM25.9 6.6h1.6v1.6h-1.6zM25.6 12.3h1.6v1.6h-1.6zM25.9 20.4h1.6v1.6h-1.6zM25.6 22.8h1.6v1.6h-1.6zM25.5 24.5h1.6v1.6h-1.6zM26.8 5.6h1.6v1.6h-1.6zM26.8 7.0h1.6v1.6h-1.6zM27.1 7.8h1.6v1.6h-1.6zM27.1 10.9h1.6v1.6h-1.6zM26.8 12.3h1.6v1.6h-1.6zM27.3 16.0h1.6v1.6h-1.6zM27.1 24.1h1.6v1.6h-1.6zM26.7 27.0h1.6v1.6h-1.6zM28.6 2.7h1.6v1.6h-1.6zM28.2 5.5h1.6v1.6h-1.6zM28.2 8.0h1.6v1.6h-1.6zM28.6 9.4h1.6v1.6h-1.6zM28.4 12.2h1.6v1.6h-1.6zM28.3 13.7h1.6v1.6h-1.6zM28.3 16.5h1.6v1.6h-1.6zM28.2 17.4h1.6v1.6h-1.6zM28.1 18.9h1.6v1.6h-1.6zM28.1 22.9h1.6v1.6h-1.6zM28.5 25.5h1.6v1.6h-1.6zM28.1 26.7h1.6v1.6h-1.6zM28.3 28.3h1.6v1.6h-1.6z"/>
</pattern>
<filter id="rough" x="-5%" y="-5%" width="110%" height="110%"><feTurbulence type="fractalNoise" baseFrequency="0.9" numOctaves="1" seed="4" result="n"/><feDisplacementMap in="SourceGraphic" in2="n" scale="3.2" xChannelSelector="R" yChannelSelector="G" result="d"/><feTurbulence type="fractalNoise" baseFrequency="0.45" numOctaves="2" seed="11" result="t"/><feColorMatrix in="t" type="matrix" values="0 0 0 0 0  0 0 0 0 0  0 0 0 0 0  1 0 0 0 0" result="a"/><feComponentTransfer in="a" result="m"><feFuncA type="discrete" tableValues="1 1 1 1 1 1 1 1 1 1 1 1 1 1 1 0 0 0 0 0"/></feComponentTransfer><feComposite in="d" in2="m" operator="in"/></filter>
</defs>
<line x1="35.60" y1="382.2" x2="35.60" y2="662.8" stroke="#D4D4D4" stroke-width="0.8" stroke-dasharray="3,3"/>
<line x1="56.90" y1="382.2" x2="56.90" y2="662.8" stroke="#DADADA" stroke-width="0.8" stroke-dasharray="3,3"/>
<line x1="78.20" y1="382.2" x2="78.20" y2="662.8" stroke="#D4D4D4" stroke-width="0.8" stroke-dasharray="3,3"/>
<line x1="99.50" y1="382.2" x2="99.50" y2="662.8" stroke="#DADADA" stroke-width="0.8" stroke-dasharray="3,3"/>
<line x1="120.80" y1="382.2" x2="120.80" y2="662.8" stroke="#D4D4D4" stroke-width="0.8" stroke-dasharray="3,3"/>
<line x1="142.10" y1="382.2" x2="142.10" y2="662.8" stroke="#DADADA" stroke-width="0.8" stroke-dasharray="3,3"/>
<line x1="163.40" y1="382.2" x2="163.40" y2="662.8" stroke="#D4D4D4" stroke-width="0.8" stroke-dasharray="3,3"/>
<line x1="184.70" y1="382.2" x2="184.70" y2="662.8" stroke="#DADADA" stroke-width="0.8" stroke-dasharray="3,3"/>
<line x1="206.00" y1="382.2" x2="206.00" y2="662.8" stroke="#D4D4D4" stroke-width="0.8" stroke-dasharray="3,3"/>
<line x1="227.30" y1="382.2" x2="227.30" y2="662.8" stroke="#DADADA" stroke-width="0.8" stroke-dasharray="3,3"/>
<line x1="248.60" y1="382.2" x2="248.60" y2="662.8" stroke="#D4D4D4" stroke-width="0.8" stroke-dasharray="3,3"/>
<line x1="269.90" y1="382.2" x2="269.90" y2="662.8" stroke="#DADADA" stroke-width="0.8" stroke-dasharray="3,3"/>
<line x1="291.20" y1="382.2" x2="291.20" y2="662.8" stroke="#D4D4D4" stroke-width="0.8" stroke-dasharray="3,3"/>
<line x1="25.6" y1="651.40" x2="297.2" y2="651.40" stroke="#DADADA" stroke-width="0.8" stroke-dasharray="3.4,2.6"/>
<line x1="25.6" y1="610.10" x2="297.2" y2="610.10" stroke="#D4D4D4" stroke-width="0.8" stroke-dasharray="3.4,2.6"/>
<line x1="25.6" y1="568.80" x2="297.2" y2="568.80" stroke="#DADADA" stroke-width="0.8" stroke-dasharray="3.4,2.6"/>
<line x1="25.6" y1="527.50" x2="297.2" y2="527.50" stroke="#D4D4D4" stroke-width="0.8" stroke-dasharray="3.4,2.6"/>
<line x1="25.6" y1="486.20" x2="297.2" y2="486.20" stroke="#DADADA" stroke-width="0.8" stroke-dasharray="3.4,2.6"/>
<line x1="25.6" y1="444.90" x2="297.2" y2="444.90" stroke="#D4D4D4" stroke-width="0.8" stroke-dasharray="3.4,2.6"/>
<line x1="25.6" y1="403.60" x2="297.2" y2="403.60" stroke="#DADADA" stroke-width="0.8" stroke-dasharray="3.4,2.6"/>
<g filter="url(#rough)">
<path d="M110.1 412.8L114.4 409.3L122.9 405.9L134.2 403.1L145.6 401.7L155.5 402.4L161.2 403.8L164.7 406.6L163.3 410.0L156.9 412.1L151.2 412.8L144.1 414.9L134.2 417.7L122.9 419.7L114.4 418.6L110.1 415.6Z" fill="url(#p_pill)" />
<path d="M151.2 413.1L158.3 414.2L156.9 419.1L153.4 418.6Z" fill="#DE8C00" />
<path d="M124.3 395.5L127.8 394.8L130.7 398.9L126.4 400.1L124.3 398.2Z" fill="#DE8C00" />
<path d="M68.7 491.1L71.6 477.1L79.7 463.1L86.9 453.7L96.5 446.7L106.0 439.7L115.6 433.8L125.2 430.8L134.7 431.5L141.9 429.2L149.1 426.8L156.3 424.5L163.4 422.1L170.6 421.0L180.2 422.1L186.2 425.7L186.6 430.8L182.6 433.8L177.8 436.9L174.2 440.2L173.0 443.2L175.4 446.7L174.2 453.7L171.8 459.6L168.2 464.2L170.6 467.7L175.4 465.4L177.8 474.8L177.8 486.5L176.6 498.2L175.4 509.8L177.8 519.2L185.0 525.0L192.2 528.6L193.3 533.2L187.4 537.9L180.2 542.6L173.0 547.3L163.4 550.8L153.9 551.9L146.7 549.6L141.9 544.9L137.1 537.9L132.4 534.4L127.6 537.9L122.8 542.6L115.6 544.5L108.4 543.8L98.9 541.4L89.3 537.4L79.7 533.2L71.1 523.4L67.8 509.8L68.2 498.2Z" fill="url(#p_mainL)" />
<path d="M177.8 439.7L185.0 437.3L192.2 438.5L196.9 444.4L200.5 453.7L199.3 463.1L194.5 466.6L189.8 463.1L185.0 460.7L182.6 456.1L180.2 449.0Z" fill="url(#p_fingers)" />
<path d="M65.9 439.0L72.9 440.6L79.3 439.8L83.3 439.4L81.3 442.0L76.9 443.7L72.9 444.9L68.9 442.0Z" fill="url(#p_hookA)" />
<path d="M66.9 448.4L75.9 446.9L76.9 449.8L72.9 453.3L67.9 452.7Z" fill="#DE8C00" />
<path d="M65.9 452.3L74.9 452.3L71.9 456.2L67.9 459.1L65.9 457.8Z" fill="#DE8C00" />
<path d="M42.9 488.5L46.9 484.6L51.9 480.7L55.9 477.7L54.9 483.6L53.9 489.5L52.5 495.3L51.9 500.2L49.9 499.2L47.9 493.4L43.9 491.4Z" fill="#00ADFA" />
<path d="M207.9 418.5L212.9 418.1L220.9 421.0L225.3 423.4L222.9 425.1L216.9 424.6L210.9 423.4L207.9 421.4Z" fill="#00BDD5" />
<path d="M238.9 434.7L241.9 435.7L246.9 441.6L250.3 448.8L248.9 450.0L244.9 445.3L239.9 440.2L238.1 437.1Z" fill="#00BDD5" />
<path d="M265.5 462.7L267.9 463.6L275.3 473.8L274.1 476.2L267.5 468.3Z" fill="#E88526" />
<path d="M273.5 501.6L277.9 495.3L284.3 492.0L285.3 493.4L279.3 498.5L275.3 503.6Z" fill="#00C19F" />
<path d="M68.9 596.2L71.9 595.6L76.9 597.8L80.1 600.1L76.9 601.7L72.5 600.1Z" fill="#DE8C00" />
<path d="M69.2 595.8L73.2 596.2L77.8 598.6L79.6 600.9L75.0 600.9L70.3 598.3Z" fill="#E88526" />
<path d="M181.4 486.5L187.4 479.4L194.5 474.8L201.7 472.4L208.9 474.8L213.7 479.4L216.1 486.5L216.1 505.2L211.3 509.8L204.1 514.5L196.9 516.9L189.8 516.9L185.0 512.2L181.4 502.8Z" fill="url(#p_mixblob)" />
<path d="M194.9 471.9L202.9 472.4L206.1 477.7L198.5 479.1Z" fill="url(#p_mixblob)" />
<path d="M180.2 507.5L187.4 514.5L196.9 516.9L202.9 520.4L196.9 524.3L187.4 526.7L181.4 522.7L179.7 514.5Z" fill="url(#p_spn)" />
<path d="M179.9 509.0L188.9 511.0L196.9 512.9L202.9 514.9L200.9 519.8L194.9 522.7L182.9 523.3L179.9 518.8Z" fill="url(#p_spn)" />
<path d="M231.9 460.1L238.9 459.1L244.9 462.1L248.9 467.9L250.9 475.8L256.9 483.6L260.9 487.5L261.9 495.3L259.9 503.2L254.9 509.0L248.9 512.0L240.9 512.0L232.9 510.0L226.9 506.1L223.9 499.2L222.9 491.4L224.9 483.6L228.9 477.7L220.9 479.7L215.3 481.6L216.9 478.7L222.9 475.8L228.9 471.9L230.9 466.0Z" fill="url(#p_teal)" />
<path d="M215.3 458.2L220.9 456.6L227.3 457.2L229.3 464.0L225.3 471.9L219.3 473.0L216.1 469.9L214.9 464.0Z" fill="url(#p_magenta)" />
<path d="M208.1 452.3L215.3 452.3L216.1 456.2L214.5 460.1L213.3 464.0L212.9 467.6L214.5 470.3L216.9 471.5L216.1 473.8L210.9 472.6L208.1 468.3L208.5 462.1L210.1 457.2L208.5 454.3Z" fill="url(#p_magenta)" />
<path d="M222.1 433.6L230.5 432.2L228.9 437.1L224.1 441.4L218.9 445.3L215.3 449.4L213.7 453.3L209.3 453.3L210.5 448.0L214.5 442.9L220.1 438.6L224.1 435.5Z" fill="url(#p_magenta)" />
<path d="M208.9 437.7L215.9 434.7L216.5 436.1L209.7 439.0Z" fill="url(#p_magenta)" />
<path d="M38.2 518.2L42.7 519.1L48.1 520.8L50.8 524.3L49.9 529.6L55.3 533.1L62.4 538.3L67.8 542.7L75.0 545.4L82.1 548.9L87.5 554.1L90.2 561.1L87.5 564.6L82.1 566.4L76.8 568.1L71.4 571.6L68.7 577.8L66.0 575.1L62.4 573.4L57.1 573.4L52.6 571.6L51.7 569.0L57.1 568.1L61.5 564.6L62.4 561.1L58.8 557.6L53.5 552.4L48.1 548.9L43.6 545.4L42.7 542.7L48.1 542.7L51.7 541.0L48.1 536.6L44.5 533.1L41.8 527.8L39.1 522.6Z" fill="url(#p_leftarm)" />
<path d="M82.1 577.8L85.7 573.4L89.3 572.5L92.2 573.4L85.7 577.2L83.2 579.0Z" fill="#FD6F86" />
<path d="M84.8 591.8L89.3 589.2L93.8 584.8L95.8 583.9L98.3 587.4L94.7 588.5L89.3 591.3L85.7 593.0Z" fill="#FD6F86" />
<path d="M84.9 592.3L92.9 592.3L91.9 594.3L85.9 594.3Z" fill="url(#p_violet)" />
<path d="M100.9 592.3L112.9 592.3L110.9 595.2L102.9 595.2Z" fill="url(#p_violet)" />
<path d="M202.0 526.8L211.0 522.4L220.0 520.7L228.9 521.6L237.9 523.3L246.8 522.4L255.8 523.3L263.0 526.8L266.5 532.1L270.1 539.1L273.7 544.3L278.2 551.3L280.9 558.3L280.9 563.6L277.3 568.9L271.9 574.1L266.5 579.4L261.2 582.9L257.6 588.1L254.0 591.6L246.8 595.1L239.7 596.9L232.5 596.9L225.3 595.1L220.0 593.4L216.4 591.6L221.8 586.4L228.9 584.6L236.1 582.5L241.5 579.7L244.1 575.0L241.8 570.3L235.2 567.5L228.6 566.8L222.8 567.8L219.6 570.6L217.8 573.2L214.6 575.0L211.0 575.0L207.4 572.4L202.0 568.9L196.7 567.1L192.2 568.9L189.5 567.1L185.9 563.6L182.3 560.1L185.9 556.6L191.3 551.3L193.1 544.3L194.9 539.1L198.5 532.1Z" fill="url(#p_fungiR)" />
<path d="M203.8 586.4L209.2 585.3L210.3 588.1L204.7 588.5Z" fill="url(#p_fungiR)" />
<path d="M260.3 593.4L266.2 587.1L268.3 588.1L263.0 595.5Z" fill="url(#p_fungiR)" />
<path d="M270.1 528.6L277.3 526.8L284.5 524.2L283.0 526.8L277.3 530.3L271.9 530.7Z" fill="url(#p_fungiR)" />
<path d="M208.9 598.2L214.9 596.2L222.9 597.2L218.9 600.1L215.3 602.1L222.9 603.1L230.9 605.0L238.9 608.9L242.9 613.8L240.9 619.7L232.9 624.6L226.9 628.5L218.9 631.4L212.9 633.4L206.9 631.4L202.9 626.5L201.9 620.7L204.9 615.8L205.9 609.9L206.9 604.0Z" fill="#00BC5A" />
<path d="M210.9 592.3L262.9 592.3L264.9 594.3L258.9 596.2L246.9 598.2L238.9 599.1L230.9 598.2L222.9 596.2L214.9 595.2L209.9 596.2Z" fill="url(#p_fungiR)" />
<path d="M90.9 607.0L94.9 605.0L98.9 606.0L102.9 607.9L106.9 609.9L110.9 607.9L116.9 607.0L122.9 608.9L126.9 611.9L130.9 614.8L138.9 615.8L146.9 616.8L154.9 615.8L163.9 614.8L163.9 647.1L156.9 648.1L146.9 650.0L142.9 652.0L140.9 651.0L136.9 645.1L130.9 640.2L122.9 636.3L114.9 632.4L108.9 628.5L105.9 623.6L102.9 617.7L98.9 613.8L94.9 611.9L90.9 609.9Z" fill="url(#p_fungiBot)" />
<path d="M162.9 618.7L170.9 616.8L178.9 617.7L186.9 618.7L193.3 619.7L186.9 625.6L182.9 631.4L180.9 638.3L176.9 637.3L172.9 640.2L166.9 643.2L162.9 645.1Z" fill="url(#p_fungiBot)" />
<path d="M96.4 557.7L102.8 552.8L110.9 548.0L118.9 544.8L125.3 543.2L130.1 544.8L128.5 551.2L125.3 557.7L122.1 562.5L117.3 567.3L112.5 572.1L107.7 573.7L102.8 570.5L98.0 565.7Z" fill="url(#p_midblob)" />
<path d="M130.1 557.7L135.0 554.5L139.8 556.1L144.6 559.3L149.4 561.7L147.8 567.3L143.0 572.1L138.2 575.3L135.0 580.1L133.4 585.0L131.8 588.2L128.5 586.6L130.1 580.1L131.8 572.1L131.0 564.1Z" fill="url(#p_pinkA)" />
<path d="M99.6 591.4L106.1 588.2L112.5 586.6L115.7 581.8L118.9 576.9L123.7 573.7L128.5 572.1L131.8 575.3L132.6 581.8L131.0 588.2L128.5 594.6L125.3 597.0L122.1 595.4L118.9 591.4L114.1 591.4L107.7 593.0L102.8 594.6L100.4 593.8Z" fill="url(#p_violet)" />
<path d="M163.9 564.1L168.7 560.9L173.5 564.1L176.7 570.5L181.5 569.7L186.4 572.1L189.6 578.5L191.2 586.6L191.2 594.6L188.0 602.6L183.1 607.4L176.7 609.1L171.9 607.4L167.1 602.6L167.1 596.2L164.7 588.2L163.1 580.1L162.3 572.1Z" fill="url(#p_violetR)" />
<path d="M151.0 562.5L155.8 560.9L160.7 562.5L162.3 568.9L163.9 576.9L165.5 585.0L167.1 591.4L168.7 597.8L167.1 604.2L162.3 607.4L154.2 608.3L146.2 605.8L139.8 602.6L135.0 599.4L133.4 594.6L136.6 589.8L141.4 585.0L146.2 578.5L151.0 572.1L152.6 567.3Z" fill="url(#p_pink)" />
<clipPath id="clipd">
<path d="M110.1 412.8L114.4 409.3L122.9 405.9L134.2 403.1L145.6 401.7L155.5 402.4L161.2 403.8L164.7 406.6L163.3 410.0L156.9 412.1L151.2 412.8L144.1 414.9L134.2 417.7L122.9 419.7L114.4 418.6L110.1 415.6Z" fill="#000" />
<path d="M151.2 413.1L158.3 414.2L156.9 419.1L153.4 418.6Z" fill="#000" />
<path d="M124.3 395.5L127.8 394.8L130.7 398.9L126.4 400.1L124.3 398.2Z" fill="#000" />
<path d="M68.7 491.1L71.6 477.1L79.7 463.1L86.9 453.7L96.5 446.7L106.0 439.7L115.6 433.8L125.2 430.8L134.7 431.5L141.9 429.2L149.1 426.8L156.3 424.5L163.4 422.1L170.6 421.0L180.2 422.1L186.2 425.7L186.6 430.8L182.6 433.8L177.8 436.9L174.2 440.2L173.0 443.2L175.4 446.7L174.2 453.7L171.8 459.6L168.2 464.2L170.6 467.7L175.4 465.4L177.8 474.8L177.8 486.5L176.6 498.2L175.4 509.8L177.8 519.2L185.0 525.0L192.2 528.6L193.3 533.2L187.4 537.9L180.2 542.6L173.0 547.3L163.4 550.8L153.9 551.9L146.7 549.6L141.9 544.9L137.1 537.9L132.4 534.4L127.6 537.9L122.8 542.6L115.6 544.5L108.4 543.8L98.9 541.4L89.3 537.4L79.7 533.2L71.1 523.4L67.8 509.8L68.2 498.2Z" fill="#000" />
<path d="M177.8 439.7L185.0 437.3L192.2 438.5L196.9 444.4L200.5 453.7L199.3 463.1L194.5 466.6L189.8 463.1L185.0 460.7L182.6 456.1L180.2 449.0Z" fill="#000" />
<path d="M65.9 439.0L72.9 440.6L79.3 439.8L83.3 439.4L81.3 442.0L76.9 443.7L72.9 444.9L68.9 442.0Z" fill="#000" />
<path d="M66.9 448.4L75.9 446.9L76.9 449.8L72.9 453.3L67.9 452.7Z" fill="#000" />
<path d="M65.9 452.3L74.9 452.3L71.9 456.2L67.9 459.1L65.9 457.8Z" fill="#000" />
<path d="M42.9 488.5L46.9 484.6L51.9 480.7L55.9 477.7L54.9 483.6L53.9 489.5L52.5 495.3L51.9 500.2L49.9 499.2L47.9 493.4L43.9 491.4Z" fill="#000" />
<path d="M207.9 418.5L212.9 418.1L220.9 421.0L225.3 423.4L222.9 425.1L216.9 424.6L210.9 423.4L207.9 421.4Z" fill="#000" />
<path d="M238.9 434.7L241.9 435.7L246.9 441.6L250.3 448.8L248.9 450.0L244.9 445.3L239.9 440.2L238.1 437.1Z" fill="#000" />
<path d="M265.5 462.7L267.9 463.6L275.3 473.8L274.1 476.2L267.5 468.3Z" fill="#000" />
<path d="M273.5 501.6L277.9 495.3L284.3 492.0L285.3 493.4L279.3 498.5L275.3 503.6Z" fill="#000" />
<path d="M68.9 596.2L71.9 595.6L76.9 597.8L80.1 600.1L76.9 601.7L72.5 600.1Z" fill="#000" />
<path d="M69.2 595.8L73.2 596.2L77.8 598.6L79.6 600.9L75.0 600.9L70.3 598.3Z" fill="#000" />
<path d="M181.4 486.5L187.4 479.4L194.5 474.8L201.7 472.4L208.9 474.8L213.7 479.4L216.1 486.5L216.1 505.2L211.3 509.8L204.1 514.5L196.9 516.9L189.8 516.9L185.0 512.2L181.4 502.8Z" fill="#000" />
<path d="M194.9 471.9L202.9 472.4L206.1 477.7L198.5 479.1Z" fill="#000" />
<path d="M180.2 507.5L187.4 514.5L196.9 516.9L202.9 520.4L196.9 524.3L187.4 526.7L181.4 522.7L179.7 514.5Z" fill="#000" />
<path d="M179.9 509.0L188.9 511.0L196.9 512.9L202.9 514.9L200.9 519.8L194.9 522.7L182.9 523.3L179.9 518.8Z" fill="#000" />
<path d="M231.9 460.1L238.9 459.1L244.9 462.1L248.9 467.9L250.9 475.8L256.9 483.6L260.9 487.5L261.9 495.3L259.9 503.2L254.9 509.0L248.9 512.0L240.9 512.0L232.9 510.0L226.9 506.1L223.9 499.2L222.9 491.4L224.9 483.6L228.9 477.7L220.9 479.7L215.3 481.6L216.9 478.7L222.9 475.8L228.9 471.9L230.9 466.0Z" fill="#000" />
<path d="M215.3 458.2L220.9 456.6L227.3 457.2L229.3 464.0L225.3 471.9L219.3 473.0L216.1 469.9L214.9 464.0Z" fill="#000" />
<path d="M208.1 452.3L215.3 452.3L216.1 456.2L214.5 460.1L213.3 464.0L212.9 467.6L214.5 470.3L216.9 471.5L216.1 473.8L210.9 472.6L208.1 468.3L208.5 462.1L210.1 457.2L208.5 454.3Z" fill="#000" />
<path d="M222.1 433.6L230.5 432.2L228.9 437.1L224.1 441.4L218.9 445.3L215.3 449.4L213.7 453.3L209.3 453.3L210.5 448.0L214.5 442.9L220.1 438.6L224.1 435.5Z" fill="#000" />
<path d="M208.9 437.7L215.9 434.7L216.5 436.1L209.7 439.0Z" fill="#000" />
<path d="M38.2 518.2L42.7 519.1L48.1 520.8L50.8 524.3L49.9 529.6L55.3 533.1L62.4 538.3L67.8 542.7L75.0 545.4L82.1 548.9L87.5 554.1L90.2 561.1L87.5 564.6L82.1 566.4L76.8 568.1L71.4 571.6L68.7 577.8L66.0 575.1L62.4 573.4L57.1 573.4L52.6 571.6L51.7 569.0L57.1 568.1L61.5 564.6L62.4 561.1L58.8 557.6L53.5 552.4L48.1 548.9L43.6 545.4L42.7 542.7L48.1 542.7L51.7 541.0L48.1 536.6L44.5 533.1L41.8 527.8L39.1 522.6Z" fill="#000" />
<path d="M82.1 577.8L85.7 573.4L89.3 572.5L92.2 573.4L85.7 577.2L83.2 579.0Z" fill="#000" />
<path d="M84.8 591.8L89.3 589.2L93.8 584.8L95.8 583.9L98.3 587.4L94.7 588.5L89.3 591.3L85.7 593.0Z" fill="#000" />
<path d="M84.9 592.3L92.9 592.3L91.9 594.3L85.9 594.3Z" fill="#000" />
<path d="M100.9 592.3L112.9 592.3L110.9 595.2L102.9 595.2Z" fill="#000" />
<path d="M202.0 526.8L211.0 522.4L220.0 520.7L228.9 521.6L237.9 523.3L246.8 522.4L255.8 523.3L263.0 526.8L266.5 532.1L270.1 539.1L273.7 544.3L278.2 551.3L280.9 558.3L280.9 563.6L277.3 568.9L271.9 574.1L266.5 579.4L261.2 582.9L257.6 588.1L254.0 591.6L246.8 595.1L239.7 596.9L232.5 596.9L225.3 595.1L220.0 593.4L216.4 591.6L221.8 586.4L228.9 584.6L236.1 582.5L241.5 579.7L244.1 575.0L241.8 570.3L235.2 567.5L228.6 566.8L222.8 567.8L219.6 570.6L217.8 573.2L214.6 575.0L211.0 575.0L207.4 572.4L202.0 568.9L196.7 567.1L192.2 568.9L189.5 567.1L185.9 563.6L182.3 560.1L185.9 556.6L191.3 551.3L193.1 544.3L194.9 539.1L198.5 532.1Z" fill="#000" />
<path d="M203.8 586.4L209.2 585.3L210.3 588.1L204.7 588.5Z" fill="#000" />
<path d="M260.3 593.4L266.2 587.1L268.3 588.1L263.0 595.5Z" fill="#000" />
<path d="M270.1 528.6L277.3 526.8L284.5 524.2L283.0 526.8L277.3 530.3L271.9 530.7Z" fill="#000" />
<path d="M208.9 598.2L214.9 596.2L222.9 597.2L218.9 600.1L215.3 602.1L222.9 603.1L230.9 605.0L238.9 608.9L242.9 613.8L240.9 619.7L232.9 624.6L226.9 628.5L218.9 631.4L212.9 633.4L206.9 631.4L202.9 626.5L201.9 620.7L204.9 615.8L205.9 609.9L206.9 604.0Z" fill="#000" />
<path d="M210.9 592.3L262.9 592.3L264.9 594.3L258.9 596.2L246.9 598.2L238.9 599.1L230.9 598.2L222.9 596.2L214.9 595.2L209.9 596.2Z" fill="#000" />
<path d="M90.9 607.0L94.9 605.0L98.9 606.0L102.9 607.9L106.9 609.9L110.9 607.9L116.9 607.0L122.9 608.9L126.9 611.9L130.9 614.8L138.9 615.8L146.9 616.8L154.9 615.8L163.9 614.8L163.9 647.1L156.9 648.1L146.9 650.0L142.9 652.0L140.9 651.0L136.9 645.1L130.9 640.2L122.9 636.3L114.9 632.4L108.9 628.5L105.9 623.6L102.9 617.7L98.9 613.8L94.9 611.9L90.9 609.9Z" fill="#000" />
<path d="M162.9 618.7L170.9 616.8L178.9 617.7L186.9 618.7L193.3 619.7L186.9 625.6L182.9 631.4L180.9 638.3L176.9 637.3L172.9 640.2L166.9 643.2L162.9 645.1Z" fill="#000" />
<path d="M96.4 557.7L102.8 552.8L110.9 548.0L118.9 544.8L125.3 543.2L130.1 544.8L128.5 551.2L125.3 557.7L122.1 562.5L117.3 567.3L112.5 572.1L107.7 573.7L102.8 570.5L98.0 565.7Z" fill="#000" />
<path d="M130.1 557.7L135.0 554.5L139.8 556.1L144.6 559.3L149.4 561.7L147.8 567.3L143.0 572.1L138.2 575.3L135.0 580.1L133.4 585.0L131.8 588.2L128.5 586.6L130.1 580.1L131.8 572.1L131.0 564.1Z" fill="#000" />
<path d="M99.6 591.4L106.1 588.2L112.5 586.6L115.7 581.8L118.9 576.9L123.7 573.7L128.5 572.1L131.8 575.3L132.6 581.8L131.0 588.2L128.5 594.6L125.3 597.0L122.1 595.4L118.9 591.4L114.1 591.4L107.7 593.0L102.8 594.6L100.4 593.8Z" fill="#000" />
<path d="M163.9 564.1L168.7 560.9L173.5 564.1L176.7 570.5L181.5 569.7L186.4 572.1L189.6 578.5L191.2 586.6L191.2 594.6L188.0 602.6L183.1 607.4L176.7 609.1L171.9 607.4L167.1 602.6L167.1 596.2L164.7 588.2L163.1 580.1L162.3 572.1Z" fill="#000" />
<path d="M151.0 562.5L155.8 560.9L160.7 562.5L162.3 568.9L163.9 576.9L165.5 585.0L167.1 591.4L168.7 597.8L167.1 604.2L162.3 607.4L154.2 608.3L146.2 605.8L139.8 602.6L135.0 599.4L133.4 594.6L136.6 589.8L141.4 585.0L146.2 578.5L151.0 572.1L152.6 567.3Z" fill="#000" />
</clipPath><g clip-path="url(#clipd)">
<path d="M122.6 500.0L124.2 480.3L129.1 464.2L135.5 451.4L143.5 441.8L153.1 433.7L162.8 427.3L170.0 424.1L170.0 448.2L162.8 454.6L156.4 464.2L149.9 475.5L145.1 486.7L140.3 500.0Z" fill="url(#p_mainTeal)" />
<path d="M124.2 488.2L132.3 485.0L143.5 488.2L149.9 493.0L149.9 507.4L143.5 517.1L135.5 523.5L127.4 520.3L124.2 507.4Z" fill="url(#p_mainSky)" />
<path d="M139.0 536.0L143.3 527.1L148.1 517.5L153.8 504.6L158.6 493.4L163.1 479.7L168.2 469.3L174.6 462.9L181.4 459.3L182.7 463.7L179.8 474.1L176.6 487.0L175.0 498.2L175.0 511.1L176.6 522.3L181.1 527.9L168.2 526.3L155.4 530.4L145.7 536.8Z" fill="#E88526" />
<path d="M148.1 535.2L155.4 530.4L163.4 526.8L176.3 525.2L187.5 527.9L192.6 532.8L190.7 540.0L185.9 545.6L176.3 550.5L163.4 553.2L152.9 551.6L148.6 544.8Z" fill="url(#p_mainAno)" />
<path d="M127.4 412.0L137.1 408.4L146.7 404.5L156.4 402.9L162.8 404.5L164.7 407.7L161.5 410.9L153.1 413.5L143.5 415.4L133.9 417.0L128.3 416.7Z" fill="url(#p_pillR)" />
<path d="M189.4 560.4L202.6 553.8L215.7 548.3L233.2 552.7L248.5 553.8L263.9 547.2L274.8 548.3L281.4 557.1L281.4 564.7L272.6 575.7L266.0 582.3L259.5 591.0L250.7 593.2L242.0 596.5L233.2 595.4L220.1 595.4L213.5 593.2L211.3 582.3L206.9 569.1L193.8 564.7Z" fill="url(#p_fungiRlow)" />
<path d="M37.0 516.6L49.1 520.9L53.5 529.7L62.2 538.5L75.4 545.0L84.1 551.6L79.7 554.9L68.8 552.0L57.8 549.0L46.9 543.3L43.6 534.1L40.3 525.3Z" fill="url(#p_leftarmTop)" />
<path d="M113.0 436.1L117.8 434.5L123.4 436.9L124.2 442.6L121.0 446.6L115.4 445.8L112.2 441.8Z" fill="url(#p_mainSalmon)" />
<path d="M175.0 632.1L181.2 625.4L190.4 619.2L192.8 620.5L186.7 627.4L182.6 635.2L180.6 639.7L176.5 638.9Z" fill="url(#p_crne)" />
<path d="M203.2 479.7L210.8 483.5L216.5 489.2L217.8 498.7L215.2 508.2L208.0 512.4L203.8 506.3L201.9 494.9Z" fill="url(#p_mixsky)" />
</g>
<path d="M102.1 464.1L106.6 467.6L111.1 474.0L109.5 483.4L104.6 491.1L100.1 496.2L106.6 501.8L112.2 504.2L113.8 501.0L109.0 496.2L113.8 488.2L116.5 480.1L115.4 472.1L109.8 465.7Z" fill="#fff" />
<path d="M173.6 444.1L175.6 445.1L171.7 457.4L165.9 470.8L160.0 482.2L156.1 493.6L154.2 505.0L151.3 512.6L149.3 512.2L151.3 503.1L153.2 491.7L157.1 480.3L162.9 468.9L168.8 457.4Z" fill="#fff" />
<path d="M171.7 454.6L180.4 452.7L179.5 463.1L178.5 478.4L178.9 493.6L177.5 506.9L176.2 520.2L174.2 520.6L175.0 506.9L175.6 493.6L175.0 478.4L174.2 465.1Z" fill="#fff" />
<path d="M228.9 562.2L237.9 559.7L251.3 561.5L251.9 562.9L238.2 561.5L229.5 563.6Z" fill="#fff" />
<path d="M245.0 568.9L252.2 566.2L259.4 568.9L259.0 569.9L252.2 567.8L245.6 570.1Z" fill="#fff" />
</g>
<rect x="25.6" y="382.2" width="271.60" height="280.60" fill="none" stroke="#333" stroke-width="1.1"/>
<line x1="35.60" y1="662.8" x2="35.60" y2="665.5999999999999" stroke="#333" stroke-width="0.9"/>
<text x="35.60" y="673.8" font-size="7.6" fill="#4D4D4D" text-anchor="middle">-30</text>
<line x1="78.20" y1="662.8" x2="78.20" y2="665.5999999999999" stroke="#333" stroke-width="0.9"/>
<text x="78.20" y="673.8" font-size="7.6" fill="#4D4D4D" text-anchor="middle">-20</text>
<line x1="120.80" y1="662.8" x2="120.80" y2="665.5999999999999" stroke="#333" stroke-width="0.9"/>
<text x="120.80" y="673.8" font-size="7.6" fill="#4D4D4D" text-anchor="middle">-10</text>
<line x1="163.40" y1="662.8" x2="163.40" y2="665.5999999999999" stroke="#333" stroke-width="0.9"/>
<text x="163.40" y="673.8" font-size="7.6" fill="#4D4D4D" text-anchor="middle">0</text>
<line x1="206.00" y1="662.8" x2="206.00" y2="665.5999999999999" stroke="#333" stroke-width="0.9"/>
<text x="206.00" y="673.8" font-size="7.6" fill="#4D4D4D" text-anchor="middle">10</text>
<line x1="248.60" y1="662.8" x2="248.60" y2="665.5999999999999" stroke="#333" stroke-width="0.9"/>
<text x="248.60" y="673.8" font-size="7.6" fill="#4D4D4D" text-anchor="middle">20</text>
<line x1="291.20" y1="662.8" x2="291.20" y2="665.5999999999999" stroke="#333" stroke-width="0.9"/>
<text x="291.20" y="673.8" font-size="7.6" fill="#4D4D4D" text-anchor="middle">30</text>
<line x1="22.8" y1="610.10" x2="25.6" y2="610.10" stroke="#333" stroke-width="0.9"/>
<text x="21.00" y="612.80" font-size="7.6" fill="#4D4D4D" text-anchor="end">-20</text>
<line x1="22.8" y1="527.50" x2="25.6" y2="527.50" stroke="#333" stroke-width="0.9"/>
<text x="21.00" y="530.20" font-size="7.6" fill="#4D4D4D" text-anchor="end">0</text>
<line x1="22.8" y1="444.90" x2="25.6" y2="444.90" stroke="#333" stroke-width="0.9"/>
<text x="21.00" y="447.60" font-size="7.6" fill="#4D4D4D" text-anchor="end">20</text>
<text x="161.4" y="684.3" font-size="9.2" fill="#000" text-anchor="middle">t-SNE1</text>
<text transform="translate(7.3,522.5) rotate(-90)" font-size="9.2" fill="#000" text-anchor="middle">t-SNE2</text>
<text x="9.8" y="391.3" font-size="10.5" font-weight="bold" fill="#000">d</text>
<circle cx="308.8" cy="426.9" r="1.1" fill="#F8766D" fill-opacity="0.6"/>
<text x="318.5" y="429.2" font-size="6.6" fill="#000">Aba</text>
<circle cx="308.8" cy="438.2" r="1.1" fill="#F17D50" fill-opacity="0.6"/>
<text x="318.5" y="440.5" font-size="6.6" fill="#000">Ano</text>
<circle cx="308.8" cy="449.6" r="1.1" fill="#E88526" fill-opacity="0.6"/>
<text x="318.5" y="451.9" font-size="6.6" fill="#000">Api</text>
<circle cx="308.8" cy="460.9" r="1.1" fill="#DE8C00" fill-opacity="0.6"/>
<text x="318.5" y="463.2" font-size="6.6" fill="#000">Bce</text>
<circle cx="308.8" cy="472.2" r="1.1" fill="#D39200" fill-opacity="0.6"/>
<text x="318.5" y="474.5" font-size="6.6" fill="#000">Bfg</text>
<circle cx="308.8" cy="483.5" r="1.1" fill="#C69900" fill-opacity="0.6"/>
<text x="318.5" y="485.8" font-size="6.6" fill="#000">CaAl</text>
<circle cx="308.8" cy="494.9" r="1.1" fill="#B79F00" fill-opacity="0.6"/>
<text x="318.5" y="497.2" font-size="6.6" fill="#000">CaGl</text>
<circle cx="308.8" cy="506.2" r="1.1" fill="#A6A400" fill-opacity="0.6"/>
<text x="318.5" y="508.5" font-size="6.6" fill="#000">CaGu</text>
<circle cx="308.8" cy="517.5" r="1.1" fill="#93AA00" fill-opacity="0.6"/>
<text x="318.5" y="519.8" font-size="6.6" fill="#000">CaKr</text>
<circle cx="308.8" cy="528.9" r="1.1" fill="#7CAE00" fill-opacity="0.6"/>
<text x="318.5" y="531.2" font-size="6.6" fill="#000">CaPa</text>
<circle cx="308.8" cy="540.2" r="1.1" fill="#5EB300" fill-opacity="0.6"/>
<text x="318.5" y="542.5" font-size="6.6" fill="#000">CaTr</text>
<circle cx="308.8" cy="551.5" r="1.1" fill="#2BB600" fill-opacity="0.6"/>
<text x="318.5" y="553.8" font-size="6.6" fill="#000">Cdi</text>
<circle cx="308.8" cy="562.9" r="1.1" fill="#00BA38" fill-opacity="0.6"/>
<text x="318.5" y="565.2" font-size="6.6" fill="#000">Cfr</text>
<circle cx="308.8" cy="574.2" r="1.1" fill="#00BC5A" fill-opacity="0.6"/>
<text x="318.5" y="576.5" font-size="6.6" fill="#000">CrNe</text>
<circle cx="308.8" cy="585.5" r="1.1" fill="#00BF74" fill-opacity="0.6"/>
<text x="318.5" y="587.8" font-size="6.6" fill="#000">Eae</text>
<circle cx="308.8" cy="596.8" r="1.1" fill="#00C08B" fill-opacity="0.6"/>
<text x="318.5" y="599.1" font-size="6.6" fill="#000">Ecl</text>
<circle cx="308.8" cy="608.2" r="1.1" fill="#00C19F" fill-opacity="0.6"/>
<text x="318.5" y="610.5" font-size="6.6" fill="#000">Eco</text>
<circle cx="308.8" cy="619.5" r="1.1" fill="#00C0B3" fill-opacity="0.6"/>
<text x="318.5" y="621.8" font-size="6.6" fill="#000">Efa</text>
<circle cx="344.2" cy="426.9" r="1.1" fill="#00BFC4" fill-opacity="0.6"/>
<text x="353.9" y="429.2" font-size="6.6" fill="#000">Efm</text>
<circle cx="344.2" cy="438.2" r="1.1" fill="#00BDD5" fill-opacity="0.6"/>
<text x="353.9" y="440.5" font-size="6.6" fill="#000">Kox</text>
<circle cx="344.2" cy="449.6" r="1.1" fill="#00B9E3" fill-opacity="0.6"/>
<text x="353.9" y="451.9" font-size="6.6" fill="#000">Kpn</text>
<circle cx="344.2" cy="460.9" r="1.1" fill="#00B4F0" fill-opacity="0.6"/>
<text x="353.9" y="463.2" font-size="6.6" fill="#000">Lmo</text>
<circle cx="344.2" cy="472.2" r="1.1" fill="#00ADFA" fill-opacity="0.6"/>
<text x="353.9" y="474.5" font-size="6.6" fill="#000">Mmo</text>
<circle cx="344.2" cy="483.5" r="1.1" fill="#00A5FF" fill-opacity="0.6"/>
<text x="353.9" y="485.8" font-size="6.6" fill="#000">Pae</text>
<circle cx="344.2" cy="494.9" r="1.1" fill="#619CFF" fill-opacity="0.6"/>
<text x="353.9" y="497.2" font-size="6.6" fill="#000">Pmi</text>
<circle cx="344.2" cy="506.2" r="1.1" fill="#8E92FF" fill-opacity="0.6"/>
<text x="353.9" y="508.5" font-size="6.6" fill="#000">Sal</text>
<circle cx="344.2" cy="517.5" r="1.1" fill="#AE87FF" fill-opacity="0.6"/>
<text x="353.9" y="519.8" font-size="6.6" fill="#000">Sau</text>
<circle cx="344.2" cy="528.9" r="1.1" fill="#C77CFF" fill-opacity="0.6"/>
<text x="353.9" y="531.2" font-size="6.6" fill="#000">Sca</text>
<circle cx="344.2" cy="540.2" r="1.1" fill="#DB72FB" fill-opacity="0.6"/>
<text x="353.9" y="542.5" font-size="6.6" fill="#000">Sep</text>
<circle cx="344.2" cy="551.5" r="1.1" fill="#EA6AF1" fill-opacity="0.6"/>
<text x="353.9" y="553.8" font-size="6.6" fill="#000">Sgc</text>
<circle cx="344.2" cy="562.9" r="1.1" fill="#F564E3" fill-opacity="0.6"/>
<text x="353.9" y="565.2" font-size="6.6" fill="#000">Shl</text>
<circle cx="344.2" cy="574.2" r="1.1" fill="#FC61D4" fill-opacity="0.6"/>
<text x="353.9" y="576.5" font-size="6.6" fill="#000">Sho</text>
<circle cx="344.2" cy="585.5" r="1.1" fill="#FF61C3" fill-opacity="0.6"/>
<text x="353.9" y="587.8" font-size="6.6" fill="#000">Sma</text>
<circle cx="344.2" cy="596.8" r="1.1" fill="#FF64B0" fill-opacity="0.6"/>
<text x="353.9" y="599.1" font-size="6.6" fill="#000">Spn</text>
<circle cx="344.2" cy="608.2" r="1.1" fill="#FF699C" fill-opacity="0.6"/>
<text x="353.9" y="610.5" font-size="6.6" fill="#000">Stm</text>
<circle cx="344.2" cy="619.5" r="1.1" fill="#FD6F86" fill-opacity="0.6"/>
<text x="353.9" y="621.8" font-size="6.6" fill="#000">Svi</text>
<line x1="423.55" y1="382.0" x2="423.55" y2="662.4" stroke="#D4D4D4" stroke-width="0.8" stroke-dasharray="3,3"/>
<line x1="444.38" y1="382.0" x2="444.38" y2="662.4" stroke="#DADADA" stroke-width="0.8" stroke-dasharray="3,3"/>
<line x1="465.20" y1="382.0" x2="465.20" y2="662.4" stroke="#D4D4D4" stroke-width="0.8" stroke-dasharray="3,3"/>
<line x1="486.02" y1="382.0" x2="486.02" y2="662.4" stroke="#DADADA" stroke-width="0.8" stroke-dasharray="3,3"/>
<line x1="506.85" y1="382.0" x2="506.85" y2="662.4" stroke="#D4D4D4" stroke-width="0.8" stroke-dasharray="3,3"/>
<line x1="527.67" y1="382.0" x2="527.67" y2="662.4" stroke="#DADADA" stroke-width="0.8" stroke-dasharray="3,3"/>
<line x1="548.50" y1="382.0" x2="548.50" y2="662.4" stroke="#D4D4D4" stroke-width="0.8" stroke-dasharray="3,3"/>
<line x1="569.33" y1="382.0" x2="569.33" y2="662.4" stroke="#DADADA" stroke-width="0.8" stroke-dasharray="3,3"/>
<line x1="590.15" y1="382.0" x2="590.15" y2="662.4" stroke="#D4D4D4" stroke-width="0.8" stroke-dasharray="3,3"/>
<line x1="610.98" y1="382.0" x2="610.98" y2="662.4" stroke="#DADADA" stroke-width="0.8" stroke-dasharray="3,3"/>
<line x1="631.80" y1="382.0" x2="631.80" y2="662.4" stroke="#D4D4D4" stroke-width="0.8" stroke-dasharray="3,3"/>
<line x1="652.62" y1="382.0" x2="652.62" y2="662.4" stroke="#DADADA" stroke-width="0.8" stroke-dasharray="3,3"/>
<line x1="673.45" y1="382.0" x2="673.45" y2="662.4" stroke="#D4D4D4" stroke-width="0.8" stroke-dasharray="3,3"/>
<line x1="414.5" y1="650.10" x2="679.0" y2="650.10" stroke="#DADADA" stroke-width="0.8" stroke-dasharray="3.4,2.6"/>
<line x1="414.5" y1="608.80" x2="679.0" y2="608.80" stroke="#D4D4D4" stroke-width="0.8" stroke-dasharray="3.4,2.6"/>
<line x1="414.5" y1="567.50" x2="679.0" y2="567.50" stroke="#DADADA" stroke-width="0.8" stroke-dasharray="3.4,2.6"/>
<line x1="414.5" y1="526.20" x2="679.0" y2="526.20" stroke="#D4D4D4" stroke-width="0.8" stroke-dasharray="3.4,2.6"/>
<line x1="414.5" y1="484.90" x2="679.0" y2="484.90" stroke="#DADADA" stroke-width="0.8" stroke-dasharray="3.4,2.6"/>
<line x1="414.5" y1="443.60" x2="679.0" y2="443.60" stroke="#D4D4D4" stroke-width="0.8" stroke-dasharray="3.4,2.6"/>
<line x1="414.5" y1="402.30" x2="679.0" y2="402.30" stroke="#DADADA" stroke-width="0.8" stroke-dasharray="3.4,2.6"/>
<rect x="414.5" y="382" width="59.5" height="47.6" fill="#fff"/>
<g filter="url(#rough)">
<path d="M496.4 411.5L500.5 408.0L508.9 404.6L520.0 401.8L531.1 400.4L540.8 401.1L546.3 402.5L549.8 405.3L548.4 408.7L542.2 410.8L536.6 411.5L529.7 413.6L520.0 416.4L508.9 418.4L500.5 417.3L496.4 414.3Z" fill="url(#p_eNegG)" />
<path d="M536.6 411.8L543.5 412.9L542.2 417.8L538.7 417.3Z" fill="#F8766D" />
<path d="M510.3 394.2L513.7 393.5L516.5 397.6L512.3 398.8L510.3 396.9Z" fill="#F8766D" />
<path d="M455.9 489.8L458.7 475.8L466.7 461.8L473.7 452.4L483.1 445.4L492.4 438.4L501.8 432.5L511.1 429.5L520.5 430.2L527.5 427.9L534.5 425.5L541.5 423.2L548.5 420.8L555.6 419.7L564.9 420.8L570.8 424.4L571.2 429.5L567.3 432.5L562.6 435.6L559.1 438.9L557.9 441.9L560.2 445.4L559.1 452.4L556.7 458.3L553.2 462.9L555.6 466.4L560.2 464.1L562.6 473.5L562.6 485.2L561.4 496.9L560.2 508.5L562.6 517.9L569.6 523.7L576.6 527.3L577.8 531.9L571.9 536.6L564.9 541.3L557.9 546.0L548.5 549.5L539.2 550.6L532.2 548.3L527.5 543.6L522.8 536.6L518.1 533.1L513.5 536.6L508.8 541.3L501.8 543.2L494.8 542.5L485.4 540.1L476.0 536.1L466.7 531.9L458.3 522.1L455.0 508.5L455.5 496.9Z" fill="url(#p_eNegG)" />
<path d="M562.6 438.4L569.6 436.0L576.6 437.2L581.3 443.1L584.8 452.4L583.6 461.8L578.9 465.3L574.3 461.8L569.6 459.4L567.3 454.8L564.9 447.7Z" fill="#F8766D" />
<path d="M453.1 437.7L460.0 439.3L466.3 438.5L470.2 438.1L468.2 440.7L463.9 442.4L460.0 443.6L456.1 440.7Z" fill="#F8766D" />
<path d="M454.1 447.1L462.9 445.6L463.9 448.5L460.0 452.0L455.1 451.4Z" fill="#F8766D" />
<path d="M453.1 451.0L461.9 451.0L459.0 454.9L455.1 457.8L453.1 456.5Z" fill="#F8766D" />
<path d="M430.6 487.2L434.6 483.3L439.5 479.4L443.4 476.4L442.4 482.3L441.4 488.2L440.0 494.0L439.5 498.9L437.5 497.9L435.5 492.1L431.6 490.1Z" fill="#F8766D" />
<path d="M592.0 417.2L596.9 416.8L604.7 419.7L609.0 422.1L606.7 423.8L600.8 423.3L594.9 422.1L592.0 420.1Z" fill="#F8766D" />
<path d="M622.3 433.4L625.3 434.4L630.2 440.3L633.5 447.5L632.1 448.7L628.2 444.0L623.3 438.9L621.6 435.8Z" fill="#F8766D" />
<path d="M648.4 461.4L650.7 462.3L657.9 472.5L656.8 474.9L650.3 467.0Z" fill="#F8766D" />
<path d="M656.2 500.3L660.5 494.0L666.7 490.7L667.7 492.1L661.8 497.2L657.9 502.3Z" fill="#F8766D" />
<path d="M456.1 594.9L459.0 594.3L463.9 596.5L467.0 598.8L463.9 600.4L459.6 598.8Z" fill="#F8766D" />
<path d="M456.4 594.5L460.3 594.9L464.8 597.3L466.6 599.6L462.0 599.6L457.5 597.0Z" fill="#F8766D" />
<path d="M566.1 485.2L571.9 478.1L578.9 473.5L586.0 471.1L593.0 473.5L597.7 478.1L600.0 485.2L600.0 503.9L595.3 508.5L588.3 513.2L581.3 515.6L574.3 515.6L569.6 510.9L566.1 501.5Z" fill="url(#p_eMixB)" />
<path d="M579.3 470.6L587.1 471.1L590.3 476.4L582.8 477.8Z" fill="url(#p_eMixB)" />
<path d="M564.9 506.2L571.9 513.2L581.3 515.6L587.1 519.1L581.3 523.0L571.9 525.4L566.1 521.4L564.4 513.2Z" fill="#00BA38" />
<path d="M564.6 507.7L573.4 509.7L581.3 511.6L587.1 513.6L585.2 518.5L579.3 521.4L567.6 522.0L564.6 517.5Z" fill="#00BA38" />
<path d="M615.5 458.8L622.3 457.8L628.2 460.8L632.1 466.6L634.1 474.5L639.9 482.3L643.9 486.2L644.8 494.0L642.9 501.9L638.0 507.7L632.1 510.7L624.3 510.7L616.5 508.7L610.6 504.8L607.7 497.9L606.7 490.1L608.6 482.3L612.6 476.4L604.7 478.4L599.3 480.3L600.8 477.4L606.7 474.5L612.6 470.6L614.5 464.7Z" fill="#00BA38" />
<path d="M599.3 456.9L604.7 455.3L611.0 455.9L612.9 462.7L609.0 470.6L603.2 471.7L600.0 468.6L598.9 462.7Z" fill="#00BA38" />
<path d="M592.2 451.0L599.3 451.0L600.0 454.9L598.5 458.8L597.3 462.7L596.9 466.3L598.5 469.0L600.8 470.2L600.0 472.5L594.9 471.3L592.2 467.0L592.6 460.8L594.2 455.9L592.6 453.0Z" fill="#00BA38" />
<path d="M605.9 432.3L614.1 430.9L612.6 435.8L607.9 440.1L602.8 444.0L599.3 448.1L597.7 452.0L593.4 452.0L594.6 446.7L598.5 441.6L603.9 437.3L607.9 434.2Z" fill="#00BA38" />
<path d="M593.0 436.4L599.8 433.4L600.4 434.8L593.8 437.7Z" fill="#00BA38" />
<path d="M426.1 516.9L430.5 517.8L435.8 519.5L438.4 523.0L437.5 528.3L442.8 531.8L449.8 537.0L455.0 541.4L462.0 544.1L469.1 547.6L474.3 552.8L476.9 559.8L474.3 563.3L469.1 565.1L463.8 566.8L458.5 570.3L455.9 576.5L453.3 573.8L449.8 572.1L444.5 572.1L440.1 570.3L439.3 567.7L444.5 566.8L448.9 563.3L449.8 559.8L446.3 556.3L441.0 551.1L435.8 547.6L431.4 544.1L430.5 541.4L435.8 541.4L439.3 539.7L435.8 535.3L432.3 531.8L429.6 526.5L427.0 521.3Z" fill="#00BA38" />
<path d="M469.1 576.5L472.6 572.1L476.1 571.2L478.9 572.1L472.6 575.9L470.1 577.7Z" fill="#00BA38" />
<path d="M471.7 590.5L476.1 587.9L480.4 583.5L482.4 582.6L484.8 586.1L481.3 587.2L476.1 590.0L472.6 591.7Z" fill="#00BA38" />
<path d="M471.7 591.0L479.6 591.0L478.6 593.0L472.7 593.0Z" fill="#00BA38" />
<path d="M487.4 591.0L499.1 591.0L497.2 593.9L489.3 593.9Z" fill="#00BA38" />
<path d="M586.3 525.5L595.0 521.1L603.8 519.4L612.6 520.3L621.3 522.0L630.1 521.1L638.8 522.0L645.8 525.5L649.3 530.8L652.9 537.8L656.4 543.0L660.7 550.0L663.4 557.0L663.4 562.3L659.9 567.6L654.6 572.8L649.3 578.1L644.1 581.6L640.6 586.8L637.1 590.3L630.1 593.8L623.1 595.6L616.1 595.6L609.1 593.8L603.8 592.1L600.3 590.3L605.6 585.1L612.6 583.3L619.6 581.2L624.8 578.4L627.4 573.7L625.2 569.0L618.7 566.2L612.2 565.5L606.6 566.5L603.4 569.3L601.7 571.9L598.5 573.7L595.0 573.7L591.5 571.1L586.3 567.6L581.0 565.8L576.6 567.6L574.0 565.8L570.5 562.3L567.0 558.8L570.5 555.3L575.8 550.0L577.5 543.0L579.3 537.8L582.8 530.8Z" fill="#619CFF" />
<path d="M588.0 585.1L593.3 584.0L594.3 586.8L588.9 587.2Z" fill="#619CFF" />
<path d="M643.2 592.1L649.0 585.8L651.1 586.8L645.8 594.2Z" fill="#619CFF" />
<path d="M652.9 527.3L659.9 525.5L666.9 522.9L665.5 525.5L659.9 529.0L654.6 529.4Z" fill="#619CFF" />
<path d="M593.0 596.9L598.9 594.9L606.7 595.9L602.8 598.8L599.3 600.8L606.7 601.8L614.5 603.7L622.3 607.6L626.2 612.5L624.3 618.4L616.5 623.3L610.6 627.2L602.8 630.1L596.9 632.1L591.0 630.1L587.1 625.2L586.1 619.4L589.1 614.5L590.1 608.6L591.0 602.7Z" fill="#619CFF" />
<path d="M594.9 591.0L645.8 591.0L647.8 593.0L641.9 594.9L630.2 596.9L622.3 597.8L614.5 596.9L606.7 594.9L598.9 593.9L594.0 594.9Z" fill="#619CFF" />
<path d="M477.6 605.7L481.5 603.7L485.4 604.7L489.3 606.6L493.2 608.6L497.2 606.6L503.0 605.7L508.9 607.6L512.8 610.6L516.7 613.5L524.5 614.5L532.4 615.5L540.2 614.5L549.0 613.5L549.0 645.8L542.2 646.8L532.4 648.7L528.5 650.7L526.5 649.7L522.6 643.8L516.7 638.9L508.9 635.0L501.1 631.1L495.2 627.2L492.3 622.3L489.3 616.4L485.4 612.5L481.5 610.6L477.6 608.6Z" fill="#619CFF" />
<path d="M548.0 617.4L555.8 615.5L563.6 616.4L571.5 617.4L577.7 618.4L571.5 624.3L567.6 630.1L565.6 637.0L561.7 636.0L557.8 638.9L551.9 641.9L548.0 643.8Z" fill="#619CFF" />
<path d="M483.0 556.4L489.3 551.5L497.1 546.7L505.0 543.5L511.3 541.9L516.0 543.5L514.4 549.9L511.3 556.4L508.1 561.2L503.4 566.0L498.7 570.8L494.0 572.4L489.3 569.2L484.6 564.4Z" fill="url(#p_eMix)" />
<path d="M516.0 556.4L520.7 553.2L525.4 554.8L530.1 558.0L534.8 560.4L533.3 566.0L528.6 570.8L523.8 574.0L520.7 578.8L519.1 583.7L517.6 586.9L514.4 585.3L516.0 578.8L517.6 570.8L516.8 562.8Z" fill="#00BA38" />
<path d="M486.2 590.1L492.4 586.9L498.7 585.3L501.9 580.5L505.0 575.6L509.7 572.4L514.4 570.8L517.6 574.0L518.3 580.5L516.8 586.9L514.4 593.3L511.3 595.7L508.1 594.1L505.0 590.1L500.3 590.1L494.0 591.7L489.3 593.3L486.9 592.5Z" fill="#00BA38" />
<path d="M549.0 562.8L553.7 559.6L558.4 562.8L561.5 569.2L566.2 568.4L570.9 570.8L574.1 577.2L575.7 585.3L575.7 593.3L572.5 601.3L567.8 606.1L561.5 607.8L556.8 606.1L552.1 601.3L552.1 594.9L549.7 586.9L548.2 578.8L547.4 570.8Z" fill="#00BA38" />
<path d="M536.4 561.2L541.1 559.6L545.8 561.2L547.4 567.6L549.0 575.6L550.5 583.7L552.1 590.1L553.7 596.5L552.1 602.9L547.4 606.1L539.5 607.0L531.7 604.5L525.4 601.3L520.7 598.1L519.1 593.3L522.3 588.5L527.0 583.7L531.7 577.2L536.4 570.8L538.0 566.0Z" fill="#00BA38" />
<clipPath id="clipe">
<path d="M496.4 411.5L500.5 408.0L508.9 404.6L520.0 401.8L531.1 400.4L540.8 401.1L546.3 402.5L549.8 405.3L548.4 408.7L542.2 410.8L536.6 411.5L529.7 413.6L520.0 416.4L508.9 418.4L500.5 417.3L496.4 414.3Z" fill="#000" />
<path d="M536.6 411.8L543.5 412.9L542.2 417.8L538.7 417.3Z" fill="#000" />
<path d="M510.3 394.2L513.7 393.5L516.5 397.6L512.3 398.8L510.3 396.9Z" fill="#000" />
<path d="M455.9 489.8L458.7 475.8L466.7 461.8L473.7 452.4L483.1 445.4L492.4 438.4L501.8 432.5L511.1 429.5L520.5 430.2L527.5 427.9L534.5 425.5L541.5 423.2L548.5 420.8L555.6 419.7L564.9 420.8L570.8 424.4L571.2 429.5L567.3 432.5L562.6 435.6L559.1 438.9L557.9 441.9L560.2 445.4L559.1 452.4L556.7 458.3L553.2 462.9L555.6 466.4L560.2 464.1L562.6 473.5L562.6 485.2L561.4 496.9L560.2 508.5L562.6 517.9L569.6 523.7L576.6 527.3L577.8 531.9L571.9 536.6L564.9 541.3L557.9 546.0L548.5 549.5L539.2 550.6L532.2 548.3L527.5 543.6L522.8 536.6L518.1 533.1L513.5 536.6L508.8 541.3L501.8 543.2L494.8 542.5L485.4 540.1L476.0 536.1L466.7 531.9L458.3 522.1L455.0 508.5L455.5 496.9Z" fill="#000" />
<path d="M562.6 438.4L569.6 436.0L576.6 437.2L581.3 443.1L584.8 452.4L583.6 461.8L578.9 465.3L574.3 461.8L569.6 459.4L567.3 454.8L564.9 447.7Z" fill="#000" />
<path d="M453.1 437.7L460.0 439.3L466.3 438.5L470.2 438.1L468.2 440.7L463.9 442.4L460.0 443.6L456.1 440.7Z" fill="#000" />
<path d="M454.1 447.1L462.9 445.6L463.9 448.5L460.0 452.0L455.1 451.4Z" fill="#000" />
<path d="M453.1 451.0L461.9 451.0L459.0 454.9L455.1 457.8L453.1 456.5Z" fill="#000" />
<path d="M430.6 487.2L434.6 483.3L439.5 479.4L443.4 476.4L442.4 482.3L441.4 488.2L440.0 494.0L439.5 498.9L437.5 497.9L435.5 492.1L431.6 490.1Z" fill="#000" />
<path d="M592.0 417.2L596.9 416.8L604.7 419.7L609.0 422.1L606.7 423.8L600.8 423.3L594.9 422.1L592.0 420.1Z" fill="#000" />
<path d="M622.3 433.4L625.3 434.4L630.2 440.3L633.5 447.5L632.1 448.7L628.2 444.0L623.3 438.9L621.6 435.8Z" fill="#000" />
<path d="M648.4 461.4L650.7 462.3L657.9 472.5L656.8 474.9L650.3 467.0Z" fill="#000" />
<path d="M656.2 500.3L660.5 494.0L666.7 490.7L667.7 492.1L661.8 497.2L657.9 502.3Z" fill="#000" />
<path d="M456.1 594.9L459.0 594.3L463.9 596.5L467.0 598.8L463.9 600.4L459.6 598.8Z" fill="#000" />
<path d="M456.4 594.5L460.3 594.9L464.8 597.3L466.6 599.6L462.0 599.6L457.5 597.0Z" fill="#000" />
<path d="M566.1 485.2L571.9 478.1L578.9 473.5L586.0 471.1L593.0 473.5L597.7 478.1L600.0 485.2L600.0 503.9L595.3 508.5L588.3 513.2L581.3 515.6L574.3 515.6L569.6 510.9L566.1 501.5Z" fill="#000" />
<path d="M579.3 470.6L587.1 471.1L590.3 476.4L582.8 477.8Z" fill="#000" />
<path d="M564.9 506.2L571.9 513.2L581.3 515.6L587.1 519.1L581.3 523.0L571.9 525.4L566.1 521.4L564.4 513.2Z" fill="#000" />
<path d="M564.6 507.7L573.4 509.7L581.3 511.6L587.1 513.6L585.2 518.5L579.3 521.4L567.6 522.0L564.6 517.5Z" fill="#000" />
<path d="M615.5 458.8L622.3 457.8L628.2 460.8L632.1 466.6L634.1 474.5L639.9 482.3L643.9 486.2L644.8 494.0L642.9 501.9L638.0 507.7L632.1 510.7L624.3 510.7L616.5 508.7L610.6 504.8L607.7 497.9L606.7 490.1L608.6 482.3L612.6 476.4L604.7 478.4L599.3 480.3L600.8 477.4L606.7 474.5L612.6 470.6L614.5 464.7Z" fill="#000" />
<path d="M599.3 456.9L604.7 455.3L611.0 455.9L612.9 462.7L609.0 470.6L603.2 471.7L600.0 468.6L598.9 462.7Z" fill="#000" />
<path d="M592.2 451.0L599.3 451.0L600.0 454.9L598.5 458.8L597.3 462.7L596.9 466.3L598.5 469.0L600.8 470.2L600.0 472.5L594.9 471.3L592.2 467.0L592.6 460.8L594.2 455.9L592.6 453.0Z" fill="#000" />
<path d="M605.9 432.3L614.1 430.9L612.6 435.8L607.9 440.1L602.8 444.0L599.3 448.1L597.7 452.0L593.4 452.0L594.6 446.7L598.5 441.6L603.9 437.3L607.9 434.2Z" fill="#000" />
<path d="M593.0 436.4L599.8 433.4L600.4 434.8L593.8 437.7Z" fill="#000" />
<path d="M426.1 516.9L430.5 517.8L435.8 519.5L438.4 523.0L437.5 528.3L442.8 531.8L449.8 537.0L455.0 541.4L462.0 544.1L469.1 547.6L474.3 552.8L476.9 559.8L474.3 563.3L469.1 565.1L463.8 566.8L458.5 570.3L455.9 576.5L453.3 573.8L449.8 572.1L444.5 572.1L440.1 570.3L439.3 567.7L444.5 566.8L448.9 563.3L449.8 559.8L446.3 556.3L441.0 551.1L435.8 547.6L431.4 544.1L430.5 541.4L435.8 541.4L439.3 539.7L435.8 535.3L432.3 531.8L429.6 526.5L427.0 521.3Z" fill="#000" />
<path d="M469.1 576.5L472.6 572.1L476.1 571.2L478.9 572.1L472.6 575.9L470.1 577.7Z" fill="#000" />
<path d="M471.7 590.5L476.1 587.9L480.4 583.5L482.4 582.6L484.8 586.1L481.3 587.2L476.1 590.0L472.6 591.7Z" fill="#000" />
<path d="M471.7 591.0L479.6 591.0L478.6 593.0L472.7 593.0Z" fill="#000" />
<path d="M487.4 591.0L499.1 591.0L497.2 593.9L489.3 593.9Z" fill="#000" />
<path d="M586.3 525.5L595.0 521.1L603.8 519.4L612.6 520.3L621.3 522.0L630.1 521.1L638.8 522.0L645.8 525.5L649.3 530.8L652.9 537.8L656.4 543.0L660.7 550.0L663.4 557.0L663.4 562.3L659.9 567.6L654.6 572.8L649.3 578.1L644.1 581.6L640.6 586.8L637.1 590.3L630.1 593.8L623.1 595.6L616.1 595.6L609.1 593.8L603.8 592.1L600.3 590.3L605.6 585.1L612.6 583.3L619.6 581.2L624.8 578.4L627.4 573.7L625.2 569.0L618.7 566.2L612.2 565.5L606.6 566.5L603.4 569.3L601.7 571.9L598.5 573.7L595.0 573.7L591.5 571.1L586.3 567.6L581.0 565.8L576.6 567.6L574.0 565.8L570.5 562.3L567.0 558.8L570.5 555.3L575.8 550.0L577.5 543.0L579.3 537.8L582.8 530.8Z" fill="#000" />
<path d="M588.0 585.1L593.3 584.0L594.3 586.8L588.9 587.2Z" fill="#000" />
<path d="M643.2 592.1L649.0 585.8L651.1 586.8L645.8 594.2Z" fill="#000" />
<path d="M652.9 527.3L659.9 525.5L666.9 522.9L665.5 525.5L659.9 529.0L654.6 529.4Z" fill="#000" />
<path d="M593.0 596.9L598.9 594.9L606.7 595.9L602.8 598.8L599.3 600.8L606.7 601.8L614.5 603.7L622.3 607.6L626.2 612.5L624.3 618.4L616.5 623.3L610.6 627.2L602.8 630.1L596.9 632.1L591.0 630.1L587.1 625.2L586.1 619.4L589.1 614.5L590.1 608.6L591.0 602.7Z" fill="#000" />
<path d="M594.9 591.0L645.8 591.0L647.8 593.0L641.9 594.9L630.2 596.9L622.3 597.8L614.5 596.9L606.7 594.9L598.9 593.9L594.0 594.9Z" fill="#000" />
<path d="M477.6 605.7L481.5 603.7L485.4 604.7L489.3 606.6L493.2 608.6L497.2 606.6L503.0 605.7L508.9 607.6L512.8 610.6L516.7 613.5L524.5 614.5L532.4 615.5L540.2 614.5L549.0 613.5L549.0 645.8L542.2 646.8L532.4 648.7L528.5 650.7L526.5 649.7L522.6 643.8L516.7 638.9L508.9 635.0L501.1 631.1L495.2 627.2L492.3 622.3L489.3 616.4L485.4 612.5L481.5 610.6L477.6 608.6Z" fill="#000" />
<path d="M548.0 617.4L555.8 615.5L563.6 616.4L571.5 617.4L577.7 618.4L571.5 624.3L567.6 630.1L565.6 637.0L561.7 636.0L557.8 638.9L551.9 641.9L548.0 643.8Z" fill="#000" />
<path d="M483.0 556.4L489.3 551.5L497.1 546.7L505.0 543.5L511.3 541.9L516.0 543.5L514.4 549.9L511.3 556.4L508.1 561.2L503.4 566.0L498.7 570.8L494.0 572.4L489.3 569.2L484.6 564.4Z" fill="#000" />
<path d="M516.0 556.4L520.7 553.2L525.4 554.8L530.1 558.0L534.8 560.4L533.3 566.0L528.6 570.8L523.8 574.0L520.7 578.8L519.1 583.7L517.6 586.9L514.4 585.3L516.0 578.8L517.6 570.8L516.8 562.8Z" fill="#000" />
<path d="M486.2 590.1L492.4 586.9L498.7 585.3L501.9 580.5L505.0 575.6L509.7 572.4L514.4 570.8L517.6 574.0L518.3 580.5L516.8 586.9L514.4 593.3L511.3 595.7L508.1 594.1L505.0 590.1L500.3 590.1L494.0 591.7L489.3 593.3L486.9 592.5Z" fill="#000" />
<path d="M549.0 562.8L553.7 559.6L558.4 562.8L561.5 569.2L566.2 568.4L570.9 570.8L574.1 577.2L575.7 585.3L575.7 593.3L572.5 601.3L567.8 606.1L561.5 607.8L556.8 606.1L552.1 601.3L552.1 594.9L549.7 586.9L548.2 578.8L547.4 570.8Z" fill="#000" />
<path d="M536.4 561.2L541.1 559.6L545.8 561.2L547.4 567.6L549.0 575.6L550.5 583.7L552.1 590.1L553.7 596.5L552.1 602.9L547.4 606.1L539.5 607.0L531.7 604.5L525.4 601.3L520.7 598.1L519.1 593.3L522.3 588.5L527.0 583.7L531.7 577.2L536.4 570.8L538.0 566.0Z" fill="#000" />
</clipPath><g clip-path="url(#clipe)">
<path d="M425.0 515.3L436.7 519.6L441.0 528.4L449.6 537.2L462.4 543.7L471.0 550.3L466.7 553.6L456.0 550.7L445.3 547.7L434.6 542.0L431.4 532.8L428.2 524.0Z" fill="url(#p_eArmTop)" />
</g>
<path d="M488.5 462.8L492.9 466.3L497.3 472.7L495.8 482.1L491.1 489.8L486.7 494.9L492.9 500.5L498.4 502.9L500.0 499.7L495.3 494.9L500.0 486.9L502.7 478.8L501.6 470.8L496.1 464.4Z" fill="#fff" />
<path d="M558.5 442.8L560.4 443.8L556.6 456.1L550.9 469.5L545.2 480.9L541.4 492.3L539.5 503.7L536.6 511.3L534.7 510.9L536.6 501.8L538.5 490.4L542.3 479.0L548.0 467.6L553.8 456.1Z" fill="#fff" />
<path d="M556.6 453.3L565.2 451.4L564.2 461.8L563.3 477.1L563.6 492.3L562.3 505.6L561.0 518.9L559.1 519.3L559.8 505.6L560.4 492.3L559.8 477.1L559.1 463.8Z" fill="#fff" />
<path d="M612.6 560.9L621.3 558.4L634.5 560.2L635.0 561.6L621.7 560.2L613.1 562.3Z" fill="#fff" />
<path d="M628.3 567.6L635.3 564.9L642.3 567.6L642.0 568.6L635.3 566.5L628.9 568.8Z" fill="#fff" />
</g>
<rect x="414.5" y="382.0" width="264.50" height="280.40" fill="none" stroke="#333" stroke-width="1.1"/>
<line x1="423.55" y1="662.4" x2="423.55" y2="665.1999999999999" stroke="#333" stroke-width="0.9"/>
<text x="423.55" y="673.4" font-size="7.6" fill="#4D4D4D" text-anchor="middle">-30</text>
<line x1="465.20" y1="662.4" x2="465.20" y2="665.1999999999999" stroke="#333" stroke-width="0.9"/>
<text x="465.20" y="673.4" font-size="7.6" fill="#4D4D4D" text-anchor="middle">-20</text>
<line x1="506.85" y1="662.4" x2="506.85" y2="665.1999999999999" stroke="#333" stroke-width="0.9"/>
<text x="506.85" y="673.4" font-size="7.6" fill="#4D4D4D" text-anchor="middle">-10</text>
<line x1="548.50" y1="662.4" x2="548.50" y2="665.1999999999999" stroke="#333" stroke-width="0.9"/>
<text x="548.50" y="673.4" font-size="7.6" fill="#4D4D4D" text-anchor="middle">0</text>
<line x1="590.15" y1="662.4" x2="590.15" y2="665.1999999999999" stroke="#333" stroke-width="0.9"/>
<text x="590.15" y="673.4" font-size="7.6" fill="#4D4D4D" text-anchor="middle">10</text>
<line x1="631.80" y1="662.4" x2="631.80" y2="665.1999999999999" stroke="#333" stroke-width="0.9"/>
<text x="631.80" y="673.4" font-size="7.6" fill="#4D4D4D" text-anchor="middle">20</text>
<line x1="673.45" y1="662.4" x2="673.45" y2="665.1999999999999" stroke="#333" stroke-width="0.9"/>
<text x="673.45" y="673.4" font-size="7.6" fill="#4D4D4D" text-anchor="middle">30</text>
<line x1="411.7" y1="608.80" x2="414.5" y2="608.80" stroke="#333" stroke-width="0.9"/>
<text x="409.90" y="611.50" font-size="7.6" fill="#4D4D4D" text-anchor="end">-20</text>
<line x1="411.7" y1="526.20" x2="414.5" y2="526.20" stroke="#333" stroke-width="0.9"/>
<text x="409.90" y="528.90" font-size="7.6" fill="#4D4D4D" text-anchor="end">0</text>
<line x1="411.7" y1="443.60" x2="414.5" y2="443.60" stroke="#333" stroke-width="0.9"/>
<text x="409.90" y="446.30" font-size="7.6" fill="#4D4D4D" text-anchor="end">20</text>
<text x="546.8" y="683.9" font-size="9.2" fill="#000" text-anchor="middle">t-SNE1</text>
<text transform="translate(396.3,522.2) rotate(-90)" font-size="9.2" fill="#000" text-anchor="middle">t-SNE2</text>
<text x="392.9" y="391.3" font-size="10.5" font-weight="bold" fill="#000">e</text>
<circle cx="426.5" cy="394.3" r="1.5" fill="#F8766D" fill-opacity="0.6"/>
<text x="438.6" y="397.5" font-size="8.8" fill="#000">Neg</text>
<circle cx="426.5" cy="407.8" r="1.5" fill="#00BA38" fill-opacity="0.6"/>
<text x="438.6" y="410.9" font-size="8.8" fill="#000">Pos</text>
<circle cx="426.5" cy="421.2" r="1.5" fill="#619CFF" fill-opacity="0.6"/>
<text x="438.6" y="424.4" font-size="8.8" fill="#000">Fungi</text>
</svg></body></html>
